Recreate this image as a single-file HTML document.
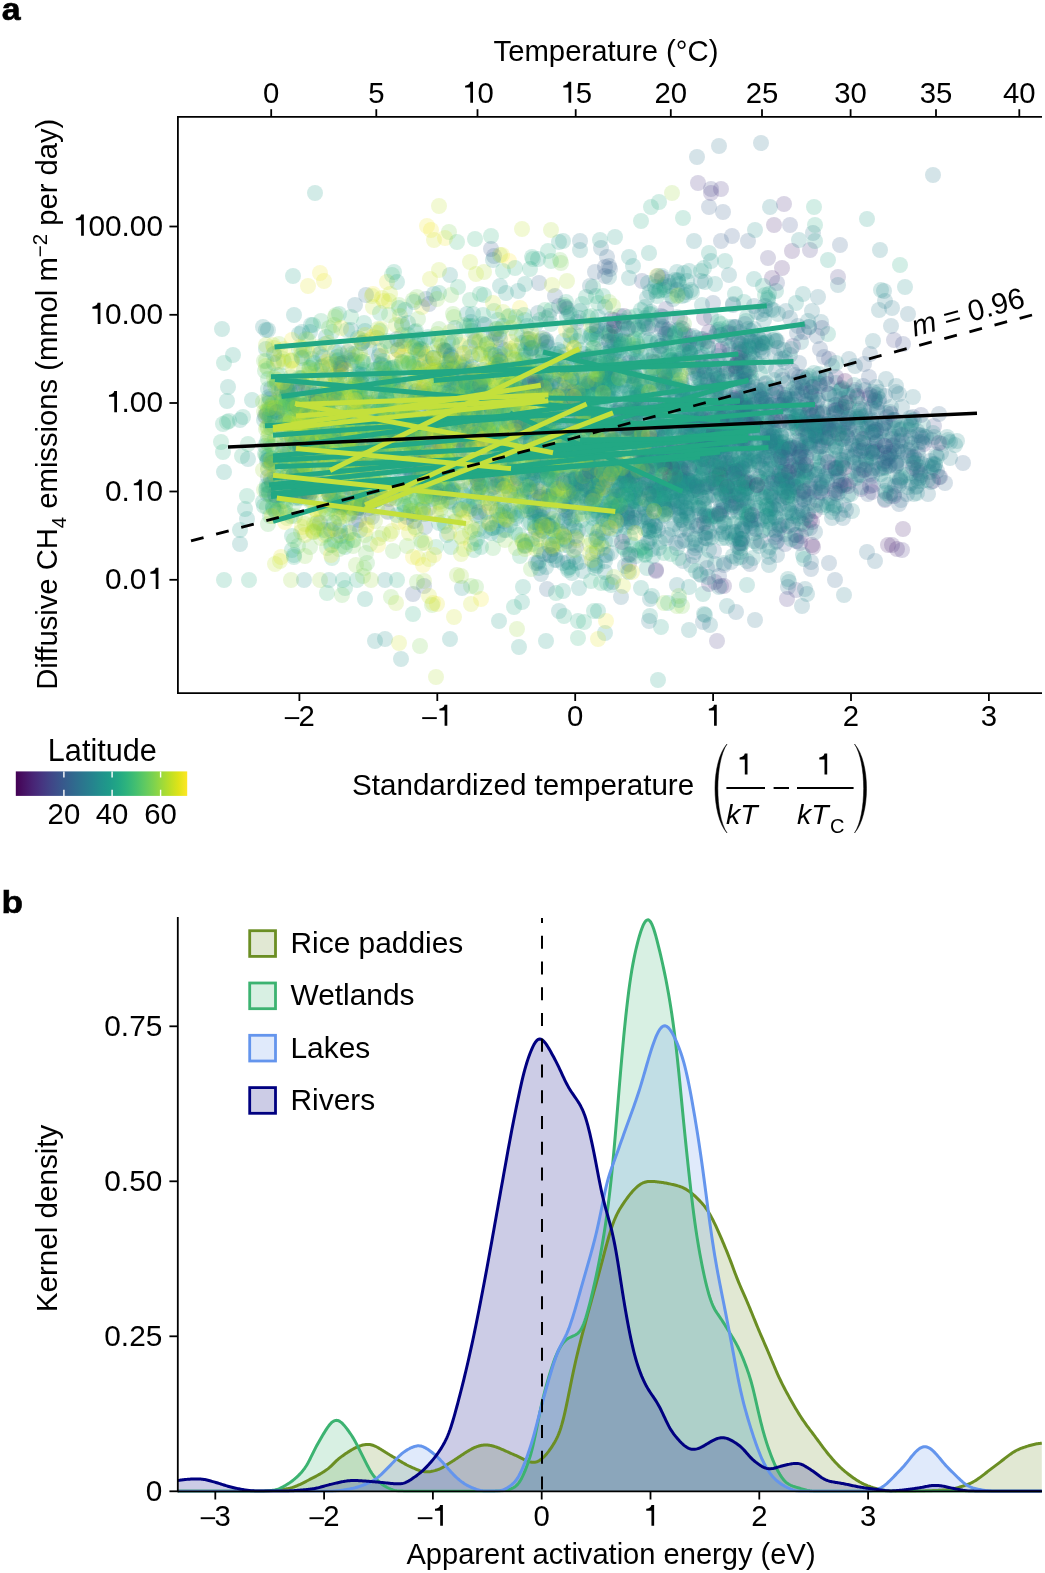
<!DOCTYPE html>
<html><head><meta charset="utf-8"><style>
html,body{margin:0;padding:0;background:#fff;}
body{width:1045px;height:1573px;position:relative;overflow:hidden;}
circle{r:8px;}
</style></head><body>
<svg width="1045" height="1573" viewBox="0 0 1045 1573" style="position:absolute;left:0;top:0;will-change:transform"><g font-family='"Liberation Sans", sans-serif' fill="#000"><text x="1.62" y="19.5" font-size="32" font-weight="bold" stroke="#000" stroke-width="0.6" transform="scale(1.06,1)">a</text><text x="1.3" y="912.8" font-size="32" font-weight="bold" stroke="#000" stroke-width="0.6" transform="scale(1.10,1)">b</text></g><defs><clipPath id="ca"><rect x="177.9" y="116.8" width="867.1" height="576.4000000000001"/></clipPath></defs><g clip-path="url(#ca)"><g fill-opacity="0.2"><g fill="#471365"><circle cx="812" cy="545" r="8"/></g><g fill="#481c6e"><circle cx="687" cy="453" r="8"/><circle cx="823" cy="414" r="8"/><circle cx="680" cy="468" r="8"/><circle cx="656" cy="403" r="8"/><circle cx="685" cy="334" r="8"/></g><g fill="#482475"><circle cx="844" cy="485" r="8"/><circle cx="801" cy="536" r="8"/><circle cx="840" cy="486" r="8"/><circle cx="815" cy="511" r="8"/></g><g fill="#463480"><circle cx="646" cy="454" r="8"/><circle cx="698" cy="183" r="8"/></g><g fill="#443b84"><circle cx="838" cy="277" r="8"/><circle cx="768" cy="258" r="8"/><circle cx="803" cy="524" r="8"/></g><g fill="#414487"><circle cx="733" cy="465" r="8"/><circle cx="803" cy="492" r="8"/></g><g fill="#3e4a89"><circle cx="684" cy="421" r="8"/><circle cx="780" cy="472" r="8"/><circle cx="934" cy="426" r="8"/></g><g fill="#3b528b"><circle cx="759" cy="477" r="8"/><circle cx="756" cy="529" r="8"/><circle cx="690" cy="424" r="8"/><circle cx="751" cy="391" r="8"/></g><g fill="#38598c"><circle cx="758" cy="462" r="8"/><circle cx="773" cy="395" r="8"/><circle cx="774" cy="462" r="8"/><circle cx="710" cy="424" r="8"/><circle cx="362" cy="343" r="8"/></g><g fill="#355f8d"><circle cx="782" cy="442" r="8"/><circle cx="713" cy="303" r="8"/><circle cx="680" cy="438" r="8"/><circle cx="445" cy="436" r="8"/><circle cx="884" cy="453" r="8"/><circle cx="745" cy="399" r="8"/><circle cx="784" cy="403" r="8"/><circle cx="340" cy="366" r="8"/><circle cx="652" cy="520" r="8"/><circle cx="779" cy="525" r="8"/><circle cx="723" cy="436" r="8"/><circle cx="826" cy="424" r="8"/><circle cx="517" cy="489" r="8"/><circle cx="612" cy="441" r="8"/><circle cx="367" cy="499" r="8"/><circle cx="490" cy="451" r="8"/><circle cx="541" cy="488" r="8"/><circle cx="683" cy="472" r="8"/></g><g fill="#31668e"><circle cx="642" cy="488" r="8"/><circle cx="779" cy="405" r="8"/><circle cx="312" cy="491" r="8"/><circle cx="652" cy="325" r="8"/><circle cx="597" cy="332" r="8"/><circle cx="581" cy="484" r="8"/><circle cx="572" cy="520" r="8"/><circle cx="356" cy="524" r="8"/><circle cx="701" cy="357" r="8"/><circle cx="876" cy="430" r="8"/><circle cx="586" cy="484" r="8"/><circle cx="849" cy="415" r="8"/><circle cx="432" cy="373" r="8"/><circle cx="705" cy="498" r="8"/><circle cx="892" cy="439" r="8"/><circle cx="768" cy="442" r="8"/><circle cx="870" cy="354" r="8"/><circle cx="578" cy="531" r="8"/></g><g fill="#2f6c8e"><circle cx="472" cy="428" r="8"/><circle cx="405" cy="473" r="8"/><circle cx="725" cy="388" r="8"/><circle cx="794" cy="468" r="8"/><circle cx="810" cy="480" r="8"/><circle cx="711" cy="359" r="8"/><circle cx="736" cy="612" r="8"/><circle cx="901" cy="500" r="8"/><circle cx="778" cy="348" r="8"/><circle cx="644" cy="514" r="8"/><circle cx="740" cy="552" r="8"/><circle cx="564" cy="407" r="8"/><circle cx="907" cy="441" r="8"/><circle cx="519" cy="390" r="8"/><circle cx="557" cy="474" r="8"/><circle cx="806" cy="435" r="8"/><circle cx="676" cy="543" r="8"/><circle cx="847" cy="423" r="8"/><circle cx="402" cy="389" r="8"/><circle cx="744" cy="461" r="8"/><circle cx="738" cy="473" r="8"/><circle cx="788" cy="587" r="8"/><circle cx="746" cy="490" r="8"/><circle cx="739" cy="507" r="8"/><circle cx="702" cy="484" r="8"/></g><g fill="#2c728e"><circle cx="720" cy="513" r="8"/><circle cx="409" cy="433" r="8"/><circle cx="795" cy="375" r="8"/><circle cx="553" cy="464" r="8"/><circle cx="746" cy="438" r="8"/><circle cx="544" cy="466" r="8"/><circle cx="683" cy="561" r="8"/><circle cx="568" cy="406" r="8"/><circle cx="611" cy="337" r="8"/><circle cx="270" cy="399" r="8"/><circle cx="700" cy="392" r="8"/><circle cx="554" cy="489" r="8"/><circle cx="563" cy="506" r="8"/><circle cx="911" cy="456" r="8"/><circle cx="693" cy="490" r="8"/><circle cx="665" cy="494" r="8"/><circle cx="740" cy="399" r="8"/><circle cx="918" cy="454" r="8"/><circle cx="601" cy="417" r="8"/><circle cx="765" cy="403" r="8"/><circle cx="803" cy="408" r="8"/></g><g fill="#2a788e"><circle cx="830" cy="498" r="8"/><circle cx="762" cy="398" r="8"/><circle cx="758" cy="364" r="8"/><circle cx="890" cy="412" r="8"/><circle cx="797" cy="416" r="8"/><circle cx="895" cy="420" r="8"/><circle cx="611" cy="319" r="8"/><circle cx="872" cy="423" r="8"/><circle cx="797" cy="512" r="8"/><circle cx="614" cy="442" r="8"/><circle cx="741" cy="344" r="8"/><circle cx="855" cy="366" r="8"/><circle cx="725" cy="402" r="8"/><circle cx="752" cy="354" r="8"/><circle cx="644" cy="507" r="8"/><circle cx="775" cy="355" r="8"/><circle cx="323" cy="455" r="8"/><circle cx="775" cy="389" r="8"/><circle cx="745" cy="526" r="8"/><circle cx="885" cy="491" r="8"/><circle cx="376" cy="500" r="8"/></g><g fill="#277e8e"><circle cx="800" cy="420" r="8"/><circle cx="796" cy="424" r="8"/><circle cx="617" cy="469" r="8"/><circle cx="875" cy="401" r="8"/><circle cx="530" cy="490" r="8"/><circle cx="897" cy="449" r="8"/><circle cx="792" cy="418" r="8"/><circle cx="615" cy="430" r="8"/><circle cx="738" cy="404" r="8"/><circle cx="752" cy="420" r="8"/><circle cx="921" cy="471" r="8"/><circle cx="875" cy="400" r="8"/><circle cx="718" cy="430" r="8"/><circle cx="784" cy="491" r="8"/><circle cx="817" cy="423" r="8"/><circle cx="564" cy="521" r="8"/><circle cx="728" cy="497" r="8"/><circle cx="733" cy="400" r="8"/><circle cx="279" cy="410" r="8"/><circle cx="780" cy="476" r="8"/><circle cx="721" cy="397" r="8"/><circle cx="842" cy="439" r="8"/><circle cx="655" cy="486" r="8"/><circle cx="799" cy="454" r="8"/><circle cx="825" cy="425" r="8"/><circle cx="617" cy="526" r="8"/><circle cx="776" cy="501" r="8"/><circle cx="808" cy="512" r="8"/><circle cx="733" cy="503" r="8"/><circle cx="733" cy="540" r="8"/><circle cx="736" cy="400" r="8"/><circle cx="407" cy="399" r="8"/></g><g fill="#25848e"><circle cx="928" cy="466" r="8"/><circle cx="889" cy="454" r="8"/><circle cx="768" cy="479" r="8"/><circle cx="553" cy="549" r="8"/><circle cx="573" cy="491" r="8"/><circle cx="588" cy="426" r="8"/><circle cx="710" cy="625" r="8"/><circle cx="725" cy="459" r="8"/><circle cx="610" cy="463" r="8"/><circle cx="827" cy="393" r="8"/><circle cx="656" cy="281" r="8"/><circle cx="586" cy="464" r="8"/><circle cx="808" cy="414" r="8"/><circle cx="821" cy="440" r="8"/><circle cx="847" cy="393" r="8"/><circle cx="738" cy="414" r="8"/><circle cx="712" cy="432" r="8"/><circle cx="718" cy="378" r="8"/><circle cx="855" cy="463" r="8"/><circle cx="658" cy="463" r="8"/><circle cx="932" cy="467" r="8"/><circle cx="705" cy="533" r="8"/><circle cx="694" cy="241" r="8"/><circle cx="745" cy="483" r="8"/><circle cx="569" cy="546" r="8"/><circle cx="731" cy="504" r="8"/><circle cx="854" cy="392" r="8"/><circle cx="716" cy="479" r="8"/><circle cx="674" cy="501" r="8"/><circle cx="773" cy="310" r="8"/><circle cx="806" cy="476" r="8"/><circle cx="809" cy="327" r="8"/></g><g fill="#238a8d"><circle cx="613" cy="333" r="8"/><circle cx="841" cy="404" r="8"/><circle cx="655" cy="439" r="8"/><circle cx="443" cy="373" r="8"/><circle cx="877" cy="442" r="8"/><circle cx="778" cy="460" r="8"/><circle cx="758" cy="432" r="8"/><circle cx="767" cy="422" r="8"/><circle cx="754" cy="482" r="8"/><circle cx="647" cy="437" r="8"/><circle cx="657" cy="444" r="8"/><circle cx="708" cy="395" r="8"/><circle cx="688" cy="396" r="8"/><circle cx="392" cy="368" r="8"/><circle cx="704" cy="504" r="8"/><circle cx="663" cy="454" r="8"/><circle cx="467" cy="435" r="8"/><circle cx="728" cy="446" r="8"/><circle cx="709" cy="516" r="8"/><circle cx="860" cy="460" r="8"/><circle cx="793" cy="516" r="8"/><circle cx="781" cy="359" r="8"/><circle cx="641" cy="432" r="8"/><circle cx="747" cy="423" r="8"/><circle cx="575" cy="488" r="8"/><circle cx="711" cy="317" r="8"/><circle cx="763" cy="390" r="8"/><circle cx="491" cy="465" r="8"/><circle cx="502" cy="402" r="8"/><circle cx="857" cy="417" r="8"/><circle cx="613" cy="342" r="8"/><circle cx="723" cy="415" r="8"/><circle cx="760" cy="432" r="8"/><circle cx="732" cy="472" r="8"/><circle cx="688" cy="457" r="8"/><circle cx="690" cy="435" r="8"/><circle cx="687" cy="508" r="8"/><circle cx="471" cy="487" r="8"/><circle cx="490" cy="469" r="8"/><circle cx="567" cy="421" r="8"/><circle cx="815" cy="505" r="8"/><circle cx="605" cy="541" r="8"/><circle cx="721" cy="335" r="8"/><circle cx="853" cy="457" r="8"/><circle cx="735" cy="423" r="8"/><circle cx="605" cy="572" r="8"/><circle cx="836" cy="383" r="8"/><circle cx="530" cy="492" r="8"/><circle cx="639" cy="452" r="8"/><circle cx="596" cy="435" r="8"/><circle cx="939" cy="477" r="8"/><circle cx="738" cy="428" r="8"/><circle cx="744" cy="489" r="8"/><circle cx="632" cy="501" r="8"/></g><g fill="#21918c"><circle cx="706" cy="487" r="8"/><circle cx="711" cy="461" r="8"/><circle cx="663" cy="461" r="8"/><circle cx="542" cy="495" r="8"/><circle cx="774" cy="498" r="8"/><circle cx="765" cy="443" r="8"/><circle cx="707" cy="385" r="8"/><circle cx="620" cy="475" r="8"/><circle cx="641" cy="402" r="8"/><circle cx="549" cy="496" r="8"/><circle cx="538" cy="499" r="8"/><circle cx="615" cy="385" r="8"/><circle cx="832" cy="366" r="8"/><circle cx="767" cy="505" r="8"/><circle cx="550" cy="512" r="8"/><circle cx="673" cy="494" r="8"/><circle cx="665" cy="507" r="8"/><circle cx="672" cy="529" r="8"/><circle cx="767" cy="483" r="8"/><circle cx="661" cy="346" r="8"/><circle cx="381" cy="378" r="8"/><circle cx="495" cy="468" r="8"/><circle cx="543" cy="357" r="8"/><circle cx="691" cy="290" r="8"/><circle cx="422" cy="436" r="8"/><circle cx="724" cy="427" r="8"/><circle cx="902" cy="441" r="8"/><circle cx="385" cy="639" r="8"/><circle cx="599" cy="380" r="8"/><circle cx="321" cy="454" r="8"/><circle cx="785" cy="534" r="8"/><circle cx="695" cy="440" r="8"/><circle cx="786" cy="450" r="8"/><circle cx="746" cy="406" r="8"/><circle cx="713" cy="435" r="8"/><circle cx="702" cy="474" r="8"/><circle cx="483" cy="379" r="8"/><circle cx="600" cy="396" r="8"/><circle cx="788" cy="459" r="8"/><circle cx="468" cy="411" r="8"/><circle cx="448" cy="489" r="8"/><circle cx="843" cy="439" r="8"/><circle cx="732" cy="460" r="8"/><circle cx="597" cy="339" r="8"/><circle cx="533" cy="454" r="8"/><circle cx="508" cy="366" r="8"/><circle cx="799" cy="464" r="8"/><circle cx="559" cy="611" r="8"/><circle cx="730" cy="463" r="8"/><circle cx="705" cy="615" r="8"/><circle cx="814" cy="470" r="8"/><circle cx="803" cy="387" r="8"/><circle cx="798" cy="395" r="8"/><circle cx="492" cy="528" r="8"/><circle cx="821" cy="466" r="8"/><circle cx="555" cy="456" r="8"/><circle cx="724" cy="563" r="8"/><circle cx="549" cy="392" r="8"/><circle cx="593" cy="554" r="8"/><circle cx="842" cy="389" r="8"/><circle cx="727" cy="496" r="8"/><circle cx="737" cy="403" r="8"/><circle cx="324" cy="450" r="8"/><circle cx="729" cy="533" r="8"/><circle cx="755" cy="456" r="8"/></g><g fill="#1f968b"><circle cx="850" cy="481" r="8"/><circle cx="328" cy="454" r="8"/><circle cx="553" cy="544" r="8"/><circle cx="295" cy="408" r="8"/><circle cx="463" cy="384" r="8"/><circle cx="491" cy="412" r="8"/><circle cx="449" cy="409" r="8"/><circle cx="556" cy="489" r="8"/><circle cx="495" cy="425" r="8"/><circle cx="685" cy="428" r="8"/><circle cx="605" cy="633" r="8"/><circle cx="744" cy="500" r="8"/><circle cx="606" cy="494" r="8"/><circle cx="407" cy="442" r="8"/><circle cx="280" cy="459" r="8"/><circle cx="809" cy="376" r="8"/><circle cx="495" cy="455" r="8"/><circle cx="571" cy="489" r="8"/><circle cx="613" cy="473" r="8"/><circle cx="680" cy="479" r="8"/><circle cx="732" cy="430" r="8"/><circle cx="650" cy="398" r="8"/><circle cx="776" cy="518" r="8"/><circle cx="746" cy="445" r="8"/><circle cx="723" cy="423" r="8"/><circle cx="377" cy="499" r="8"/><circle cx="573" cy="491" r="8"/><circle cx="756" cy="486" r="8"/><circle cx="731" cy="471" r="8"/><circle cx="483" cy="324" r="8"/><circle cx="804" cy="472" r="8"/><circle cx="802" cy="422" r="8"/><circle cx="469" cy="381" r="8"/><circle cx="724" cy="368" r="8"/><circle cx="586" cy="445" r="8"/><circle cx="637" cy="440" r="8"/><circle cx="776" cy="425" r="8"/><circle cx="714" cy="436" r="8"/><circle cx="759" cy="394" r="8"/><circle cx="446" cy="462" r="8"/><circle cx="781" cy="480" r="8"/><circle cx="470" cy="509" r="8"/><circle cx="743" cy="468" r="8"/><circle cx="563" cy="444" r="8"/><circle cx="737" cy="558" r="8"/><circle cx="746" cy="512" r="8"/><circle cx="528" cy="381" r="8"/><circle cx="511" cy="472" r="8"/><circle cx="663" cy="503" r="8"/><circle cx="620" cy="316" r="8"/><circle cx="693" cy="425" r="8"/><circle cx="912" cy="444" r="8"/><circle cx="914" cy="420" r="8"/><circle cx="743" cy="437" r="8"/><circle cx="335" cy="439" r="8"/><circle cx="792" cy="513" r="8"/><circle cx="464" cy="389" r="8"/><circle cx="596" cy="510" r="8"/><circle cx="747" cy="585" r="8"/><circle cx="682" cy="480" r="8"/><circle cx="710" cy="519" r="8"/><circle cx="592" cy="410" r="8"/><circle cx="864" cy="448" r="8"/><circle cx="733" cy="417" r="8"/><circle cx="299" cy="334" r="8"/><circle cx="664" cy="502" r="8"/><circle cx="817" cy="402" r="8"/><circle cx="326" cy="337" r="8"/><circle cx="587" cy="490" r="8"/><circle cx="755" cy="489" r="8"/><circle cx="718" cy="401" r="8"/><circle cx="514" cy="512" r="8"/><circle cx="247" cy="519" r="8"/><circle cx="462" cy="413" r="8"/><circle cx="937" cy="457" r="8"/><circle cx="291" cy="462" r="8"/><circle cx="274" cy="363" r="8"/></g><g fill="#1e9c89"><circle cx="479" cy="529" r="8"/><circle cx="659" cy="490" r="8"/><circle cx="672" cy="360" r="8"/><circle cx="657" cy="416" r="8"/><circle cx="695" cy="465" r="8"/><circle cx="569" cy="387" r="8"/><circle cx="683" cy="389" r="8"/><circle cx="800" cy="455" r="8"/><circle cx="749" cy="461" r="8"/><circle cx="707" cy="513" r="8"/><circle cx="657" cy="416" r="8"/><circle cx="665" cy="427" r="8"/><circle cx="675" cy="390" r="8"/><circle cx="803" cy="480" r="8"/><circle cx="626" cy="478" r="8"/><circle cx="548" cy="424" r="8"/><circle cx="635" cy="472" r="8"/><circle cx="706" cy="421" r="8"/><circle cx="679" cy="359" r="8"/><circle cx="652" cy="447" r="8"/><circle cx="752" cy="444" r="8"/><circle cx="335" cy="376" r="8"/><circle cx="602" cy="483" r="8"/><circle cx="424" cy="387" r="8"/><circle cx="584" cy="507" r="8"/><circle cx="569" cy="406" r="8"/><circle cx="694" cy="486" r="8"/><circle cx="603" cy="454" r="8"/><circle cx="674" cy="446" r="8"/><circle cx="792" cy="497" r="8"/><circle cx="658" cy="498" r="8"/><circle cx="339" cy="469" r="8"/><circle cx="570" cy="325" r="8"/><circle cx="590" cy="492" r="8"/><circle cx="760" cy="373" r="8"/><circle cx="651" cy="538" r="8"/><circle cx="769" cy="477" r="8"/><circle cx="517" cy="351" r="8"/><circle cx="641" cy="354" r="8"/><circle cx="347" cy="453" r="8"/><circle cx="616" cy="411" r="8"/><circle cx="672" cy="502" r="8"/><circle cx="308" cy="457" r="8"/><circle cx="569" cy="498" r="8"/><circle cx="760" cy="340" r="8"/><circle cx="722" cy="427" r="8"/><circle cx="734" cy="479" r="8"/><circle cx="466" cy="418" r="8"/><circle cx="539" cy="437" r="8"/><circle cx="651" cy="436" r="8"/><circle cx="228" cy="387" r="8"/><circle cx="692" cy="497" r="8"/><circle cx="353" cy="406" r="8"/><circle cx="606" cy="492" r="8"/><circle cx="736" cy="465" r="8"/><circle cx="622" cy="519" r="8"/><circle cx="557" cy="492" r="8"/><circle cx="737" cy="470" r="8"/><circle cx="644" cy="406" r="8"/><circle cx="784" cy="487" r="8"/></g><g fill="#1fa287"><circle cx="491" cy="503" r="8"/><circle cx="499" cy="425" r="8"/><circle cx="661" cy="627" r="8"/><circle cx="424" cy="393" r="8"/><circle cx="549" cy="421" r="8"/><circle cx="579" cy="483" r="8"/><circle cx="635" cy="433" r="8"/><circle cx="538" cy="563" r="8"/><circle cx="304" cy="448" r="8"/><circle cx="703" cy="339" r="8"/><circle cx="607" cy="497" r="8"/><circle cx="388" cy="435" r="8"/><circle cx="775" cy="339" r="8"/><circle cx="524" cy="432" r="8"/><circle cx="400" cy="437" r="8"/><circle cx="492" cy="391" r="8"/><circle cx="477" cy="479" r="8"/><circle cx="748" cy="519" r="8"/><circle cx="346" cy="507" r="8"/><circle cx="485" cy="531" r="8"/><circle cx="534" cy="370" r="8"/><circle cx="606" cy="440" r="8"/><circle cx="653" cy="496" r="8"/><circle cx="661" cy="351" r="8"/><circle cx="757" cy="421" r="8"/><circle cx="501" cy="411" r="8"/><circle cx="699" cy="455" r="8"/><circle cx="726" cy="494" r="8"/><circle cx="630" cy="475" r="8"/><circle cx="372" cy="429" r="8"/><circle cx="598" cy="386" r="8"/><circle cx="533" cy="429" r="8"/><circle cx="527" cy="542" r="8"/><circle cx="741" cy="400" r="8"/><circle cx="554" cy="378" r="8"/><circle cx="496" cy="496" r="8"/><circle cx="621" cy="439" r="8"/><circle cx="599" cy="421" r="8"/><circle cx="536" cy="324" r="8"/><circle cx="586" cy="406" r="8"/><circle cx="435" cy="376" r="8"/><circle cx="664" cy="401" r="8"/><circle cx="488" cy="432" r="8"/><circle cx="526" cy="432" r="8"/><circle cx="556" cy="470" r="8"/><circle cx="268" cy="469" r="8"/><circle cx="645" cy="529" r="8"/><circle cx="685" cy="456" r="8"/><circle cx="522" cy="602" r="8"/><circle cx="283" cy="419" r="8"/><circle cx="360" cy="493" r="8"/><circle cx="656" cy="436" r="8"/><circle cx="617" cy="381" r="8"/><circle cx="350" cy="393" r="8"/><circle cx="381" cy="449" r="8"/><circle cx="523" cy="396" r="8"/><circle cx="459" cy="440" r="8"/><circle cx="595" cy="565" r="8"/><circle cx="604" cy="390" r="8"/></g><g fill="#22a884"><circle cx="501" cy="392" r="8"/><circle cx="568" cy="457" r="8"/><circle cx="749" cy="377" r="8"/><circle cx="502" cy="452" r="8"/><circle cx="645" cy="555" r="8"/><circle cx="664" cy="459" r="8"/><circle cx="425" cy="493" r="8"/><circle cx="269" cy="417" r="8"/><circle cx="712" cy="457" r="8"/><circle cx="371" cy="414" r="8"/><circle cx="542" cy="435" r="8"/><circle cx="691" cy="503" r="8"/><circle cx="664" cy="456" r="8"/><circle cx="609" cy="511" r="8"/><circle cx="309" cy="439" r="8"/><circle cx="564" cy="405" r="8"/><circle cx="637" cy="358" r="8"/><circle cx="364" cy="341" r="8"/><circle cx="392" cy="381" r="8"/><circle cx="678" cy="465" r="8"/><circle cx="641" cy="221" r="8"/><circle cx="478" cy="491" r="8"/><circle cx="601" cy="374" r="8"/><circle cx="554" cy="354" r="8"/><circle cx="683" cy="350" r="8"/><circle cx="539" cy="449" r="8"/><circle cx="485" cy="375" r="8"/><circle cx="548" cy="412" r="8"/><circle cx="639" cy="330" r="8"/><circle cx="639" cy="510" r="8"/><circle cx="669" cy="343" r="8"/><circle cx="417" cy="499" r="8"/><circle cx="628" cy="438" r="8"/><circle cx="459" cy="474" r="8"/><circle cx="556" cy="455" r="8"/><circle cx="624" cy="411" r="8"/></g><g fill="#28ae80"><circle cx="651" cy="495" r="8"/><circle cx="531" cy="349" r="8"/><circle cx="575" cy="462" r="8"/><circle cx="515" cy="494" r="8"/><circle cx="514" cy="415" r="8"/><circle cx="441" cy="439" r="8"/><circle cx="598" cy="396" r="8"/><circle cx="698" cy="387" r="8"/><circle cx="593" cy="353" r="8"/><circle cx="524" cy="384" r="8"/><circle cx="484" cy="335" r="8"/><circle cx="452" cy="379" r="8"/><circle cx="338" cy="473" r="8"/><circle cx="602" cy="382" r="8"/><circle cx="581" cy="475" r="8"/><circle cx="425" cy="340" r="8"/><circle cx="415" cy="380" r="8"/><circle cx="420" cy="434" r="8"/><circle cx="551" cy="442" r="8"/><circle cx="294" cy="491" r="8"/><circle cx="442" cy="404" r="8"/><circle cx="591" cy="581" r="8"/><circle cx="490" cy="406" r="8"/><circle cx="587" cy="357" r="8"/><circle cx="695" cy="456" r="8"/><circle cx="242" cy="456" r="8"/><circle cx="515" cy="433" r="8"/><circle cx="548" cy="424" r="8"/><circle cx="269" cy="493" r="8"/><circle cx="630" cy="393" r="8"/><circle cx="405" cy="507" r="8"/><circle cx="308" cy="433" r="8"/><circle cx="223" cy="452" r="8"/><circle cx="543" cy="350" r="8"/><circle cx="360" cy="374" r="8"/><circle cx="432" cy="421" r="8"/><circle cx="334" cy="497" r="8"/><circle cx="607" cy="396" r="8"/><circle cx="591" cy="380" r="8"/><circle cx="598" cy="500" r="8"/><circle cx="602" cy="387" r="8"/><circle cx="575" cy="528" r="8"/><circle cx="516" cy="317" r="8"/><circle cx="603" cy="519" r="8"/></g><g fill="#2fb47c"><circle cx="271" cy="458" r="8"/><circle cx="480" cy="294" r="8"/><circle cx="265" cy="446" r="8"/><circle cx="599" cy="486" r="8"/><circle cx="482" cy="406" r="8"/><circle cx="307" cy="419" r="8"/><circle cx="532" cy="451" r="8"/><circle cx="443" cy="496" r="8"/><circle cx="639" cy="498" r="8"/><circle cx="312" cy="359" r="8"/><circle cx="517" cy="516" r="8"/><circle cx="574" cy="526" r="8"/><circle cx="357" cy="363" r="8"/><circle cx="528" cy="408" r="8"/><circle cx="350" cy="407" r="8"/><circle cx="549" cy="467" r="8"/><circle cx="458" cy="287" r="8"/><circle cx="560" cy="376" r="8"/><circle cx="390" cy="403" r="8"/><circle cx="443" cy="493" r="8"/><circle cx="508" cy="464" r="8"/><circle cx="554" cy="464" r="8"/><circle cx="347" cy="542" r="8"/><circle cx="445" cy="487" r="8"/></g><g fill="#38b977"><circle cx="414" cy="347" r="8"/><circle cx="328" cy="448" r="8"/><circle cx="425" cy="423" r="8"/><circle cx="388" cy="375" r="8"/><circle cx="417" cy="448" r="8"/><circle cx="301" cy="406" r="8"/><circle cx="290" cy="451" r="8"/><circle cx="351" cy="317" r="8"/><circle cx="453" cy="427" r="8"/><circle cx="447" cy="492" r="8"/><circle cx="270" cy="516" r="8"/><circle cx="350" cy="440" r="8"/><circle cx="318" cy="449" r="8"/></g><g fill="#44bf70"><circle cx="281" cy="481" r="8"/><circle cx="564" cy="305" r="8"/><circle cx="554" cy="501" r="8"/><circle cx="463" cy="374" r="8"/><circle cx="285" cy="421" r="8"/><circle cx="391" cy="446" r="8"/></g><g fill="#50c46a"><circle cx="271" cy="425" r="8"/></g><g fill="#5ec962"><circle cx="357" cy="465" r="8"/><circle cx="271" cy="444" r="8"/><circle cx="354" cy="540" r="8"/><circle cx="273" cy="506" r="8"/><circle cx="420" cy="463" r="8"/><circle cx="284" cy="362" r="8"/><circle cx="353" cy="540" r="8"/><circle cx="409" cy="427" r="8"/><circle cx="463" cy="367" r="8"/><circle cx="407" cy="339" r="8"/><circle cx="548" cy="451" r="8"/></g><g fill="#6ccd5a"><circle cx="357" cy="501" r="8"/><circle cx="436" cy="392" r="8"/><circle cx="332" cy="480" r="8"/><circle cx="560" cy="260" r="8"/><circle cx="513" cy="414" r="8"/><circle cx="439" cy="329" r="8"/><circle cx="277" cy="477" r="8"/><circle cx="276" cy="500" r="8"/><circle cx="464" cy="404" r="8"/><circle cx="483" cy="418" r="8"/><circle cx="266" cy="455" r="8"/><circle cx="466" cy="472" r="8"/><circle cx="455" cy="505" r="8"/><circle cx="359" cy="389" r="8"/><circle cx="631" cy="381" r="8"/><circle cx="440" cy="342" r="8"/><circle cx="272" cy="484" r="8"/></g><g fill="#7ad151"><circle cx="549" cy="490" r="8"/><circle cx="523" cy="356" r="8"/><circle cx="340" cy="420" r="8"/><circle cx="507" cy="410" r="8"/><circle cx="430" cy="364" r="8"/><circle cx="534" cy="340" r="8"/><circle cx="516" cy="443" r="8"/><circle cx="298" cy="497" r="8"/><circle cx="355" cy="385" r="8"/><circle cx="399" cy="305" r="8"/><circle cx="547" cy="386" r="8"/><circle cx="609" cy="335" r="8"/><circle cx="367" cy="430" r="8"/><circle cx="463" cy="443" r="8"/><circle cx="451" cy="295" r="8"/><circle cx="441" cy="485" r="8"/><circle cx="478" cy="502" r="8"/><circle cx="452" cy="474" r="8"/><circle cx="489" cy="482" r="8"/><circle cx="420" cy="496" r="8"/><circle cx="312" cy="381" r="8"/></g><g fill="#8bd646"><circle cx="349" cy="358" r="8"/><circle cx="572" cy="455" r="8"/><circle cx="394" cy="450" r="8"/><circle cx="412" cy="412" r="8"/><circle cx="636" cy="403" r="8"/><circle cx="448" cy="396" r="8"/><circle cx="550" cy="437" r="8"/><circle cx="308" cy="435" r="8"/><circle cx="396" cy="462" r="8"/><circle cx="305" cy="469" r="8"/><circle cx="459" cy="424" r="8"/><circle cx="398" cy="417" r="8"/><circle cx="282" cy="501" r="8"/><circle cx="304" cy="357" r="8"/><circle cx="607" cy="374" r="8"/><circle cx="655" cy="362" r="8"/><circle cx="354" cy="458" r="8"/><circle cx="284" cy="512" r="8"/><circle cx="683" cy="477" r="8"/><circle cx="402" cy="335" r="8"/><circle cx="422" cy="350" r="8"/><circle cx="523" cy="502" r="8"/><circle cx="361" cy="434" r="8"/><circle cx="313" cy="532" r="8"/><circle cx="311" cy="416" r="8"/><circle cx="354" cy="361" r="8"/><circle cx="287" cy="518" r="8"/><circle cx="422" cy="474" r="8"/><circle cx="279" cy="344" r="8"/></g><g fill="#9bd93c"><circle cx="450" cy="443" r="8"/><circle cx="575" cy="516" r="8"/><circle cx="538" cy="429" r="8"/><circle cx="414" cy="403" r="8"/><circle cx="523" cy="422" r="8"/><circle cx="515" cy="474" r="8"/><circle cx="368" cy="517" r="8"/><circle cx="598" cy="489" r="8"/><circle cx="266" cy="416" r="8"/><circle cx="277" cy="380" r="8"/><circle cx="554" cy="369" r="8"/><circle cx="411" cy="483" r="8"/><circle cx="426" cy="371" r="8"/><circle cx="312" cy="414" r="8"/><circle cx="552" cy="469" r="8"/><circle cx="271" cy="465" r="8"/><circle cx="330" cy="408" r="8"/><circle cx="551" cy="428" r="8"/><circle cx="480" cy="486" r="8"/><circle cx="404" cy="450" r="8"/><circle cx="522" cy="540" r="8"/><circle cx="299" cy="382" r="8"/><circle cx="638" cy="346" r="8"/><circle cx="385" cy="485" r="8"/><circle cx="517" cy="629" r="8"/><circle cx="476" cy="378" r="8"/><circle cx="301" cy="532" r="8"/><circle cx="418" cy="374" r="8"/></g><g fill="#addc30"><circle cx="391" cy="399" r="8"/><circle cx="367" cy="394" r="8"/><circle cx="568" cy="492" r="8"/><circle cx="574" cy="378" r="8"/><circle cx="520" cy="500" r="8"/><circle cx="464" cy="441" r="8"/><circle cx="419" cy="399" r="8"/><circle cx="415" cy="448" r="8"/><circle cx="588" cy="473" r="8"/><circle cx="415" cy="445" r="8"/><circle cx="328" cy="387" r="8"/><circle cx="404" cy="425" r="8"/><circle cx="584" cy="418" r="8"/><circle cx="386" cy="425" r="8"/><circle cx="419" cy="372" r="8"/><circle cx="315" cy="444" r="8"/><circle cx="344" cy="470" r="8"/><circle cx="311" cy="402" r="8"/><circle cx="471" cy="439" r="8"/><circle cx="574" cy="438" r="8"/><circle cx="556" cy="432" r="8"/></g><g fill="#bddf26"><circle cx="528" cy="431" r="8"/><circle cx="332" cy="443" r="8"/><circle cx="280" cy="561" r="8"/><circle cx="599" cy="474" r="8"/><circle cx="562" cy="534" r="8"/><circle cx="468" cy="382" r="8"/><circle cx="302" cy="378" r="8"/><circle cx="382" cy="498" r="8"/><circle cx="309" cy="397" r="8"/><circle cx="398" cy="381" r="8"/><circle cx="548" cy="374" r="8"/><circle cx="289" cy="396" r="8"/><circle cx="469" cy="433" r="8"/><circle cx="574" cy="472" r="8"/><circle cx="502" cy="441" r="8"/><circle cx="491" cy="342" r="8"/><circle cx="551" cy="449" r="8"/><circle cx="412" cy="358" r="8"/><circle cx="552" cy="529" r="8"/><circle cx="483" cy="350" r="8"/><circle cx="305" cy="474" r="8"/><circle cx="390" cy="389" r="8"/><circle cx="622" cy="468" r="8"/><circle cx="512" cy="351" r="8"/><circle cx="552" cy="434" r="8"/></g><g fill="#cde11d"><circle cx="358" cy="508" r="8"/><circle cx="380" cy="466" r="8"/><circle cx="424" cy="456" r="8"/><circle cx="506" cy="486" r="8"/><circle cx="446" cy="418" r="8"/><circle cx="452" cy="456" r="8"/><circle cx="591" cy="477" r="8"/><circle cx="411" cy="442" r="8"/><circle cx="345" cy="380" r="8"/><circle cx="350" cy="455" r="8"/><circle cx="284" cy="434" r="8"/><circle cx="438" cy="457" r="8"/><circle cx="582" cy="455" r="8"/><circle cx="472" cy="435" r="8"/><circle cx="339" cy="433" r="8"/><circle cx="396" cy="499" r="8"/><circle cx="447" cy="449" r="8"/><circle cx="588" cy="446" r="8"/><circle cx="325" cy="463" r="8"/><circle cx="266" cy="366" r="8"/><circle cx="447" cy="446" r="8"/><circle cx="371" cy="427" r="8"/></g><g fill="#dfe318"><circle cx="358" cy="426" r="8"/><circle cx="490" cy="463" r="8"/><circle cx="560" cy="544" r="8"/><circle cx="406" cy="444" r="8"/><circle cx="576" cy="538" r="8"/><circle cx="448" cy="464" r="8"/><circle cx="556" cy="449" r="8"/><circle cx="615" cy="477" r="8"/><circle cx="408" cy="410" r="8"/><circle cx="284" cy="349" r="8"/><circle cx="361" cy="464" r="8"/><circle cx="598" cy="490" r="8"/><circle cx="433" cy="452" r="8"/><circle cx="592" cy="475" r="8"/><circle cx="348" cy="483" r="8"/><circle cx="345" cy="461" r="8"/><circle cx="282" cy="400" r="8"/><circle cx="325" cy="535" r="8"/><circle cx="571" cy="344" r="8"/><circle cx="488" cy="503" r="8"/><circle cx="582" cy="419" r="8"/><circle cx="291" cy="400" r="8"/><circle cx="561" cy="395" r="8"/><circle cx="411" cy="511" r="8"/><circle cx="422" cy="307" r="8"/></g><g fill="#efe51c"><circle cx="361" cy="462" r="8"/><circle cx="445" cy="238" r="8"/><circle cx="394" cy="421" r="8"/><circle cx="565" cy="355" r="8"/><circle cx="485" cy="415" r="8"/><circle cx="307" cy="410" r="8"/><circle cx="462" cy="538" r="8"/><circle cx="525" cy="546" r="8"/><circle cx="303" cy="417" r="8"/><circle cx="520" cy="308" r="8"/><circle cx="331" cy="388" r="8"/><circle cx="455" cy="521" r="8"/><circle cx="399" cy="426" r="8"/></g><g fill="#fde725"><circle cx="459" cy="397" r="8"/></g><g fill="#481c6e"><circle cx="888" cy="545" r="8"/><circle cx="642" cy="407" r="8"/><circle cx="835" cy="468" r="8"/></g><g fill="#472d7b"><circle cx="847" cy="436" r="8"/><circle cx="914" cy="457" r="8"/><circle cx="924" cy="444" r="8"/><circle cx="835" cy="493" r="8"/><circle cx="743" cy="409" r="8"/><circle cx="864" cy="410" r="8"/><circle cx="741" cy="352" r="8"/></g><g fill="#463480"><circle cx="716" cy="393" r="8"/><circle cx="869" cy="398" r="8"/><circle cx="940" cy="477" r="8"/><circle cx="676" cy="463" r="8"/></g><g fill="#443b84"><circle cx="680" cy="319" r="8"/><circle cx="718" cy="403" r="8"/><circle cx="810" cy="488" r="8"/><circle cx="792" cy="490" r="8"/><circle cx="629" cy="564" r="8"/></g><g fill="#414487"><circle cx="667" cy="330" r="8"/><circle cx="841" cy="460" r="8"/></g><g fill="#3e4a89"><circle cx="747" cy="449" r="8"/><circle cx="814" cy="428" r="8"/><circle cx="749" cy="411" r="8"/></g><g fill="#3b528b"><circle cx="648" cy="453" r="8"/><circle cx="777" cy="541" r="8"/></g><g fill="#38598c"><circle cx="762" cy="468" r="8"/><circle cx="810" cy="528" r="8"/><circle cx="877" cy="441" r="8"/><circle cx="918" cy="435" r="8"/><circle cx="658" cy="276" r="8"/><circle cx="908" cy="450" r="8"/><circle cx="869" cy="377" r="8"/><circle cx="841" cy="399" r="8"/><circle cx="822" cy="488" r="8"/><circle cx="766" cy="493" r="8"/><circle cx="662" cy="438" r="8"/><circle cx="732" cy="236" r="8"/></g><g fill="#355f8d"><circle cx="610" cy="509" r="8"/><circle cx="822" cy="493" r="8"/><circle cx="739" cy="343" r="8"/><circle cx="638" cy="439" r="8"/><circle cx="682" cy="387" r="8"/><circle cx="398" cy="350" r="8"/><circle cx="509" cy="480" r="8"/><circle cx="699" cy="508" r="8"/><circle cx="675" cy="398" r="8"/><circle cx="559" cy="306" r="8"/><circle cx="900" cy="481" r="8"/><circle cx="748" cy="336" r="8"/><circle cx="863" cy="386" r="8"/><circle cx="631" cy="522" r="8"/><circle cx="515" cy="430" r="8"/><circle cx="527" cy="339" r="8"/><circle cx="913" cy="417" r="8"/><circle cx="826" cy="440" r="8"/></g><g fill="#31668e"><circle cx="779" cy="529" r="8"/><circle cx="809" cy="497" r="8"/><circle cx="292" cy="438" r="8"/><circle cx="764" cy="337" r="8"/><circle cx="372" cy="453" r="8"/><circle cx="547" cy="589" r="8"/><circle cx="882" cy="468" r="8"/><circle cx="716" cy="453" r="8"/><circle cx="829" cy="394" r="8"/><circle cx="687" cy="529" r="8"/><circle cx="426" cy="299" r="8"/><circle cx="728" cy="346" r="8"/><circle cx="727" cy="430" r="8"/><circle cx="358" cy="508" r="8"/><circle cx="774" cy="434" r="8"/><circle cx="723" cy="510" r="8"/><circle cx="502" cy="371" r="8"/><circle cx="367" cy="403" r="8"/><circle cx="798" cy="446" r="8"/><circle cx="656" cy="411" r="8"/><circle cx="578" cy="417" r="8"/><circle cx="847" cy="457" r="8"/><circle cx="429" cy="508" r="8"/><circle cx="835" cy="580" r="8"/><circle cx="799" cy="363" r="8"/><circle cx="300" cy="489" r="8"/><circle cx="661" cy="320" r="8"/></g><g fill="#2f6c8e"><circle cx="606" cy="369" r="8"/><circle cx="836" cy="446" r="8"/><circle cx="859" cy="411" r="8"/><circle cx="575" cy="387" r="8"/><circle cx="690" cy="481" r="8"/><circle cx="645" cy="509" r="8"/><circle cx="592" cy="426" r="8"/><circle cx="688" cy="481" r="8"/><circle cx="728" cy="467" r="8"/><circle cx="425" cy="527" r="8"/><circle cx="557" cy="560" r="8"/><circle cx="730" cy="486" r="8"/><circle cx="709" cy="532" r="8"/><circle cx="819" cy="483" r="8"/><circle cx="734" cy="431" r="8"/><circle cx="586" cy="476" r="8"/><circle cx="748" cy="482" r="8"/></g><g fill="#2c728e"><circle cx="576" cy="392" r="8"/><circle cx="785" cy="358" r="8"/><circle cx="777" cy="555" r="8"/><circle cx="267" cy="494" r="8"/><circle cx="754" cy="396" r="8"/><circle cx="351" cy="457" r="8"/><circle cx="911" cy="437" r="8"/><circle cx="764" cy="487" r="8"/><circle cx="643" cy="483" r="8"/><circle cx="795" cy="399" r="8"/><circle cx="485" cy="325" r="8"/><circle cx="719" cy="146" r="8"/><circle cx="797" cy="393" r="8"/><circle cx="613" cy="582" r="8"/><circle cx="466" cy="362" r="8"/><circle cx="557" cy="423" r="8"/><circle cx="612" cy="474" r="8"/><circle cx="917" cy="431" r="8"/><circle cx="705" cy="516" r="8"/><circle cx="842" cy="409" r="8"/><circle cx="899" cy="463" r="8"/></g><g fill="#2a788e"><circle cx="888" cy="485" r="8"/><circle cx="418" cy="410" r="8"/><circle cx="876" cy="462" r="8"/><circle cx="658" cy="530" r="8"/><circle cx="541" cy="574" r="8"/><circle cx="883" cy="445" r="8"/><circle cx="926" cy="437" r="8"/><circle cx="490" cy="468" r="8"/><circle cx="902" cy="407" r="8"/><circle cx="505" cy="388" r="8"/><circle cx="736" cy="377" r="8"/><circle cx="362" cy="378" r="8"/><circle cx="333" cy="496" r="8"/><circle cx="627" cy="514" r="8"/><circle cx="569" cy="512" r="8"/><circle cx="715" cy="449" r="8"/></g><g fill="#277e8e"><circle cx="452" cy="491" r="8"/><circle cx="738" cy="416" r="8"/><circle cx="820" cy="384" r="8"/><circle cx="751" cy="483" r="8"/><circle cx="575" cy="394" r="8"/><circle cx="750" cy="467" r="8"/><circle cx="734" cy="506" r="8"/><circle cx="597" cy="366" r="8"/><circle cx="789" cy="453" r="8"/><circle cx="871" cy="434" r="8"/><circle cx="865" cy="416" r="8"/><circle cx="658" cy="523" r="8"/><circle cx="847" cy="452" r="8"/><circle cx="505" cy="350" r="8"/><circle cx="716" cy="410" r="8"/><circle cx="498" cy="366" r="8"/><circle cx="919" cy="442" r="8"/><circle cx="818" cy="434" r="8"/><circle cx="873" cy="341" r="8"/><circle cx="615" cy="491" r="8"/><circle cx="917" cy="460" r="8"/><circle cx="853" cy="471" r="8"/><circle cx="528" cy="426" r="8"/><circle cx="808" cy="423" r="8"/></g><g fill="#25848e"><circle cx="677" cy="462" r="8"/><circle cx="844" cy="505" r="8"/><circle cx="761" cy="520" r="8"/><circle cx="802" cy="448" r="8"/><circle cx="920" cy="478" r="8"/><circle cx="753" cy="426" r="8"/><circle cx="740" cy="440" r="8"/><circle cx="566" cy="504" r="8"/><circle cx="884" cy="464" r="8"/><circle cx="628" cy="516" r="8"/><circle cx="725" cy="468" r="8"/><circle cx="327" cy="433" r="8"/><circle cx="742" cy="524" r="8"/><circle cx="624" cy="461" r="8"/><circle cx="950" cy="442" r="8"/><circle cx="885" cy="467" r="8"/><circle cx="836" cy="422" r="8"/><circle cx="698" cy="419" r="8"/><circle cx="564" cy="534" r="8"/><circle cx="664" cy="516" r="8"/><circle cx="801" cy="342" r="8"/><circle cx="650" cy="599" r="8"/><circle cx="753" cy="434" r="8"/></g><g fill="#238a8d"><circle cx="530" cy="509" r="8"/><circle cx="674" cy="506" r="8"/><circle cx="380" cy="431" r="8"/><circle cx="800" cy="490" r="8"/><circle cx="735" cy="419" r="8"/><circle cx="764" cy="444" r="8"/><circle cx="678" cy="281" r="8"/><circle cx="690" cy="534" r="8"/><circle cx="476" cy="515" r="8"/><circle cx="789" cy="415" r="8"/><circle cx="309" cy="404" r="8"/><circle cx="726" cy="447" r="8"/><circle cx="668" cy="390" r="8"/><circle cx="644" cy="385" r="8"/><circle cx="732" cy="434" r="8"/><circle cx="659" cy="419" r="8"/><circle cx="665" cy="463" r="8"/><circle cx="712" cy="393" r="8"/><circle cx="697" cy="400" r="8"/><circle cx="673" cy="299" r="8"/><circle cx="776" cy="510" r="8"/><circle cx="710" cy="443" r="8"/><circle cx="614" cy="441" r="8"/><circle cx="857" cy="398" r="8"/><circle cx="749" cy="452" r="8"/><circle cx="501" cy="362" r="8"/><circle cx="526" cy="418" r="8"/><circle cx="583" cy="395" r="8"/><circle cx="360" cy="444" r="8"/><circle cx="672" cy="450" r="8"/><circle cx="882" cy="428" r="8"/><circle cx="644" cy="461" r="8"/><circle cx="817" cy="412" r="8"/><circle cx="715" cy="564" r="8"/><circle cx="907" cy="426" r="8"/><circle cx="536" cy="511" r="8"/><circle cx="697" cy="410" r="8"/><circle cx="429" cy="481" r="8"/><circle cx="639" cy="498" r="8"/><circle cx="911" cy="473" r="8"/><circle cx="377" cy="338" r="8"/><circle cx="410" cy="469" r="8"/><circle cx="543" cy="518" r="8"/><circle cx="870" cy="458" r="8"/><circle cx="599" cy="530" r="8"/><circle cx="638" cy="436" r="8"/><circle cx="783" cy="498" r="8"/><circle cx="599" cy="514" r="8"/><circle cx="792" cy="480" r="8"/><circle cx="822" cy="481" r="8"/><circle cx="456" cy="388" r="8"/><circle cx="639" cy="371" r="8"/><circle cx="717" cy="471" r="8"/><circle cx="493" cy="402" r="8"/><circle cx="794" cy="388" r="8"/><circle cx="913" cy="464" r="8"/><circle cx="827" cy="479" r="8"/><circle cx="766" cy="403" r="8"/></g><g fill="#21918c"><circle cx="595" cy="563" r="8"/><circle cx="673" cy="362" r="8"/><circle cx="637" cy="412" r="8"/><circle cx="885" cy="423" r="8"/><circle cx="550" cy="555" r="8"/><circle cx="797" cy="416" r="8"/><circle cx="788" cy="473" r="8"/><circle cx="288" cy="460" r="8"/><circle cx="890" cy="465" r="8"/><circle cx="810" cy="443" r="8"/><circle cx="614" cy="399" r="8"/><circle cx="597" cy="551" r="8"/><circle cx="893" cy="420" r="8"/><circle cx="757" cy="422" r="8"/><circle cx="434" cy="294" r="8"/><circle cx="525" cy="471" r="8"/><circle cx="733" cy="556" r="8"/><circle cx="597" cy="429" r="8"/><circle cx="665" cy="436" r="8"/><circle cx="691" cy="565" r="8"/><circle cx="697" cy="427" r="8"/><circle cx="745" cy="406" r="8"/><circle cx="592" cy="339" r="8"/><circle cx="761" cy="400" r="8"/><circle cx="573" cy="391" r="8"/><circle cx="782" cy="376" r="8"/><circle cx="897" cy="477" r="8"/><circle cx="570" cy="504" r="8"/><circle cx="650" cy="292" r="8"/><circle cx="320" cy="433" r="8"/><circle cx="817" cy="430" r="8"/><circle cx="327" cy="404" r="8"/><circle cx="727" cy="463" r="8"/><circle cx="505" cy="471" r="8"/><circle cx="582" cy="452" r="8"/><circle cx="579" cy="391" r="8"/><circle cx="451" cy="382" r="8"/><circle cx="796" cy="420" r="8"/><circle cx="343" cy="505" r="8"/><circle cx="691" cy="514" r="8"/><circle cx="701" cy="384" r="8"/><circle cx="835" cy="413" r="8"/><circle cx="788" cy="482" r="8"/><circle cx="368" cy="458" r="8"/><circle cx="801" cy="467" r="8"/><circle cx="605" cy="440" r="8"/><circle cx="597" cy="516" r="8"/><circle cx="798" cy="479" r="8"/><circle cx="782" cy="525" r="8"/><circle cx="624" cy="485" r="8"/><circle cx="806" cy="380" r="8"/><circle cx="506" cy="402" r="8"/><circle cx="679" cy="406" r="8"/><circle cx="747" cy="519" r="8"/><circle cx="797" cy="428" r="8"/><circle cx="510" cy="525" r="8"/><circle cx="782" cy="484" r="8"/><circle cx="603" cy="475" r="8"/><circle cx="565" cy="366" r="8"/><circle cx="562" cy="371" r="8"/><circle cx="450" cy="356" r="8"/></g><g fill="#1f968b"><circle cx="500" cy="520" r="8"/><circle cx="701" cy="479" r="8"/><circle cx="552" cy="467" r="8"/><circle cx="556" cy="472" r="8"/><circle cx="473" cy="385" r="8"/><circle cx="681" cy="494" r="8"/><circle cx="706" cy="371" r="8"/><circle cx="572" cy="379" r="8"/><circle cx="387" cy="448" r="8"/><circle cx="839" cy="471" r="8"/><circle cx="743" cy="453" r="8"/><circle cx="499" cy="442" r="8"/><circle cx="688" cy="355" r="8"/><circle cx="678" cy="481" r="8"/><circle cx="705" cy="412" r="8"/><circle cx="569" cy="507" r="8"/><circle cx="482" cy="452" r="8"/><circle cx="593" cy="518" r="8"/><circle cx="529" cy="523" r="8"/><circle cx="689" cy="412" r="8"/><circle cx="342" cy="479" r="8"/><circle cx="311" cy="325" r="8"/><circle cx="609" cy="424" r="8"/><circle cx="780" cy="488" r="8"/><circle cx="707" cy="444" r="8"/><circle cx="472" cy="331" r="8"/><circle cx="749" cy="354" r="8"/><circle cx="466" cy="383" r="8"/><circle cx="812" cy="397" r="8"/><circle cx="420" cy="451" r="8"/><circle cx="417" cy="443" r="8"/><circle cx="762" cy="531" r="8"/><circle cx="589" cy="384" r="8"/><circle cx="676" cy="395" r="8"/><circle cx="751" cy="520" r="8"/><circle cx="596" cy="462" r="8"/><circle cx="629" cy="427" r="8"/><circle cx="570" cy="518" r="8"/><circle cx="660" cy="499" r="8"/><circle cx="807" cy="444" r="8"/><circle cx="684" cy="273" r="8"/><circle cx="719" cy="461" r="8"/><circle cx="713" cy="447" r="8"/><circle cx="374" cy="362" r="8"/><circle cx="625" cy="360" r="8"/><circle cx="686" cy="362" r="8"/><circle cx="695" cy="427" r="8"/><circle cx="751" cy="331" r="8"/><circle cx="780" cy="487" r="8"/><circle cx="314" cy="445" r="8"/><circle cx="689" cy="271" r="8"/><circle cx="425" cy="462" r="8"/><circle cx="615" cy="515" r="8"/><circle cx="598" cy="317" r="8"/><circle cx="738" cy="488" r="8"/><circle cx="274" cy="462" r="8"/><circle cx="603" cy="475" r="8"/><circle cx="773" cy="505" r="8"/><circle cx="381" cy="403" r="8"/><circle cx="662" cy="276" r="8"/><circle cx="542" cy="353" r="8"/><circle cx="711" cy="442" r="8"/><circle cx="687" cy="281" r="8"/><circle cx="711" cy="424" r="8"/><circle cx="620" cy="512" r="8"/><circle cx="629" cy="428" r="8"/><circle cx="699" cy="433" r="8"/><circle cx="645" cy="318" r="8"/><circle cx="663" cy="448" r="8"/><circle cx="659" cy="474" r="8"/><circle cx="740" cy="365" r="8"/></g><g fill="#1e9c89"><circle cx="746" cy="435" r="8"/><circle cx="494" cy="498" r="8"/><circle cx="809" cy="503" r="8"/><circle cx="739" cy="432" r="8"/><circle cx="348" cy="487" r="8"/><circle cx="651" cy="394" r="8"/><circle cx="744" cy="452" r="8"/><circle cx="776" cy="291" r="8"/><circle cx="687" cy="479" r="8"/><circle cx="621" cy="495" r="8"/><circle cx="727" cy="444" r="8"/><circle cx="499" cy="621" r="8"/><circle cx="296" cy="454" r="8"/><circle cx="638" cy="379" r="8"/><circle cx="694" cy="483" r="8"/><circle cx="480" cy="426" r="8"/><circle cx="731" cy="467" r="8"/><circle cx="382" cy="464" r="8"/><circle cx="375" cy="431" r="8"/><circle cx="501" cy="380" r="8"/><circle cx="414" cy="366" r="8"/><circle cx="284" cy="446" r="8"/><circle cx="739" cy="471" r="8"/><circle cx="318" cy="449" r="8"/><circle cx="295" cy="447" r="8"/><circle cx="646" cy="517" r="8"/><circle cx="697" cy="468" r="8"/><circle cx="547" cy="470" r="8"/><circle cx="553" cy="426" r="8"/><circle cx="312" cy="501" r="8"/><circle cx="381" cy="364" r="8"/><circle cx="433" cy="409" r="8"/><circle cx="629" cy="430" r="8"/><circle cx="393" cy="376" r="8"/><circle cx="401" cy="433" r="8"/><circle cx="264" cy="420" r="8"/><circle cx="683" cy="470" r="8"/><circle cx="279" cy="478" r="8"/><circle cx="662" cy="458" r="8"/><circle cx="747" cy="503" r="8"/><circle cx="505" cy="421" r="8"/><circle cx="678" cy="280" r="8"/><circle cx="281" cy="495" r="8"/><circle cx="673" cy="466" r="8"/><circle cx="405" cy="387" r="8"/><circle cx="802" cy="423" r="8"/><circle cx="657" cy="387" r="8"/><circle cx="422" cy="485" r="8"/><circle cx="348" cy="428" r="8"/><circle cx="663" cy="465" r="8"/><circle cx="581" cy="476" r="8"/><circle cx="737" cy="368" r="8"/><circle cx="635" cy="501" r="8"/><circle cx="717" cy="447" r="8"/><circle cx="571" cy="496" r="8"/><circle cx="412" cy="402" r="8"/><circle cx="669" cy="357" r="8"/><circle cx="682" cy="482" r="8"/><circle cx="599" cy="415" r="8"/><circle cx="574" cy="557" r="8"/><circle cx="475" cy="372" r="8"/><circle cx="750" cy="357" r="8"/><circle cx="519" cy="438" r="8"/><circle cx="663" cy="397" r="8"/><circle cx="672" cy="414" r="8"/><circle cx="224" cy="472" r="8"/></g><g fill="#1fa287"><circle cx="740" cy="470" r="8"/><circle cx="743" cy="367" r="8"/><circle cx="638" cy="426" r="8"/><circle cx="741" cy="544" r="8"/><circle cx="664" cy="499" r="8"/><circle cx="575" cy="495" r="8"/><circle cx="350" cy="437" r="8"/><circle cx="445" cy="370" r="8"/><circle cx="339" cy="462" r="8"/><circle cx="439" cy="523" r="8"/><circle cx="642" cy="392" r="8"/><circle cx="635" cy="412" r="8"/><circle cx="595" cy="568" r="8"/><circle cx="443" cy="469" r="8"/><circle cx="544" cy="397" r="8"/><circle cx="233" cy="355" r="8"/><circle cx="594" cy="411" r="8"/><circle cx="704" cy="429" r="8"/><circle cx="528" cy="343" r="8"/><circle cx="828" cy="334" r="8"/><circle cx="515" cy="452" r="8"/><circle cx="525" cy="350" r="8"/><circle cx="335" cy="352" r="8"/><circle cx="630" cy="537" r="8"/><circle cx="390" cy="380" r="8"/><circle cx="623" cy="547" r="8"/><circle cx="277" cy="424" r="8"/><circle cx="477" cy="493" r="8"/><circle cx="665" cy="290" r="8"/><circle cx="576" cy="563" r="8"/><circle cx="696" cy="433" r="8"/><circle cx="633" cy="429" r="8"/><circle cx="347" cy="496" r="8"/><circle cx="598" cy="486" r="8"/><circle cx="337" cy="466" r="8"/><circle cx="252" cy="400" r="8"/><circle cx="664" cy="373" r="8"/><circle cx="710" cy="495" r="8"/><circle cx="541" cy="417" r="8"/><circle cx="316" cy="392" r="8"/><circle cx="355" cy="354" r="8"/><circle cx="647" cy="465" r="8"/><circle cx="652" cy="500" r="8"/></g><g fill="#22a884"><circle cx="499" cy="335" r="8"/><circle cx="592" cy="460" r="8"/><circle cx="301" cy="378" r="8"/><circle cx="318" cy="375" r="8"/><circle cx="451" cy="468" r="8"/><circle cx="662" cy="461" r="8"/><circle cx="631" cy="398" r="8"/><circle cx="664" cy="285" r="8"/><circle cx="603" cy="296" r="8"/><circle cx="531" cy="366" r="8"/><circle cx="339" cy="314" r="8"/><circle cx="593" cy="528" r="8"/><circle cx="304" cy="459" r="8"/><circle cx="683" cy="218" r="8"/><circle cx="378" cy="379" r="8"/><circle cx="423" cy="509" r="8"/><circle cx="639" cy="452" r="8"/><circle cx="401" cy="460" r="8"/><circle cx="494" cy="449" r="8"/><circle cx="564" cy="545" r="8"/><circle cx="267" cy="457" r="8"/><circle cx="296" cy="409" r="8"/><circle cx="224" cy="363" r="8"/><circle cx="680" cy="471" r="8"/><circle cx="275" cy="461" r="8"/><circle cx="588" cy="393" r="8"/><circle cx="340" cy="398" r="8"/><circle cx="267" cy="442" r="8"/><circle cx="585" cy="409" r="8"/><circle cx="615" cy="367" r="8"/><circle cx="335" cy="541" r="8"/><circle cx="229" cy="421" r="8"/><circle cx="291" cy="383" r="8"/><circle cx="719" cy="468" r="8"/><circle cx="605" cy="415" r="8"/><circle cx="490" cy="469" r="8"/><circle cx="385" cy="433" r="8"/><circle cx="653" cy="479" r="8"/><circle cx="600" cy="502" r="8"/><circle cx="448" cy="400" r="8"/><circle cx="415" cy="401" r="8"/><circle cx="243" cy="417" r="8"/><circle cx="513" cy="401" r="8"/><circle cx="593" cy="417" r="8"/><circle cx="464" cy="501" r="8"/><circle cx="594" cy="611" r="8"/><circle cx="373" cy="417" r="8"/><circle cx="586" cy="416" r="8"/><circle cx="480" cy="388" r="8"/><circle cx="263" cy="502" r="8"/><circle cx="466" cy="408" r="8"/><circle cx="669" cy="457" r="8"/><circle cx="514" cy="607" r="8"/><circle cx="598" cy="414" r="8"/><circle cx="660" cy="409" r="8"/><circle cx="490" cy="426" r="8"/><circle cx="633" cy="471" r="8"/><circle cx="525" cy="320" r="8"/><circle cx="454" cy="400" r="8"/><circle cx="656" cy="488" r="8"/><circle cx="672" cy="499" r="8"/><circle cx="502" cy="483" r="8"/></g><g fill="#28ae80"><circle cx="534" cy="398" r="8"/><circle cx="415" cy="465" r="8"/><circle cx="270" cy="463" r="8"/><circle cx="666" cy="381" r="8"/><circle cx="629" cy="506" r="8"/><circle cx="401" cy="457" r="8"/><circle cx="584" cy="481" r="8"/><circle cx="413" cy="614" r="8"/><circle cx="305" cy="432" r="8"/><circle cx="287" cy="392" r="8"/><circle cx="467" cy="503" r="8"/><circle cx="590" cy="370" r="8"/><circle cx="397" cy="580" r="8"/><circle cx="591" cy="334" r="8"/><circle cx="443" cy="380" r="8"/><circle cx="664" cy="553" r="8"/><circle cx="380" cy="351" r="8"/><circle cx="385" cy="387" r="8"/><circle cx="342" cy="486" r="8"/><circle cx="649" cy="531" r="8"/><circle cx="554" cy="442" r="8"/><circle cx="508" cy="376" r="8"/><circle cx="375" cy="442" r="8"/><circle cx="523" cy="360" r="8"/><circle cx="367" cy="398" r="8"/><circle cx="501" cy="449" r="8"/><circle cx="633" cy="422" r="8"/><circle cx="668" cy="452" r="8"/><circle cx="345" cy="547" r="8"/><circle cx="325" cy="344" r="8"/></g><g fill="#2fb47c"><circle cx="355" cy="388" r="8"/><circle cx="551" cy="456" r="8"/><circle cx="312" cy="393" r="8"/><circle cx="491" cy="236" r="8"/><circle cx="422" cy="464" r="8"/><circle cx="566" cy="307" r="8"/><circle cx="520" cy="556" r="8"/><circle cx="408" cy="360" r="8"/><circle cx="624" cy="342" r="8"/><circle cx="336" cy="468" r="8"/><circle cx="318" cy="470" r="8"/><circle cx="291" cy="428" r="8"/><circle cx="357" cy="435" r="8"/><circle cx="637" cy="343" r="8"/><circle cx="609" cy="382" r="8"/><circle cx="482" cy="381" r="8"/><circle cx="380" cy="460" r="8"/><circle cx="278" cy="402" r="8"/><circle cx="286" cy="477" r="8"/><circle cx="310" cy="445" r="8"/><circle cx="531" cy="392" r="8"/><circle cx="290" cy="382" r="8"/><circle cx="500" cy="406" r="8"/><circle cx="577" cy="454" r="8"/><circle cx="227" cy="422" r="8"/><circle cx="381" cy="453" r="8"/><circle cx="285" cy="463" r="8"/></g><g fill="#38b977"><circle cx="361" cy="386" r="8"/><circle cx="326" cy="475" r="8"/><circle cx="610" cy="388" r="8"/><circle cx="631" cy="555" r="8"/><circle cx="280" cy="375" r="8"/><circle cx="312" cy="408" r="8"/><circle cx="308" cy="467" r="8"/><circle cx="441" cy="466" r="8"/><circle cx="330" cy="450" r="8"/><circle cx="486" cy="395" r="8"/><circle cx="466" cy="419" r="8"/></g><g fill="#44bf70"><circle cx="294" cy="474" r="8"/><circle cx="276" cy="511" r="8"/></g><g fill="#50c46a"><circle cx="378" cy="484" r="8"/><circle cx="289" cy="403" r="8"/></g><g fill="#5ec962"><circle cx="285" cy="507" r="8"/><circle cx="413" cy="489" r="8"/><circle cx="496" cy="409" r="8"/><circle cx="536" cy="362" r="8"/><circle cx="496" cy="363" r="8"/><circle cx="346" cy="536" r="8"/></g><g fill="#6ccd5a"><circle cx="380" cy="491" r="8"/><circle cx="512" cy="440" r="8"/><circle cx="605" cy="390" r="8"/><circle cx="565" cy="383" r="8"/><circle cx="460" cy="510" r="8"/><circle cx="301" cy="356" r="8"/><circle cx="389" cy="441" r="8"/><circle cx="341" cy="503" r="8"/><circle cx="336" cy="315" r="8"/><circle cx="267" cy="507" r="8"/><circle cx="550" cy="498" r="8"/><circle cx="467" cy="438" r="8"/><circle cx="522" cy="410" r="8"/><circle cx="450" cy="458" r="8"/><circle cx="394" cy="416" r="8"/><circle cx="359" cy="462" r="8"/><circle cx="286" cy="502" r="8"/><circle cx="510" cy="451" r="8"/><circle cx="349" cy="482" r="8"/><circle cx="418" cy="319" r="8"/><circle cx="340" cy="415" r="8"/></g><g fill="#7ad151"><circle cx="498" cy="471" r="8"/><circle cx="529" cy="399" r="8"/><circle cx="426" cy="353" r="8"/><circle cx="417" cy="297" r="8"/><circle cx="549" cy="492" r="8"/><circle cx="484" cy="375" r="8"/><circle cx="443" cy="399" r="8"/><circle cx="410" cy="385" r="8"/><circle cx="273" cy="403" r="8"/><circle cx="379" cy="457" r="8"/><circle cx="402" cy="363" r="8"/><circle cx="394" cy="430" r="8"/><circle cx="322" cy="468" r="8"/><circle cx="535" cy="404" r="8"/><circle cx="512" cy="369" r="8"/><circle cx="412" cy="453" r="8"/><circle cx="440" cy="431" r="8"/><circle cx="531" cy="569" r="8"/><circle cx="288" cy="389" r="8"/><circle cx="329" cy="328" r="8"/><circle cx="315" cy="425" r="8"/><circle cx="361" cy="456" r="8"/><circle cx="490" cy="383" r="8"/><circle cx="500" cy="490" r="8"/><circle cx="439" cy="502" r="8"/></g><g fill="#8bd646"><circle cx="424" cy="419" r="8"/><circle cx="297" cy="491" r="8"/><circle cx="542" cy="388" r="8"/><circle cx="553" cy="545" r="8"/><circle cx="395" cy="410" r="8"/><circle cx="333" cy="464" r="8"/><circle cx="525" cy="490" r="8"/><circle cx="472" cy="402" r="8"/><circle cx="301" cy="470" r="8"/><circle cx="486" cy="431" r="8"/><circle cx="485" cy="384" r="8"/><circle cx="391" cy="383" r="8"/><circle cx="356" cy="565" r="8"/><circle cx="293" cy="439" r="8"/><circle cx="294" cy="446" r="8"/><circle cx="329" cy="523" r="8"/><circle cx="422" cy="349" r="8"/><circle cx="512" cy="381" r="8"/><circle cx="311" cy="502" r="8"/><circle cx="468" cy="375" r="8"/><circle cx="516" cy="548" r="8"/><circle cx="669" cy="475" r="8"/><circle cx="389" cy="441" r="8"/><circle cx="400" cy="465" r="8"/><circle cx="358" cy="401" r="8"/><circle cx="376" cy="428" r="8"/><circle cx="539" cy="509" r="8"/><circle cx="313" cy="465" r="8"/><circle cx="337" cy="432" r="8"/><circle cx="418" cy="419" r="8"/><circle cx="598" cy="541" r="8"/><circle cx="361" cy="427" r="8"/><circle cx="660" cy="470" r="8"/></g><g fill="#9bd93c"><circle cx="453" cy="404" r="8"/><circle cx="478" cy="391" r="8"/><circle cx="343" cy="431" r="8"/><circle cx="589" cy="380" r="8"/><circle cx="672" cy="193" r="8"/><circle cx="643" cy="449" r="8"/><circle cx="379" cy="495" r="8"/><circle cx="406" cy="411" r="8"/><circle cx="640" cy="386" r="8"/><circle cx="316" cy="432" r="8"/><circle cx="330" cy="400" r="8"/><circle cx="598" cy="375" r="8"/><circle cx="596" cy="367" r="8"/><circle cx="344" cy="398" r="8"/><circle cx="482" cy="463" r="8"/><circle cx="571" cy="487" r="8"/><circle cx="477" cy="444" r="8"/><circle cx="316" cy="426" r="8"/><circle cx="406" cy="389" r="8"/><circle cx="645" cy="441" r="8"/><circle cx="491" cy="388" r="8"/><circle cx="431" cy="418" r="8"/><circle cx="561" cy="491" r="8"/><circle cx="308" cy="405" r="8"/><circle cx="311" cy="411" r="8"/><circle cx="481" cy="431" r="8"/><circle cx="502" cy="483" r="8"/><circle cx="541" cy="419" r="8"/><circle cx="514" cy="323" r="8"/><circle cx="314" cy="532" r="8"/><circle cx="577" cy="540" r="8"/><circle cx="438" cy="477" r="8"/></g><g fill="#addc30"><circle cx="440" cy="457" r="8"/><circle cx="280" cy="351" r="8"/><circle cx="484" cy="272" r="8"/><circle cx="567" cy="281" r="8"/><circle cx="533" cy="373" r="8"/><circle cx="390" cy="445" r="8"/><circle cx="644" cy="457" r="8"/><circle cx="399" cy="430" r="8"/><circle cx="477" cy="387" r="8"/><circle cx="440" cy="488" r="8"/><circle cx="415" cy="484" r="8"/><circle cx="397" cy="439" r="8"/><circle cx="568" cy="434" r="8"/><circle cx="471" cy="372" r="8"/><circle cx="630" cy="478" r="8"/><circle cx="306" cy="444" r="8"/><circle cx="387" cy="511" r="8"/><circle cx="316" cy="408" r="8"/><circle cx="475" cy="342" r="8"/><circle cx="566" cy="483" r="8"/><circle cx="318" cy="514" r="8"/><circle cx="457" cy="422" r="8"/><circle cx="374" cy="474" r="8"/><circle cx="488" cy="522" r="8"/><circle cx="358" cy="477" r="8"/><circle cx="428" cy="456" r="8"/><circle cx="357" cy="463" r="8"/><circle cx="350" cy="476" r="8"/><circle cx="444" cy="446" r="8"/><circle cx="333" cy="477" r="8"/></g><g fill="#bddf26"><circle cx="300" cy="413" r="8"/><circle cx="487" cy="469" r="8"/><circle cx="329" cy="400" r="8"/><circle cx="410" cy="438" r="8"/><circle cx="317" cy="490" r="8"/><circle cx="549" cy="430" r="8"/><circle cx="316" cy="439" r="8"/><circle cx="498" cy="432" r="8"/><circle cx="445" cy="351" r="8"/><circle cx="373" cy="427" r="8"/><circle cx="311" cy="440" r="8"/><circle cx="328" cy="394" r="8"/><circle cx="382" cy="356" r="8"/><circle cx="546" cy="434" r="8"/><circle cx="471" cy="443" r="8"/><circle cx="333" cy="374" r="8"/><circle cx="337" cy="457" r="8"/><circle cx="275" cy="564" r="8"/><circle cx="448" cy="459" r="8"/><circle cx="448" cy="371" r="8"/><circle cx="328" cy="390" r="8"/><circle cx="331" cy="397" r="8"/><circle cx="292" cy="360" r="8"/><circle cx="417" cy="425" r="8"/><circle cx="629" cy="376" r="8"/><circle cx="357" cy="399" r="8"/><circle cx="314" cy="458" r="8"/></g><g fill="#cde11d"><circle cx="506" cy="384" r="8"/><circle cx="401" cy="347" r="8"/><circle cx="516" cy="495" r="8"/><circle cx="526" cy="463" r="8"/><circle cx="566" cy="459" r="8"/><circle cx="414" cy="434" r="8"/><circle cx="400" cy="436" r="8"/><circle cx="316" cy="370" r="8"/><circle cx="576" cy="439" r="8"/><circle cx="303" cy="427" r="8"/><circle cx="500" cy="357" r="8"/><circle cx="459" cy="420" r="8"/><circle cx="293" cy="442" r="8"/><circle cx="267" cy="427" r="8"/><circle cx="482" cy="377" r="8"/><circle cx="348" cy="395" r="8"/><circle cx="567" cy="449" r="8"/><circle cx="343" cy="390" r="8"/><circle cx="272" cy="408" r="8"/><circle cx="502" cy="502" r="8"/><circle cx="553" cy="464" r="8"/><circle cx="361" cy="380" r="8"/><circle cx="390" cy="534" r="8"/></g><g fill="#dfe318"><circle cx="543" cy="443" r="8"/><circle cx="471" cy="544" r="8"/><circle cx="328" cy="435" r="8"/><circle cx="598" cy="532" r="8"/><circle cx="603" cy="548" r="8"/><circle cx="385" cy="346" r="8"/><circle cx="493" cy="406" r="8"/><circle cx="451" cy="364" r="8"/><circle cx="444" cy="350" r="8"/><circle cx="387" cy="282" r="8"/><circle cx="469" cy="512" r="8"/><circle cx="305" cy="535" r="8"/><circle cx="281" cy="557" r="8"/><circle cx="645" cy="499" r="8"/><circle cx="592" cy="453" r="8"/><circle cx="507" cy="372" r="8"/><circle cx="414" cy="514" r="8"/></g><g fill="#efe51c"><circle cx="507" cy="471" r="8"/><circle cx="545" cy="395" r="8"/><circle cx="338" cy="375" r="8"/><circle cx="426" cy="467" r="8"/><circle cx="524" cy="406" r="8"/><circle cx="268" cy="469" r="8"/><circle cx="486" cy="454" r="8"/><circle cx="297" cy="417" r="8"/><circle cx="575" cy="399" r="8"/><circle cx="389" cy="424" r="8"/><circle cx="427" cy="226" r="8"/><circle cx="315" cy="418" r="8"/><circle cx="481" cy="599" r="8"/><circle cx="404" cy="344" r="8"/><circle cx="406" cy="523" r="8"/></g><g fill="#fde725"><circle cx="509" cy="261" r="8"/><circle cx="564" cy="402" r="8"/></g><g fill="#460a5d"><circle cx="716" cy="475" r="8"/><circle cx="704" cy="523" r="8"/></g><g fill="#481c6e"><circle cx="666" cy="445" r="8"/></g><g fill="#482475"><circle cx="846" cy="484" r="8"/><circle cx="754" cy="423" r="8"/><circle cx="897" cy="549" r="8"/></g><g fill="#472d7b"><circle cx="724" cy="586" r="8"/><circle cx="733" cy="418" r="8"/></g><g fill="#463480"><circle cx="902" cy="550" r="8"/><circle cx="722" cy="349" r="8"/><circle cx="861" cy="489" r="8"/><circle cx="739" cy="349" r="8"/></g><g fill="#443b84"><circle cx="721" cy="586" r="8"/></g><g fill="#414487"><circle cx="745" cy="481" r="8"/><circle cx="836" cy="469" r="8"/><circle cx="859" cy="434" r="8"/><circle cx="733" cy="334" r="8"/><circle cx="742" cy="539" r="8"/></g><g fill="#3e4a89"><circle cx="684" cy="418" r="8"/></g><g fill="#3b528b"><circle cx="777" cy="283" r="8"/><circle cx="785" cy="544" r="8"/><circle cx="816" cy="428" r="8"/><circle cx="790" cy="225" r="8"/></g><g fill="#38598c"><circle cx="879" cy="402" r="8"/><circle cx="885" cy="423" r="8"/><circle cx="836" cy="405" r="8"/><circle cx="873" cy="485" r="8"/><circle cx="667" cy="510" r="8"/><circle cx="770" cy="464" r="8"/><circle cx="707" cy="568" r="8"/><circle cx="729" cy="355" r="8"/></g><g fill="#355f8d"><circle cx="439" cy="416" r="8"/><circle cx="271" cy="389" r="8"/><circle cx="635" cy="364" r="8"/><circle cx="709" cy="207" r="8"/><circle cx="862" cy="428" r="8"/><circle cx="875" cy="443" r="8"/><circle cx="343" cy="363" r="8"/><circle cx="890" cy="435" r="8"/><circle cx="887" cy="417" r="8"/><circle cx="372" cy="517" r="8"/><circle cx="389" cy="499" r="8"/><circle cx="782" cy="462" r="8"/><circle cx="773" cy="447" r="8"/><circle cx="639" cy="437" r="8"/></g><g fill="#31668e"><circle cx="564" cy="407" r="8"/><circle cx="877" cy="411" r="8"/><circle cx="539" cy="283" r="8"/><circle cx="703" cy="468" r="8"/><circle cx="963" cy="463" r="8"/><circle cx="724" cy="565" r="8"/><circle cx="510" cy="424" r="8"/><circle cx="756" cy="415" r="8"/><circle cx="898" cy="441" r="8"/><circle cx="638" cy="482" r="8"/><circle cx="782" cy="472" r="8"/><circle cx="770" cy="452" r="8"/><circle cx="501" cy="348" r="8"/><circle cx="856" cy="450" r="8"/><circle cx="637" cy="413" r="8"/><circle cx="351" cy="508" r="8"/><circle cx="565" cy="307" r="8"/><circle cx="593" cy="422" r="8"/><circle cx="475" cy="341" r="8"/><circle cx="888" cy="458" r="8"/><circle cx="730" cy="500" r="8"/><circle cx="640" cy="468" r="8"/></g><g fill="#2f6c8e"><circle cx="716" cy="406" r="8"/><circle cx="785" cy="475" r="8"/><circle cx="872" cy="458" r="8"/><circle cx="898" cy="451" r="8"/><circle cx="612" cy="325" r="8"/><circle cx="795" cy="535" r="8"/><circle cx="747" cy="488" r="8"/><circle cx="738" cy="360" r="8"/><circle cx="629" cy="413" r="8"/><circle cx="533" cy="464" r="8"/><circle cx="700" cy="574" r="8"/><circle cx="788" cy="461" r="8"/><circle cx="757" cy="395" r="8"/><circle cx="617" cy="508" r="8"/><circle cx="568" cy="562" r="8"/><circle cx="903" cy="452" r="8"/><circle cx="804" cy="500" r="8"/><circle cx="758" cy="345" r="8"/><circle cx="750" cy="521" r="8"/><circle cx="677" cy="477" r="8"/><circle cx="891" cy="493" r="8"/><circle cx="581" cy="415" r="8"/><circle cx="427" cy="466" r="8"/><circle cx="885" cy="396" r="8"/><circle cx="539" cy="385" r="8"/><circle cx="474" cy="421" r="8"/><circle cx="543" cy="442" r="8"/></g><g fill="#2c728e"><circle cx="546" cy="343" r="8"/><circle cx="423" cy="475" r="8"/><circle cx="498" cy="369" r="8"/><circle cx="815" cy="492" r="8"/><circle cx="922" cy="442" r="8"/><circle cx="799" cy="407" r="8"/><circle cx="739" cy="353" r="8"/><circle cx="541" cy="341" r="8"/><circle cx="796" cy="541" r="8"/><circle cx="917" cy="486" r="8"/><circle cx="546" cy="382" r="8"/><circle cx="743" cy="414" r="8"/><circle cx="902" cy="429" r="8"/><circle cx="712" cy="465" r="8"/><circle cx="731" cy="417" r="8"/><circle cx="434" cy="435" r="8"/><circle cx="807" cy="404" r="8"/><circle cx="835" cy="396" r="8"/><circle cx="538" cy="313" r="8"/><circle cx="611" cy="361" r="8"/></g><g fill="#2a788e"><circle cx="774" cy="431" r="8"/><circle cx="920" cy="435" r="8"/><circle cx="930" cy="461" r="8"/><circle cx="355" cy="305" r="8"/><circle cx="936" cy="455" r="8"/><circle cx="820" cy="447" r="8"/><circle cx="821" cy="322" r="8"/><circle cx="614" cy="440" r="8"/><circle cx="504" cy="521" r="8"/><circle cx="800" cy="503" r="8"/><circle cx="704" cy="415" r="8"/><circle cx="443" cy="375" r="8"/><circle cx="887" cy="458" r="8"/><circle cx="758" cy="390" r="8"/><circle cx="886" cy="379" r="8"/><circle cx="876" cy="449" r="8"/><circle cx="682" cy="493" r="8"/></g><g fill="#277e8e"><circle cx="692" cy="420" r="8"/><circle cx="856" cy="429" r="8"/><circle cx="773" cy="419" r="8"/><circle cx="352" cy="360" r="8"/><circle cx="859" cy="475" r="8"/><circle cx="738" cy="342" r="8"/><circle cx="458" cy="426" r="8"/><circle cx="838" cy="476" r="8"/><circle cx="911" cy="426" r="8"/><circle cx="810" cy="441" r="8"/><circle cx="325" cy="438" r="8"/><circle cx="871" cy="421" r="8"/><circle cx="682" cy="541" r="8"/><circle cx="842" cy="465" r="8"/><circle cx="268" cy="460" r="8"/><circle cx="787" cy="395" r="8"/><circle cx="795" cy="486" r="8"/><circle cx="690" cy="415" r="8"/><circle cx="637" cy="495" r="8"/><circle cx="598" cy="485" r="8"/><circle cx="747" cy="393" r="8"/><circle cx="853" cy="446" r="8"/><circle cx="885" cy="301" r="8"/><circle cx="823" cy="427" r="8"/><circle cx="950" cy="458" r="8"/><circle cx="829" cy="503" r="8"/><circle cx="735" cy="496" r="8"/><circle cx="810" cy="486" r="8"/><circle cx="745" cy="461" r="8"/><circle cx="742" cy="487" r="8"/><circle cx="460" cy="395" r="8"/></g><g fill="#25848e"><circle cx="860" cy="409" r="8"/><circle cx="686" cy="434" r="8"/><circle cx="407" cy="441" r="8"/><circle cx="717" cy="375" r="8"/><circle cx="737" cy="432" r="8"/><circle cx="836" cy="472" r="8"/><circle cx="610" cy="458" r="8"/><circle cx="684" cy="344" r="8"/><circle cx="663" cy="460" r="8"/><circle cx="707" cy="517" r="8"/><circle cx="763" cy="498" r="8"/><circle cx="835" cy="405" r="8"/><circle cx="760" cy="435" r="8"/><circle cx="715" cy="336" r="8"/><circle cx="568" cy="467" r="8"/><circle cx="754" cy="435" r="8"/><circle cx="776" cy="437" r="8"/><circle cx="741" cy="512" r="8"/><circle cx="664" cy="384" r="8"/><circle cx="744" cy="510" r="8"/><circle cx="785" cy="470" r="8"/><circle cx="884" cy="291" r="8"/><circle cx="680" cy="390" r="8"/><circle cx="745" cy="380" r="8"/><circle cx="696" cy="545" r="8"/><circle cx="580" cy="562" r="8"/><circle cx="812" cy="416" r="8"/><circle cx="790" cy="355" r="8"/><circle cx="683" cy="483" r="8"/></g><g fill="#238a8d"><circle cx="702" cy="391" r="8"/><circle cx="790" cy="414" r="8"/><circle cx="748" cy="455" r="8"/><circle cx="885" cy="468" r="8"/><circle cx="825" cy="459" r="8"/><circle cx="658" cy="341" r="8"/><circle cx="760" cy="349" r="8"/><circle cx="636" cy="490" r="8"/><circle cx="580" cy="359" r="8"/><circle cx="698" cy="508" r="8"/><circle cx="767" cy="426" r="8"/><circle cx="669" cy="428" r="8"/><circle cx="517" cy="394" r="8"/><circle cx="639" cy="383" r="8"/><circle cx="741" cy="557" r="8"/><circle cx="913" cy="460" r="8"/><circle cx="947" cy="437" r="8"/><circle cx="812" cy="416" r="8"/><circle cx="543" cy="441" r="8"/><circle cx="802" cy="424" r="8"/><circle cx="528" cy="491" r="8"/><circle cx="565" cy="503" r="8"/><circle cx="547" cy="457" r="8"/><circle cx="543" cy="531" r="8"/><circle cx="674" cy="446" r="8"/><circle cx="609" cy="277" r="8"/><circle cx="754" cy="520" r="8"/><circle cx="640" cy="449" r="8"/><circle cx="733" cy="341" r="8"/><circle cx="805" cy="477" r="8"/><circle cx="637" cy="437" r="8"/><circle cx="757" cy="443" r="8"/><circle cx="842" cy="388" r="8"/><circle cx="841" cy="485" r="8"/><circle cx="681" cy="453" r="8"/><circle cx="643" cy="321" r="8"/><circle cx="543" cy="531" r="8"/><circle cx="594" cy="489" r="8"/><circle cx="614" cy="510" r="8"/><circle cx="680" cy="501" r="8"/><circle cx="798" cy="412" r="8"/><circle cx="680" cy="508" r="8"/><circle cx="669" cy="423" r="8"/><circle cx="650" cy="505" r="8"/><circle cx="828" cy="407" r="8"/><circle cx="603" cy="497" r="8"/><circle cx="742" cy="341" r="8"/><circle cx="630" cy="449" r="8"/><circle cx="324" cy="437" r="8"/><circle cx="627" cy="423" r="8"/></g><g fill="#21918c"><circle cx="744" cy="415" r="8"/><circle cx="633" cy="412" r="8"/><circle cx="375" cy="449" r="8"/><circle cx="240" cy="544" r="8"/><circle cx="546" cy="386" r="8"/><circle cx="722" cy="538" r="8"/><circle cx="760" cy="391" r="8"/><circle cx="851" cy="494" r="8"/><circle cx="581" cy="496" r="8"/><circle cx="806" cy="390" r="8"/><circle cx="746" cy="408" r="8"/><circle cx="750" cy="416" r="8"/><circle cx="758" cy="337" r="8"/><circle cx="742" cy="539" r="8"/><circle cx="816" cy="436" r="8"/><circle cx="686" cy="451" r="8"/><circle cx="316" cy="434" r="8"/><circle cx="745" cy="407" r="8"/><circle cx="672" cy="446" r="8"/><circle cx="701" cy="575" r="8"/><circle cx="555" cy="408" r="8"/><circle cx="856" cy="437" r="8"/><circle cx="382" cy="435" r="8"/><circle cx="735" cy="522" r="8"/><circle cx="470" cy="445" r="8"/><circle cx="740" cy="443" r="8"/><circle cx="599" cy="483" r="8"/><circle cx="867" cy="432" r="8"/><circle cx="885" cy="453" r="8"/><circle cx="378" cy="369" r="8"/><circle cx="905" cy="287" r="8"/><circle cx="489" cy="452" r="8"/><circle cx="365" cy="331" r="8"/><circle cx="787" cy="383" r="8"/><circle cx="637" cy="349" r="8"/><circle cx="740" cy="418" r="8"/><circle cx="681" cy="472" r="8"/><circle cx="441" cy="446" r="8"/><circle cx="387" cy="376" r="8"/><circle cx="294" cy="402" r="8"/><circle cx="721" cy="507" r="8"/><circle cx="539" cy="561" r="8"/><circle cx="660" cy="487" r="8"/><circle cx="648" cy="404" r="8"/><circle cx="340" cy="469" r="8"/><circle cx="705" cy="282" r="8"/><circle cx="803" cy="555" r="8"/><circle cx="541" cy="472" r="8"/><circle cx="553" cy="449" r="8"/><circle cx="666" cy="493" r="8"/><circle cx="721" cy="514" r="8"/><circle cx="715" cy="388" r="8"/><circle cx="659" cy="512" r="8"/><circle cx="654" cy="408" r="8"/><circle cx="535" cy="528" r="8"/><circle cx="556" cy="454" r="8"/><circle cx="628" cy="429" r="8"/><circle cx="325" cy="379" r="8"/><circle cx="489" cy="523" r="8"/><circle cx="705" cy="515" r="8"/><circle cx="555" cy="396" r="8"/><circle cx="554" cy="491" r="8"/><circle cx="775" cy="509" r="8"/><circle cx="585" cy="384" r="8"/><circle cx="450" cy="275" r="8"/><circle cx="589" cy="388" r="8"/><circle cx="791" cy="403" r="8"/><circle cx="633" cy="510" r="8"/><circle cx="799" cy="413" r="8"/></g><g fill="#1f968b"><circle cx="576" cy="411" r="8"/><circle cx="893" cy="436" r="8"/><circle cx="629" cy="257" r="8"/><circle cx="528" cy="386" r="8"/><circle cx="771" cy="460" r="8"/><circle cx="527" cy="394" r="8"/><circle cx="541" cy="470" r="8"/><circle cx="837" cy="413" r="8"/><circle cx="571" cy="336" r="8"/><circle cx="709" cy="550" r="8"/><circle cx="524" cy="427" r="8"/><circle cx="826" cy="475" r="8"/><circle cx="798" cy="431" r="8"/><circle cx="739" cy="384" r="8"/><circle cx="519" cy="404" r="8"/><circle cx="774" cy="481" r="8"/><circle cx="684" cy="351" r="8"/><circle cx="577" cy="428" r="8"/><circle cx="357" cy="450" r="8"/><circle cx="767" cy="473" r="8"/><circle cx="779" cy="455" r="8"/><circle cx="804" cy="428" r="8"/><circle cx="554" cy="469" r="8"/><circle cx="534" cy="455" r="8"/><circle cx="579" cy="588" r="8"/><circle cx="628" cy="473" r="8"/><circle cx="272" cy="483" r="8"/><circle cx="594" cy="420" r="8"/><circle cx="336" cy="453" r="8"/><circle cx="768" cy="300" r="8"/><circle cx="595" cy="440" r="8"/><circle cx="523" cy="415" r="8"/><circle cx="767" cy="457" r="8"/><circle cx="726" cy="490" r="8"/><circle cx="310" cy="428" r="8"/><circle cx="531" cy="491" r="8"/><circle cx="482" cy="484" r="8"/><circle cx="565" cy="437" r="8"/><circle cx="704" cy="423" r="8"/><circle cx="490" cy="445" r="8"/><circle cx="511" cy="496" r="8"/><circle cx="808" cy="436" r="8"/><circle cx="679" cy="416" r="8"/><circle cx="623" cy="448" r="8"/><circle cx="727" cy="470" r="8"/><circle cx="678" cy="361" r="8"/><circle cx="645" cy="339" r="8"/><circle cx="592" cy="480" r="8"/><circle cx="507" cy="486" r="8"/><circle cx="475" cy="378" r="8"/><circle cx="530" cy="480" r="8"/><circle cx="629" cy="485" r="8"/><circle cx="530" cy="468" r="8"/><circle cx="658" cy="472" r="8"/><circle cx="653" cy="556" r="8"/><circle cx="679" cy="487" r="8"/><circle cx="382" cy="419" r="8"/><circle cx="629" cy="494" r="8"/><circle cx="762" cy="432" r="8"/><circle cx="691" cy="395" r="8"/><circle cx="715" cy="448" r="8"/><circle cx="727" cy="423" r="8"/><circle cx="730" cy="349" r="8"/></g><g fill="#1e9c89"><circle cx="506" cy="293" r="8"/><circle cx="574" cy="502" r="8"/><circle cx="462" cy="398" r="8"/><circle cx="596" cy="416" r="8"/><circle cx="721" cy="516" r="8"/><circle cx="546" cy="423" r="8"/><circle cx="571" cy="470" r="8"/><circle cx="712" cy="374" r="8"/><circle cx="447" cy="535" r="8"/><circle cx="481" cy="389" r="8"/><circle cx="711" cy="447" r="8"/><circle cx="649" cy="253" r="8"/><circle cx="469" cy="506" r="8"/><circle cx="789" cy="492" r="8"/><circle cx="694" cy="465" r="8"/><circle cx="738" cy="512" r="8"/><circle cx="414" cy="402" r="8"/><circle cx="424" cy="494" r="8"/><circle cx="739" cy="398" r="8"/><circle cx="742" cy="350" r="8"/><circle cx="394" cy="447" r="8"/><circle cx="466" cy="490" r="8"/><circle cx="447" cy="363" r="8"/><circle cx="683" cy="420" r="8"/><circle cx="626" cy="485" r="8"/><circle cx="532" cy="484" r="8"/><circle cx="749" cy="516" r="8"/><circle cx="565" cy="455" r="8"/><circle cx="668" cy="282" r="8"/><circle cx="703" cy="445" r="8"/><circle cx="525" cy="545" r="8"/><circle cx="560" cy="410" r="8"/><circle cx="310" cy="478" r="8"/><circle cx="393" cy="409" r="8"/><circle cx="800" cy="430" r="8"/><circle cx="592" cy="384" r="8"/><circle cx="692" cy="450" r="8"/><circle cx="469" cy="389" r="8"/><circle cx="633" cy="498" r="8"/><circle cx="725" cy="392" r="8"/><circle cx="571" cy="405" r="8"/><circle cx="688" cy="405" r="8"/><circle cx="335" cy="470" r="8"/><circle cx="579" cy="318" r="8"/><circle cx="565" cy="443" r="8"/><circle cx="545" cy="443" r="8"/><circle cx="441" cy="399" r="8"/><circle cx="691" cy="397" r="8"/><circle cx="240" cy="530" r="8"/><circle cx="522" cy="343" r="8"/><circle cx="605" cy="394" r="8"/><circle cx="281" cy="397" r="8"/><circle cx="496" cy="363" r="8"/><circle cx="755" cy="443" r="8"/><circle cx="558" cy="371" r="8"/><circle cx="521" cy="496" r="8"/><circle cx="770" cy="529" r="8"/><circle cx="622" cy="480" r="8"/><circle cx="521" cy="433" r="8"/><circle cx="749" cy="405" r="8"/></g><g fill="#1fa287"><circle cx="696" cy="442" r="8"/><circle cx="389" cy="456" r="8"/><circle cx="607" cy="342" r="8"/><circle cx="469" cy="429" r="8"/><circle cx="306" cy="387" r="8"/><circle cx="749" cy="465" r="8"/><circle cx="323" cy="357" r="8"/><circle cx="734" cy="490" r="8"/><circle cx="384" cy="447" r="8"/><circle cx="419" cy="475" r="8"/><circle cx="801" cy="523" r="8"/><circle cx="269" cy="488" r="8"/><circle cx="497" cy="520" r="8"/><circle cx="458" cy="432" r="8"/><circle cx="623" cy="367" r="8"/><circle cx="410" cy="439" r="8"/><circle cx="732" cy="409" r="8"/><circle cx="343" cy="503" r="8"/><circle cx="339" cy="352" r="8"/><circle cx="393" cy="383" r="8"/><circle cx="659" cy="291" r="8"/><circle cx="674" cy="343" r="8"/><circle cx="472" cy="357" r="8"/><circle cx="679" cy="284" r="8"/><circle cx="552" cy="384" r="8"/><circle cx="613" cy="486" r="8"/><circle cx="744" cy="380" r="8"/><circle cx="628" cy="328" r="8"/><circle cx="606" cy="375" r="8"/><circle cx="719" cy="474" r="8"/><circle cx="633" cy="448" r="8"/><circle cx="720" cy="329" r="8"/><circle cx="714" cy="479" r="8"/><circle cx="642" cy="489" r="8"/><circle cx="624" cy="380" r="8"/><circle cx="706" cy="461" r="8"/><circle cx="416" cy="350" r="8"/><circle cx="307" cy="423" r="8"/><circle cx="457" cy="419" r="8"/><circle cx="355" cy="462" r="8"/><circle cx="614" cy="378" r="8"/><circle cx="625" cy="460" r="8"/><circle cx="501" cy="507" r="8"/><circle cx="596" cy="371" r="8"/><circle cx="615" cy="529" r="8"/><circle cx="240" cy="420" r="8"/><circle cx="414" cy="395" r="8"/><circle cx="547" cy="479" r="8"/><circle cx="406" cy="492" r="8"/><circle cx="666" cy="379" r="8"/><circle cx="633" cy="341" r="8"/><circle cx="506" cy="421" r="8"/><circle cx="610" cy="375" r="8"/><circle cx="625" cy="527" r="8"/><circle cx="338" cy="360" r="8"/></g><g fill="#22a884"><circle cx="281" cy="464" r="8"/><circle cx="700" cy="379" r="8"/><circle cx="431" cy="489" r="8"/><circle cx="343" cy="484" r="8"/><circle cx="420" cy="442" r="8"/><circle cx="438" cy="345" r="8"/><circle cx="329" cy="411" r="8"/><circle cx="420" cy="510" r="8"/><circle cx="630" cy="398" r="8"/><circle cx="493" cy="528" r="8"/><circle cx="650" cy="449" r="8"/><circle cx="539" cy="484" r="8"/><circle cx="690" cy="449" r="8"/><circle cx="269" cy="456" r="8"/><circle cx="475" cy="438" r="8"/><circle cx="712" cy="460" r="8"/><circle cx="401" cy="429" r="8"/><circle cx="557" cy="541" r="8"/><circle cx="358" cy="507" r="8"/><circle cx="578" cy="621" r="8"/><circle cx="264" cy="506" r="8"/><circle cx="653" cy="382" r="8"/><circle cx="363" cy="372" r="8"/><circle cx="595" cy="443" r="8"/><circle cx="295" cy="494" r="8"/><circle cx="597" cy="474" r="8"/><circle cx="566" cy="302" r="8"/><circle cx="577" cy="468" r="8"/><circle cx="292" cy="550" r="8"/><circle cx="385" cy="471" r="8"/><circle cx="436" cy="370" r="8"/><circle cx="321" cy="412" r="8"/><circle cx="605" cy="423" r="8"/><circle cx="670" cy="358" r="8"/><circle cx="381" cy="416" r="8"/><circle cx="718" cy="489" r="8"/><circle cx="670" cy="336" r="8"/><circle cx="385" cy="418" r="8"/><circle cx="583" cy="365" r="8"/><circle cx="434" cy="482" r="8"/><circle cx="557" cy="438" r="8"/><circle cx="682" cy="399" r="8"/><circle cx="657" cy="455" r="8"/><circle cx="814" cy="207" r="8"/><circle cx="303" cy="391" r="8"/><circle cx="323" cy="416" r="8"/><circle cx="542" cy="458" r="8"/><circle cx="900" cy="265" r="8"/><circle cx="582" cy="389" r="8"/><circle cx="704" cy="476" r="8"/></g><g fill="#28ae80"><circle cx="282" cy="399" r="8"/><circle cx="620" cy="504" r="8"/><circle cx="376" cy="500" r="8"/><circle cx="410" cy="505" r="8"/><circle cx="415" cy="418" r="8"/><circle cx="451" cy="547" r="8"/><circle cx="639" cy="550" r="8"/><circle cx="533" cy="259" r="8"/><circle cx="579" cy="514" r="8"/><circle cx="601" cy="388" r="8"/><circle cx="296" cy="442" r="8"/><circle cx="345" cy="588" r="8"/><circle cx="330" cy="436" r="8"/><circle cx="512" cy="430" r="8"/><circle cx="551" cy="310" r="8"/><circle cx="625" cy="549" r="8"/><circle cx="551" cy="324" r="8"/><circle cx="635" cy="417" r="8"/><circle cx="582" cy="393" r="8"/><circle cx="631" cy="501" r="8"/><circle cx="584" cy="622" r="8"/><circle cx="617" cy="448" r="8"/><circle cx="481" cy="416" r="8"/><circle cx="532" cy="440" r="8"/><circle cx="324" cy="412" r="8"/><circle cx="349" cy="532" r="8"/><circle cx="703" cy="487" r="8"/><circle cx="635" cy="377" r="8"/><circle cx="421" cy="417" r="8"/><circle cx="651" cy="314" r="8"/><circle cx="325" cy="460" r="8"/><circle cx="461" cy="409" r="8"/><circle cx="592" cy="461" r="8"/><circle cx="498" cy="396" r="8"/><circle cx="416" cy="345" r="8"/><circle cx="673" cy="463" r="8"/><circle cx="532" cy="414" r="8"/><circle cx="421" cy="431" r="8"/><circle cx="641" cy="393" r="8"/><circle cx="313" cy="325" r="8"/><circle cx="323" cy="447" r="8"/><circle cx="633" cy="395" r="8"/></g><g fill="#2fb47c"><circle cx="301" cy="478" r="8"/><circle cx="288" cy="452" r="8"/><circle cx="634" cy="345" r="8"/><circle cx="420" cy="445" r="8"/><circle cx="598" cy="303" r="8"/><circle cx="619" cy="504" r="8"/><circle cx="503" cy="271" r="8"/><circle cx="337" cy="391" r="8"/><circle cx="408" cy="335" r="8"/><circle cx="612" cy="494" r="8"/><circle cx="629" cy="471" r="8"/><circle cx="468" cy="474" r="8"/><circle cx="580" cy="421" r="8"/><circle cx="320" cy="455" r="8"/><circle cx="533" cy="479" r="8"/><circle cx="544" cy="500" r="8"/><circle cx="551" cy="420" r="8"/><circle cx="385" cy="430" r="8"/><circle cx="298" cy="408" r="8"/><circle cx="541" cy="530" r="8"/><circle cx="404" cy="425" r="8"/><circle cx="548" cy="366" r="8"/><circle cx="585" cy="381" r="8"/><circle cx="541" cy="551" r="8"/><circle cx="597" cy="483" r="8"/><circle cx="430" cy="464" r="8"/><circle cx="324" cy="440" r="8"/><circle cx="531" cy="523" r="8"/><circle cx="587" cy="425" r="8"/><circle cx="647" cy="324" r="8"/><circle cx="503" cy="461" r="8"/></g><g fill="#38b977"><circle cx="545" cy="310" r="8"/><circle cx="347" cy="330" r="8"/><circle cx="366" cy="379" r="8"/><circle cx="282" cy="490" r="8"/><circle cx="432" cy="378" r="8"/><circle cx="543" cy="458" r="8"/><circle cx="434" cy="417" r="8"/><circle cx="328" cy="499" r="8"/><circle cx="273" cy="459" r="8"/><circle cx="327" cy="430" r="8"/><circle cx="511" cy="447" r="8"/><circle cx="356" cy="512" r="8"/><circle cx="321" cy="321" r="8"/><circle cx="320" cy="437" r="8"/><circle cx="428" cy="430" r="8"/></g><g fill="#44bf70"><circle cx="440" cy="371" r="8"/></g><g fill="#50c46a"><circle cx="281" cy="408" r="8"/><circle cx="523" cy="456" r="8"/></g><g fill="#5ec962"><circle cx="437" cy="419" r="8"/><circle cx="272" cy="497" r="8"/><circle cx="332" cy="545" r="8"/><circle cx="512" cy="452" r="8"/></g><g fill="#6ccd5a"><circle cx="386" cy="425" r="8"/><circle cx="491" cy="351" r="8"/><circle cx="275" cy="383" r="8"/><circle cx="375" cy="473" r="8"/><circle cx="455" cy="514" r="8"/><circle cx="532" cy="366" r="8"/><circle cx="357" cy="451" r="8"/><circle cx="437" cy="475" r="8"/><circle cx="503" cy="454" r="8"/><circle cx="310" cy="547" r="8"/><circle cx="370" cy="544" r="8"/><circle cx="468" cy="477" r="8"/><circle cx="318" cy="415" r="8"/><circle cx="476" cy="587" r="8"/><circle cx="441" cy="484" r="8"/><circle cx="455" cy="522" r="8"/><circle cx="277" cy="383" r="8"/><circle cx="505" cy="354" r="8"/><circle cx="489" cy="447" r="8"/></g><g fill="#7ad151"><circle cx="464" cy="445" r="8"/><circle cx="553" cy="523" r="8"/><circle cx="327" cy="548" r="8"/><circle cx="391" cy="597" r="8"/><circle cx="353" cy="546" r="8"/><circle cx="493" cy="435" r="8"/><circle cx="534" cy="460" r="8"/><circle cx="339" cy="433" r="8"/><circle cx="650" cy="370" r="8"/><circle cx="454" cy="317" r="8"/><circle cx="288" cy="468" r="8"/><circle cx="360" cy="391" r="8"/><circle cx="304" cy="420" r="8"/><circle cx="675" cy="480" r="8"/><circle cx="479" cy="420" r="8"/><circle cx="418" cy="369" r="8"/><circle cx="351" cy="452" r="8"/><circle cx="422" cy="392" r="8"/><circle cx="369" cy="426" r="8"/><circle cx="442" cy="484" r="8"/><circle cx="434" cy="429" r="8"/><circle cx="471" cy="586" r="8"/><circle cx="278" cy="510" r="8"/><circle cx="427" cy="381" r="8"/><circle cx="275" cy="416" r="8"/><circle cx="299" cy="472" r="8"/><circle cx="306" cy="339" r="8"/></g><g fill="#8bd646"><circle cx="417" cy="448" r="8"/><circle cx="382" cy="419" r="8"/><circle cx="489" cy="468" r="8"/><circle cx="361" cy="424" r="8"/><circle cx="284" cy="412" r="8"/><circle cx="546" cy="368" r="8"/><circle cx="574" cy="391" r="8"/><circle cx="394" cy="372" r="8"/><circle cx="489" cy="436" r="8"/><circle cx="551" cy="476" r="8"/><circle cx="321" cy="538" r="8"/><circle cx="343" cy="363" r="8"/><circle cx="300" cy="420" r="8"/><circle cx="415" cy="403" r="8"/><circle cx="451" cy="397" r="8"/><circle cx="652" cy="376" r="8"/><circle cx="337" cy="392" r="8"/><circle cx="454" cy="367" r="8"/><circle cx="313" cy="350" r="8"/><circle cx="609" cy="437" r="8"/><circle cx="552" cy="397" r="8"/></g><g fill="#9bd93c"><circle cx="540" cy="397" r="8"/><circle cx="521" cy="405" r="8"/><circle cx="389" cy="442" r="8"/><circle cx="272" cy="405" r="8"/><circle cx="442" cy="449" r="8"/><circle cx="288" cy="433" r="8"/><circle cx="274" cy="426" r="8"/><circle cx="389" cy="411" r="8"/><circle cx="517" cy="438" r="8"/><circle cx="307" cy="410" r="8"/><circle cx="291" cy="580" r="8"/><circle cx="315" cy="401" r="8"/><circle cx="486" cy="423" r="8"/><circle cx="438" cy="401" r="8"/><circle cx="608" cy="357" r="8"/><circle cx="295" cy="483" r="8"/><circle cx="628" cy="342" r="8"/><circle cx="596" cy="423" r="8"/><circle cx="424" cy="581" r="8"/><circle cx="554" cy="530" r="8"/><circle cx="357" cy="387" r="8"/><circle cx="462" cy="370" r="8"/><circle cx="270" cy="422" r="8"/><circle cx="678" cy="295" r="8"/><circle cx="630" cy="458" r="8"/><circle cx="405" cy="407" r="8"/><circle cx="319" cy="347" r="8"/></g><g fill="#addc30"><circle cx="590" cy="545" r="8"/><circle cx="495" cy="339" r="8"/><circle cx="353" cy="489" r="8"/><circle cx="545" cy="402" r="8"/><circle cx="439" cy="340" r="8"/><circle cx="372" cy="454" r="8"/><circle cx="363" cy="360" r="8"/><circle cx="497" cy="439" r="8"/><circle cx="444" cy="428" r="8"/><circle cx="416" cy="480" r="8"/><circle cx="565" cy="370" r="8"/><circle cx="681" cy="441" r="8"/><circle cx="428" cy="482" r="8"/><circle cx="301" cy="419" r="8"/><circle cx="477" cy="473" r="8"/><circle cx="471" cy="462" r="8"/><circle cx="351" cy="513" r="8"/><circle cx="416" cy="514" r="8"/><circle cx="358" cy="409" r="8"/><circle cx="364" cy="485" r="8"/><circle cx="321" cy="424" r="8"/><circle cx="441" cy="414" r="8"/></g><g fill="#bddf26"><circle cx="402" cy="441" r="8"/><circle cx="539" cy="400" r="8"/><circle cx="443" cy="446" r="8"/><circle cx="290" cy="458" r="8"/><circle cx="411" cy="430" r="8"/><circle cx="584" cy="485" r="8"/><circle cx="495" cy="434" r="8"/><circle cx="534" cy="374" r="8"/><circle cx="307" cy="430" r="8"/><circle cx="337" cy="437" r="8"/><circle cx="427" cy="496" r="8"/><circle cx="298" cy="477" r="8"/><circle cx="451" cy="443" r="8"/><circle cx="486" cy="345" r="8"/><circle cx="291" cy="361" r="8"/><circle cx="453" cy="473" r="8"/><circle cx="298" cy="426" r="8"/><circle cx="536" cy="549" r="8"/><circle cx="389" cy="301" r="8"/><circle cx="278" cy="360" r="8"/><circle cx="463" cy="461" r="8"/><circle cx="577" cy="373" r="8"/><circle cx="432" cy="453" r="8"/><circle cx="387" cy="398" r="8"/><circle cx="283" cy="460" r="8"/><circle cx="476" cy="274" r="8"/><circle cx="273" cy="345" r="8"/><circle cx="318" cy="522" r="8"/><circle cx="331" cy="393" r="8"/></g><g fill="#cde11d"><circle cx="430" cy="419" r="8"/><circle cx="465" cy="441" r="8"/><circle cx="335" cy="418" r="8"/><circle cx="365" cy="460" r="8"/><circle cx="405" cy="456" r="8"/><circle cx="324" cy="377" r="8"/><circle cx="568" cy="372" r="8"/><circle cx="527" cy="510" r="8"/><circle cx="413" cy="429" r="8"/><circle cx="484" cy="508" r="8"/><circle cx="338" cy="370" r="8"/><circle cx="551" cy="459" r="8"/><circle cx="489" cy="349" r="8"/><circle cx="520" cy="371" r="8"/><circle cx="278" cy="399" r="8"/><circle cx="623" cy="586" r="8"/><circle cx="537" cy="380" r="8"/><circle cx="542" cy="523" r="8"/><circle cx="400" cy="316" r="8"/><circle cx="462" cy="459" r="8"/><circle cx="458" cy="417" r="8"/><circle cx="413" cy="448" r="8"/><circle cx="397" cy="423" r="8"/><circle cx="315" cy="461" r="8"/></g><g fill="#dfe318"><circle cx="448" cy="453" r="8"/><circle cx="302" cy="527" r="8"/><circle cx="423" cy="450" r="8"/><circle cx="324" cy="281" r="8"/><circle cx="570" cy="474" r="8"/><circle cx="628" cy="571" r="8"/><circle cx="428" cy="460" r="8"/><circle cx="290" cy="422" r="8"/><circle cx="617" cy="495" r="8"/><circle cx="288" cy="429" r="8"/><circle cx="552" cy="548" r="8"/><circle cx="420" cy="366" r="8"/><circle cx="522" cy="387" r="8"/><circle cx="395" cy="360" r="8"/><circle cx="472" cy="528" r="8"/><circle cx="355" cy="382" r="8"/><circle cx="319" cy="416" r="8"/><circle cx="592" cy="560" r="8"/><circle cx="460" cy="345" r="8"/><circle cx="415" cy="456" r="8"/><circle cx="536" cy="465" r="8"/><circle cx="460" cy="471" r="8"/><circle cx="573" cy="451" r="8"/><circle cx="277" cy="438" r="8"/></g><g fill="#efe51c"><circle cx="606" cy="621" r="8"/><circle cx="508" cy="392" r="8"/><circle cx="300" cy="347" r="8"/><circle cx="399" cy="403" r="8"/><circle cx="507" cy="423" r="8"/><circle cx="509" cy="491" r="8"/><circle cx="480" cy="487" r="8"/><circle cx="413" cy="557" r="8"/><circle cx="433" cy="364" r="8"/><circle cx="466" cy="400" r="8"/><circle cx="292" cy="340" r="8"/><circle cx="580" cy="430" r="8"/><circle cx="491" cy="465" r="8"/><circle cx="495" cy="413" r="8"/><circle cx="346" cy="388" r="8"/><circle cx="573" cy="419" r="8"/></g><g fill="#fde725"><circle cx="342" cy="395" r="8"/><circle cx="489" cy="378" r="8"/><circle cx="483" cy="463" r="8"/><circle cx="334" cy="450" r="8"/><circle cx="319" cy="394" r="8"/><circle cx="545" cy="437" r="8"/></g><g fill="#460a5d"><circle cx="844" cy="468" r="8"/></g><g fill="#471365"><circle cx="669" cy="484" r="8"/><circle cx="744" cy="482" r="8"/></g><g fill="#481c6e"><circle cx="749" cy="369" r="8"/><circle cx="817" cy="413" r="8"/></g><g fill="#482475"><circle cx="639" cy="428" r="8"/><circle cx="812" cy="522" r="8"/><circle cx="892" cy="545" r="8"/></g><g fill="#472d7b"><circle cx="784" cy="204" r="8"/></g><g fill="#463480"><circle cx="719" cy="351" r="8"/><circle cx="788" cy="526" r="8"/><circle cx="891" cy="414" r="8"/><circle cx="736" cy="503" r="8"/><circle cx="779" cy="476" r="8"/><circle cx="787" cy="599" r="8"/><circle cx="820" cy="386" r="8"/><circle cx="913" cy="468" r="8"/><circle cx="802" cy="429" r="8"/><circle cx="823" cy="446" r="8"/></g><g fill="#443b84"><circle cx="618" cy="470" r="8"/><circle cx="810" cy="250" r="8"/></g><g fill="#414487"><circle cx="818" cy="400" r="8"/><circle cx="737" cy="397" r="8"/><circle cx="723" cy="469" r="8"/></g><g fill="#3e4a89"><circle cx="662" cy="278" r="8"/><circle cx="652" cy="460" r="8"/><circle cx="761" cy="541" r="8"/></g><g fill="#3b528b"><circle cx="819" cy="378" r="8"/><circle cx="329" cy="491" r="8"/></g><g fill="#38598c"><circle cx="742" cy="381" r="8"/><circle cx="618" cy="428" r="8"/><circle cx="719" cy="576" r="8"/><circle cx="783" cy="380" r="8"/><circle cx="770" cy="441" r="8"/><circle cx="746" cy="498" r="8"/></g><g fill="#355f8d"><circle cx="567" cy="309" r="8"/><circle cx="733" cy="424" r="8"/><circle cx="920" cy="473" r="8"/><circle cx="359" cy="520" r="8"/><circle cx="576" cy="547" r="8"/><circle cx="721" cy="241" r="8"/><circle cx="747" cy="418" r="8"/><circle cx="429" cy="304" r="8"/><circle cx="738" cy="361" r="8"/><circle cx="435" cy="444" r="8"/><circle cx="681" cy="480" r="8"/><circle cx="765" cy="384" r="8"/><circle cx="808" cy="434" r="8"/></g><g fill="#31668e"><circle cx="544" cy="522" r="8"/><circle cx="939" cy="414" r="8"/><circle cx="806" cy="401" r="8"/><circle cx="945" cy="483" r="8"/><circle cx="692" cy="433" r="8"/><circle cx="717" cy="488" r="8"/><circle cx="645" cy="462" r="8"/><circle cx="687" cy="460" r="8"/><circle cx="819" cy="423" r="8"/><circle cx="576" cy="478" r="8"/><circle cx="722" cy="478" r="8"/><circle cx="493" cy="473" r="8"/><circle cx="609" cy="266" r="8"/><circle cx="543" cy="509" r="8"/><circle cx="740" cy="433" r="8"/><circle cx="875" cy="435" r="8"/><circle cx="714" cy="551" r="8"/><circle cx="603" cy="487" r="8"/><circle cx="656" cy="391" r="8"/><circle cx="697" cy="487" r="8"/><circle cx="725" cy="453" r="8"/></g><g fill="#2f6c8e"><circle cx="883" cy="425" r="8"/><circle cx="644" cy="463" r="8"/><circle cx="300" cy="411" r="8"/><circle cx="754" cy="421" r="8"/><circle cx="829" cy="471" r="8"/><circle cx="419" cy="457" r="8"/><circle cx="320" cy="523" r="8"/><circle cx="625" cy="476" r="8"/><circle cx="871" cy="419" r="8"/><circle cx="725" cy="481" r="8"/><circle cx="828" cy="428" r="8"/><circle cx="720" cy="511" r="8"/><circle cx="733" cy="327" r="8"/><circle cx="623" cy="495" r="8"/><circle cx="531" cy="352" r="8"/><circle cx="703" cy="622" r="8"/><circle cx="331" cy="530" r="8"/><circle cx="598" cy="366" r="8"/></g><g fill="#2c728e"><circle cx="745" cy="418" r="8"/><circle cx="627" cy="478" r="8"/><circle cx="291" cy="490" r="8"/><circle cx="667" cy="342" r="8"/><circle cx="761" cy="143" r="8"/><circle cx="599" cy="460" r="8"/><circle cx="766" cy="469" r="8"/><circle cx="861" cy="475" r="8"/><circle cx="776" cy="341" r="8"/><circle cx="651" cy="460" r="8"/><circle cx="302" cy="494" r="8"/><circle cx="379" cy="356" r="8"/><circle cx="707" cy="419" r="8"/><circle cx="543" cy="338" r="8"/><circle cx="741" cy="543" r="8"/><circle cx="891" cy="454" r="8"/><circle cx="736" cy="371" r="8"/><circle cx="535" cy="513" r="8"/><circle cx="383" cy="379" r="8"/><circle cx="670" cy="286" r="8"/><circle cx="420" cy="349" r="8"/><circle cx="665" cy="334" r="8"/><circle cx="701" cy="339" r="8"/><circle cx="596" cy="470" r="8"/><circle cx="295" cy="388" r="8"/><circle cx="764" cy="399" r="8"/><circle cx="702" cy="415" r="8"/><circle cx="770" cy="509" r="8"/><circle cx="416" cy="391" r="8"/></g><g fill="#2a788e"><circle cx="611" cy="441" r="8"/><circle cx="425" cy="362" r="8"/><circle cx="718" cy="356" r="8"/><circle cx="529" cy="339" r="8"/><circle cx="877" cy="408" r="8"/><circle cx="870" cy="424" r="8"/><circle cx="810" cy="445" r="8"/><circle cx="748" cy="395" r="8"/><circle cx="649" cy="621" r="8"/><circle cx="638" cy="397" r="8"/><circle cx="828" cy="424" r="8"/><circle cx="883" cy="463" r="8"/><circle cx="411" cy="479" r="8"/><circle cx="894" cy="451" r="8"/><circle cx="806" cy="443" r="8"/><circle cx="339" cy="364" r="8"/><circle cx="475" cy="415" r="8"/><circle cx="525" cy="399" r="8"/></g><g fill="#277e8e"><circle cx="787" cy="512" r="8"/><circle cx="739" cy="428" r="8"/><circle cx="596" cy="454" r="8"/><circle cx="662" cy="486" r="8"/><circle cx="629" cy="512" r="8"/><circle cx="844" cy="595" r="8"/><circle cx="823" cy="412" r="8"/><circle cx="942" cy="444" r="8"/><circle cx="752" cy="528" r="8"/><circle cx="708" cy="424" r="8"/><circle cx="500" cy="339" r="8"/><circle cx="812" cy="311" r="8"/><circle cx="913" cy="397" r="8"/><circle cx="826" cy="455" r="8"/><circle cx="704" cy="378" r="8"/><circle cx="722" cy="451" r="8"/><circle cx="591" cy="463" r="8"/><circle cx="636" cy="441" r="8"/><circle cx="816" cy="453" r="8"/><circle cx="596" cy="463" r="8"/><circle cx="725" cy="452" r="8"/><circle cx="899" cy="434" r="8"/></g><g fill="#25848e"><circle cx="778" cy="481" r="8"/><circle cx="673" cy="390" r="8"/><circle cx="627" cy="409" r="8"/><circle cx="837" cy="490" r="8"/><circle cx="818" cy="470" r="8"/><circle cx="770" cy="207" r="8"/><circle cx="567" cy="541" r="8"/><circle cx="689" cy="480" r="8"/><circle cx="743" cy="469" r="8"/><circle cx="794" cy="478" r="8"/><circle cx="718" cy="330" r="8"/><circle cx="748" cy="329" r="8"/><circle cx="736" cy="379" r="8"/><circle cx="894" cy="494" r="8"/><circle cx="880" cy="250" r="8"/><circle cx="729" cy="275" r="8"/><circle cx="840" cy="391" r="8"/><circle cx="698" cy="427" r="8"/><circle cx="607" cy="555" r="8"/><circle cx="796" cy="388" r="8"/><circle cx="711" cy="428" r="8"/><circle cx="695" cy="552" r="8"/><circle cx="714" cy="452" r="8"/><circle cx="790" cy="446" r="8"/><circle cx="474" cy="470" r="8"/><circle cx="814" cy="413" r="8"/><circle cx="821" cy="446" r="8"/><circle cx="776" cy="542" r="8"/><circle cx="742" cy="379" r="8"/><circle cx="708" cy="467" r="8"/></g><g fill="#238a8d"><circle cx="762" cy="343" r="8"/><circle cx="764" cy="458" r="8"/><circle cx="736" cy="369" r="8"/><circle cx="754" cy="358" r="8"/><circle cx="668" cy="381" r="8"/><circle cx="787" cy="497" r="8"/><circle cx="686" cy="488" r="8"/><circle cx="728" cy="424" r="8"/><circle cx="730" cy="479" r="8"/><circle cx="776" cy="442" r="8"/><circle cx="726" cy="421" r="8"/><circle cx="654" cy="411" r="8"/><circle cx="783" cy="412" r="8"/><circle cx="705" cy="509" r="8"/><circle cx="934" cy="437" r="8"/><circle cx="743" cy="430" r="8"/><circle cx="767" cy="521" r="8"/><circle cx="586" cy="459" r="8"/><circle cx="786" cy="481" r="8"/><circle cx="718" cy="435" r="8"/><circle cx="694" cy="366" r="8"/><circle cx="612" cy="367" r="8"/><circle cx="763" cy="344" r="8"/><circle cx="707" cy="438" r="8"/><circle cx="721" cy="437" r="8"/><circle cx="687" cy="479" r="8"/><circle cx="771" cy="309" r="8"/><circle cx="718" cy="436" r="8"/><circle cx="464" cy="365" r="8"/><circle cx="820" cy="457" r="8"/><circle cx="675" cy="280" r="8"/><circle cx="624" cy="340" r="8"/><circle cx="696" cy="497" r="8"/><circle cx="697" cy="482" r="8"/><circle cx="543" cy="381" r="8"/><circle cx="696" cy="529" r="8"/><circle cx="776" cy="410" r="8"/><circle cx="665" cy="497" r="8"/><circle cx="770" cy="509" r="8"/><circle cx="797" cy="440" r="8"/><circle cx="686" cy="292" r="8"/><circle cx="470" cy="466" r="8"/><circle cx="727" cy="606" r="8"/><circle cx="611" cy="553" r="8"/><circle cx="690" cy="483" r="8"/></g><g fill="#21918c"><circle cx="709" cy="479" r="8"/><circle cx="629" cy="278" r="8"/><circle cx="814" cy="460" r="8"/><circle cx="706" cy="560" r="8"/><circle cx="900" cy="430" r="8"/><circle cx="797" cy="469" r="8"/><circle cx="451" cy="502" r="8"/><circle cx="620" cy="351" r="8"/><circle cx="367" cy="453" r="8"/><circle cx="466" cy="397" r="8"/><circle cx="628" cy="507" r="8"/><circle cx="771" cy="494" r="8"/><circle cx="708" cy="407" r="8"/><circle cx="611" cy="347" r="8"/><circle cx="657" cy="451" r="8"/><circle cx="708" cy="539" r="8"/><circle cx="516" cy="369" r="8"/><circle cx="650" cy="492" r="8"/><circle cx="540" cy="497" r="8"/><circle cx="597" cy="537" r="8"/><circle cx="652" cy="491" r="8"/><circle cx="713" cy="451" r="8"/><circle cx="639" cy="436" r="8"/><circle cx="575" cy="358" r="8"/><circle cx="909" cy="430" r="8"/><circle cx="722" cy="415" r="8"/><circle cx="604" cy="470" r="8"/><circle cx="744" cy="494" r="8"/><circle cx="689" cy="336" r="8"/><circle cx="290" cy="473" r="8"/><circle cx="782" cy="452" r="8"/><circle cx="465" cy="373" r="8"/><circle cx="704" cy="487" r="8"/><circle cx="775" cy="418" r="8"/><circle cx="488" cy="397" r="8"/><circle cx="644" cy="466" r="8"/><circle cx="798" cy="445" r="8"/><circle cx="371" cy="446" r="8"/><circle cx="469" cy="399" r="8"/><circle cx="272" cy="463" r="8"/><circle cx="698" cy="377" r="8"/><circle cx="340" cy="439" r="8"/><circle cx="589" cy="383" r="8"/><circle cx="680" cy="515" r="8"/><circle cx="717" cy="514" r="8"/><circle cx="619" cy="362" r="8"/><circle cx="665" cy="376" r="8"/><circle cx="770" cy="495" r="8"/><circle cx="734" cy="420" r="8"/><circle cx="415" cy="464" r="8"/><circle cx="370" cy="403" r="8"/><circle cx="821" cy="505" r="8"/><circle cx="618" cy="482" r="8"/><circle cx="605" cy="416" r="8"/><circle cx="715" cy="438" r="8"/><circle cx="308" cy="450" r="8"/><circle cx="580" cy="250" r="8"/><circle cx="399" cy="380" r="8"/><circle cx="621" cy="386" r="8"/><circle cx="576" cy="536" r="8"/><circle cx="481" cy="412" r="8"/><circle cx="680" cy="420" r="8"/><circle cx="712" cy="537" r="8"/><circle cx="755" cy="494" r="8"/><circle cx="521" cy="371" r="8"/></g><g fill="#1f968b"><circle cx="521" cy="366" r="8"/><circle cx="770" cy="489" r="8"/><circle cx="431" cy="406" r="8"/><circle cx="568" cy="568" r="8"/><circle cx="528" cy="479" r="8"/><circle cx="531" cy="512" r="8"/><circle cx="453" cy="400" r="8"/><circle cx="755" cy="503" r="8"/><circle cx="634" cy="383" r="8"/><circle cx="248" cy="459" r="8"/><circle cx="315" cy="395" r="8"/><circle cx="705" cy="538" r="8"/><circle cx="769" cy="519" r="8"/><circle cx="662" cy="445" r="8"/><circle cx="690" cy="501" r="8"/><circle cx="792" cy="525" r="8"/><circle cx="839" cy="426" r="8"/><circle cx="758" cy="508" r="8"/><circle cx="494" cy="449" r="8"/><circle cx="611" cy="449" r="8"/><circle cx="832" cy="512" r="8"/><circle cx="450" cy="639" r="8"/><circle cx="760" cy="505" r="8"/><circle cx="463" cy="433" r="8"/><circle cx="535" cy="509" r="8"/><circle cx="655" cy="402" r="8"/><circle cx="652" cy="549" r="8"/><circle cx="707" cy="519" r="8"/><circle cx="658" cy="495" r="8"/><circle cx="839" cy="406" r="8"/><circle cx="409" cy="398" r="8"/><circle cx="681" cy="402" r="8"/><circle cx="713" cy="516" r="8"/><circle cx="558" cy="357" r="8"/><circle cx="773" cy="508" r="8"/><circle cx="511" cy="393" r="8"/><circle cx="909" cy="421" r="8"/><circle cx="466" cy="385" r="8"/><circle cx="815" cy="475" r="8"/><circle cx="477" cy="430" r="8"/><circle cx="613" cy="497" r="8"/><circle cx="628" cy="489" r="8"/><circle cx="665" cy="374" r="8"/><circle cx="405" cy="341" r="8"/><circle cx="890" cy="496" r="8"/><circle cx="376" cy="451" r="8"/><circle cx="611" cy="522" r="8"/><circle cx="458" cy="384" r="8"/><circle cx="766" cy="366" r="8"/><circle cx="472" cy="367" r="8"/><circle cx="539" cy="568" r="8"/><circle cx="818" cy="463" r="8"/><circle cx="570" cy="335" r="8"/><circle cx="570" cy="567" r="8"/><circle cx="459" cy="363" r="8"/><circle cx="565" cy="380" r="8"/><circle cx="325" cy="402" r="8"/><circle cx="459" cy="383" r="8"/><circle cx="738" cy="464" r="8"/><circle cx="574" cy="361" r="8"/><circle cx="698" cy="457" r="8"/><circle cx="271" cy="428" r="8"/><circle cx="643" cy="410" r="8"/><circle cx="572" cy="573" r="8"/><circle cx="524" cy="431" r="8"/><circle cx="411" cy="442" r="8"/><circle cx="774" cy="380" r="8"/></g><g fill="#1e9c89"><circle cx="409" cy="445" r="8"/><circle cx="477" cy="387" r="8"/><circle cx="581" cy="409" r="8"/><circle cx="481" cy="398" r="8"/><circle cx="476" cy="494" r="8"/><circle cx="671" cy="405" r="8"/><circle cx="703" cy="594" r="8"/><circle cx="525" cy="284" r="8"/><circle cx="595" cy="469" r="8"/><circle cx="314" cy="456" r="8"/><circle cx="266" cy="349" r="8"/><circle cx="742" cy="471" r="8"/><circle cx="719" cy="474" r="8"/><circle cx="562" cy="434" r="8"/><circle cx="644" cy="441" r="8"/><circle cx="321" cy="398" r="8"/><circle cx="639" cy="409" r="8"/><circle cx="614" cy="412" r="8"/><circle cx="474" cy="501" r="8"/><circle cx="652" cy="485" r="8"/><circle cx="276" cy="512" r="8"/><circle cx="788" cy="505" r="8"/><circle cx="613" cy="470" r="8"/><circle cx="376" cy="448" r="8"/><circle cx="689" cy="494" r="8"/><circle cx="446" cy="373" r="8"/><circle cx="689" cy="361" r="8"/><circle cx="608" cy="451" r="8"/><circle cx="546" cy="641" r="8"/><circle cx="684" cy="453" r="8"/><circle cx="732" cy="459" r="8"/><circle cx="413" cy="514" r="8"/><circle cx="798" cy="476" r="8"/><circle cx="736" cy="535" r="8"/><circle cx="555" cy="536" r="8"/><circle cx="622" cy="494" r="8"/><circle cx="559" cy="242" r="8"/><circle cx="480" cy="394" r="8"/><circle cx="709" cy="253" r="8"/><circle cx="460" cy="394" r="8"/><circle cx="697" cy="489" r="8"/><circle cx="514" cy="369" r="8"/><circle cx="767" cy="516" r="8"/><circle cx="303" cy="470" r="8"/><circle cx="566" cy="380" r="8"/><circle cx="785" cy="473" r="8"/><circle cx="412" cy="428" r="8"/><circle cx="435" cy="491" r="8"/><circle cx="443" cy="459" r="8"/><circle cx="486" cy="484" r="8"/><circle cx="464" cy="495" r="8"/><circle cx="708" cy="347" r="8"/><circle cx="336" cy="391" r="8"/><circle cx="703" cy="391" r="8"/><circle cx="582" cy="520" r="8"/><circle cx="866" cy="469" r="8"/><circle cx="456" cy="388" r="8"/><circle cx="682" cy="520" r="8"/><circle cx="584" cy="496" r="8"/><circle cx="426" cy="474" r="8"/><circle cx="740" cy="548" r="8"/><circle cx="552" cy="364" r="8"/><circle cx="300" cy="467" r="8"/><circle cx="634" cy="501" r="8"/><circle cx="400" cy="377" r="8"/></g><g fill="#1fa287"><circle cx="678" cy="446" r="8"/><circle cx="608" cy="422" r="8"/><circle cx="685" cy="487" r="8"/><circle cx="594" cy="424" r="8"/><circle cx="611" cy="585" r="8"/><circle cx="636" cy="389" r="8"/><circle cx="355" cy="413" r="8"/><circle cx="707" cy="427" r="8"/><circle cx="609" cy="383" r="8"/><circle cx="446" cy="399" r="8"/><circle cx="671" cy="360" r="8"/><circle cx="657" cy="487" r="8"/><circle cx="639" cy="452" r="8"/><circle cx="560" cy="501" r="8"/><circle cx="647" cy="463" r="8"/><circle cx="598" cy="389" r="8"/><circle cx="729" cy="327" r="8"/><circle cx="439" cy="415" r="8"/><circle cx="430" cy="449" r="8"/><circle cx="511" cy="444" r="8"/><circle cx="487" cy="429" r="8"/><circle cx="532" cy="469" r="8"/><circle cx="678" cy="479" r="8"/><circle cx="660" cy="377" r="8"/><circle cx="634" cy="373" r="8"/><circle cx="762" cy="405" r="8"/><circle cx="506" cy="530" r="8"/><circle cx="497" cy="527" r="8"/><circle cx="390" cy="428" r="8"/><circle cx="365" cy="599" r="8"/><circle cx="227" cy="401" r="8"/><circle cx="696" cy="462" r="8"/><circle cx="328" cy="454" r="8"/><circle cx="300" cy="409" r="8"/><circle cx="694" cy="490" r="8"/><circle cx="716" cy="478" r="8"/><circle cx="729" cy="332" r="8"/><circle cx="642" cy="412" r="8"/><circle cx="563" cy="591" r="8"/><circle cx="783" cy="478" r="8"/><circle cx="671" cy="296" r="8"/><circle cx="528" cy="387" r="8"/><circle cx="378" cy="375" r="8"/><circle cx="321" cy="395" r="8"/><circle cx="341" cy="536" r="8"/><circle cx="277" cy="383" r="8"/><circle cx="716" cy="390" r="8"/></g><g fill="#22a884"><circle cx="698" cy="453" r="8"/><circle cx="765" cy="295" r="8"/><circle cx="326" cy="463" r="8"/><circle cx="649" cy="314" r="8"/><circle cx="512" cy="447" r="8"/><circle cx="425" cy="488" r="8"/><circle cx="590" cy="337" r="8"/><circle cx="586" cy="297" r="8"/><circle cx="395" cy="446" r="8"/><circle cx="603" cy="421" r="8"/><circle cx="561" cy="453" r="8"/><circle cx="669" cy="428" r="8"/><circle cx="669" cy="332" r="8"/><circle cx="719" cy="468" r="8"/><circle cx="601" cy="544" r="8"/><circle cx="636" cy="316" r="8"/><circle cx="673" cy="459" r="8"/><circle cx="507" cy="398" r="8"/><circle cx="349" cy="514" r="8"/><circle cx="688" cy="368" r="8"/><circle cx="470" cy="326" r="8"/><circle cx="542" cy="399" r="8"/><circle cx="436" cy="473" r="8"/><circle cx="718" cy="322" r="8"/><circle cx="377" cy="412" r="8"/><circle cx="362" cy="384" r="8"/><circle cx="705" cy="440" r="8"/><circle cx="615" cy="337" r="8"/><circle cx="597" cy="405" r="8"/><circle cx="649" cy="504" r="8"/><circle cx="512" cy="427" r="8"/><circle cx="289" cy="422" r="8"/><circle cx="352" cy="377" r="8"/><circle cx="625" cy="482" r="8"/><circle cx="555" cy="396" r="8"/><circle cx="387" cy="406" r="8"/><circle cx="688" cy="466" r="8"/><circle cx="596" cy="296" r="8"/><circle cx="360" cy="433" r="8"/><circle cx="423" cy="478" r="8"/><circle cx="547" cy="422" r="8"/><circle cx="637" cy="393" r="8"/><circle cx="276" cy="467" r="8"/><circle cx="284" cy="501" r="8"/><circle cx="607" cy="378" r="8"/><circle cx="633" cy="412" r="8"/><circle cx="445" cy="526" r="8"/><circle cx="677" cy="363" r="8"/><circle cx="302" cy="466" r="8"/><circle cx="616" cy="511" r="8"/><circle cx="618" cy="374" r="8"/></g><g fill="#28ae80"><circle cx="599" cy="507" r="8"/><circle cx="590" cy="418" r="8"/><circle cx="413" cy="364" r="8"/><circle cx="408" cy="466" r="8"/><circle cx="309" cy="416" r="8"/><circle cx="616" cy="506" r="8"/><circle cx="525" cy="425" r="8"/><circle cx="484" cy="383" r="8"/><circle cx="312" cy="407" r="8"/><circle cx="397" cy="392" r="8"/><circle cx="223" cy="424" r="8"/><circle cx="247" cy="496" r="8"/><circle cx="379" cy="434" r="8"/><circle cx="507" cy="459" r="8"/><circle cx="378" cy="433" r="8"/><circle cx="630" cy="475" r="8"/><circle cx="338" cy="497" r="8"/><circle cx="390" cy="369" r="8"/><circle cx="523" cy="473" r="8"/><circle cx="422" cy="501" r="8"/><circle cx="306" cy="440" r="8"/><circle cx="542" cy="520" r="8"/><circle cx="644" cy="464" r="8"/><circle cx="576" cy="486" r="8"/><circle cx="508" cy="463" r="8"/><circle cx="616" cy="462" r="8"/><circle cx="387" cy="341" r="8"/><circle cx="575" cy="368" r="8"/><circle cx="582" cy="402" r="8"/><circle cx="635" cy="455" r="8"/><circle cx="286" cy="494" r="8"/><circle cx="645" cy="554" r="8"/><circle cx="562" cy="428" r="8"/><circle cx="294" cy="557" r="8"/><circle cx="577" cy="405" r="8"/><circle cx="550" cy="469" r="8"/><circle cx="510" cy="440" r="8"/><circle cx="363" cy="370" r="8"/><circle cx="360" cy="396" r="8"/><circle cx="518" cy="451" r="8"/><circle cx="387" cy="438" r="8"/><circle cx="510" cy="431" r="8"/><circle cx="606" cy="376" r="8"/></g><g fill="#2fb47c"><circle cx="319" cy="443" r="8"/><circle cx="248" cy="444" r="8"/><circle cx="683" cy="335" r="8"/><circle cx="571" cy="455" r="8"/><circle cx="592" cy="431" r="8"/><circle cx="542" cy="475" r="8"/><circle cx="405" cy="452" r="8"/><circle cx="621" cy="500" r="8"/><circle cx="312" cy="434" r="8"/><circle cx="378" cy="392" r="8"/><circle cx="221" cy="442" r="8"/><circle cx="600" cy="428" r="8"/><circle cx="485" cy="435" r="8"/><circle cx="539" cy="383" r="8"/><circle cx="535" cy="432" r="8"/><circle cx="476" cy="393" r="8"/><circle cx="517" cy="466" r="8"/><circle cx="595" cy="381" r="8"/><circle cx="394" cy="459" r="8"/><circle cx="636" cy="329" r="8"/><circle cx="331" cy="499" r="8"/><circle cx="526" cy="485" r="8"/><circle cx="607" cy="433" r="8"/><circle cx="399" cy="308" r="8"/><circle cx="643" cy="547" r="8"/><circle cx="586" cy="402" r="8"/><circle cx="484" cy="401" r="8"/><circle cx="363" cy="362" r="8"/><circle cx="546" cy="318" r="8"/><circle cx="531" cy="440" r="8"/><circle cx="586" cy="458" r="8"/><circle cx="324" cy="530" r="8"/><circle cx="594" cy="371" r="8"/><circle cx="358" cy="440" r="8"/><circle cx="430" cy="389" r="8"/></g><g fill="#38b977"><circle cx="515" cy="380" r="8"/><circle cx="450" cy="391" r="8"/><circle cx="370" cy="414" r="8"/><circle cx="326" cy="436" r="8"/><circle cx="283" cy="407" r="8"/><circle cx="449" cy="414" r="8"/><circle cx="447" cy="476" r="8"/><circle cx="495" cy="468" r="8"/><circle cx="275" cy="439" r="8"/><circle cx="332" cy="558" r="8"/><circle cx="327" cy="593" r="8"/></g><g fill="#44bf70"><circle cx="537" cy="405" r="8"/><circle cx="316" cy="436" r="8"/><circle cx="269" cy="494" r="8"/><circle cx="382" cy="392" r="8"/></g><g fill="#50c46a"><circle cx="534" cy="350" r="8"/><circle cx="591" cy="410" r="8"/><circle cx="348" cy="411" r="8"/><circle cx="589" cy="466" r="8"/></g><g fill="#5ec962"><circle cx="337" cy="440" r="8"/><circle cx="549" cy="538" r="8"/><circle cx="268" cy="524" r="8"/><circle cx="471" cy="405" r="8"/><circle cx="411" cy="502" r="8"/><circle cx="493" cy="548" r="8"/><circle cx="538" cy="471" r="8"/><circle cx="444" cy="522" r="8"/><circle cx="299" cy="350" r="8"/><circle cx="492" cy="359" r="8"/></g><g fill="#6ccd5a"><circle cx="541" cy="380" r="8"/><circle cx="437" cy="372" r="8"/><circle cx="496" cy="367" r="8"/><circle cx="342" cy="469" r="8"/><circle cx="453" cy="458" r="8"/><circle cx="296" cy="405" r="8"/><circle cx="524" cy="428" r="8"/><circle cx="413" cy="422" r="8"/><circle cx="601" cy="376" r="8"/><circle cx="491" cy="460" r="8"/><circle cx="516" cy="444" r="8"/><circle cx="352" cy="449" r="8"/><circle cx="310" cy="398" r="8"/></g><g fill="#7ad151"><circle cx="423" cy="508" r="8"/><circle cx="421" cy="375" r="8"/><circle cx="422" cy="490" r="8"/><circle cx="299" cy="488" r="8"/><circle cx="621" cy="431" r="8"/><circle cx="448" cy="460" r="8"/><circle cx="301" cy="460" r="8"/><circle cx="335" cy="317" r="8"/><circle cx="519" cy="360" r="8"/><circle cx="594" cy="348" r="8"/><circle cx="404" cy="496" r="8"/><circle cx="574" cy="333" r="8"/><circle cx="354" cy="439" r="8"/><circle cx="300" cy="492" r="8"/><circle cx="431" cy="462" r="8"/><circle cx="579" cy="435" r="8"/><circle cx="266" cy="429" r="8"/><circle cx="358" cy="495" r="8"/><circle cx="317" cy="444" r="8"/><circle cx="429" cy="406" r="8"/></g><g fill="#8bd646"><circle cx="677" cy="606" r="8"/><circle cx="436" cy="461" r="8"/><circle cx="268" cy="410" r="8"/><circle cx="342" cy="494" r="8"/><circle cx="447" cy="457" r="8"/><circle cx="617" cy="365" r="8"/><circle cx="285" cy="440" r="8"/><circle cx="476" cy="407" r="8"/><circle cx="295" cy="413" r="8"/><circle cx="490" cy="395" r="8"/><circle cx="428" cy="367" r="8"/><circle cx="609" cy="302" r="8"/><circle cx="442" cy="430" r="8"/><circle cx="264" cy="412" r="8"/><circle cx="415" cy="481" r="8"/><circle cx="558" cy="402" r="8"/><circle cx="300" cy="462" r="8"/><circle cx="594" cy="426" r="8"/><circle cx="537" cy="432" r="8"/><circle cx="383" cy="408" r="8"/><circle cx="357" cy="504" r="8"/><circle cx="349" cy="450" r="8"/><circle cx="476" cy="483" r="8"/><circle cx="520" cy="427" r="8"/><circle cx="285" cy="491" r="8"/><circle cx="592" cy="541" r="8"/><circle cx="355" cy="457" r="8"/><circle cx="438" cy="468" r="8"/><circle cx="530" cy="413" r="8"/><circle cx="370" cy="404" r="8"/><circle cx="356" cy="396" r="8"/><circle cx="386" cy="387" r="8"/><circle cx="636" cy="379" r="8"/><circle cx="335" cy="493" r="8"/></g><g fill="#9bd93c"><circle cx="510" cy="516" r="8"/><circle cx="360" cy="466" r="8"/><circle cx="503" cy="517" r="8"/><circle cx="308" cy="468" r="8"/><circle cx="546" cy="412" r="8"/><circle cx="479" cy="496" r="8"/><circle cx="331" cy="509" r="8"/><circle cx="338" cy="476" r="8"/><circle cx="285" cy="410" r="8"/><circle cx="306" cy="408" r="8"/><circle cx="651" cy="383" r="8"/><circle cx="514" cy="377" r="8"/><circle cx="296" cy="427" r="8"/><circle cx="314" cy="524" r="8"/><circle cx="344" cy="446" r="8"/><circle cx="482" cy="437" r="8"/><circle cx="348" cy="443" r="8"/><circle cx="537" cy="546" r="8"/><circle cx="317" cy="529" r="8"/><circle cx="349" cy="516" r="8"/><circle cx="266" cy="412" r="8"/><circle cx="302" cy="348" r="8"/><circle cx="475" cy="461" r="8"/><circle cx="305" cy="493" r="8"/><circle cx="375" cy="521" r="8"/><circle cx="408" cy="431" r="8"/><circle cx="594" cy="494" r="8"/><circle cx="283" cy="359" r="8"/><circle cx="370" cy="426" r="8"/><circle cx="267" cy="413" r="8"/><circle cx="304" cy="491" r="8"/></g><g fill="#addc30"><circle cx="436" cy="677" r="8"/><circle cx="396" cy="603" r="8"/><circle cx="298" cy="440" r="8"/><circle cx="371" cy="449" r="8"/><circle cx="462" cy="394" r="8"/><circle cx="443" cy="485" r="8"/><circle cx="315" cy="527" r="8"/><circle cx="421" cy="473" r="8"/><circle cx="466" cy="383" r="8"/><circle cx="360" cy="410" r="8"/><circle cx="681" cy="377" r="8"/><circle cx="412" cy="401" r="8"/><circle cx="292" cy="361" r="8"/><circle cx="396" cy="325" r="8"/><circle cx="559" cy="445" r="8"/><circle cx="326" cy="397" r="8"/><circle cx="323" cy="478" r="8"/><circle cx="392" cy="531" r="8"/><circle cx="286" cy="417" r="8"/><circle cx="370" cy="405" r="8"/><circle cx="446" cy="395" r="8"/><circle cx="497" cy="380" r="8"/><circle cx="304" cy="518" r="8"/><circle cx="554" cy="468" r="8"/><circle cx="513" cy="384" r="8"/><circle cx="531" cy="397" r="8"/><circle cx="366" cy="453" r="8"/></g><g fill="#bddf26"><circle cx="378" cy="398" r="8"/><circle cx="302" cy="481" r="8"/><circle cx="439" cy="270" r="8"/><circle cx="362" cy="475" r="8"/><circle cx="415" cy="441" r="8"/><circle cx="442" cy="346" r="8"/><circle cx="359" cy="496" r="8"/><circle cx="517" cy="405" r="8"/><circle cx="389" cy="448" r="8"/><circle cx="306" cy="382" r="8"/><circle cx="384" cy="480" r="8"/><circle cx="346" cy="506" r="8"/><circle cx="350" cy="450" r="8"/><circle cx="356" cy="397" r="8"/><circle cx="522" cy="229" r="8"/><circle cx="355" cy="386" r="8"/><circle cx="355" cy="494" r="8"/><circle cx="373" cy="307" r="8"/><circle cx="304" cy="394" r="8"/><circle cx="508" cy="511" r="8"/><circle cx="455" cy="363" r="8"/><circle cx="597" cy="547" r="8"/><circle cx="460" cy="377" r="8"/><circle cx="608" cy="437" r="8"/><circle cx="364" cy="403" r="8"/><circle cx="553" cy="519" r="8"/><circle cx="299" cy="419" r="8"/><circle cx="480" cy="340" r="8"/><circle cx="432" cy="430" r="8"/></g><g fill="#cde11d"><circle cx="436" cy="455" r="8"/><circle cx="504" cy="413" r="8"/><circle cx="409" cy="533" r="8"/><circle cx="398" cy="350" r="8"/><circle cx="502" cy="434" r="8"/><circle cx="414" cy="426" r="8"/><circle cx="434" cy="406" r="8"/><circle cx="320" cy="411" r="8"/><circle cx="537" cy="502" r="8"/><circle cx="506" cy="434" r="8"/><circle cx="600" cy="477" r="8"/><circle cx="387" cy="449" r="8"/><circle cx="452" cy="414" r="8"/><circle cx="564" cy="536" r="8"/><circle cx="349" cy="444" r="8"/><circle cx="413" cy="413" r="8"/><circle cx="368" cy="486" r="8"/><circle cx="339" cy="398" r="8"/><circle cx="572" cy="459" r="8"/><circle cx="384" cy="373" r="8"/><circle cx="476" cy="374" r="8"/><circle cx="447" cy="414" r="8"/><circle cx="390" cy="465" r="8"/><circle cx="543" cy="420" r="8"/><circle cx="657" cy="276" r="8"/><circle cx="313" cy="531" r="8"/><circle cx="367" cy="490" r="8"/><circle cx="362" cy="456" r="8"/></g><g fill="#dfe318"><circle cx="372" cy="483" r="8"/><circle cx="428" cy="394" r="8"/><circle cx="560" cy="375" r="8"/><circle cx="320" cy="449" r="8"/><circle cx="413" cy="444" r="8"/><circle cx="311" cy="409" r="8"/><circle cx="360" cy="499" r="8"/><circle cx="364" cy="412" r="8"/><circle cx="448" cy="459" r="8"/><circle cx="328" cy="457" r="8"/><circle cx="461" cy="415" r="8"/><circle cx="448" cy="443" r="8"/><circle cx="441" cy="504" r="8"/><circle cx="402" cy="356" r="8"/><circle cx="402" cy="486" r="8"/><circle cx="272" cy="464" r="8"/><circle cx="329" cy="494" r="8"/></g><g fill="#efe51c"><circle cx="307" cy="351" r="8"/><circle cx="500" cy="484" r="8"/><circle cx="574" cy="348" r="8"/><circle cx="350" cy="533" r="8"/><circle cx="422" cy="398" r="8"/><circle cx="414" cy="417" r="8"/><circle cx="315" cy="509" r="8"/><circle cx="443" cy="378" r="8"/><circle cx="328" cy="405" r="8"/><circle cx="289" cy="472" r="8"/><circle cx="373" cy="294" r="8"/><circle cx="646" cy="467" r="8"/><circle cx="336" cy="364" r="8"/></g><g fill="#fde725"><circle cx="326" cy="362" r="8"/><circle cx="488" cy="371" r="8"/><circle cx="387" cy="419" r="8"/></g><g fill="#471365"><circle cx="720" cy="474" r="8"/><circle cx="838" cy="434" r="8"/></g><g fill="#481c6e"><circle cx="670" cy="480" r="8"/><circle cx="707" cy="341" r="8"/><circle cx="740" cy="358" r="8"/></g><g fill="#482475"><circle cx="774" cy="225" r="8"/><circle cx="727" cy="371" r="8"/></g><g fill="#472d7b"><circle cx="812" cy="387" r="8"/><circle cx="702" cy="366" r="8"/><circle cx="894" cy="496" r="8"/></g><g fill="#463480"><circle cx="721" cy="483" r="8"/><circle cx="801" cy="451" r="8"/><circle cx="811" cy="392" r="8"/></g><g fill="#443b84"><circle cx="791" cy="466" r="8"/><circle cx="656" cy="570" r="8"/><circle cx="793" cy="346" r="8"/><circle cx="711" cy="420" r="8"/></g><g fill="#414487"><circle cx="820" cy="492" r="8"/><circle cx="656" cy="465" r="8"/><circle cx="796" cy="590" r="8"/><circle cx="800" cy="543" r="8"/><circle cx="733" cy="398" r="8"/></g><g fill="#3e4a89"><circle cx="885" cy="461" r="8"/><circle cx="804" cy="332" r="8"/><circle cx="641" cy="462" r="8"/><circle cx="872" cy="451" r="8"/></g><g fill="#3b528b"><circle cx="341" cy="504" r="8"/><circle cx="661" cy="428" r="8"/><circle cx="740" cy="543" r="8"/><circle cx="617" cy="425" r="8"/><circle cx="855" cy="390" r="8"/></g><g fill="#38598c"><circle cx="351" cy="489" r="8"/><circle cx="736" cy="394" r="8"/><circle cx="446" cy="404" r="8"/><circle cx="831" cy="468" r="8"/><circle cx="610" cy="435" r="8"/><circle cx="824" cy="357" r="8"/><circle cx="619" cy="452" r="8"/></g><g fill="#355f8d"><circle cx="712" cy="416" r="8"/><circle cx="778" cy="392" r="8"/><circle cx="615" cy="335" r="8"/><circle cx="877" cy="451" r="8"/><circle cx="795" cy="448" r="8"/><circle cx="742" cy="447" r="8"/><circle cx="343" cy="435" r="8"/><circle cx="265" cy="416" r="8"/><circle cx="884" cy="429" r="8"/><circle cx="755" cy="425" r="8"/><circle cx="494" cy="256" r="8"/><circle cx="635" cy="518" r="8"/><circle cx="723" cy="212" r="8"/><circle cx="665" cy="435" r="8"/><circle cx="843" cy="427" r="8"/><circle cx="744" cy="423" r="8"/><circle cx="498" cy="480" r="8"/><circle cx="893" cy="445" r="8"/><circle cx="711" cy="363" r="8"/><circle cx="566" cy="510" r="8"/><circle cx="661" cy="316" r="8"/><circle cx="731" cy="455" r="8"/><circle cx="863" cy="450" r="8"/><circle cx="735" cy="486" r="8"/><circle cx="750" cy="408" r="8"/></g><g fill="#31668e"><circle cx="388" cy="430" r="8"/><circle cx="800" cy="453" r="8"/><circle cx="628" cy="518" r="8"/><circle cx="432" cy="447" r="8"/><circle cx="529" cy="385" r="8"/><circle cx="298" cy="493" r="8"/><circle cx="748" cy="338" r="8"/><circle cx="592" cy="429" r="8"/><circle cx="817" cy="474" r="8"/><circle cx="708" cy="460" r="8"/><circle cx="533" cy="473" r="8"/><circle cx="816" cy="435" r="8"/><circle cx="422" cy="474" r="8"/><circle cx="718" cy="440" r="8"/><circle cx="686" cy="344" r="8"/><circle cx="341" cy="364" r="8"/><circle cx="307" cy="493" r="8"/><circle cx="577" cy="322" r="8"/><circle cx="519" cy="424" r="8"/><circle cx="731" cy="495" r="8"/><circle cx="834" cy="441" r="8"/><circle cx="627" cy="513" r="8"/><circle cx="790" cy="448" r="8"/><circle cx="772" cy="405" r="8"/><circle cx="533" cy="462" r="8"/><circle cx="892" cy="446" r="8"/><circle cx="733" cy="305" r="8"/></g><g fill="#2f6c8e"><circle cx="875" cy="561" r="8"/><circle cx="848" cy="438" r="8"/><circle cx="662" cy="329" r="8"/><circle cx="742" cy="468" r="8"/><circle cx="544" cy="554" r="8"/><circle cx="669" cy="329" r="8"/><circle cx="366" cy="295" r="8"/><circle cx="460" cy="414" r="8"/><circle cx="746" cy="350" r="8"/><circle cx="712" cy="483" r="8"/><circle cx="897" cy="461" r="8"/><circle cx="870" cy="474" r="8"/><circle cx="841" cy="412" r="8"/><circle cx="407" cy="517" r="8"/><circle cx="369" cy="508" r="8"/><circle cx="675" cy="470" r="8"/><circle cx="431" cy="450" r="8"/></g><g fill="#2c728e"><circle cx="530" cy="383" r="8"/><circle cx="786" cy="464" r="8"/><circle cx="320" cy="404" r="8"/><circle cx="815" cy="532" r="8"/><circle cx="872" cy="476" r="8"/><circle cx="760" cy="411" r="8"/><circle cx="437" cy="469" r="8"/><circle cx="790" cy="318" r="8"/><circle cx="703" cy="471" r="8"/><circle cx="731" cy="369" r="8"/><circle cx="712" cy="473" r="8"/><circle cx="652" cy="494" r="8"/><circle cx="396" cy="439" r="8"/><circle cx="360" cy="508" r="8"/><circle cx="846" cy="433" r="8"/><circle cx="890" cy="456" r="8"/><circle cx="704" cy="453" r="8"/><circle cx="601" cy="248" r="8"/><circle cx="652" cy="472" r="8"/><circle cx="813" cy="233" r="8"/><circle cx="768" cy="435" r="8"/><circle cx="755" cy="620" r="8"/><circle cx="713" cy="483" r="8"/><circle cx="806" cy="391" r="8"/></g><g fill="#2a788e"><circle cx="836" cy="468" r="8"/><circle cx="659" cy="350" r="8"/><circle cx="908" cy="456" r="8"/><circle cx="879" cy="392" r="8"/><circle cx="580" cy="241" r="8"/><circle cx="896" cy="463" r="8"/><circle cx="713" cy="439" r="8"/><circle cx="619" cy="490" r="8"/><circle cx="818" cy="446" r="8"/><circle cx="423" cy="390" r="8"/><circle cx="868" cy="427" r="8"/><circle cx="720" cy="527" r="8"/><circle cx="895" cy="429" r="8"/><circle cx="723" cy="502" r="8"/><circle cx="899" cy="394" r="8"/><circle cx="815" cy="489" r="8"/><circle cx="868" cy="452" r="8"/><circle cx="793" cy="405" r="8"/><circle cx="699" cy="491" r="8"/><circle cx="845" cy="407" r="8"/></g><g fill="#277e8e"><circle cx="684" cy="438" r="8"/><circle cx="782" cy="447" r="8"/><circle cx="849" cy="402" r="8"/><circle cx="826" cy="427" r="8"/><circle cx="787" cy="447" r="8"/><circle cx="654" cy="509" r="8"/><circle cx="731" cy="441" r="8"/><circle cx="557" cy="477" r="8"/><circle cx="808" cy="447" r="8"/><circle cx="822" cy="413" r="8"/><circle cx="677" cy="317" r="8"/><circle cx="635" cy="493" r="8"/><circle cx="704" cy="468" r="8"/><circle cx="706" cy="445" r="8"/><circle cx="692" cy="448" r="8"/><circle cx="873" cy="449" r="8"/><circle cx="810" cy="449" r="8"/><circle cx="748" cy="506" r="8"/><circle cx="682" cy="409" r="8"/><circle cx="839" cy="468" r="8"/><circle cx="282" cy="388" r="8"/><circle cx="733" cy="532" r="8"/><circle cx="494" cy="334" r="8"/><circle cx="867" cy="425" r="8"/><circle cx="671" cy="492" r="8"/><circle cx="825" cy="437" r="8"/><circle cx="771" cy="411" r="8"/></g><g fill="#25848e"><circle cx="677" cy="290" r="8"/><circle cx="841" cy="390" r="8"/><circle cx="749" cy="347" r="8"/><circle cx="799" cy="468" r="8"/><circle cx="811" cy="399" r="8"/><circle cx="777" cy="341" r="8"/><circle cx="784" cy="395" r="8"/><circle cx="754" cy="459" r="8"/><circle cx="686" cy="497" r="8"/><circle cx="835" cy="459" r="8"/><circle cx="931" cy="482" r="8"/><circle cx="677" cy="585" r="8"/><circle cx="788" cy="404" r="8"/><circle cx="900" cy="478" r="8"/><circle cx="840" cy="455" r="8"/><circle cx="754" cy="329" r="8"/><circle cx="709" cy="442" r="8"/><circle cx="796" cy="483" r="8"/><circle cx="690" cy="471" r="8"/><circle cx="827" cy="482" r="8"/><circle cx="592" cy="494" r="8"/><circle cx="561" cy="532" r="8"/><circle cx="606" cy="479" r="8"/><circle cx="598" cy="478" r="8"/><circle cx="914" cy="494" r="8"/><circle cx="897" cy="465" r="8"/><circle cx="935" cy="464" r="8"/><circle cx="701" cy="281" r="8"/><circle cx="873" cy="453" r="8"/><circle cx="701" cy="545" r="8"/><circle cx="866" cy="459" r="8"/><circle cx="699" cy="442" r="8"/><circle cx="756" cy="511" r="8"/></g><g fill="#238a8d"><circle cx="747" cy="408" r="8"/><circle cx="649" cy="531" r="8"/><circle cx="751" cy="341" r="8"/><circle cx="664" cy="373" r="8"/><circle cx="930" cy="472" r="8"/><circle cx="569" cy="527" r="8"/><circle cx="841" cy="426" r="8"/><circle cx="803" cy="294" r="8"/><circle cx="580" cy="311" r="8"/><circle cx="708" cy="348" r="8"/><circle cx="790" cy="428" r="8"/><circle cx="582" cy="483" r="8"/><circle cx="776" cy="445" r="8"/><circle cx="715" cy="439" r="8"/><circle cx="624" cy="536" r="8"/><circle cx="620" cy="520" r="8"/><circle cx="614" cy="378" r="8"/><circle cx="811" cy="393" r="8"/><circle cx="504" cy="530" r="8"/><circle cx="717" cy="382" r="8"/><circle cx="640" cy="521" r="8"/><circle cx="597" cy="384" r="8"/><circle cx="754" cy="346" r="8"/><circle cx="433" cy="358" r="8"/><circle cx="842" cy="463" r="8"/><circle cx="681" cy="453" r="8"/><circle cx="681" cy="381" r="8"/><circle cx="389" cy="406" r="8"/><circle cx="662" cy="482" r="8"/><circle cx="647" cy="298" r="8"/><circle cx="581" cy="390" r="8"/><circle cx="457" cy="482" r="8"/><circle cx="917" cy="493" r="8"/><circle cx="537" cy="392" r="8"/><circle cx="633" cy="408" r="8"/><circle cx="767" cy="509" r="8"/><circle cx="714" cy="371" r="8"/><circle cx="724" cy="506" r="8"/><circle cx="621" cy="496" r="8"/><circle cx="785" cy="400" r="8"/><circle cx="649" cy="519" r="8"/><circle cx="685" cy="485" r="8"/><circle cx="857" cy="422" r="8"/><circle cx="812" cy="425" r="8"/><circle cx="517" cy="393" r="8"/><circle cx="810" cy="424" r="8"/><circle cx="689" cy="483" r="8"/><circle cx="770" cy="547" r="8"/><circle cx="603" cy="426" r="8"/><circle cx="630" cy="376" r="8"/><circle cx="691" cy="522" r="8"/><circle cx="468" cy="440" r="8"/><circle cx="655" cy="526" r="8"/><circle cx="517" cy="389" r="8"/><circle cx="633" cy="385" r="8"/><circle cx="604" cy="445" r="8"/><circle cx="759" cy="462" r="8"/><circle cx="606" cy="424" r="8"/><circle cx="823" cy="486" r="8"/><circle cx="360" cy="392" r="8"/><circle cx="771" cy="493" r="8"/><circle cx="885" cy="441" r="8"/></g><g fill="#21918c"><circle cx="843" cy="433" r="8"/><circle cx="497" cy="511" r="8"/><circle cx="740" cy="478" r="8"/><circle cx="687" cy="395" r="8"/><circle cx="330" cy="367" r="8"/><circle cx="605" cy="471" r="8"/><circle cx="606" cy="362" r="8"/><circle cx="793" cy="448" r="8"/><circle cx="546" cy="567" r="8"/><circle cx="721" cy="484" r="8"/><circle cx="470" cy="373" r="8"/><circle cx="266" cy="330" r="8"/><circle cx="819" cy="374" r="8"/><circle cx="866" cy="461" r="8"/><circle cx="698" cy="414" r="8"/><circle cx="670" cy="455" r="8"/><circle cx="693" cy="362" r="8"/><circle cx="482" cy="492" r="8"/><circle cx="489" cy="430" r="8"/><circle cx="681" cy="482" r="8"/><circle cx="546" cy="449" r="8"/><circle cx="619" cy="471" r="8"/><circle cx="662" cy="431" r="8"/><circle cx="603" cy="437" r="8"/><circle cx="775" cy="442" r="8"/><circle cx="799" cy="494" r="8"/><circle cx="687" cy="407" r="8"/><circle cx="580" cy="376" r="8"/><circle cx="632" cy="420" r="8"/><circle cx="509" cy="464" r="8"/><circle cx="589" cy="359" r="8"/><circle cx="740" cy="539" r="8"/><circle cx="682" cy="401" r="8"/><circle cx="785" cy="398" r="8"/><circle cx="745" cy="402" r="8"/><circle cx="725" cy="364" r="8"/><circle cx="543" cy="401" r="8"/><circle cx="788" cy="422" r="8"/><circle cx="691" cy="485" r="8"/><circle cx="849" cy="408" r="8"/><circle cx="677" cy="272" r="8"/><circle cx="721" cy="416" r="8"/><circle cx="572" cy="379" r="8"/><circle cx="652" cy="431" r="8"/><circle cx="804" cy="427" r="8"/><circle cx="692" cy="543" r="8"/><circle cx="471" cy="322" r="8"/><circle cx="468" cy="391" r="8"/><circle cx="881" cy="290" r="8"/><circle cx="597" cy="452" r="8"/><circle cx="726" cy="444" r="8"/></g><g fill="#1f968b"><circle cx="511" cy="451" r="8"/><circle cx="592" cy="498" r="8"/><circle cx="534" cy="389" r="8"/><circle cx="759" cy="465" r="8"/><circle cx="753" cy="558" r="8"/><circle cx="633" cy="352" r="8"/><circle cx="460" cy="509" r="8"/><circle cx="491" cy="533" r="8"/><circle cx="310" cy="332" r="8"/><circle cx="693" cy="395" r="8"/><circle cx="326" cy="442" r="8"/><circle cx="602" cy="462" r="8"/><circle cx="559" cy="396" r="8"/><circle cx="563" cy="563" r="8"/><circle cx="414" cy="302" r="8"/><circle cx="707" cy="527" r="8"/><circle cx="604" cy="474" r="8"/><circle cx="688" cy="346" r="8"/><circle cx="444" cy="389" r="8"/><circle cx="814" cy="384" r="8"/><circle cx="653" cy="411" r="8"/><circle cx="727" cy="486" r="8"/><circle cx="302" cy="332" r="8"/><circle cx="542" cy="362" r="8"/><circle cx="781" cy="449" r="8"/><circle cx="589" cy="507" r="8"/><circle cx="344" cy="504" r="8"/><circle cx="758" cy="488" r="8"/><circle cx="474" cy="442" r="8"/><circle cx="396" cy="456" r="8"/><circle cx="645" cy="459" r="8"/><circle cx="576" cy="479" r="8"/><circle cx="479" cy="388" r="8"/><circle cx="661" cy="415" r="8"/><circle cx="707" cy="434" r="8"/><circle cx="437" cy="489" r="8"/><circle cx="583" cy="502" r="8"/><circle cx="792" cy="423" r="8"/><circle cx="752" cy="342" r="8"/><circle cx="724" cy="431" r="8"/><circle cx="682" cy="452" r="8"/><circle cx="735" cy="538" r="8"/><circle cx="906" cy="475" r="8"/><circle cx="726" cy="417" r="8"/><circle cx="391" cy="431" r="8"/><circle cx="669" cy="406" r="8"/><circle cx="555" cy="556" r="8"/><circle cx="304" cy="405" r="8"/><circle cx="799" cy="516" r="8"/><circle cx="576" cy="477" r="8"/><circle cx="695" cy="505" r="8"/><circle cx="826" cy="378" r="8"/><circle cx="804" cy="559" r="8"/><circle cx="700" cy="445" r="8"/><circle cx="568" cy="499" r="8"/><circle cx="540" cy="520" r="8"/><circle cx="694" cy="485" r="8"/><circle cx="465" cy="443" r="8"/><circle cx="541" cy="381" r="8"/><circle cx="715" cy="284" r="8"/></g><g fill="#1e9c89"><circle cx="621" cy="347" r="8"/><circle cx="771" cy="443" r="8"/><circle cx="647" cy="568" r="8"/><circle cx="452" cy="377" r="8"/><circle cx="351" cy="452" r="8"/><circle cx="650" cy="616" r="8"/><circle cx="547" cy="434" r="8"/><circle cx="769" cy="443" r="8"/><circle cx="718" cy="461" r="8"/><circle cx="558" cy="463" r="8"/><circle cx="636" cy="497" r="8"/><circle cx="705" cy="442" r="8"/><circle cx="667" cy="459" r="8"/><circle cx="295" cy="498" r="8"/><circle cx="486" cy="441" r="8"/><circle cx="682" cy="384" r="8"/><circle cx="482" cy="382" r="8"/><circle cx="614" cy="443" r="8"/><circle cx="656" cy="428" r="8"/><circle cx="629" cy="427" r="8"/><circle cx="641" cy="588" r="8"/><circle cx="453" cy="368" r="8"/><circle cx="661" cy="495" r="8"/><circle cx="539" cy="534" r="8"/><circle cx="766" cy="497" r="8"/><circle cx="700" cy="406" r="8"/><circle cx="615" cy="380" r="8"/><circle cx="571" cy="376" r="8"/><circle cx="761" cy="482" r="8"/><circle cx="633" cy="406" r="8"/><circle cx="787" cy="497" r="8"/><circle cx="541" cy="462" r="8"/><circle cx="444" cy="370" r="8"/><circle cx="517" cy="420" r="8"/><circle cx="694" cy="435" r="8"/><circle cx="607" cy="333" r="8"/><circle cx="702" cy="437" r="8"/><circle cx="446" cy="367" r="8"/><circle cx="567" cy="445" r="8"/><circle cx="343" cy="457" r="8"/><circle cx="367" cy="471" r="8"/><circle cx="744" cy="397" r="8"/><circle cx="495" cy="435" r="8"/><circle cx="536" cy="462" r="8"/><circle cx="769" cy="294" r="8"/><circle cx="657" cy="419" r="8"/><circle cx="788" cy="498" r="8"/><circle cx="684" cy="524" r="8"/><circle cx="267" cy="461" r="8"/><circle cx="222" cy="329" r="8"/><circle cx="364" cy="459" r="8"/><circle cx="650" cy="340" r="8"/><circle cx="796" cy="487" r="8"/><circle cx="653" cy="486" r="8"/><circle cx="270" cy="409" r="8"/><circle cx="306" cy="465" r="8"/><circle cx="749" cy="399" r="8"/><circle cx="492" cy="410" r="8"/><circle cx="615" cy="345" r="8"/><circle cx="665" cy="502" r="8"/><circle cx="716" cy="446" r="8"/></g><g fill="#1fa287"><circle cx="320" cy="398" r="8"/><circle cx="590" cy="467" r="8"/><circle cx="723" cy="445" r="8"/><circle cx="415" cy="332" r="8"/><circle cx="407" cy="405" r="8"/><circle cx="491" cy="354" r="8"/><circle cx="643" cy="430" r="8"/><circle cx="692" cy="439" r="8"/><circle cx="351" cy="410" r="8"/><circle cx="671" cy="464" r="8"/><circle cx="597" cy="450" r="8"/><circle cx="285" cy="463" r="8"/><circle cx="515" cy="360" r="8"/><circle cx="599" cy="478" r="8"/><circle cx="291" cy="406" r="8"/><circle cx="768" cy="298" r="8"/><circle cx="756" cy="451" r="8"/><circle cx="674" cy="355" r="8"/><circle cx="403" cy="431" r="8"/><circle cx="660" cy="454" r="8"/><circle cx="563" cy="341" r="8"/><circle cx="624" cy="379" r="8"/><circle cx="618" cy="390" r="8"/><circle cx="632" cy="438" r="8"/><circle cx="464" cy="353" r="8"/><circle cx="324" cy="428" r="8"/><circle cx="543" cy="371" r="8"/><circle cx="744" cy="302" r="8"/><circle cx="290" cy="403" r="8"/><circle cx="697" cy="442" r="8"/><circle cx="397" cy="282" r="8"/><circle cx="730" cy="402" r="8"/><circle cx="543" cy="422" r="8"/><circle cx="702" cy="468" r="8"/><circle cx="664" cy="287" r="8"/><circle cx="540" cy="468" r="8"/><circle cx="428" cy="337" r="8"/><circle cx="586" cy="476" r="8"/><circle cx="626" cy="409" r="8"/><circle cx="348" cy="427" r="8"/><circle cx="412" cy="450" r="8"/><circle cx="660" cy="491" r="8"/><circle cx="645" cy="455" r="8"/><circle cx="608" cy="379" r="8"/><circle cx="620" cy="467" r="8"/><circle cx="419" cy="458" r="8"/><circle cx="662" cy="470" r="8"/><circle cx="671" cy="361" r="8"/><circle cx="631" cy="519" r="8"/><circle cx="656" cy="429" r="8"/><circle cx="644" cy="387" r="8"/></g><g fill="#22a884"><circle cx="454" cy="377" r="8"/><circle cx="354" cy="380" r="8"/><circle cx="596" cy="335" r="8"/><circle cx="716" cy="398" r="8"/><circle cx="584" cy="408" r="8"/><circle cx="474" cy="424" r="8"/><circle cx="640" cy="454" r="8"/><circle cx="570" cy="471" r="8"/><circle cx="448" cy="342" r="8"/><circle cx="541" cy="384" r="8"/><circle cx="668" cy="603" r="8"/><circle cx="669" cy="356" r="8"/><circle cx="582" cy="304" r="8"/><circle cx="650" cy="343" r="8"/><circle cx="467" cy="386" r="8"/><circle cx="706" cy="405" r="8"/><circle cx="477" cy="405" r="8"/><circle cx="687" cy="422" r="8"/><circle cx="412" cy="444" r="8"/><circle cx="365" cy="399" r="8"/><circle cx="532" cy="257" r="8"/><circle cx="383" cy="383" r="8"/><circle cx="508" cy="396" r="8"/><circle cx="501" cy="427" r="8"/><circle cx="522" cy="420" r="8"/><circle cx="666" cy="408" r="8"/><circle cx="548" cy="471" r="8"/><circle cx="529" cy="367" r="8"/><circle cx="660" cy="290" r="8"/><circle cx="469" cy="435" r="8"/><circle cx="679" cy="558" r="8"/><circle cx="329" cy="453" r="8"/><circle cx="492" cy="488" r="8"/><circle cx="393" cy="384" r="8"/><circle cx="721" cy="324" r="8"/><circle cx="358" cy="338" r="8"/><circle cx="705" cy="439" r="8"/><circle cx="651" cy="207" r="8"/><circle cx="707" cy="484" r="8"/><circle cx="403" cy="513" r="8"/><circle cx="361" cy="497" r="8"/><circle cx="488" cy="454" r="8"/><circle cx="399" cy="418" r="8"/><circle cx="497" cy="329" r="8"/><circle cx="599" cy="375" r="8"/><circle cx="373" cy="385" r="8"/><circle cx="596" cy="388" r="8"/><circle cx="587" cy="396" r="8"/><circle cx="670" cy="385" r="8"/><circle cx="357" cy="580" r="8"/><circle cx="667" cy="373" r="8"/><circle cx="501" cy="515" r="8"/><circle cx="269" cy="403" r="8"/><circle cx="665" cy="438" r="8"/><circle cx="610" cy="332" r="8"/><circle cx="587" cy="414" r="8"/><circle cx="265" cy="454" r="8"/><circle cx="394" cy="272" r="8"/><circle cx="540" cy="465" r="8"/><circle cx="345" cy="427" r="8"/><circle cx="570" cy="482" r="8"/><circle cx="458" cy="443" r="8"/></g><g fill="#28ae80"><circle cx="540" cy="422" r="8"/><circle cx="593" cy="358" r="8"/><circle cx="402" cy="409" r="8"/><circle cx="552" cy="524" r="8"/><circle cx="484" cy="295" r="8"/><circle cx="301" cy="454" r="8"/><circle cx="373" cy="458" r="8"/><circle cx="591" cy="428" r="8"/><circle cx="397" cy="459" r="8"/><circle cx="523" cy="485" r="8"/><circle cx="475" cy="413" r="8"/><circle cx="502" cy="407" r="8"/><circle cx="656" cy="421" r="8"/><circle cx="575" cy="403" r="8"/><circle cx="517" cy="407" r="8"/><circle cx="408" cy="443" r="8"/><circle cx="573" cy="426" r="8"/><circle cx="291" cy="516" r="8"/><circle cx="638" cy="391" r="8"/><circle cx="500" cy="354" r="8"/><circle cx="592" cy="334" r="8"/><circle cx="549" cy="390" r="8"/><circle cx="542" cy="423" r="8"/><circle cx="506" cy="459" r="8"/><circle cx="383" cy="431" r="8"/><circle cx="382" cy="442" r="8"/><circle cx="397" cy="464" r="8"/><circle cx="595" cy="511" r="8"/><circle cx="456" cy="428" r="8"/><circle cx="539" cy="379" r="8"/><circle cx="380" cy="331" r="8"/><circle cx="596" cy="492" r="8"/><circle cx="420" cy="359" r="8"/><circle cx="556" cy="593" r="8"/><circle cx="497" cy="423" r="8"/><circle cx="483" cy="315" r="8"/><circle cx="531" cy="444" r="8"/><circle cx="450" cy="454" r="8"/><circle cx="555" cy="481" r="8"/></g><g fill="#2fb47c"><circle cx="416" cy="418" r="8"/><circle cx="432" cy="499" r="8"/><circle cx="549" cy="496" r="8"/><circle cx="540" cy="523" r="8"/><circle cx="580" cy="431" r="8"/><circle cx="283" cy="457" r="8"/><circle cx="442" cy="459" r="8"/><circle cx="546" cy="472" r="8"/><circle cx="526" cy="368" r="8"/><circle cx="443" cy="400" r="8"/><circle cx="501" cy="450" r="8"/><circle cx="400" cy="393" r="8"/><circle cx="395" cy="367" r="8"/><circle cx="519" cy="383" r="8"/><circle cx="536" cy="395" r="8"/><circle cx="588" cy="317" r="8"/><circle cx="494" cy="311" r="8"/><circle cx="584" cy="406" r="8"/><circle cx="632" cy="482" r="8"/><circle cx="380" cy="313" r="8"/><circle cx="391" cy="346" r="8"/><circle cx="578" cy="379" r="8"/><circle cx="280" cy="491" r="8"/></g><g fill="#38b977"><circle cx="466" cy="406" r="8"/><circle cx="355" cy="390" r="8"/><circle cx="631" cy="475" r="8"/><circle cx="322" cy="450" r="8"/><circle cx="351" cy="363" r="8"/><circle cx="457" cy="242" r="8"/><circle cx="348" cy="442" r="8"/><circle cx="459" cy="402" r="8"/><circle cx="530" cy="419" r="8"/></g><g fill="#44bf70"><circle cx="325" cy="509" r="8"/><circle cx="285" cy="478" r="8"/><circle cx="356" cy="378" r="8"/><circle cx="290" cy="403" r="8"/><circle cx="332" cy="497" r="8"/><circle cx="512" cy="463" r="8"/><circle cx="292" cy="400" r="8"/></g><g fill="#50c46a"><circle cx="569" cy="456" r="8"/></g><g fill="#5ec962"><circle cx="367" cy="563" r="8"/><circle cx="504" cy="475" r="8"/><circle cx="350" cy="389" r="8"/><circle cx="380" cy="479" r="8"/><circle cx="291" cy="395" r="8"/><circle cx="327" cy="534" r="8"/><circle cx="325" cy="420" r="8"/></g><g fill="#6ccd5a"><circle cx="455" cy="438" r="8"/><circle cx="500" cy="417" r="8"/><circle cx="286" cy="420" r="8"/><circle cx="464" cy="325" r="8"/><circle cx="268" cy="427" r="8"/><circle cx="447" cy="443" r="8"/><circle cx="482" cy="376" r="8"/><circle cx="447" cy="440" r="8"/><circle cx="528" cy="365" r="8"/><circle cx="590" cy="398" r="8"/><circle cx="343" cy="422" r="8"/><circle cx="450" cy="497" r="8"/><circle cx="318" cy="445" r="8"/></g><g fill="#7ad151"><circle cx="350" cy="439" r="8"/><circle cx="404" cy="494" r="8"/><circle cx="535" cy="527" r="8"/><circle cx="538" cy="394" r="8"/><circle cx="442" cy="387" r="8"/><circle cx="404" cy="462" r="8"/><circle cx="508" cy="398" r="8"/><circle cx="483" cy="382" r="8"/><circle cx="557" cy="443" r="8"/><circle cx="511" cy="383" r="8"/><circle cx="495" cy="431" r="8"/><circle cx="453" cy="314" r="8"/><circle cx="508" cy="386" r="8"/><circle cx="452" cy="489" r="8"/><circle cx="461" cy="536" r="8"/><circle cx="553" cy="496" r="8"/><circle cx="413" cy="300" r="8"/><circle cx="302" cy="472" r="8"/><circle cx="542" cy="339" r="8"/><circle cx="266" cy="361" r="8"/><circle cx="624" cy="466" r="8"/><circle cx="364" cy="568" r="8"/></g><g fill="#8bd646"><circle cx="359" cy="386" r="8"/><circle cx="322" cy="411" r="8"/><circle cx="451" cy="406" r="8"/><circle cx="406" cy="405" r="8"/><circle cx="309" cy="496" r="8"/><circle cx="356" cy="453" r="8"/><circle cx="522" cy="335" r="8"/><circle cx="436" cy="403" r="8"/><circle cx="317" cy="523" r="8"/><circle cx="677" cy="296" r="8"/><circle cx="361" cy="400" r="8"/><circle cx="664" cy="603" r="8"/><circle cx="465" cy="522" r="8"/><circle cx="448" cy="498" r="8"/><circle cx="521" cy="409" r="8"/><circle cx="504" cy="381" r="8"/><circle cx="268" cy="444" r="8"/><circle cx="600" cy="375" r="8"/><circle cx="305" cy="474" r="8"/><circle cx="601" cy="445" r="8"/><circle cx="504" cy="371" r="8"/><circle cx="434" cy="367" r="8"/><circle cx="303" cy="489" r="8"/><circle cx="407" cy="380" r="8"/><circle cx="336" cy="460" r="8"/><circle cx="515" cy="487" r="8"/><circle cx="424" cy="457" r="8"/><circle cx="332" cy="454" r="8"/></g><g fill="#9bd93c"><circle cx="282" cy="487" r="8"/><circle cx="420" cy="424" r="8"/><circle cx="298" cy="402" r="8"/><circle cx="508" cy="317" r="8"/><circle cx="449" cy="477" r="8"/><circle cx="500" cy="379" r="8"/><circle cx="548" cy="475" r="8"/><circle cx="470" cy="532" r="8"/><circle cx="373" cy="430" r="8"/><circle cx="446" cy="427" r="8"/><circle cx="370" cy="469" r="8"/><circle cx="474" cy="411" r="8"/><circle cx="542" cy="438" r="8"/><circle cx="613" cy="306" r="8"/><circle cx="428" cy="484" r="8"/><circle cx="299" cy="416" r="8"/><circle cx="583" cy="514" r="8"/><circle cx="369" cy="493" r="8"/><circle cx="500" cy="255" r="8"/><circle cx="263" cy="402" r="8"/><circle cx="382" cy="437" r="8"/><circle cx="475" cy="337" r="8"/><circle cx="448" cy="376" r="8"/><circle cx="420" cy="388" r="8"/><circle cx="538" cy="399" r="8"/><circle cx="512" cy="358" r="8"/><circle cx="521" cy="501" r="8"/><circle cx="453" cy="393" r="8"/><circle cx="507" cy="480" r="8"/><circle cx="474" cy="382" r="8"/></g><g fill="#addc30"><circle cx="339" cy="513" r="8"/><circle cx="353" cy="507" r="8"/><circle cx="499" cy="515" r="8"/><circle cx="340" cy="413" r="8"/><circle cx="556" cy="496" r="8"/><circle cx="438" cy="451" r="8"/><circle cx="353" cy="459" r="8"/><circle cx="504" cy="406" r="8"/><circle cx="432" cy="424" r="8"/><circle cx="488" cy="428" r="8"/><circle cx="490" cy="422" r="8"/><circle cx="464" cy="431" r="8"/><circle cx="305" cy="402" r="8"/><circle cx="305" cy="524" r="8"/><circle cx="521" cy="365" r="8"/><circle cx="474" cy="475" r="8"/><circle cx="581" cy="369" r="8"/><circle cx="569" cy="450" r="8"/></g><g fill="#bddf26"><circle cx="436" cy="438" r="8"/><circle cx="553" cy="529" r="8"/><circle cx="522" cy="392" r="8"/><circle cx="315" cy="441" r="8"/><circle cx="329" cy="389" r="8"/><circle cx="329" cy="459" r="8"/><circle cx="434" cy="353" r="8"/><circle cx="503" cy="312" r="8"/><circle cx="482" cy="465" r="8"/><circle cx="448" cy="442" r="8"/><circle cx="442" cy="501" r="8"/><circle cx="465" cy="425" r="8"/><circle cx="489" cy="433" r="8"/><circle cx="493" cy="358" r="8"/><circle cx="461" cy="554" r="8"/><circle cx="507" cy="520" r="8"/><circle cx="548" cy="500" r="8"/><circle cx="516" cy="346" r="8"/></g><g fill="#cde11d"><circle cx="292" cy="470" r="8"/><circle cx="424" cy="488" r="8"/><circle cx="505" cy="482" r="8"/><circle cx="336" cy="410" r="8"/><circle cx="386" cy="382" r="8"/><circle cx="433" cy="429" r="8"/><circle cx="438" cy="378" r="8"/><circle cx="563" cy="399" r="8"/><circle cx="546" cy="414" r="8"/><circle cx="493" cy="303" r="8"/><circle cx="435" cy="422" r="8"/><circle cx="454" cy="617" r="8"/><circle cx="274" cy="348" r="8"/><circle cx="406" cy="490" r="8"/><circle cx="271" cy="460" r="8"/><circle cx="338" cy="535" r="8"/><circle cx="542" cy="442" r="8"/><circle cx="432" cy="410" r="8"/><circle cx="621" cy="468" r="8"/><circle cx="322" cy="366" r="8"/><circle cx="419" cy="370" r="8"/><circle cx="385" cy="410" r="8"/><circle cx="399" cy="643" r="8"/><circle cx="560" cy="460" r="8"/></g><g fill="#dfe318"><circle cx="513" cy="461" r="8"/><circle cx="470" cy="426" r="8"/><circle cx="363" cy="447" r="8"/><circle cx="551" cy="409" r="8"/><circle cx="337" cy="374" r="8"/><circle cx="443" cy="476" r="8"/><circle cx="370" cy="340" r="8"/><circle cx="511" cy="417" r="8"/><circle cx="386" cy="427" r="8"/><circle cx="384" cy="301" r="8"/><circle cx="289" cy="433" r="8"/><circle cx="564" cy="537" r="8"/><circle cx="278" cy="362" r="8"/><circle cx="421" cy="402" r="8"/><circle cx="456" cy="493" r="8"/><circle cx="412" cy="417" r="8"/><circle cx="370" cy="452" r="8"/><circle cx="491" cy="370" r="8"/><circle cx="476" cy="448" r="8"/><circle cx="445" cy="383" r="8"/><circle cx="514" cy="382" r="8"/><circle cx="351" cy="416" r="8"/><circle cx="426" cy="459" r="8"/><circle cx="416" cy="529" r="8"/><circle cx="536" cy="531" r="8"/></g><g fill="#efe51c"><circle cx="594" cy="427" r="8"/><circle cx="486" cy="378" r="8"/><circle cx="512" cy="484" r="8"/><circle cx="327" cy="462" r="8"/><circle cx="583" cy="446" r="8"/><circle cx="613" cy="470" r="8"/><circle cx="279" cy="391" r="8"/><circle cx="390" cy="436" r="8"/><circle cx="431" cy="230" r="8"/><circle cx="280" cy="511" r="8"/><circle cx="373" cy="468" r="8"/><circle cx="518" cy="406" r="8"/><circle cx="426" cy="357" r="8"/><circle cx="304" cy="448" r="8"/><circle cx="601" cy="448" r="8"/><circle cx="433" cy="603" r="8"/><circle cx="434" cy="418" r="8"/><circle cx="293" cy="369" r="8"/><circle cx="401" cy="418" r="8"/><circle cx="285" cy="522" r="8"/><circle cx="373" cy="337" r="8"/><circle cx="421" cy="353" r="8"/></g><g fill="#fde725"><circle cx="436" cy="412" r="8"/><circle cx="341" cy="328" r="8"/><circle cx="490" cy="494" r="8"/><circle cx="485" cy="407" r="8"/></g><g fill="#440154"><circle cx="845" cy="381" r="8"/></g><g fill="#471365"><circle cx="674" cy="477" r="8"/><circle cx="776" cy="420" r="8"/><circle cx="846" cy="403" r="8"/></g><g fill="#481c6e"><circle cx="810" cy="520" r="8"/><circle cx="614" cy="320" r="8"/></g><g fill="#482475"><circle cx="704" cy="318" r="8"/><circle cx="810" cy="409" r="8"/><circle cx="813" cy="547" r="8"/><circle cx="622" cy="542" r="8"/><circle cx="933" cy="481" r="8"/></g><g fill="#472d7b"><circle cx="752" cy="515" r="8"/><circle cx="702" cy="446" r="8"/><circle cx="670" cy="476" r="8"/><circle cx="744" cy="408" r="8"/></g><g fill="#463480"><circle cx="721" cy="189" r="8"/><circle cx="872" cy="492" r="8"/><circle cx="776" cy="391" r="8"/><circle cx="789" cy="422" r="8"/><circle cx="709" cy="584" r="8"/></g><g fill="#443b84"><circle cx="798" cy="470" r="8"/><circle cx="917" cy="470" r="8"/><circle cx="715" cy="582" r="8"/><circle cx="828" cy="462" r="8"/></g><g fill="#414487"><circle cx="711" cy="189" r="8"/><circle cx="666" cy="309" r="8"/><circle cx="701" cy="418" r="8"/><circle cx="829" cy="429" r="8"/></g><g fill="#3e4a89"><circle cx="744" cy="439" r="8"/><circle cx="646" cy="482" r="8"/><circle cx="683" cy="329" r="8"/></g><g fill="#38598c"><circle cx="813" cy="387" r="8"/><circle cx="872" cy="471" r="8"/><circle cx="834" cy="430" r="8"/><circle cx="609" cy="341" r="8"/><circle cx="754" cy="422" r="8"/><circle cx="738" cy="437" r="8"/><circle cx="797" cy="541" r="8"/><circle cx="818" cy="436" r="8"/><circle cx="441" cy="431" r="8"/></g><g fill="#355f8d"><circle cx="748" cy="241" r="8"/><circle cx="388" cy="512" r="8"/><circle cx="581" cy="482" r="8"/><circle cx="637" cy="460" r="8"/><circle cx="738" cy="479" r="8"/><circle cx="826" cy="378" r="8"/><circle cx="563" cy="480" r="8"/><circle cx="846" cy="510" r="8"/><circle cx="716" cy="487" r="8"/><circle cx="698" cy="358" r="8"/><circle cx="699" cy="450" r="8"/><circle cx="849" cy="417" r="8"/><circle cx="807" cy="417" r="8"/><circle cx="663" cy="483" r="8"/><circle cx="674" cy="452" r="8"/><circle cx="443" cy="446" r="8"/><circle cx="607" cy="480" r="8"/><circle cx="858" cy="474" r="8"/><circle cx="622" cy="474" r="8"/><circle cx="792" cy="371" r="8"/><circle cx="834" cy="411" r="8"/><circle cx="686" cy="429" r="8"/></g><g fill="#31668e"><circle cx="541" cy="497" r="8"/><circle cx="617" cy="464" r="8"/><circle cx="797" cy="391" r="8"/><circle cx="494" cy="487" r="8"/><circle cx="780" cy="405" r="8"/><circle cx="721" cy="406" r="8"/><circle cx="864" cy="443" r="8"/><circle cx="317" cy="400" r="8"/><circle cx="525" cy="370" r="8"/><circle cx="813" cy="422" r="8"/><circle cx="777" cy="534" r="8"/><circle cx="899" cy="504" r="8"/><circle cx="811" cy="569" r="8"/><circle cx="722" cy="422" r="8"/><circle cx="477" cy="479" r="8"/><circle cx="513" cy="389" r="8"/><circle cx="797" cy="333" r="8"/><circle cx="766" cy="430" r="8"/><circle cx="714" cy="459" r="8"/><circle cx="874" cy="397" r="8"/><circle cx="607" cy="257" r="8"/><circle cx="841" cy="480" r="8"/><circle cx="725" cy="492" r="8"/><circle cx="774" cy="479" r="8"/><circle cx="536" cy="385" r="8"/><circle cx="348" cy="352" r="8"/></g><g fill="#2f6c8e"><circle cx="513" cy="463" r="8"/><circle cx="550" cy="555" r="8"/><circle cx="666" cy="334" r="8"/><circle cx="779" cy="505" r="8"/><circle cx="418" cy="457" r="8"/><circle cx="831" cy="425" r="8"/><circle cx="624" cy="324" r="8"/><circle cx="698" cy="343" r="8"/><circle cx="743" cy="531" r="8"/><circle cx="804" cy="499" r="8"/><circle cx="661" cy="346" r="8"/><circle cx="619" cy="409" r="8"/><circle cx="681" cy="520" r="8"/><circle cx="496" cy="480" r="8"/><circle cx="496" cy="475" r="8"/><circle cx="424" cy="431" r="8"/><circle cx="798" cy="326" r="8"/><circle cx="811" cy="562" r="8"/><circle cx="762" cy="351" r="8"/><circle cx="587" cy="457" r="8"/><circle cx="421" cy="464" r="8"/><circle cx="614" cy="353" r="8"/><circle cx="582" cy="407" r="8"/><circle cx="500" cy="360" r="8"/><circle cx="860" cy="465" r="8"/><circle cx="743" cy="439" r="8"/><circle cx="788" cy="488" r="8"/><circle cx="937" cy="471" r="8"/><circle cx="719" cy="499" r="8"/></g><g fill="#2c728e"><circle cx="421" cy="467" r="8"/><circle cx="784" cy="448" r="8"/><circle cx="814" cy="403" r="8"/><circle cx="911" cy="483" r="8"/><circle cx="770" cy="446" r="8"/><circle cx="672" cy="452" r="8"/><circle cx="549" cy="316" r="8"/><circle cx="293" cy="404" r="8"/><circle cx="894" cy="420" r="8"/><circle cx="787" cy="483" r="8"/><circle cx="849" cy="359" r="8"/><circle cx="602" cy="350" r="8"/><circle cx="621" cy="597" r="8"/><circle cx="762" cy="347" r="8"/><circle cx="754" cy="306" r="8"/></g><g fill="#2a788e"><circle cx="746" cy="466" r="8"/><circle cx="892" cy="308" r="8"/><circle cx="802" cy="606" r="8"/><circle cx="618" cy="341" r="8"/><circle cx="309" cy="390" r="8"/><circle cx="284" cy="483" r="8"/><circle cx="815" cy="396" r="8"/><circle cx="781" cy="436" r="8"/><circle cx="682" cy="471" r="8"/><circle cx="900" cy="480" r="8"/><circle cx="705" cy="373" r="8"/><circle cx="879" cy="399" r="8"/><circle cx="767" cy="405" r="8"/><circle cx="508" cy="399" r="8"/><circle cx="786" cy="311" r="8"/><circle cx="896" cy="392" r="8"/><circle cx="717" cy="466" r="8"/><circle cx="588" cy="486" r="8"/><circle cx="536" cy="563" r="8"/><circle cx="865" cy="390" r="8"/><circle cx="744" cy="384" r="8"/><circle cx="932" cy="440" r="8"/><circle cx="685" cy="540" r="8"/><circle cx="766" cy="400" r="8"/></g><g fill="#277e8e"><circle cx="879" cy="310" r="8"/><circle cx="664" cy="468" r="8"/><circle cx="708" cy="497" r="8"/><circle cx="429" cy="396" r="8"/><circle cx="823" cy="427" r="8"/><circle cx="688" cy="433" r="8"/><circle cx="941" cy="453" r="8"/><circle cx="635" cy="484" r="8"/><circle cx="444" cy="350" r="8"/><circle cx="765" cy="389" r="8"/><circle cx="741" cy="412" r="8"/><circle cx="674" cy="427" r="8"/><circle cx="845" cy="447" r="8"/><circle cx="654" cy="355" r="8"/><circle cx="765" cy="306" r="8"/><circle cx="858" cy="449" r="8"/></g><g fill="#25848e"><circle cx="724" cy="426" r="8"/><circle cx="688" cy="484" r="8"/><circle cx="764" cy="452" r="8"/><circle cx="779" cy="452" r="8"/><circle cx="881" cy="431" r="8"/><circle cx="722" cy="534" r="8"/><circle cx="615" cy="472" r="8"/><circle cx="812" cy="431" r="8"/><circle cx="744" cy="477" r="8"/><circle cx="623" cy="433" r="8"/><circle cx="815" cy="435" r="8"/><circle cx="808" cy="321" r="8"/><circle cx="677" cy="500" r="8"/><circle cx="776" cy="446" r="8"/><circle cx="791" cy="399" r="8"/><circle cx="836" cy="506" r="8"/><circle cx="633" cy="471" r="8"/><circle cx="664" cy="383" r="8"/><circle cx="732" cy="472" r="8"/><circle cx="642" cy="464" r="8"/><circle cx="821" cy="437" r="8"/><circle cx="769" cy="565" r="8"/><circle cx="623" cy="322" r="8"/><circle cx="627" cy="481" r="8"/><circle cx="665" cy="509" r="8"/><circle cx="861" cy="487" r="8"/><circle cx="549" cy="497" r="8"/><circle cx="816" cy="437" r="8"/></g><g fill="#238a8d"><circle cx="322" cy="367" r="8"/><circle cx="589" cy="456" r="8"/><circle cx="724" cy="381" r="8"/><circle cx="695" cy="539" r="8"/><circle cx="740" cy="431" r="8"/><circle cx="917" cy="478" r="8"/><circle cx="713" cy="495" r="8"/><circle cx="716" cy="437" r="8"/><circle cx="651" cy="312" r="8"/><circle cx="733" cy="304" r="8"/><circle cx="738" cy="377" r="8"/><circle cx="800" cy="465" r="8"/><circle cx="802" cy="450" r="8"/><circle cx="665" cy="378" r="8"/><circle cx="778" cy="398" r="8"/><circle cx="540" cy="527" r="8"/><circle cx="663" cy="368" r="8"/><circle cx="757" cy="476" r="8"/><circle cx="575" cy="401" r="8"/><circle cx="673" cy="367" r="8"/><circle cx="320" cy="354" r="8"/><circle cx="881" cy="474" r="8"/><circle cx="705" cy="440" r="8"/><circle cx="688" cy="399" r="8"/><circle cx="679" cy="433" r="8"/><circle cx="625" cy="566" r="8"/><circle cx="928" cy="480" r="8"/><circle cx="720" cy="454" r="8"/><circle cx="829" cy="394" r="8"/><circle cx="767" cy="419" r="8"/><circle cx="541" cy="499" r="8"/><circle cx="687" cy="515" r="8"/><circle cx="771" cy="513" r="8"/><circle cx="761" cy="497" r="8"/><circle cx="704" cy="450" r="8"/><circle cx="745" cy="373" r="8"/><circle cx="534" cy="498" r="8"/><circle cx="861" cy="415" r="8"/><circle cx="640" cy="399" r="8"/><circle cx="835" cy="423" r="8"/><circle cx="635" cy="398" r="8"/><circle cx="583" cy="359" r="8"/><circle cx="263" cy="327" r="8"/><circle cx="919" cy="467" r="8"/><circle cx="533" cy="510" r="8"/><circle cx="840" cy="438" r="8"/><circle cx="713" cy="440" r="8"/><circle cx="957" cy="441" r="8"/><circle cx="583" cy="377" r="8"/><circle cx="743" cy="543" r="8"/><circle cx="316" cy="398" r="8"/><circle cx="706" cy="533" r="8"/><circle cx="681" cy="507" r="8"/><circle cx="810" cy="472" r="8"/></g><g fill="#21918c"><circle cx="648" cy="529" r="8"/><circle cx="567" cy="394" r="8"/><circle cx="746" cy="405" r="8"/><circle cx="755" cy="230" r="8"/><circle cx="782" cy="480" r="8"/><circle cx="776" cy="434" r="8"/><circle cx="317" cy="402" r="8"/><circle cx="629" cy="368" r="8"/><circle cx="856" cy="478" r="8"/><circle cx="682" cy="447" r="8"/><circle cx="695" cy="442" r="8"/><circle cx="814" cy="373" r="8"/><circle cx="302" cy="358" r="8"/><circle cx="714" cy="440" r="8"/><circle cx="840" cy="514" r="8"/><circle cx="557" cy="494" r="8"/><circle cx="835" cy="450" r="8"/><circle cx="581" cy="336" r="8"/><circle cx="610" cy="376" r="8"/><circle cx="738" cy="494" r="8"/><circle cx="652" cy="504" r="8"/><circle cx="673" cy="492" r="8"/><circle cx="379" cy="397" r="8"/><circle cx="678" cy="515" r="8"/><circle cx="670" cy="493" r="8"/><circle cx="786" cy="521" r="8"/><circle cx="702" cy="438" r="8"/><circle cx="689" cy="400" r="8"/><circle cx="775" cy="530" r="8"/><circle cx="834" cy="508" r="8"/><circle cx="730" cy="456" r="8"/><circle cx="687" cy="513" r="8"/><circle cx="400" cy="470" r="8"/><circle cx="611" cy="514" r="8"/><circle cx="745" cy="443" r="8"/><circle cx="726" cy="389" r="8"/><circle cx="581" cy="507" r="8"/><circle cx="594" cy="434" r="8"/><circle cx="763" cy="530" r="8"/><circle cx="739" cy="457" r="8"/><circle cx="402" cy="464" r="8"/><circle cx="741" cy="419" r="8"/><circle cx="877" cy="395" r="8"/><circle cx="565" cy="513" r="8"/><circle cx="605" cy="307" r="8"/><circle cx="506" cy="394" r="8"/><circle cx="673" cy="473" r="8"/><circle cx="652" cy="377" r="8"/><circle cx="762" cy="314" r="8"/><circle cx="385" cy="580" r="8"/><circle cx="532" cy="539" r="8"/><circle cx="834" cy="414" r="8"/><circle cx="763" cy="352" r="8"/><circle cx="619" cy="483" r="8"/><circle cx="696" cy="441" r="8"/><circle cx="704" cy="614" r="8"/><circle cx="358" cy="374" r="8"/><circle cx="847" cy="427" r="8"/><circle cx="677" cy="370" r="8"/><circle cx="698" cy="452" r="8"/><circle cx="550" cy="526" r="8"/><circle cx="751" cy="377" r="8"/><circle cx="673" cy="451" r="8"/></g><g fill="#1f968b"><circle cx="672" cy="378" r="8"/><circle cx="803" cy="460" r="8"/><circle cx="445" cy="367" r="8"/><circle cx="318" cy="394" r="8"/><circle cx="477" cy="375" r="8"/><circle cx="739" cy="444" r="8"/><circle cx="861" cy="434" r="8"/><circle cx="741" cy="486" r="8"/><circle cx="721" cy="376" r="8"/><circle cx="730" cy="404" r="8"/><circle cx="294" cy="315" r="8"/><circle cx="583" cy="478" r="8"/><circle cx="795" cy="421" r="8"/><circle cx="593" cy="495" r="8"/><circle cx="727" cy="485" r="8"/><circle cx="675" cy="484" r="8"/><circle cx="898" cy="428" r="8"/><circle cx="627" cy="411" r="8"/><circle cx="555" cy="560" r="8"/><circle cx="705" cy="435" r="8"/><circle cx="588" cy="468" r="8"/><circle cx="442" cy="434" r="8"/><circle cx="593" cy="325" r="8"/><circle cx="788" cy="412" r="8"/><circle cx="628" cy="499" r="8"/><circle cx="629" cy="484" r="8"/><circle cx="633" cy="266" r="8"/><circle cx="516" cy="483" r="8"/><circle cx="527" cy="326" r="8"/><circle cx="703" cy="433" r="8"/><circle cx="657" cy="469" r="8"/><circle cx="500" cy="286" r="8"/><circle cx="718" cy="412" r="8"/><circle cx="455" cy="328" r="8"/><circle cx="453" cy="490" r="8"/><circle cx="521" cy="407" r="8"/><circle cx="425" cy="396" r="8"/><circle cx="723" cy="382" r="8"/><circle cx="696" cy="338" r="8"/><circle cx="693" cy="407" r="8"/><circle cx="738" cy="438" r="8"/><circle cx="687" cy="426" r="8"/><circle cx="610" cy="400" r="8"/><circle cx="704" cy="371" r="8"/><circle cx="511" cy="470" r="8"/><circle cx="711" cy="517" r="8"/><circle cx="527" cy="432" r="8"/><circle cx="476" cy="444" r="8"/><circle cx="547" cy="342" r="8"/><circle cx="781" cy="447" r="8"/><circle cx="581" cy="397" r="8"/><circle cx="516" cy="518" r="8"/><circle cx="720" cy="446" r="8"/><circle cx="665" cy="487" r="8"/><circle cx="726" cy="538" r="8"/><circle cx="556" cy="384" r="8"/><circle cx="823" cy="507" r="8"/><circle cx="683" cy="396" r="8"/><circle cx="410" cy="472" r="8"/><circle cx="319" cy="456" r="8"/><circle cx="680" cy="517" r="8"/><circle cx="510" cy="397" r="8"/><circle cx="754" cy="533" r="8"/><circle cx="783" cy="448" r="8"/></g><g fill="#1e9c89"><circle cx="315" cy="193" r="8"/><circle cx="635" cy="375" r="8"/><circle cx="791" cy="539" r="8"/><circle cx="765" cy="343" r="8"/><circle cx="625" cy="386" r="8"/><circle cx="789" cy="495" r="8"/><circle cx="746" cy="321" r="8"/><circle cx="670" cy="465" r="8"/><circle cx="616" cy="525" r="8"/><circle cx="362" cy="343" r="8"/><circle cx="720" cy="436" r="8"/><circle cx="720" cy="467" r="8"/><circle cx="383" cy="459" r="8"/><circle cx="656" cy="485" r="8"/><circle cx="747" cy="317" r="8"/><circle cx="701" cy="271" r="8"/><circle cx="269" cy="397" r="8"/><circle cx="520" cy="446" r="8"/><circle cx="690" cy="481" r="8"/><circle cx="448" cy="383" r="8"/><circle cx="757" cy="543" r="8"/><circle cx="597" cy="418" r="8"/><circle cx="754" cy="461" r="8"/><circle cx="563" cy="241" r="8"/><circle cx="293" cy="476" r="8"/><circle cx="293" cy="476" r="8"/><circle cx="468" cy="393" r="8"/><circle cx="716" cy="516" r="8"/><circle cx="654" cy="497" r="8"/><circle cx="633" cy="527" r="8"/><circle cx="577" cy="435" r="8"/><circle cx="626" cy="375" r="8"/><circle cx="628" cy="555" r="8"/><circle cx="630" cy="358" r="8"/><circle cx="735" cy="294" r="8"/><circle cx="716" cy="438" r="8"/><circle cx="448" cy="393" r="8"/><circle cx="696" cy="454" r="8"/><circle cx="674" cy="388" r="8"/><circle cx="644" cy="458" r="8"/><circle cx="609" cy="368" r="8"/><circle cx="283" cy="429" r="8"/><circle cx="740" cy="332" r="8"/><circle cx="366" cy="440" r="8"/><circle cx="656" cy="291" r="8"/><circle cx="747" cy="515" r="8"/><circle cx="658" cy="362" r="8"/><circle cx="612" cy="539" r="8"/><circle cx="382" cy="413" r="8"/><circle cx="369" cy="444" r="8"/><circle cx="575" cy="356" r="8"/><circle cx="433" cy="358" r="8"/><circle cx="646" cy="470" r="8"/><circle cx="535" cy="451" r="8"/><circle cx="779" cy="425" r="8"/><circle cx="499" cy="535" r="8"/><circle cx="691" cy="438" r="8"/><circle cx="558" cy="417" r="8"/><circle cx="621" cy="345" r="8"/><circle cx="677" cy="461" r="8"/><circle cx="534" cy="514" r="8"/><circle cx="750" cy="371" r="8"/><circle cx="725" cy="261" r="8"/><circle cx="744" cy="505" r="8"/></g><g fill="#1fa287"><circle cx="440" cy="387" r="8"/><circle cx="734" cy="524" r="8"/><circle cx="723" cy="479" r="8"/><circle cx="290" cy="391" r="8"/><circle cx="722" cy="412" r="8"/><circle cx="828" cy="260" r="8"/><circle cx="473" cy="314" r="8"/><circle cx="450" cy="467" r="8"/><circle cx="607" cy="583" r="8"/><circle cx="298" cy="459" r="8"/><circle cx="563" cy="452" r="8"/><circle cx="360" cy="494" r="8"/><circle cx="293" cy="276" r="8"/><circle cx="245" cy="509" r="8"/><circle cx="716" cy="403" r="8"/><circle cx="590" cy="430" r="8"/><circle cx="353" cy="450" r="8"/><circle cx="470" cy="347" r="8"/><circle cx="612" cy="415" r="8"/><circle cx="559" cy="369" r="8"/><circle cx="480" cy="408" r="8"/><circle cx="630" cy="429" r="8"/><circle cx="307" cy="437" r="8"/><circle cx="684" cy="431" r="8"/><circle cx="646" cy="448" r="8"/><circle cx="614" cy="441" r="8"/><circle cx="730" cy="436" r="8"/><circle cx="703" cy="500" r="8"/><circle cx="477" cy="539" r="8"/><circle cx="621" cy="416" r="8"/><circle cx="312" cy="439" r="8"/><circle cx="558" cy="417" r="8"/><circle cx="479" cy="354" r="8"/><circle cx="504" cy="506" r="8"/><circle cx="619" cy="348" r="8"/><circle cx="271" cy="480" r="8"/><circle cx="555" cy="407" r="8"/><circle cx="523" cy="587" r="8"/><circle cx="607" cy="359" r="8"/><circle cx="612" cy="440" r="8"/><circle cx="726" cy="415" r="8"/><circle cx="605" cy="382" r="8"/><circle cx="584" cy="443" r="8"/><circle cx="269" cy="485" r="8"/><circle cx="321" cy="452" r="8"/><circle cx="658" cy="680" r="8"/><circle cx="768" cy="422" r="8"/><circle cx="643" cy="452" r="8"/><circle cx="499" cy="413" r="8"/><circle cx="433" cy="474" r="8"/><circle cx="620" cy="438" r="8"/><circle cx="761" cy="423" r="8"/><circle cx="737" cy="477" r="8"/><circle cx="580" cy="441" r="8"/><circle cx="555" cy="457" r="8"/><circle cx="528" cy="506" r="8"/><circle cx="405" cy="310" r="8"/><circle cx="468" cy="456" r="8"/><circle cx="580" cy="350" r="8"/><circle cx="662" cy="364" r="8"/><circle cx="282" cy="454" r="8"/><circle cx="659" cy="388" r="8"/></g><g fill="#22a884"><circle cx="645" cy="423" r="8"/><circle cx="305" cy="437" r="8"/><circle cx="325" cy="420" r="8"/><circle cx="570" cy="484" r="8"/><circle cx="340" cy="510" r="8"/><circle cx="597" cy="463" r="8"/><circle cx="315" cy="455" r="8"/><circle cx="641" cy="436" r="8"/><circle cx="224" cy="580" r="8"/><circle cx="646" cy="415" r="8"/><circle cx="563" cy="359" r="8"/><circle cx="701" cy="460" r="8"/><circle cx="401" cy="341" r="8"/><circle cx="642" cy="431" r="8"/><circle cx="677" cy="469" r="8"/><circle cx="531" cy="348" r="8"/><circle cx="402" cy="362" r="8"/><circle cx="342" cy="438" r="8"/><circle cx="531" cy="423" r="8"/><circle cx="681" cy="328" r="8"/><circle cx="529" cy="424" r="8"/><circle cx="512" cy="381" r="8"/><circle cx="425" cy="514" r="8"/><circle cx="587" cy="425" r="8"/><circle cx="669" cy="389" r="8"/><circle cx="268" cy="389" r="8"/><circle cx="500" cy="362" r="8"/><circle cx="487" cy="498" r="8"/><circle cx="608" cy="522" r="8"/><circle cx="273" cy="411" r="8"/><circle cx="519" cy="535" r="8"/><circle cx="515" cy="427" r="8"/><circle cx="328" cy="410" r="8"/><circle cx="590" cy="427" r="8"/><circle cx="666" cy="511" r="8"/><circle cx="380" cy="489" r="8"/><circle cx="719" cy="477" r="8"/><circle cx="571" cy="429" r="8"/><circle cx="403" cy="503" r="8"/><circle cx="292" cy="536" r="8"/><circle cx="473" cy="398" r="8"/><circle cx="561" cy="409" r="8"/></g><g fill="#28ae80"><circle cx="433" cy="435" r="8"/><circle cx="599" cy="358" r="8"/><circle cx="404" cy="436" r="8"/><circle cx="580" cy="359" r="8"/><circle cx="568" cy="434" r="8"/><circle cx="557" cy="431" r="8"/><circle cx="386" cy="368" r="8"/><circle cx="593" cy="287" r="8"/><circle cx="600" cy="406" r="8"/><circle cx="594" cy="432" r="8"/><circle cx="276" cy="496" r="8"/><circle cx="316" cy="445" r="8"/><circle cx="362" cy="362" r="8"/><circle cx="526" cy="354" r="8"/><circle cx="606" cy="365" r="8"/><circle cx="621" cy="341" r="8"/><circle cx="635" cy="472" r="8"/><circle cx="381" cy="452" r="8"/><circle cx="639" cy="432" r="8"/><circle cx="415" cy="478" r="8"/><circle cx="298" cy="459" r="8"/><circle cx="634" cy="349" r="8"/><circle cx="605" cy="422" r="8"/><circle cx="473" cy="326" r="8"/><circle cx="249" cy="580" r="8"/><circle cx="593" cy="418" r="8"/><circle cx="538" cy="432" r="8"/><circle cx="342" cy="406" r="8"/><circle cx="344" cy="420" r="8"/><circle cx="645" cy="551" r="8"/><circle cx="381" cy="365" r="8"/><circle cx="420" cy="475" r="8"/><circle cx="379" cy="401" r="8"/><circle cx="461" cy="491" r="8"/><circle cx="557" cy="410" r="8"/><circle cx="270" cy="416" r="8"/><circle cx="517" cy="334" r="8"/><circle cx="662" cy="416" r="8"/><circle cx="540" cy="320" r="8"/><circle cx="540" cy="451" r="8"/></g><g fill="#2fb47c"><circle cx="517" cy="389" r="8"/><circle cx="475" cy="239" r="8"/><circle cx="374" cy="370" r="8"/><circle cx="304" cy="350" r="8"/><circle cx="456" cy="421" r="8"/><circle cx="610" cy="458" r="8"/><circle cx="599" cy="364" r="8"/><circle cx="350" cy="469" r="8"/><circle cx="608" cy="520" r="8"/><circle cx="675" cy="376" r="8"/><circle cx="436" cy="463" r="8"/><circle cx="310" cy="368" r="8"/><circle cx="413" cy="422" r="8"/><circle cx="480" cy="436" r="8"/><circle cx="591" cy="316" r="8"/><circle cx="469" cy="396" r="8"/><circle cx="578" cy="638" r="8"/><circle cx="336" cy="427" r="8"/><circle cx="282" cy="402" r="8"/><circle cx="340" cy="526" r="8"/><circle cx="383" cy="385" r="8"/><circle cx="662" cy="410" r="8"/><circle cx="336" cy="381" r="8"/><circle cx="472" cy="437" r="8"/><circle cx="460" cy="411" r="8"/><circle cx="467" cy="326" r="8"/><circle cx="505" cy="461" r="8"/><circle cx="278" cy="499" r="8"/><circle cx="604" cy="370" r="8"/><circle cx="564" cy="438" r="8"/></g><g fill="#38b977"><circle cx="349" cy="424" r="8"/><circle cx="457" cy="469" r="8"/><circle cx="426" cy="498" r="8"/><circle cx="447" cy="409" r="8"/><circle cx="331" cy="545" r="8"/><circle cx="531" cy="376" r="8"/><circle cx="436" cy="547" r="8"/><circle cx="446" cy="410" r="8"/><circle cx="431" cy="491" r="8"/><circle cx="564" cy="539" r="8"/><circle cx="651" cy="370" r="8"/><circle cx="416" cy="458" r="8"/><circle cx="381" cy="404" r="8"/><circle cx="420" cy="434" r="8"/><circle cx="551" cy="261" r="8"/></g><g fill="#44bf70"><circle cx="426" cy="464" r="8"/><circle cx="305" cy="498" r="8"/><circle cx="430" cy="475" r="8"/><circle cx="294" cy="408" r="8"/><circle cx="527" cy="401" r="8"/></g><g fill="#50c46a"><circle cx="351" cy="429" r="8"/><circle cx="294" cy="504" r="8"/><circle cx="284" cy="417" r="8"/><circle cx="268" cy="369" r="8"/></g><g fill="#5ec962"><circle cx="567" cy="451" r="8"/><circle cx="286" cy="513" r="8"/><circle cx="615" cy="501" r="8"/><circle cx="485" cy="399" r="8"/><circle cx="427" cy="467" r="8"/><circle cx="554" cy="484" r="8"/><circle cx="352" cy="413" r="8"/><circle cx="525" cy="506" r="8"/><circle cx="298" cy="546" r="8"/><circle cx="497" cy="399" r="8"/><circle cx="562" cy="469" r="8"/></g><g fill="#6ccd5a"><circle cx="499" cy="427" r="8"/><circle cx="268" cy="437" r="8"/><circle cx="339" cy="419" r="8"/><circle cx="415" cy="527" r="8"/><circle cx="332" cy="508" r="8"/><circle cx="448" cy="375" r="8"/><circle cx="347" cy="472" r="8"/><circle cx="554" cy="471" r="8"/><circle cx="353" cy="421" r="8"/><circle cx="480" cy="425" r="8"/><circle cx="354" cy="390" r="8"/><circle cx="342" cy="595" r="8"/><circle cx="342" cy="546" r="8"/><circle cx="458" cy="389" r="8"/><circle cx="651" cy="471" r="8"/><circle cx="530" cy="457" r="8"/><circle cx="394" cy="416" r="8"/><circle cx="378" cy="488" r="8"/><circle cx="607" cy="471" r="8"/><circle cx="394" cy="374" r="8"/></g><g fill="#7ad151"><circle cx="431" cy="400" r="8"/><circle cx="371" cy="405" r="8"/><circle cx="492" cy="463" r="8"/><circle cx="334" cy="325" r="8"/><circle cx="635" cy="425" r="8"/><circle cx="264" cy="361" r="8"/><circle cx="405" cy="506" r="8"/><circle cx="435" cy="498" r="8"/><circle cx="549" cy="464" r="8"/><circle cx="355" cy="452" r="8"/><circle cx="658" cy="389" r="8"/><circle cx="403" cy="430" r="8"/><circle cx="561" cy="487" r="8"/><circle cx="305" cy="451" r="8"/><circle cx="362" cy="432" r="8"/><circle cx="512" cy="448" r="8"/><circle cx="407" cy="546" r="8"/><circle cx="449" cy="232" r="8"/><circle cx="393" cy="495" r="8"/><circle cx="409" cy="363" r="8"/><circle cx="535" cy="421" r="8"/><circle cx="564" cy="495" r="8"/><circle cx="486" cy="423" r="8"/><circle cx="312" cy="484" r="8"/><circle cx="322" cy="435" r="8"/><circle cx="328" cy="427" r="8"/><circle cx="337" cy="516" r="8"/><circle cx="407" cy="443" r="8"/><circle cx="363" cy="576" r="8"/><circle cx="504" cy="436" r="8"/><circle cx="419" cy="401" r="8"/><circle cx="297" cy="440" r="8"/></g><g fill="#8bd646"><circle cx="377" cy="508" r="8"/><circle cx="506" cy="382" r="8"/><circle cx="493" cy="408" r="8"/><circle cx="427" cy="375" r="8"/><circle cx="414" cy="348" r="8"/><circle cx="379" cy="538" r="8"/><circle cx="350" cy="469" r="8"/><circle cx="481" cy="355" r="8"/><circle cx="275" cy="403" r="8"/><circle cx="510" cy="349" r="8"/><circle cx="530" cy="449" r="8"/><circle cx="352" cy="438" r="8"/><circle cx="512" cy="411" r="8"/><circle cx="330" cy="396" r="8"/><circle cx="301" cy="379" r="8"/><circle cx="365" cy="535" r="8"/><circle cx="363" cy="504" r="8"/><circle cx="479" cy="342" r="8"/><circle cx="387" cy="385" r="8"/><circle cx="478" cy="383" r="8"/></g><g fill="#9bd93c"><circle cx="690" cy="367" r="8"/><circle cx="320" cy="580" r="8"/><circle cx="535" cy="371" r="8"/><circle cx="414" cy="367" r="8"/><circle cx="614" cy="577" r="8"/><circle cx="489" cy="485" r="8"/><circle cx="496" cy="329" r="8"/><circle cx="378" cy="329" r="8"/><circle cx="507" cy="429" r="8"/><circle cx="330" cy="439" r="8"/><circle cx="344" cy="516" r="8"/><circle cx="403" cy="407" r="8"/><circle cx="478" cy="490" r="8"/><circle cx="525" cy="466" r="8"/><circle cx="459" cy="387" r="8"/><circle cx="349" cy="474" r="8"/><circle cx="523" cy="542" r="8"/><circle cx="568" cy="492" r="8"/><circle cx="371" cy="580" r="8"/></g><g fill="#addc30"><circle cx="591" cy="325" r="8"/><circle cx="460" cy="433" r="8"/><circle cx="359" cy="467" r="8"/><circle cx="521" cy="368" r="8"/><circle cx="600" cy="473" r="8"/><circle cx="665" cy="373" r="8"/><circle cx="317" cy="404" r="8"/><circle cx="461" cy="342" r="8"/><circle cx="552" cy="375" r="8"/><circle cx="458" cy="438" r="8"/><circle cx="365" cy="474" r="8"/><circle cx="487" cy="363" r="8"/><circle cx="352" cy="435" r="8"/><circle cx="292" cy="429" r="8"/></g><g fill="#bddf26"><circle cx="439" cy="206" r="8"/><circle cx="548" cy="394" r="8"/><circle cx="314" cy="445" r="8"/><circle cx="583" cy="476" r="8"/><circle cx="464" cy="388" r="8"/><circle cx="481" cy="464" r="8"/><circle cx="358" cy="409" r="8"/><circle cx="484" cy="452" r="8"/><circle cx="552" cy="285" r="8"/><circle cx="381" cy="329" r="8"/><circle cx="590" cy="553" r="8"/><circle cx="458" cy="361" r="8"/><circle cx="365" cy="502" r="8"/><circle cx="496" cy="383" r="8"/><circle cx="390" cy="444" r="8"/><circle cx="328" cy="531" r="8"/><circle cx="360" cy="503" r="8"/><circle cx="320" cy="509" r="8"/><circle cx="342" cy="507" r="8"/><circle cx="269" cy="434" r="8"/><circle cx="306" cy="431" r="8"/><circle cx="355" cy="407" r="8"/><circle cx="337" cy="379" r="8"/><circle cx="365" cy="431" r="8"/><circle cx="488" cy="364" r="8"/></g><g fill="#cde11d"><circle cx="423" cy="514" r="8"/><circle cx="476" cy="414" r="8"/><circle cx="304" cy="448" r="8"/><circle cx="307" cy="431" r="8"/><circle cx="473" cy="455" r="8"/><circle cx="496" cy="383" r="8"/><circle cx="472" cy="417" r="8"/><circle cx="577" cy="464" r="8"/><circle cx="357" cy="383" r="8"/><circle cx="316" cy="472" r="8"/><circle cx="406" cy="415" r="8"/><circle cx="359" cy="502" r="8"/><circle cx="316" cy="509" r="8"/><circle cx="433" cy="393" r="8"/><circle cx="309" cy="370" r="8"/><circle cx="559" cy="465" r="8"/><circle cx="306" cy="479" r="8"/><circle cx="590" cy="435" r="8"/><circle cx="442" cy="451" r="8"/></g><g fill="#dfe318"><circle cx="412" cy="347" r="8"/><circle cx="603" cy="488" r="8"/><circle cx="315" cy="418" r="8"/><circle cx="284" cy="455" r="8"/><circle cx="561" cy="404" r="8"/><circle cx="518" cy="403" r="8"/><circle cx="275" cy="408" r="8"/><circle cx="538" cy="491" r="8"/><circle cx="561" cy="465" r="8"/><circle cx="327" cy="365" r="8"/><circle cx="507" cy="431" r="8"/><circle cx="399" cy="522" r="8"/><circle cx="342" cy="376" r="8"/><circle cx="337" cy="396" r="8"/><circle cx="595" cy="497" r="8"/><circle cx="514" cy="484" r="8"/><circle cx="356" cy="466" r="8"/><circle cx="368" cy="464" r="8"/><circle cx="468" cy="458" r="8"/><circle cx="328" cy="343" r="8"/><circle cx="313" cy="433" r="8"/><circle cx="533" cy="399" r="8"/></g><g fill="#efe51c"><circle cx="385" cy="419" r="8"/><circle cx="313" cy="482" r="8"/><circle cx="329" cy="359" r="8"/><circle cx="490" cy="524" r="8"/><circle cx="502" cy="255" r="8"/><circle cx="435" cy="370" r="8"/><circle cx="338" cy="492" r="8"/><circle cx="499" cy="471" r="8"/><circle cx="296" cy="462" r="8"/><circle cx="624" cy="452" r="8"/><circle cx="402" cy="441" r="8"/><circle cx="533" cy="390" r="8"/><circle cx="347" cy="399" r="8"/><circle cx="321" cy="461" r="8"/><circle cx="481" cy="442" r="8"/><circle cx="515" cy="423" r="8"/><circle cx="484" cy="438" r="8"/><circle cx="340" cy="369" r="8"/><circle cx="425" cy="381" r="8"/><circle cx="527" cy="413" r="8"/></g><g fill="#fde725"><circle cx="564" cy="389" r="8"/><circle cx="271" cy="478" r="8"/></g><g fill="#481c6e"><circle cx="714" cy="431" r="8"/><circle cx="672" cy="468" r="8"/><circle cx="665" cy="467" r="8"/><circle cx="738" cy="363" r="8"/></g><g fill="#482475"><circle cx="792" cy="251" r="8"/><circle cx="939" cy="443" r="8"/><circle cx="806" cy="465" r="8"/><circle cx="624" cy="316" r="8"/><circle cx="857" cy="396" r="8"/></g><g fill="#472d7b"><circle cx="735" cy="366" r="8"/><circle cx="727" cy="487" r="8"/><circle cx="885" cy="500" r="8"/></g><g fill="#463480"><circle cx="848" cy="486" r="8"/><circle cx="711" cy="193" r="8"/><circle cx="836" cy="377" r="8"/><circle cx="749" cy="425" r="8"/><circle cx="836" cy="410" r="8"/><circle cx="870" cy="395" r="8"/></g><g fill="#443b84"><circle cx="804" cy="491" r="8"/><circle cx="864" cy="470" r="8"/><circle cx="863" cy="439" r="8"/><circle cx="719" cy="514" r="8"/></g><g fill="#414487"><circle cx="799" cy="457" r="8"/><circle cx="828" cy="438" r="8"/><circle cx="689" cy="343" r="8"/></g><g fill="#3e4a89"><circle cx="703" cy="459" r="8"/><circle cx="736" cy="399" r="8"/><circle cx="822" cy="328" r="8"/><circle cx="829" cy="359" r="8"/></g><g fill="#3b528b"><circle cx="903" cy="344" r="8"/><circle cx="642" cy="281" r="8"/><circle cx="806" cy="457" r="8"/></g><g fill="#38598c"><circle cx="889" cy="466" r="8"/><circle cx="413" cy="594" r="8"/><circle cx="629" cy="363" r="8"/><circle cx="590" cy="471" r="8"/><circle cx="535" cy="381" r="8"/><circle cx="820" cy="349" r="8"/><circle cx="628" cy="427" r="8"/></g><g fill="#355f8d"><circle cx="874" cy="452" r="8"/><circle cx="796" cy="535" r="8"/><circle cx="876" cy="430" r="8"/><circle cx="551" cy="386" r="8"/><circle cx="341" cy="368" r="8"/><circle cx="334" cy="395" r="8"/><circle cx="754" cy="405" r="8"/><circle cx="734" cy="474" r="8"/><circle cx="782" cy="405" r="8"/><circle cx="802" cy="383" r="8"/><circle cx="424" cy="586" r="8"/><circle cx="713" cy="386" r="8"/><circle cx="693" cy="373" r="8"/></g><g fill="#31668e"><circle cx="654" cy="416" r="8"/><circle cx="736" cy="471" r="8"/><circle cx="635" cy="475" r="8"/><circle cx="632" cy="409" r="8"/><circle cx="821" cy="485" r="8"/><circle cx="522" cy="424" r="8"/><circle cx="737" cy="442" r="8"/><circle cx="775" cy="537" r="8"/><circle cx="297" cy="387" r="8"/><circle cx="697" cy="486" r="8"/><circle cx="645" cy="324" r="8"/><circle cx="459" cy="451" r="8"/><circle cx="837" cy="481" r="8"/><circle cx="291" cy="494" r="8"/><circle cx="697" cy="526" r="8"/><circle cx="572" cy="392" r="8"/><circle cx="440" cy="447" r="8"/><circle cx="458" cy="440" r="8"/><circle cx="595" cy="272" r="8"/><circle cx="817" cy="500" r="8"/><circle cx="739" cy="494" r="8"/><circle cx="693" cy="556" r="8"/><circle cx="695" cy="421" r="8"/><circle cx="555" cy="296" r="8"/><circle cx="657" cy="434" r="8"/><circle cx="800" cy="441" r="8"/></g><g fill="#2f6c8e"><circle cx="805" cy="470" r="8"/><circle cx="708" cy="446" r="8"/><circle cx="496" cy="333" r="8"/><circle cx="588" cy="386" r="8"/><circle cx="769" cy="431" r="8"/><circle cx="640" cy="436" r="8"/><circle cx="574" cy="493" r="8"/><circle cx="829" cy="421" r="8"/><circle cx="520" cy="420" r="8"/><circle cx="518" cy="478" r="8"/><circle cx="648" cy="328" r="8"/><circle cx="647" cy="543" r="8"/><circle cx="715" cy="444" r="8"/><circle cx="587" cy="474" r="8"/><circle cx="643" cy="474" r="8"/><circle cx="720" cy="462" r="8"/><circle cx="670" cy="509" r="8"/><circle cx="714" cy="366" r="8"/><circle cx="922" cy="438" r="8"/><circle cx="729" cy="436" r="8"/><circle cx="806" cy="425" r="8"/><circle cx="708" cy="484" r="8"/></g><g fill="#2c728e"><circle cx="835" cy="430" r="8"/><circle cx="731" cy="562" r="8"/><circle cx="424" cy="403" r="8"/><circle cx="879" cy="469" r="8"/><circle cx="414" cy="521" r="8"/><circle cx="908" cy="314" r="8"/><circle cx="772" cy="440" r="8"/><circle cx="891" cy="326" r="8"/><circle cx="794" cy="487" r="8"/><circle cx="397" cy="490" r="8"/><circle cx="436" cy="494" r="8"/><circle cx="300" cy="444" r="8"/><circle cx="697" cy="157" r="8"/><circle cx="801" cy="497" r="8"/><circle cx="769" cy="438" r="8"/><circle cx="770" cy="405" r="8"/><circle cx="590" cy="286" r="8"/><circle cx="463" cy="371" r="8"/><circle cx="305" cy="491" r="8"/></g><g fill="#2a788e"><circle cx="860" cy="442" r="8"/><circle cx="748" cy="483" r="8"/><circle cx="548" cy="347" r="8"/><circle cx="933" cy="175" r="8"/><circle cx="918" cy="450" r="8"/><circle cx="693" cy="336" r="8"/><circle cx="899" cy="485" r="8"/><circle cx="748" cy="385" r="8"/><circle cx="793" cy="484" r="8"/><circle cx="604" cy="519" r="8"/><circle cx="631" cy="423" r="8"/><circle cx="886" cy="413" r="8"/><circle cx="852" cy="444" r="8"/><circle cx="446" cy="351" r="8"/><circle cx="818" cy="297" r="8"/><circle cx="785" cy="362" r="8"/><circle cx="757" cy="312" r="8"/><circle cx="791" cy="504" r="8"/><circle cx="491" cy="407" r="8"/><circle cx="303" cy="386" r="8"/><circle cx="736" cy="532" r="8"/><circle cx="300" cy="447" r="8"/><circle cx="832" cy="518" r="8"/><circle cx="689" cy="420" r="8"/><circle cx="608" cy="392" r="8"/><circle cx="742" cy="529" r="8"/><circle cx="687" cy="423" r="8"/><circle cx="819" cy="422" r="8"/><circle cx="657" cy="447" r="8"/><circle cx="933" cy="464" r="8"/><circle cx="738" cy="547" r="8"/></g><g fill="#277e8e"><circle cx="786" cy="437" r="8"/><circle cx="760" cy="397" r="8"/><circle cx="742" cy="362" r="8"/><circle cx="720" cy="390" r="8"/><circle cx="329" cy="494" r="8"/><circle cx="809" cy="327" r="8"/><circle cx="922" cy="464" r="8"/><circle cx="754" cy="541" r="8"/><circle cx="450" cy="492" r="8"/><circle cx="807" cy="424" r="8"/><circle cx="764" cy="456" r="8"/><circle cx="758" cy="456" r="8"/><circle cx="900" cy="446" r="8"/><circle cx="769" cy="557" r="8"/><circle cx="815" cy="430" r="8"/><circle cx="828" cy="425" r="8"/><circle cx="623" cy="476" r="8"/><circle cx="586" cy="486" r="8"/><circle cx="756" cy="387" r="8"/><circle cx="876" cy="387" r="8"/><circle cx="615" cy="507" r="8"/><circle cx="805" cy="589" r="8"/><circle cx="681" cy="359" r="8"/><circle cx="751" cy="526" r="8"/><circle cx="382" cy="497" r="8"/><circle cx="838" cy="285" r="8"/><circle cx="770" cy="408" r="8"/><circle cx="859" cy="446" r="8"/><circle cx="873" cy="468" r="8"/><circle cx="707" cy="486" r="8"/><circle cx="816" cy="435" r="8"/><circle cx="798" cy="382" r="8"/><circle cx="759" cy="546" r="8"/></g><g fill="#25848e"><circle cx="765" cy="310" r="8"/><circle cx="671" cy="480" r="8"/><circle cx="686" cy="508" r="8"/><circle cx="719" cy="429" r="8"/><circle cx="611" cy="376" r="8"/><circle cx="701" cy="497" r="8"/><circle cx="677" cy="508" r="8"/><circle cx="742" cy="385" r="8"/><circle cx="698" cy="426" r="8"/><circle cx="695" cy="548" r="8"/><circle cx="724" cy="532" r="8"/><circle cx="612" cy="478" r="8"/><circle cx="632" cy="523" r="8"/><circle cx="891" cy="407" r="8"/><circle cx="657" cy="456" r="8"/><circle cx="763" cy="447" r="8"/><circle cx="682" cy="457" r="8"/><circle cx="540" cy="516" r="8"/><circle cx="644" cy="517" r="8"/><circle cx="933" cy="433" r="8"/><circle cx="772" cy="436" r="8"/><circle cx="790" cy="480" r="8"/><circle cx="848" cy="495" r="8"/><circle cx="807" cy="594" r="8"/><circle cx="729" cy="452" r="8"/><circle cx="747" cy="459" r="8"/><circle cx="719" cy="587" r="8"/><circle cx="788" cy="455" r="8"/><circle cx="742" cy="497" r="8"/><circle cx="706" cy="453" r="8"/><circle cx="855" cy="455" r="8"/><circle cx="677" cy="548" r="8"/><circle cx="668" cy="535" r="8"/><circle cx="789" cy="582" r="8"/><circle cx="735" cy="408" r="8"/><circle cx="763" cy="459" r="8"/><circle cx="467" cy="424" r="8"/></g><g fill="#238a8d"><circle cx="683" cy="432" r="8"/><circle cx="955" cy="445" r="8"/><circle cx="414" cy="428" r="8"/><circle cx="573" cy="398" r="8"/><circle cx="707" cy="391" r="8"/><circle cx="691" cy="416" r="8"/><circle cx="769" cy="437" r="8"/><circle cx="778" cy="314" r="8"/><circle cx="784" cy="350" r="8"/><circle cx="861" cy="417" r="8"/><circle cx="948" cy="440" r="8"/><circle cx="649" cy="361" r="8"/><circle cx="802" cy="471" r="8"/><circle cx="674" cy="488" r="8"/><circle cx="885" cy="499" r="8"/><circle cx="727" cy="463" r="8"/><circle cx="622" cy="321" r="8"/><circle cx="664" cy="384" r="8"/><circle cx="849" cy="396" r="8"/><circle cx="706" cy="459" r="8"/><circle cx="629" cy="572" r="8"/><circle cx="857" cy="419" r="8"/><circle cx="689" cy="630" r="8"/><circle cx="589" cy="455" r="8"/><circle cx="623" cy="433" r="8"/><circle cx="665" cy="509" r="8"/><circle cx="808" cy="472" r="8"/><circle cx="722" cy="443" r="8"/><circle cx="549" cy="526" r="8"/><circle cx="843" cy="460" r="8"/><circle cx="592" cy="475" r="8"/><circle cx="736" cy="418" r="8"/><circle cx="826" cy="433" r="8"/><circle cx="775" cy="467" r="8"/><circle cx="712" cy="480" r="8"/><circle cx="605" cy="555" r="8"/><circle cx="773" cy="340" r="8"/><circle cx="658" cy="490" r="8"/><circle cx="440" cy="497" r="8"/><circle cx="782" cy="443" r="8"/><circle cx="843" cy="407" r="8"/><circle cx="533" cy="479" r="8"/><circle cx="674" cy="431" r="8"/><circle cx="605" cy="331" r="8"/><circle cx="677" cy="492" r="8"/><circle cx="700" cy="420" r="8"/><circle cx="762" cy="343" r="8"/><circle cx="571" cy="423" r="8"/><circle cx="833" cy="505" r="8"/><circle cx="384" cy="366" r="8"/><circle cx="688" cy="518" r="8"/><circle cx="544" cy="391" r="8"/><circle cx="791" cy="349" r="8"/><circle cx="915" cy="463" r="8"/><circle cx="408" cy="414" r="8"/><circle cx="724" cy="523" r="8"/><circle cx="789" cy="405" r="8"/><circle cx="607" cy="528" r="8"/></g><g fill="#21918c"><circle cx="652" cy="370" r="8"/><circle cx="746" cy="346" r="8"/><circle cx="678" cy="330" r="8"/><circle cx="813" cy="429" r="8"/><circle cx="563" cy="368" r="8"/><circle cx="691" cy="402" r="8"/><circle cx="747" cy="561" r="8"/><circle cx="333" cy="399" r="8"/><circle cx="902" cy="477" r="8"/><circle cx="767" cy="342" r="8"/><circle cx="706" cy="364" r="8"/><circle cx="829" cy="445" r="8"/><circle cx="922" cy="481" r="8"/><circle cx="800" cy="417" r="8"/><circle cx="600" cy="404" r="8"/><circle cx="701" cy="410" r="8"/><circle cx="604" cy="425" r="8"/><circle cx="560" cy="451" r="8"/><circle cx="781" cy="436" r="8"/><circle cx="872" cy="453" r="8"/><circle cx="603" cy="533" r="8"/><circle cx="771" cy="496" r="8"/><circle cx="688" cy="449" r="8"/><circle cx="819" cy="383" r="8"/><circle cx="636" cy="398" r="8"/><circle cx="908" cy="487" r="8"/><circle cx="657" cy="456" r="8"/><circle cx="340" cy="531" r="8"/><circle cx="748" cy="444" r="8"/><circle cx="369" cy="347" r="8"/><circle cx="686" cy="441" r="8"/><circle cx="304" cy="580" r="8"/><circle cx="635" cy="491" r="8"/><circle cx="737" cy="433" r="8"/><circle cx="779" cy="460" r="8"/><circle cx="671" cy="483" r="8"/><circle cx="681" cy="490" r="8"/><circle cx="486" cy="512" r="8"/><circle cx="657" cy="343" r="8"/><circle cx="363" cy="456" r="8"/><circle cx="732" cy="400" r="8"/><circle cx="583" cy="571" r="8"/><circle cx="603" cy="476" r="8"/><circle cx="602" cy="479" r="8"/><circle cx="652" cy="466" r="8"/><circle cx="789" cy="492" r="8"/><circle cx="663" cy="419" r="8"/><circle cx="493" cy="260" r="8"/><circle cx="735" cy="327" r="8"/><circle cx="462" cy="588" r="8"/><circle cx="675" cy="410" r="8"/><circle cx="449" cy="501" r="8"/><circle cx="584" cy="354" r="8"/><circle cx="655" cy="526" r="8"/><circle cx="723" cy="446" r="8"/><circle cx="701" cy="459" r="8"/><circle cx="360" cy="436" r="8"/><circle cx="825" cy="437" r="8"/><circle cx="698" cy="489" r="8"/><circle cx="450" cy="359" r="8"/></g><g fill="#1f968b"><circle cx="687" cy="486" r="8"/><circle cx="766" cy="471" r="8"/><circle cx="716" cy="466" r="8"/><circle cx="344" cy="497" r="8"/><circle cx="495" cy="355" r="8"/><circle cx="343" cy="465" r="8"/><circle cx="496" cy="411" r="8"/><circle cx="641" cy="429" r="8"/><circle cx="551" cy="396" r="8"/><circle cx="819" cy="425" r="8"/><circle cx="564" cy="391" r="8"/><circle cx="467" cy="314" r="8"/><circle cx="393" cy="434" r="8"/><circle cx="750" cy="493" r="8"/><circle cx="319" cy="471" r="8"/><circle cx="363" cy="375" r="8"/><circle cx="622" cy="334" r="8"/><circle cx="544" cy="466" r="8"/><circle cx="721" cy="446" r="8"/><circle cx="535" cy="522" r="8"/><circle cx="466" cy="382" r="8"/><circle cx="594" cy="495" r="8"/><circle cx="505" cy="409" r="8"/><circle cx="837" cy="468" r="8"/><circle cx="647" cy="490" r="8"/><circle cx="395" cy="435" r="8"/><circle cx="523" cy="475" r="8"/><circle cx="799" cy="417" r="8"/><circle cx="739" cy="421" r="8"/><circle cx="299" cy="498" r="8"/><circle cx="923" cy="425" r="8"/><circle cx="620" cy="392" r="8"/><circle cx="436" cy="489" r="8"/><circle cx="706" cy="425" r="8"/><circle cx="641" cy="464" r="8"/><circle cx="739" cy="426" r="8"/><circle cx="289" cy="481" r="8"/><circle cx="563" cy="444" r="8"/><circle cx="360" cy="530" r="8"/><circle cx="786" cy="491" r="8"/><circle cx="371" cy="420" r="8"/><circle cx="790" cy="513" r="8"/><circle cx="886" cy="493" r="8"/><circle cx="715" cy="407" r="8"/><circle cx="641" cy="383" r="8"/><circle cx="658" cy="482" r="8"/><circle cx="473" cy="438" r="8"/><circle cx="885" cy="481" r="8"/><circle cx="601" cy="395" r="8"/><circle cx="621" cy="512" r="8"/><circle cx="741" cy="463" r="8"/><circle cx="611" cy="509" r="8"/><circle cx="341" cy="507" r="8"/><circle cx="663" cy="515" r="8"/><circle cx="518" cy="291" r="8"/><circle cx="683" cy="397" r="8"/><circle cx="297" cy="405" r="8"/><circle cx="642" cy="426" r="8"/><circle cx="549" cy="545" r="8"/><circle cx="668" cy="371" r="8"/><circle cx="935" cy="465" r="8"/><circle cx="603" cy="507" r="8"/><circle cx="593" cy="408" r="8"/><circle cx="561" cy="352" r="8"/></g><g fill="#1e9c89"><circle cx="582" cy="443" r="8"/><circle cx="760" cy="478" r="8"/><circle cx="614" cy="500" r="8"/><circle cx="652" cy="382" r="8"/><circle cx="615" cy="470" r="8"/><circle cx="638" cy="485" r="8"/><circle cx="296" cy="457" r="8"/><circle cx="374" cy="434" r="8"/><circle cx="737" cy="363" r="8"/><circle cx="690" cy="352" r="8"/><circle cx="610" cy="352" r="8"/><circle cx="608" cy="394" r="8"/><circle cx="584" cy="410" r="8"/><circle cx="659" cy="468" r="8"/><circle cx="339" cy="453" r="8"/><circle cx="714" cy="379" r="8"/><circle cx="728" cy="489" r="8"/><circle cx="749" cy="514" r="8"/><circle cx="720" cy="484" r="8"/><circle cx="803" cy="483" r="8"/><circle cx="409" cy="469" r="8"/><circle cx="645" cy="307" r="8"/><circle cx="480" cy="479" r="8"/><circle cx="692" cy="292" r="8"/><circle cx="581" cy="493" r="8"/><circle cx="672" cy="431" r="8"/><circle cx="487" cy="441" r="8"/><circle cx="680" cy="466" r="8"/><circle cx="646" cy="354" r="8"/><circle cx="649" cy="461" r="8"/><circle cx="696" cy="571" r="8"/><circle cx="647" cy="414" r="8"/><circle cx="636" cy="556" r="8"/><circle cx="529" cy="453" r="8"/><circle cx="549" cy="513" r="8"/><circle cx="670" cy="465" r="8"/><circle cx="769" cy="448" r="8"/><circle cx="791" cy="423" r="8"/><circle cx="472" cy="389" r="8"/><circle cx="632" cy="487" r="8"/><circle cx="638" cy="396" r="8"/><circle cx="484" cy="392" r="8"/><circle cx="739" cy="455" r="8"/><circle cx="785" cy="442" r="8"/><circle cx="304" cy="406" r="8"/><circle cx="411" cy="433" r="8"/><circle cx="611" cy="399" r="8"/><circle cx="693" cy="348" r="8"/><circle cx="666" cy="486" r="8"/><circle cx="678" cy="353" r="8"/><circle cx="815" cy="241" r="8"/><circle cx="404" cy="422" r="8"/><circle cx="693" cy="455" r="8"/><circle cx="553" cy="398" r="8"/><circle cx="573" cy="397" r="8"/><circle cx="724" cy="379" r="8"/><circle cx="699" cy="506" r="8"/><circle cx="562" cy="417" r="8"/></g><g fill="#1fa287"><circle cx="637" cy="361" r="8"/><circle cx="598" cy="611" r="8"/><circle cx="586" cy="475" r="8"/><circle cx="575" cy="478" r="8"/><circle cx="701" cy="362" r="8"/><circle cx="571" cy="315" r="8"/><circle cx="611" cy="357" r="8"/><circle cx="295" cy="430" r="8"/><circle cx="613" cy="390" r="8"/><circle cx="583" cy="462" r="8"/><circle cx="503" cy="511" r="8"/><circle cx="273" cy="508" r="8"/><circle cx="283" cy="449" r="8"/><circle cx="680" cy="331" r="8"/><circle cx="675" cy="367" r="8"/><circle cx="460" cy="422" r="8"/><circle cx="605" cy="409" r="8"/><circle cx="356" cy="480" r="8"/><circle cx="675" cy="334" r="8"/><circle cx="282" cy="390" r="8"/><circle cx="677" cy="426" r="8"/><circle cx="556" cy="354" r="8"/><circle cx="510" cy="492" r="8"/><circle cx="415" cy="445" r="8"/><circle cx="646" cy="487" r="8"/><circle cx="722" cy="495" r="8"/><circle cx="701" cy="476" r="8"/><circle cx="678" cy="387" r="8"/><circle cx="654" cy="468" r="8"/><circle cx="475" cy="407" r="8"/><circle cx="331" cy="414" r="8"/><circle cx="641" cy="310" r="8"/><circle cx="420" cy="339" r="8"/><circle cx="680" cy="490" r="8"/><circle cx="605" cy="372" r="8"/><circle cx="745" cy="484" r="8"/><circle cx="718" cy="410" r="8"/><circle cx="727" cy="427" r="8"/><circle cx="616" cy="352" r="8"/><circle cx="314" cy="440" r="8"/><circle cx="310" cy="444" r="8"/><circle cx="475" cy="410" r="8"/></g><g fill="#22a884"><circle cx="515" cy="514" r="8"/><circle cx="546" cy="375" r="8"/><circle cx="480" cy="516" r="8"/><circle cx="364" cy="323" r="8"/><circle cx="628" cy="411" r="8"/><circle cx="504" cy="414" r="8"/><circle cx="662" cy="464" r="8"/><circle cx="290" cy="465" r="8"/><circle cx="601" cy="418" r="8"/><circle cx="618" cy="413" r="8"/><circle cx="451" cy="488" r="8"/><circle cx="356" cy="399" r="8"/><circle cx="638" cy="471" r="8"/><circle cx="321" cy="452" r="8"/><circle cx="675" cy="408" r="8"/><circle cx="530" cy="269" r="8"/><circle cx="397" cy="515" r="8"/><circle cx="591" cy="403" r="8"/><circle cx="675" cy="383" r="8"/><circle cx="343" cy="580" r="8"/><circle cx="498" cy="320" r="8"/><circle cx="670" cy="368" r="8"/><circle cx="267" cy="489" r="8"/><circle cx="341" cy="426" r="8"/><circle cx="483" cy="401" r="8"/><circle cx="582" cy="439" r="8"/><circle cx="466" cy="382" r="8"/><circle cx="638" cy="327" r="8"/><circle cx="494" cy="397" r="8"/><circle cx="361" cy="413" r="8"/><circle cx="664" cy="348" r="8"/><circle cx="378" cy="411" r="8"/><circle cx="429" cy="394" r="8"/><circle cx="439" cy="293" r="8"/><circle cx="622" cy="344" r="8"/><circle cx="530" cy="434" r="8"/><circle cx="615" cy="518" r="8"/><circle cx="395" cy="469" r="8"/><circle cx="611" cy="506" r="8"/><circle cx="587" cy="529" r="8"/></g><g fill="#28ae80"><circle cx="524" cy="315" r="8"/><circle cx="334" cy="437" r="8"/><circle cx="614" cy="416" r="8"/><circle cx="615" cy="473" r="8"/><circle cx="654" cy="498" r="8"/><circle cx="549" cy="359" r="8"/><circle cx="642" cy="392" r="8"/><circle cx="564" cy="453" r="8"/><circle cx="388" cy="405" r="8"/><circle cx="322" cy="400" r="8"/><circle cx="318" cy="447" r="8"/><circle cx="453" cy="488" r="8"/><circle cx="448" cy="351" r="8"/><circle cx="652" cy="359" r="8"/><circle cx="409" cy="419" r="8"/><circle cx="343" cy="422" r="8"/><circle cx="675" cy="477" r="8"/><circle cx="641" cy="548" r="8"/><circle cx="556" cy="425" r="8"/><circle cx="591" cy="429" r="8"/><circle cx="356" cy="445" r="8"/><circle cx="442" cy="393" r="8"/><circle cx="515" cy="268" r="8"/><circle cx="330" cy="496" r="8"/><circle cx="336" cy="487" r="8"/><circle cx="608" cy="511" r="8"/><circle cx="514" cy="406" r="8"/><circle cx="365" cy="405" r="8"/><circle cx="531" cy="442" r="8"/><circle cx="390" cy="388" r="8"/><circle cx="592" cy="514" r="8"/><circle cx="548" cy="251" r="8"/><circle cx="581" cy="387" r="8"/></g><g fill="#2fb47c"><circle cx="474" cy="550" r="8"/><circle cx="608" cy="363" r="8"/><circle cx="588" cy="447" r="8"/><circle cx="518" cy="454" r="8"/><circle cx="307" cy="443" r="8"/><circle cx="478" cy="434" r="8"/><circle cx="545" cy="437" r="8"/><circle cx="642" cy="472" r="8"/><circle cx="287" cy="394" r="8"/><circle cx="455" cy="337" r="8"/><circle cx="495" cy="395" r="8"/><circle cx="642" cy="488" r="8"/><circle cx="502" cy="482" r="8"/><circle cx="509" cy="316" r="8"/><circle cx="435" cy="415" r="8"/><circle cx="338" cy="417" r="8"/><circle cx="599" cy="450" r="8"/><circle cx="546" cy="436" r="8"/><circle cx="601" cy="583" r="8"/><circle cx="635" cy="339" r="8"/><circle cx="304" cy="458" r="8"/><circle cx="341" cy="388" r="8"/><circle cx="387" cy="435" r="8"/><circle cx="397" cy="397" r="8"/><circle cx="275" cy="478" r="8"/><circle cx="576" cy="447" r="8"/><circle cx="491" cy="419" r="8"/><circle cx="401" cy="414" r="8"/><circle cx="491" cy="482" r="8"/><circle cx="299" cy="399" r="8"/><circle cx="618" cy="471" r="8"/><circle cx="612" cy="464" r="8"/><circle cx="521" cy="372" r="8"/><circle cx="414" cy="439" r="8"/><circle cx="460" cy="403" r="8"/><circle cx="384" cy="408" r="8"/><circle cx="624" cy="369" r="8"/><circle cx="629" cy="317" r="8"/><circle cx="417" cy="341" r="8"/><circle cx="511" cy="457" r="8"/><circle cx="329" cy="466" r="8"/></g><g fill="#38b977"><circle cx="416" cy="331" r="8"/><circle cx="386" cy="434" r="8"/><circle cx="383" cy="361" r="8"/><circle cx="332" cy="332" r="8"/><circle cx="415" cy="392" r="8"/><circle cx="297" cy="409" r="8"/><circle cx="475" cy="543" r="8"/><circle cx="367" cy="472" r="8"/><circle cx="326" cy="389" r="8"/><circle cx="470" cy="300" r="8"/><circle cx="518" cy="450" r="8"/><circle cx="542" cy="351" r="8"/><circle cx="342" cy="398" r="8"/><circle cx="272" cy="418" r="8"/></g><g fill="#44bf70"><circle cx="272" cy="447" r="8"/><circle cx="312" cy="366" r="8"/><circle cx="439" cy="379" r="8"/><circle cx="449" cy="422" r="8"/></g><g fill="#50c46a"><circle cx="268" cy="379" r="8"/><circle cx="265" cy="371" r="8"/></g><g fill="#5ec962"><circle cx="288" cy="390" r="8"/><circle cx="330" cy="454" r="8"/><circle cx="354" cy="404" r="8"/><circle cx="444" cy="402" r="8"/><circle cx="287" cy="395" r="8"/><circle cx="512" cy="404" r="8"/><circle cx="417" cy="437" r="8"/><circle cx="425" cy="447" r="8"/></g><g fill="#6ccd5a"><circle cx="484" cy="377" r="8"/><circle cx="284" cy="408" r="8"/><circle cx="665" cy="514" r="8"/><circle cx="559" cy="482" r="8"/><circle cx="684" cy="324" r="8"/><circle cx="434" cy="390" r="8"/><circle cx="620" cy="506" r="8"/><circle cx="478" cy="386" r="8"/><circle cx="530" cy="425" r="8"/><circle cx="393" cy="551" r="8"/><circle cx="521" cy="455" r="8"/><circle cx="349" cy="426" r="8"/><circle cx="664" cy="475" r="8"/><circle cx="422" cy="543" r="8"/><circle cx="528" cy="470" r="8"/><circle cx="366" cy="553" r="8"/><circle cx="334" cy="447" r="8"/><circle cx="524" cy="363" r="8"/><circle cx="277" cy="375" r="8"/><circle cx="357" cy="464" r="8"/><circle cx="480" cy="397" r="8"/><circle cx="499" cy="415" r="8"/></g><g fill="#7ad151"><circle cx="418" cy="435" r="8"/><circle cx="286" cy="384" r="8"/><circle cx="420" cy="646" r="8"/><circle cx="395" cy="431" r="8"/><circle cx="374" cy="481" r="8"/><circle cx="596" cy="468" r="8"/><circle cx="442" cy="430" r="8"/><circle cx="441" cy="508" r="8"/><circle cx="682" cy="606" r="8"/><circle cx="359" cy="435" r="8"/><circle cx="473" cy="467" r="8"/><circle cx="297" cy="405" r="8"/><circle cx="417" cy="582" r="8"/><circle cx="432" cy="605" r="8"/><circle cx="306" cy="436" r="8"/><circle cx="274" cy="453" r="8"/><circle cx="411" cy="509" r="8"/><circle cx="396" cy="411" r="8"/><circle cx="365" cy="499" r="8"/><circle cx="361" cy="438" r="8"/><circle cx="519" cy="457" r="8"/><circle cx="515" cy="374" r="8"/><circle cx="458" cy="413" r="8"/><circle cx="504" cy="378" r="8"/><circle cx="320" cy="371" r="8"/><circle cx="417" cy="497" r="8"/><circle cx="549" cy="501" r="8"/><circle cx="454" cy="400" r="8"/></g><g fill="#8bd646"><circle cx="434" cy="407" r="8"/><circle cx="437" cy="334" r="8"/><circle cx="505" cy="540" r="8"/><circle cx="545" cy="502" r="8"/><circle cx="611" cy="504" r="8"/><circle cx="579" cy="499" r="8"/><circle cx="654" cy="367" r="8"/><circle cx="362" cy="474" r="8"/><circle cx="313" cy="430" r="8"/><circle cx="308" cy="340" r="8"/><circle cx="286" cy="403" r="8"/><circle cx="483" cy="377" r="8"/><circle cx="371" cy="483" r="8"/><circle cx="420" cy="472" r="8"/><circle cx="627" cy="458" r="8"/><circle cx="679" cy="596" r="8"/><circle cx="264" cy="490" r="8"/><circle cx="309" cy="368" r="8"/><circle cx="451" cy="445" r="8"/></g><g fill="#9bd93c"><circle cx="274" cy="378" r="8"/><circle cx="335" cy="478" r="8"/><circle cx="387" cy="408" r="8"/><circle cx="330" cy="477" r="8"/><circle cx="362" cy="451" r="8"/><circle cx="680" cy="373" r="8"/><circle cx="457" cy="575" r="8"/><circle cx="345" cy="394" r="8"/><circle cx="376" cy="451" r="8"/><circle cx="497" cy="511" r="8"/><circle cx="383" cy="534" r="8"/><circle cx="438" cy="359" r="8"/><circle cx="595" cy="379" r="8"/><circle cx="302" cy="438" r="8"/><circle cx="533" cy="342" r="8"/><circle cx="402" cy="326" r="8"/><circle cx="609" cy="452" r="8"/><circle cx="357" cy="356" r="8"/><circle cx="290" cy="423" r="8"/></g><g fill="#addc30"><circle cx="469" cy="444" r="8"/><circle cx="375" cy="436" r="8"/><circle cx="383" cy="438" r="8"/><circle cx="450" cy="405" r="8"/><circle cx="464" cy="549" r="8"/><circle cx="338" cy="423" r="8"/><circle cx="353" cy="435" r="8"/><circle cx="471" cy="421" r="8"/><circle cx="527" cy="402" r="8"/><circle cx="323" cy="438" r="8"/><circle cx="680" cy="380" r="8"/><circle cx="314" cy="493" r="8"/><circle cx="352" cy="438" r="8"/><circle cx="355" cy="429" r="8"/><circle cx="412" cy="451" r="8"/><circle cx="325" cy="410" r="8"/><circle cx="285" cy="422" r="8"/><circle cx="506" cy="519" r="8"/><circle cx="290" cy="424" r="8"/><circle cx="354" cy="431" r="8"/><circle cx="564" cy="490" r="8"/><circle cx="312" cy="380" r="8"/><circle cx="524" cy="541" r="8"/><circle cx="349" cy="466" r="8"/><circle cx="450" cy="332" r="8"/><circle cx="355" cy="401" r="8"/><circle cx="344" cy="390" r="8"/></g><g fill="#bddf26"><circle cx="372" cy="296" r="8"/><circle cx="537" cy="415" r="8"/><circle cx="560" cy="394" r="8"/><circle cx="380" cy="481" r="8"/><circle cx="325" cy="505" r="8"/><circle cx="425" cy="496" r="8"/><circle cx="332" cy="429" r="8"/><circle cx="622" cy="468" r="8"/><circle cx="406" cy="396" r="8"/><circle cx="449" cy="443" r="8"/><circle cx="295" cy="408" r="8"/><circle cx="638" cy="470" r="8"/><circle cx="456" cy="456" r="8"/><circle cx="353" cy="508" r="8"/><circle cx="629" cy="436" r="8"/><circle cx="598" cy="438" r="8"/><circle cx="619" cy="463" r="8"/><circle cx="614" cy="469" r="8"/></g><g fill="#cde11d"><circle cx="463" cy="413" r="8"/><circle cx="530" cy="394" r="8"/><circle cx="438" cy="432" r="8"/><circle cx="471" cy="604" r="8"/><circle cx="319" cy="447" r="8"/><circle cx="335" cy="529" r="8"/><circle cx="405" cy="419" r="8"/><circle cx="285" cy="385" r="8"/><circle cx="499" cy="362" r="8"/><circle cx="425" cy="543" r="8"/><circle cx="597" cy="439" r="8"/><circle cx="360" cy="339" r="8"/><circle cx="324" cy="381" r="8"/><circle cx="427" cy="431" r="8"/><circle cx="597" cy="374" r="8"/><circle cx="528" cy="487" r="8"/><circle cx="514" cy="359" r="8"/><circle cx="415" cy="379" r="8"/><circle cx="585" cy="457" r="8"/><circle cx="306" cy="467" r="8"/><circle cx="334" cy="387" r="8"/><circle cx="588" cy="448" r="8"/><circle cx="523" cy="396" r="8"/><circle cx="430" cy="279" r="8"/><circle cx="429" cy="596" r="8"/></g><g fill="#dfe318"><circle cx="515" cy="431" r="8"/><circle cx="434" cy="411" r="8"/><circle cx="554" cy="440" r="8"/><circle cx="426" cy="461" r="8"/><circle cx="470" cy="354" r="8"/><circle cx="528" cy="410" r="8"/><circle cx="539" cy="539" r="8"/><circle cx="462" cy="472" r="8"/><circle cx="589" cy="451" r="8"/><circle cx="511" cy="342" r="8"/><circle cx="442" cy="435" r="8"/><circle cx="558" cy="489" r="8"/><circle cx="551" cy="366" r="8"/><circle cx="339" cy="518" r="8"/><circle cx="586" cy="463" r="8"/><circle cx="598" cy="639" r="8"/><circle cx="534" cy="412" r="8"/><circle cx="552" cy="546" r="8"/><circle cx="295" cy="429" r="8"/><circle cx="546" cy="399" r="8"/><circle cx="632" cy="572" r="8"/></g><g fill="#efe51c"><circle cx="566" cy="330" r="8"/><circle cx="401" cy="408" r="8"/><circle cx="345" cy="370" r="8"/><circle cx="635" cy="533" r="8"/><circle cx="378" cy="545" r="8"/><circle cx="607" cy="480" r="8"/><circle cx="602" cy="472" r="8"/><circle cx="341" cy="413" r="8"/><circle cx="355" cy="408" r="8"/><circle cx="344" cy="429" r="8"/><circle cx="441" cy="377" r="8"/><circle cx="483" cy="446" r="8"/><circle cx="603" cy="458" r="8"/><circle cx="463" cy="518" r="8"/><circle cx="578" cy="393" r="8"/><circle cx="499" cy="464" r="8"/><circle cx="320" cy="273" r="8"/></g><g fill="#fde725"><circle cx="453" cy="410" r="8"/><circle cx="350" cy="420" r="8"/><circle cx="366" cy="529" r="8"/><circle cx="478" cy="451" r="8"/><circle cx="616" cy="521" r="8"/><circle cx="610" cy="528" r="8"/><circle cx="301" cy="433" r="8"/></g><g fill="#471365"><circle cx="614" cy="326" r="8"/></g><g fill="#481c6e"><circle cx="757" cy="485" r="8"/><circle cx="903" cy="529" r="8"/></g><g fill="#482475"><circle cx="627" cy="428" r="8"/><circle cx="782" cy="268" r="8"/><circle cx="772" cy="278" r="8"/></g><g fill="#472d7b"><circle cx="709" cy="332" r="8"/></g><g fill="#463480"><circle cx="656" cy="571" r="8"/><circle cx="870" cy="486" r="8"/><circle cx="781" cy="421" r="8"/><circle cx="721" cy="419" r="8"/><circle cx="650" cy="439" r="8"/><circle cx="885" cy="446" r="8"/></g><g fill="#443b84"><circle cx="717" cy="641" r="8"/><circle cx="835" cy="490" r="8"/><circle cx="789" cy="472" r="8"/></g><g fill="#414487"><circle cx="827" cy="384" r="8"/><circle cx="689" cy="468" r="8"/><circle cx="894" cy="340" r="8"/></g><g fill="#3e4a89"><circle cx="722" cy="404" r="8"/><circle cx="789" cy="449" r="8"/><circle cx="781" cy="457" r="8"/></g><g fill="#3b528b"><circle cx="711" cy="439" r="8"/><circle cx="785" cy="458" r="8"/><circle cx="921" cy="415" r="8"/></g><g fill="#38598c"><circle cx="536" cy="383" r="8"/><circle cx="647" cy="471" r="8"/><circle cx="902" cy="435" r="8"/><circle cx="593" cy="427" r="8"/><circle cx="772" cy="483" r="8"/><circle cx="861" cy="451" r="8"/><circle cx="491" cy="249" r="8"/><circle cx="605" cy="267" r="8"/></g><g fill="#355f8d"><circle cx="874" cy="432" r="8"/><circle cx="802" cy="393" r="8"/><circle cx="639" cy="415" r="8"/><circle cx="628" cy="329" r="8"/><circle cx="589" cy="357" r="8"/><circle cx="799" cy="377" r="8"/><circle cx="528" cy="383" r="8"/><circle cx="840" cy="245" r="8"/><circle cx="750" cy="564" r="8"/><circle cx="663" cy="327" r="8"/><circle cx="896" cy="466" r="8"/><circle cx="698" cy="369" r="8"/><circle cx="479" cy="512" r="8"/><circle cx="605" cy="276" r="8"/><circle cx="785" cy="398" r="8"/><circle cx="868" cy="494" r="8"/><circle cx="849" cy="429" r="8"/><circle cx="830" cy="431" r="8"/><circle cx="724" cy="415" r="8"/><circle cx="429" cy="424" r="8"/><circle cx="848" cy="422" r="8"/><circle cx="728" cy="333" r="8"/><circle cx="864" cy="364" r="8"/></g><g fill="#31668e"><circle cx="617" cy="413" r="8"/><circle cx="732" cy="507" r="8"/><circle cx="649" cy="494" r="8"/><circle cx="363" cy="468" r="8"/><circle cx="590" cy="471" r="8"/><circle cx="630" cy="554" r="8"/><circle cx="309" cy="495" r="8"/><circle cx="597" cy="326" r="8"/><circle cx="684" cy="445" r="8"/><circle cx="666" cy="403" r="8"/><circle cx="610" cy="269" r="8"/><circle cx="829" cy="563" r="8"/><circle cx="744" cy="374" r="8"/><circle cx="762" cy="399" r="8"/><circle cx="478" cy="474" r="8"/><circle cx="817" cy="336" r="8"/><circle cx="803" cy="377" r="8"/><circle cx="847" cy="419" r="8"/><circle cx="693" cy="447" r="8"/><circle cx="889" cy="452" r="8"/><circle cx="378" cy="466" r="8"/><circle cx="773" cy="420" r="8"/><circle cx="633" cy="476" r="8"/><circle cx="370" cy="504" r="8"/></g><g fill="#2f6c8e"><circle cx="651" cy="441" r="8"/><circle cx="758" cy="519" r="8"/><circle cx="801" cy="457" r="8"/><circle cx="776" cy="370" r="8"/><circle cx="873" cy="432" r="8"/><circle cx="745" cy="324" r="8"/><circle cx="778" cy="451" r="8"/><circle cx="397" cy="339" r="8"/><circle cx="859" cy="468" r="8"/><circle cx="560" cy="385" r="8"/><circle cx="736" cy="327" r="8"/><circle cx="412" cy="472" r="8"/><circle cx="802" cy="510" r="8"/><circle cx="867" cy="552" r="8"/><circle cx="318" cy="482" r="8"/><circle cx="653" cy="362" r="8"/><circle cx="744" cy="371" r="8"/><circle cx="621" cy="406" r="8"/><circle cx="537" cy="421" r="8"/><circle cx="839" cy="492" r="8"/><circle cx="526" cy="437" r="8"/><circle cx="706" cy="538" r="8"/><circle cx="921" cy="475" r="8"/><circle cx="287" cy="389" r="8"/><circle cx="567" cy="396" r="8"/><circle cx="843" cy="518" r="8"/><circle cx="844" cy="424" r="8"/><circle cx="275" cy="495" r="8"/><circle cx="586" cy="453" r="8"/><circle cx="435" cy="472" r="8"/><circle cx="681" cy="469" r="8"/><circle cx="690" cy="348" r="8"/><circle cx="650" cy="527" r="8"/></g><g fill="#2c728e"><circle cx="268" cy="477" r="8"/><circle cx="718" cy="379" r="8"/><circle cx="649" cy="480" r="8"/><circle cx="928" cy="494" r="8"/><circle cx="907" cy="494" r="8"/><circle cx="407" cy="435" r="8"/><circle cx="807" cy="405" r="8"/><circle cx="422" cy="464" r="8"/><circle cx="358" cy="448" r="8"/><circle cx="781" cy="496" r="8"/><circle cx="425" cy="462" r="8"/><circle cx="478" cy="483" r="8"/><circle cx="720" cy="364" r="8"/><circle cx="742" cy="419" r="8"/><circle cx="707" cy="380" r="8"/><circle cx="782" cy="480" r="8"/><circle cx="708" cy="380" r="8"/><circle cx="663" cy="317" r="8"/><circle cx="895" cy="486" r="8"/><circle cx="803" cy="463" r="8"/><circle cx="451" cy="355" r="8"/><circle cx="787" cy="399" r="8"/><circle cx="749" cy="362" r="8"/></g><g fill="#2a788e"><circle cx="579" cy="399" r="8"/><circle cx="807" cy="494" r="8"/><circle cx="760" cy="405" r="8"/><circle cx="590" cy="498" r="8"/><circle cx="480" cy="385" r="8"/><circle cx="730" cy="512" r="8"/><circle cx="923" cy="436" r="8"/><circle cx="634" cy="325" r="8"/><circle cx="597" cy="385" r="8"/><circle cx="803" cy="513" r="8"/><circle cx="277" cy="412" r="8"/><circle cx="532" cy="348" r="8"/><circle cx="874" cy="403" r="8"/><circle cx="407" cy="485" r="8"/><circle cx="700" cy="515" r="8"/><circle cx="770" cy="441" r="8"/></g><g fill="#277e8e"><circle cx="918" cy="481" r="8"/><circle cx="813" cy="415" r="8"/><circle cx="715" cy="444" r="8"/><circle cx="592" cy="497" r="8"/><circle cx="934" cy="468" r="8"/><circle cx="546" cy="340" r="8"/><circle cx="752" cy="382" r="8"/><circle cx="741" cy="500" r="8"/><circle cx="896" cy="386" r="8"/><circle cx="808" cy="515" r="8"/><circle cx="914" cy="463" r="8"/><circle cx="666" cy="538" r="8"/><circle cx="464" cy="448" r="8"/><circle cx="873" cy="392" r="8"/><circle cx="875" cy="424" r="8"/><circle cx="699" cy="525" r="8"/><circle cx="564" cy="483" r="8"/><circle cx="911" cy="448" r="8"/><circle cx="746" cy="373" r="8"/><circle cx="867" cy="465" r="8"/><circle cx="773" cy="497" r="8"/><circle cx="910" cy="418" r="8"/><circle cx="693" cy="481" r="8"/><circle cx="755" cy="342" r="8"/><circle cx="798" cy="518" r="8"/><circle cx="477" cy="445" r="8"/><circle cx="571" cy="480" r="8"/></g><g fill="#25848e"><circle cx="911" cy="424" r="8"/><circle cx="775" cy="517" r="8"/><circle cx="767" cy="450" r="8"/><circle cx="622" cy="415" r="8"/><circle cx="674" cy="524" r="8"/><circle cx="659" cy="548" r="8"/><circle cx="825" cy="477" r="8"/><circle cx="639" cy="433" r="8"/><circle cx="720" cy="424" r="8"/><circle cx="853" cy="462" r="8"/><circle cx="771" cy="523" r="8"/><circle cx="860" cy="419" r="8"/><circle cx="793" cy="524" r="8"/><circle cx="738" cy="439" r="8"/><circle cx="751" cy="409" r="8"/><circle cx="916" cy="487" r="8"/><circle cx="837" cy="494" r="8"/><circle cx="871" cy="408" r="8"/><circle cx="780" cy="526" r="8"/><circle cx="686" cy="498" r="8"/><circle cx="773" cy="437" r="8"/><circle cx="680" cy="483" r="8"/><circle cx="685" cy="511" r="8"/><circle cx="764" cy="320" r="8"/><circle cx="680" cy="530" r="8"/><circle cx="717" cy="332" r="8"/><circle cx="699" cy="452" r="8"/><circle cx="789" cy="510" r="8"/><circle cx="746" cy="406" r="8"/><circle cx="692" cy="421" r="8"/><circle cx="537" cy="483" r="8"/><circle cx="751" cy="523" r="8"/></g><g fill="#238a8d"><circle cx="451" cy="373" r="8"/><circle cx="737" cy="441" r="8"/><circle cx="374" cy="444" r="8"/><circle cx="628" cy="522" r="8"/><circle cx="605" cy="561" r="8"/><circle cx="805" cy="518" r="8"/><circle cx="481" cy="395" r="8"/><circle cx="731" cy="443" r="8"/><circle cx="554" cy="418" r="8"/><circle cx="785" cy="492" r="8"/><circle cx="734" cy="369" r="8"/><circle cx="707" cy="444" r="8"/><circle cx="590" cy="445" r="8"/><circle cx="694" cy="454" r="8"/><circle cx="696" cy="371" r="8"/><circle cx="695" cy="392" r="8"/><circle cx="657" cy="451" r="8"/><circle cx="268" cy="330" r="8"/><circle cx="766" cy="383" r="8"/><circle cx="827" cy="505" r="8"/><circle cx="615" cy="461" r="8"/><circle cx="590" cy="450" r="8"/><circle cx="654" cy="533" r="8"/><circle cx="533" cy="470" r="8"/><circle cx="631" cy="508" r="8"/><circle cx="432" cy="423" r="8"/><circle cx="788" cy="579" r="8"/><circle cx="586" cy="360" r="8"/><circle cx="617" cy="490" r="8"/><circle cx="611" cy="473" r="8"/><circle cx="699" cy="372" r="8"/><circle cx="776" cy="441" r="8"/><circle cx="587" cy="501" r="8"/><circle cx="351" cy="330" r="8"/><circle cx="799" cy="240" r="8"/><circle cx="773" cy="427" r="8"/><circle cx="548" cy="525" r="8"/><circle cx="734" cy="489" r="8"/><circle cx="852" cy="511" r="8"/><circle cx="718" cy="387" r="8"/></g><g fill="#21918c"><circle cx="854" cy="385" r="8"/><circle cx="451" cy="357" r="8"/><circle cx="807" cy="378" r="8"/><circle cx="392" cy="421" r="8"/><circle cx="487" cy="422" r="8"/><circle cx="836" cy="363" r="8"/><circle cx="677" cy="501" r="8"/><circle cx="712" cy="437" r="8"/><circle cx="389" cy="429" r="8"/><circle cx="641" cy="413" r="8"/><circle cx="441" cy="435" r="8"/><circle cx="661" cy="499" r="8"/><circle cx="768" cy="551" r="8"/><circle cx="694" cy="379" r="8"/><circle cx="510" cy="511" r="8"/><circle cx="714" cy="372" r="8"/><circle cx="375" cy="641" r="8"/><circle cx="635" cy="415" r="8"/><circle cx="531" cy="442" r="8"/><circle cx="606" cy="324" r="8"/><circle cx="682" cy="296" r="8"/><circle cx="743" cy="359" r="8"/><circle cx="806" cy="529" r="8"/><circle cx="606" cy="469" r="8"/><circle cx="703" cy="456" r="8"/><circle cx="730" cy="492" r="8"/><circle cx="726" cy="410" r="8"/><circle cx="636" cy="489" r="8"/><circle cx="725" cy="523" r="8"/><circle cx="750" cy="349" r="8"/><circle cx="702" cy="305" r="8"/><circle cx="341" cy="372" r="8"/><circle cx="481" cy="423" r="8"/><circle cx="681" cy="502" r="8"/><circle cx="654" cy="504" r="8"/><circle cx="606" cy="383" r="8"/><circle cx="723" cy="430" r="8"/><circle cx="481" cy="434" r="8"/><circle cx="597" cy="566" r="8"/><circle cx="814" cy="422" r="8"/><circle cx="779" cy="462" r="8"/><circle cx="720" cy="525" r="8"/><circle cx="577" cy="493" r="8"/><circle cx="389" cy="463" r="8"/><circle cx="565" cy="518" r="8"/><circle cx="596" cy="539" r="8"/><circle cx="551" cy="480" r="8"/><circle cx="401" cy="659" r="8"/><circle cx="649" cy="542" r="8"/><circle cx="607" cy="373" r="8"/><circle cx="863" cy="443" r="8"/><circle cx="662" cy="409" r="8"/><circle cx="401" cy="467" r="8"/><circle cx="486" cy="443" r="8"/><circle cx="573" cy="421" r="8"/><circle cx="306" cy="482" r="8"/><circle cx="831" cy="438" r="8"/><circle cx="821" cy="489" r="8"/><circle cx="604" cy="472" r="8"/><circle cx="426" cy="420" r="8"/><circle cx="701" cy="388" r="8"/><circle cx="769" cy="517" r="8"/><circle cx="645" cy="477" r="8"/><circle cx="725" cy="338" r="8"/><circle cx="663" cy="385" r="8"/></g><g fill="#1f968b"><circle cx="700" cy="466" r="8"/><circle cx="567" cy="469" r="8"/><circle cx="453" cy="369" r="8"/><circle cx="413" cy="432" r="8"/><circle cx="754" cy="279" r="8"/><circle cx="597" cy="459" r="8"/><circle cx="569" cy="397" r="8"/><circle cx="733" cy="475" r="8"/><circle cx="597" cy="329" r="8"/><circle cx="730" cy="434" r="8"/><circle cx="648" cy="283" r="8"/><circle cx="684" cy="502" r="8"/><circle cx="772" cy="388" r="8"/><circle cx="676" cy="491" r="8"/><circle cx="859" cy="404" r="8"/><circle cx="752" cy="453" r="8"/><circle cx="685" cy="295" r="8"/><circle cx="411" cy="466" r="8"/><circle cx="695" cy="477" r="8"/><circle cx="782" cy="474" r="8"/><circle cx="654" cy="422" r="8"/><circle cx="595" cy="505" r="8"/><circle cx="836" cy="447" r="8"/><circle cx="588" cy="452" r="8"/><circle cx="531" cy="470" r="8"/><circle cx="850" cy="418" r="8"/><circle cx="715" cy="450" r="8"/><circle cx="557" cy="521" r="8"/><circle cx="718" cy="448" r="8"/><circle cx="583" cy="396" r="8"/><circle cx="742" cy="495" r="8"/><circle cx="721" cy="493" r="8"/><circle cx="614" cy="497" r="8"/><circle cx="543" cy="468" r="8"/><circle cx="558" cy="350" r="8"/><circle cx="783" cy="450" r="8"/><circle cx="696" cy="346" r="8"/><circle cx="742" cy="530" r="8"/><circle cx="545" cy="374" r="8"/><circle cx="641" cy="504" r="8"/><circle cx="297" cy="473" r="8"/><circle cx="362" cy="479" r="8"/><circle cx="654" cy="530" r="8"/><circle cx="461" cy="420" r="8"/><circle cx="808" cy="438" r="8"/><circle cx="347" cy="432" r="8"/><circle cx="275" cy="419" r="8"/><circle cx="534" cy="393" r="8"/><circle cx="778" cy="485" r="8"/><circle cx="567" cy="317" r="8"/><circle cx="752" cy="414" r="8"/><circle cx="766" cy="516" r="8"/><circle cx="423" cy="401" r="8"/><circle cx="796" cy="303" r="8"/><circle cx="684" cy="458" r="8"/><circle cx="689" cy="587" r="8"/><circle cx="629" cy="392" r="8"/><circle cx="739" cy="539" r="8"/><circle cx="872" cy="433" r="8"/><circle cx="295" cy="443" r="8"/><circle cx="674" cy="370" r="8"/><circle cx="702" cy="354" r="8"/><circle cx="337" cy="357" r="8"/><circle cx="504" cy="394" r="8"/><circle cx="711" cy="261" r="8"/><circle cx="604" cy="510" r="8"/><circle cx="748" cy="346" r="8"/><circle cx="708" cy="577" r="8"/><circle cx="643" cy="324" r="8"/><circle cx="447" cy="380" r="8"/><circle cx="455" cy="384" r="8"/><circle cx="507" cy="386" r="8"/><circle cx="274" cy="354" r="8"/><circle cx="772" cy="469" r="8"/></g><g fill="#1e9c89"><circle cx="655" cy="287" r="8"/><circle cx="724" cy="486" r="8"/><circle cx="547" cy="477" r="8"/><circle cx="652" cy="596" r="8"/><circle cx="648" cy="521" r="8"/><circle cx="483" cy="370" r="8"/><circle cx="739" cy="494" r="8"/><circle cx="612" cy="469" r="8"/><circle cx="519" cy="647" r="8"/><circle cx="623" cy="475" r="8"/><circle cx="696" cy="415" r="8"/><circle cx="656" cy="448" r="8"/><circle cx="541" cy="472" r="8"/><circle cx="408" cy="323" r="8"/><circle cx="329" cy="580" r="8"/><circle cx="687" cy="417" r="8"/><circle cx="867" cy="219" r="8"/><circle cx="839" cy="433" r="8"/><circle cx="337" cy="399" r="8"/><circle cx="542" cy="424" r="8"/><circle cx="586" cy="489" r="8"/><circle cx="714" cy="479" r="8"/><circle cx="452" cy="395" r="8"/><circle cx="393" cy="431" r="8"/><circle cx="578" cy="462" r="8"/><circle cx="614" cy="359" r="8"/><circle cx="402" cy="324" r="8"/><circle cx="363" cy="426" r="8"/><circle cx="633" cy="376" r="8"/><circle cx="666" cy="434" r="8"/><circle cx="620" cy="488" r="8"/><circle cx="463" cy="408" r="8"/><circle cx="638" cy="477" r="8"/><circle cx="307" cy="439" r="8"/><circle cx="373" cy="480" r="8"/><circle cx="660" cy="542" r="8"/><circle cx="503" cy="326" r="8"/><circle cx="390" cy="473" r="8"/><circle cx="766" cy="506" r="8"/><circle cx="718" cy="429" r="8"/><circle cx="306" cy="453" r="8"/><circle cx="600" cy="240" r="8"/><circle cx="403" cy="442" r="8"/><circle cx="321" cy="483" r="8"/><circle cx="627" cy="433" r="8"/><circle cx="747" cy="488" r="8"/><circle cx="301" cy="457" r="8"/><circle cx="607" cy="353" r="8"/><circle cx="582" cy="419" r="8"/><circle cx="597" cy="486" r="8"/><circle cx="690" cy="353" r="8"/><circle cx="615" cy="237" r="8"/><circle cx="721" cy="335" r="8"/><circle cx="758" cy="414" r="8"/><circle cx="302" cy="469" r="8"/><circle cx="498" cy="484" r="8"/><circle cx="713" cy="463" r="8"/><circle cx="704" cy="268" r="8"/><circle cx="339" cy="466" r="8"/><circle cx="413" cy="442" r="8"/><circle cx="427" cy="422" r="8"/><circle cx="525" cy="546" r="8"/><circle cx="352" cy="467" r="8"/></g><g fill="#1fa287"><circle cx="679" cy="600" r="8"/><circle cx="286" cy="434" r="8"/><circle cx="690" cy="397" r="8"/><circle cx="288" cy="391" r="8"/><circle cx="598" cy="470" r="8"/><circle cx="522" cy="511" r="8"/><circle cx="615" cy="417" r="8"/><circle cx="704" cy="454" r="8"/><circle cx="611" cy="469" r="8"/><circle cx="538" cy="259" r="8"/><circle cx="568" cy="570" r="8"/><circle cx="294" cy="555" r="8"/><circle cx="586" cy="415" r="8"/><circle cx="480" cy="424" r="8"/><circle cx="362" cy="504" r="8"/><circle cx="309" cy="411" r="8"/><circle cx="338" cy="430" r="8"/><circle cx="704" cy="343" r="8"/><circle cx="407" cy="410" r="8"/><circle cx="354" cy="421" r="8"/><circle cx="657" cy="296" r="8"/><circle cx="386" cy="396" r="8"/><circle cx="329" cy="430" r="8"/><circle cx="581" cy="448" r="8"/><circle cx="665" cy="498" r="8"/><circle cx="738" cy="483" r="8"/><circle cx="763" cy="286" r="8"/><circle cx="658" cy="320" r="8"/><circle cx="584" cy="391" r="8"/><circle cx="588" cy="413" r="8"/><circle cx="600" cy="363" r="8"/><circle cx="367" cy="469" r="8"/><circle cx="595" cy="413" r="8"/><circle cx="484" cy="413" r="8"/><circle cx="663" cy="412" r="8"/><circle cx="452" cy="343" r="8"/><circle cx="459" cy="464" r="8"/><circle cx="652" cy="414" r="8"/><circle cx="572" cy="459" r="8"/><circle cx="669" cy="436" r="8"/><circle cx="314" cy="425" r="8"/><circle cx="618" cy="505" r="8"/><circle cx="469" cy="431" r="8"/><circle cx="530" cy="484" r="8"/><circle cx="690" cy="353" r="8"/><circle cx="496" cy="369" r="8"/><circle cx="509" cy="422" r="8"/><circle cx="715" cy="440" r="8"/><circle cx="654" cy="387" r="8"/><circle cx="629" cy="494" r="8"/><circle cx="450" cy="426" r="8"/><circle cx="487" cy="344" r="8"/><circle cx="409" cy="364" r="8"/><circle cx="691" cy="455" r="8"/><circle cx="666" cy="419" r="8"/><circle cx="486" cy="432" r="8"/><circle cx="523" cy="472" r="8"/><circle cx="718" cy="420" r="8"/><circle cx="587" cy="399" r="8"/><circle cx="732" cy="505" r="8"/><circle cx="749" cy="365" r="8"/><circle cx="653" cy="369" r="8"/><circle cx="360" cy="382" r="8"/><circle cx="524" cy="490" r="8"/></g><g fill="#22a884"><circle cx="624" cy="323" r="8"/><circle cx="334" cy="523" r="8"/><circle cx="465" cy="414" r="8"/><circle cx="613" cy="384" r="8"/><circle cx="675" cy="476" r="8"/><circle cx="593" cy="348" r="8"/><circle cx="815" cy="225" r="8"/><circle cx="499" cy="365" r="8"/><circle cx="593" cy="392" r="8"/><circle cx="337" cy="361" r="8"/><circle cx="627" cy="485" r="8"/><circle cx="632" cy="545" r="8"/><circle cx="482" cy="487" r="8"/><circle cx="505" cy="444" r="8"/><circle cx="382" cy="393" r="8"/><circle cx="604" cy="419" r="8"/><circle cx="358" cy="505" r="8"/><circle cx="564" cy="616" r="8"/><circle cx="362" cy="423" r="8"/><circle cx="675" cy="333" r="8"/><circle cx="666" cy="422" r="8"/><circle cx="459" cy="469" r="8"/><circle cx="723" cy="429" r="8"/><circle cx="610" cy="482" r="8"/><circle cx="365" cy="392" r="8"/><circle cx="504" cy="486" r="8"/><circle cx="631" cy="404" r="8"/><circle cx="341" cy="449" r="8"/><circle cx="267" cy="485" r="8"/><circle cx="420" cy="400" r="8"/><circle cx="577" cy="341" r="8"/><circle cx="497" cy="372" r="8"/><circle cx="352" cy="434" r="8"/><circle cx="714" cy="419" r="8"/><circle cx="659" cy="202" r="8"/><circle cx="483" cy="475" r="8"/><circle cx="585" cy="362" r="8"/><circle cx="481" cy="547" r="8"/><circle cx="671" cy="554" r="8"/><circle cx="418" cy="351" r="8"/></g><g fill="#28ae80"><circle cx="299" cy="443" r="8"/><circle cx="338" cy="470" r="8"/><circle cx="614" cy="463" r="8"/><circle cx="569" cy="313" r="8"/><circle cx="486" cy="378" r="8"/><circle cx="299" cy="378" r="8"/><circle cx="475" cy="508" r="8"/><circle cx="352" cy="354" r="8"/><circle cx="403" cy="419" r="8"/><circle cx="266" cy="490" r="8"/><circle cx="378" cy="455" r="8"/><circle cx="612" cy="508" r="8"/><circle cx="623" cy="402" r="8"/><circle cx="374" cy="376" r="8"/><circle cx="678" cy="344" r="8"/><circle cx="568" cy="482" r="8"/><circle cx="520" cy="387" r="8"/><circle cx="552" cy="383" r="8"/><circle cx="314" cy="363" r="8"/><circle cx="627" cy="445" r="8"/><circle cx="691" cy="440" r="8"/><circle cx="605" cy="381" r="8"/><circle cx="591" cy="461" r="8"/><circle cx="339" cy="378" r="8"/><circle cx="328" cy="411" r="8"/></g><g fill="#2fb47c"><circle cx="464" cy="455" r="8"/><circle cx="345" cy="442" r="8"/><circle cx="592" cy="355" r="8"/><circle cx="588" cy="421" r="8"/><circle cx="559" cy="468" r="8"/><circle cx="515" cy="532" r="8"/><circle cx="386" cy="397" r="8"/><circle cx="518" cy="476" r="8"/><circle cx="335" cy="390" r="8"/><circle cx="528" cy="343" r="8"/><circle cx="548" cy="478" r="8"/><circle cx="373" cy="438" r="8"/><circle cx="626" cy="496" r="8"/><circle cx="336" cy="502" r="8"/><circle cx="592" cy="505" r="8"/><circle cx="471" cy="443" r="8"/><circle cx="451" cy="410" r="8"/><circle cx="560" cy="363" r="8"/><circle cx="561" cy="397" r="8"/><circle cx="427" cy="449" r="8"/></g><g fill="#38b977"><circle cx="583" cy="463" r="8"/><circle cx="392" cy="396" r="8"/><circle cx="437" cy="480" r="8"/><circle cx="391" cy="368" r="8"/><circle cx="514" cy="387" r="8"/><circle cx="592" cy="398" r="8"/><circle cx="392" cy="275" r="8"/><circle cx="286" cy="404" r="8"/><circle cx="465" cy="391" r="8"/><circle cx="487" cy="395" r="8"/><circle cx="335" cy="502" r="8"/><circle cx="309" cy="425" r="8"/><circle cx="390" cy="381" r="8"/><circle cx="267" cy="414" r="8"/><circle cx="333" cy="505" r="8"/><circle cx="395" cy="498" r="8"/></g><g fill="#44bf70"><circle cx="449" cy="437" r="8"/><circle cx="348" cy="433" r="8"/><circle cx="596" cy="429" r="8"/><circle cx="274" cy="510" r="8"/><circle cx="532" cy="544" r="8"/></g><g fill="#50c46a"><circle cx="329" cy="364" r="8"/><circle cx="381" cy="447" r="8"/><circle cx="304" cy="370" r="8"/><circle cx="307" cy="443" r="8"/></g><g fill="#5ec962"><circle cx="294" cy="540" r="8"/><circle cx="501" cy="444" r="8"/><circle cx="343" cy="453" r="8"/></g><g fill="#6ccd5a"><circle cx="353" cy="425" r="8"/><circle cx="558" cy="531" r="8"/><circle cx="378" cy="460" r="8"/><circle cx="389" cy="315" r="8"/><circle cx="373" cy="460" r="8"/><circle cx="383" cy="430" r="8"/><circle cx="433" cy="494" r="8"/><circle cx="462" cy="367" r="8"/><circle cx="304" cy="420" r="8"/><circle cx="374" cy="370" r="8"/><circle cx="441" cy="376" r="8"/><circle cx="555" cy="502" r="8"/><circle cx="339" cy="549" r="8"/><circle cx="439" cy="475" r="8"/><circle cx="432" cy="418" r="8"/><circle cx="390" cy="427" r="8"/><circle cx="444" cy="399" r="8"/><circle cx="421" cy="540" r="8"/><circle cx="505" cy="451" r="8"/><circle cx="291" cy="377" r="8"/></g><g fill="#7ad151"><circle cx="341" cy="355" r="8"/><circle cx="603" cy="526" r="8"/><circle cx="521" cy="463" r="8"/><circle cx="561" cy="263" r="8"/><circle cx="507" cy="395" r="8"/><circle cx="417" cy="486" r="8"/><circle cx="487" cy="375" r="8"/><circle cx="429" cy="390" r="8"/><circle cx="440" cy="511" r="8"/><circle cx="530" cy="391" r="8"/><circle cx="405" cy="423" r="8"/><circle cx="430" cy="496" r="8"/><circle cx="444" cy="446" r="8"/><circle cx="478" cy="479" r="8"/><circle cx="291" cy="434" r="8"/><circle cx="642" cy="469" r="8"/><circle cx="475" cy="530" r="8"/><circle cx="404" cy="363" r="8"/><circle cx="570" cy="465" r="8"/><circle cx="381" cy="463" r="8"/><circle cx="281" cy="407" r="8"/><circle cx="544" cy="449" r="8"/><circle cx="327" cy="513" r="8"/><circle cx="266" cy="404" r="8"/></g><g fill="#8bd646"><circle cx="437" cy="299" r="8"/><circle cx="298" cy="465" r="8"/><circle cx="434" cy="428" r="8"/><circle cx="518" cy="502" r="8"/><circle cx="537" cy="420" r="8"/><circle cx="337" cy="444" r="8"/><circle cx="275" cy="386" r="8"/><circle cx="501" cy="329" r="8"/><circle cx="561" cy="505" r="8"/><circle cx="433" cy="371" r="8"/><circle cx="411" cy="511" r="8"/><circle cx="305" cy="556" r="8"/><circle cx="619" cy="378" r="8"/><circle cx="493" cy="414" r="8"/><circle cx="438" cy="404" r="8"/><circle cx="287" cy="424" r="8"/><circle cx="349" cy="441" r="8"/><circle cx="436" cy="385" r="8"/><circle cx="416" cy="441" r="8"/><circle cx="493" cy="393" r="8"/><circle cx="415" cy="435" r="8"/><circle cx="323" cy="396" r="8"/><circle cx="342" cy="429" r="8"/><circle cx="488" cy="430" r="8"/><circle cx="295" cy="516" r="8"/><circle cx="382" cy="369" r="8"/><circle cx="446" cy="411" r="8"/><circle cx="408" cy="363" r="8"/><circle cx="424" cy="472" r="8"/></g><g fill="#9bd93c"><circle cx="378" cy="415" r="8"/><circle cx="390" cy="492" r="8"/><circle cx="423" cy="435" r="8"/><circle cx="546" cy="406" r="8"/><circle cx="507" cy="368" r="8"/><circle cx="345" cy="503" r="8"/><circle cx="509" cy="493" r="8"/><circle cx="351" cy="345" r="8"/><circle cx="461" cy="576" r="8"/><circle cx="497" cy="387" r="8"/><circle cx="416" cy="376" r="8"/><circle cx="445" cy="400" r="8"/><circle cx="511" cy="328" r="8"/><circle cx="350" cy="443" r="8"/><circle cx="395" cy="445" r="8"/><circle cx="441" cy="420" r="8"/><circle cx="347" cy="404" r="8"/><circle cx="330" cy="476" r="8"/><circle cx="361" cy="480" r="8"/><circle cx="446" cy="362" r="8"/><circle cx="486" cy="427" r="8"/><circle cx="613" cy="439" r="8"/><circle cx="275" cy="474" r="8"/><circle cx="325" cy="438" r="8"/><circle cx="434" cy="403" r="8"/><circle cx="574" cy="550" r="8"/><circle cx="593" cy="501" r="8"/><circle cx="530" cy="339" r="8"/><circle cx="333" cy="446" r="8"/><circle cx="318" cy="404" r="8"/><circle cx="514" cy="470" r="8"/><circle cx="263" cy="470" r="8"/><circle cx="587" cy="381" r="8"/></g><g fill="#addc30"><circle cx="569" cy="381" r="8"/><circle cx="334" cy="402" r="8"/><circle cx="551" cy="230" r="8"/><circle cx="534" cy="449" r="8"/><circle cx="543" cy="449" r="8"/><circle cx="566" cy="372" r="8"/><circle cx="299" cy="427" r="8"/><circle cx="352" cy="468" r="8"/><circle cx="533" cy="464" r="8"/><circle cx="429" cy="559" r="8"/><circle cx="370" cy="394" r="8"/><circle cx="518" cy="400" r="8"/><circle cx="269" cy="408" r="8"/><circle cx="298" cy="406" r="8"/><circle cx="466" cy="408" r="8"/><circle cx="351" cy="437" r="8"/><circle cx="403" cy="449" r="8"/><circle cx="525" cy="549" r="8"/><circle cx="266" cy="345" r="8"/><circle cx="415" cy="406" r="8"/><circle cx="667" cy="410" r="8"/><circle cx="360" cy="353" r="8"/><circle cx="309" cy="374" r="8"/></g><g fill="#bddf26"><circle cx="430" cy="378" r="8"/><circle cx="346" cy="479" r="8"/><circle cx="603" cy="393" r="8"/><circle cx="390" cy="294" r="8"/><circle cx="585" cy="460" r="8"/><circle cx="531" cy="332" r="8"/><circle cx="453" cy="360" r="8"/><circle cx="449" cy="371" r="8"/><circle cx="299" cy="423" r="8"/><circle cx="470" cy="262" r="8"/><circle cx="461" cy="465" r="8"/><circle cx="402" cy="409" r="8"/><circle cx="323" cy="468" r="8"/><circle cx="543" cy="525" r="8"/><circle cx="546" cy="527" r="8"/></g><g fill="#cde11d"><circle cx="303" cy="434" r="8"/><circle cx="366" cy="452" r="8"/><circle cx="584" cy="423" r="8"/><circle cx="491" cy="468" r="8"/><circle cx="304" cy="466" r="8"/><circle cx="390" cy="498" r="8"/><circle cx="463" cy="510" r="8"/><circle cx="642" cy="434" r="8"/><circle cx="423" cy="510" r="8"/><circle cx="418" cy="558" r="8"/><circle cx="303" cy="451" r="8"/><circle cx="382" cy="298" r="8"/><circle cx="434" cy="240" r="8"/><circle cx="649" cy="392" r="8"/><circle cx="450" cy="418" r="8"/><circle cx="386" cy="425" r="8"/><circle cx="654" cy="511" r="8"/><circle cx="544" cy="388" r="8"/><circle cx="367" cy="525" r="8"/><circle cx="540" cy="404" r="8"/><circle cx="536" cy="443" r="8"/><circle cx="574" cy="348" r="8"/><circle cx="476" cy="434" r="8"/><circle cx="462" cy="482" r="8"/><circle cx="480" cy="354" r="8"/></g><g fill="#dfe318"><circle cx="308" cy="286" r="8"/><circle cx="434" cy="436" r="8"/><circle cx="374" cy="493" r="8"/><circle cx="436" cy="514" r="8"/><circle cx="611" cy="474" r="8"/><circle cx="424" cy="388" r="8"/><circle cx="272" cy="516" r="8"/><circle cx="365" cy="335" r="8"/><circle cx="312" cy="443" r="8"/><circle cx="435" cy="359" r="8"/><circle cx="319" cy="398" r="8"/><circle cx="401" cy="392" r="8"/><circle cx="386" cy="487" r="8"/><circle cx="437" cy="604" r="8"/><circle cx="429" cy="455" r="8"/><circle cx="377" cy="333" r="8"/><circle cx="348" cy="447" r="8"/><circle cx="432" cy="371" r="8"/><circle cx="419" cy="390" r="8"/><circle cx="328" cy="492" r="8"/><circle cx="383" cy="490" r="8"/><circle cx="583" cy="416" r="8"/><circle cx="449" cy="533" r="8"/><circle cx="324" cy="486" r="8"/><circle cx="434" cy="555" r="8"/></g><g fill="#efe51c"><circle cx="423" cy="565" r="8"/><circle cx="557" cy="397" r="8"/><circle cx="473" cy="448" r="8"/><circle cx="644" cy="445" r="8"/><circle cx="474" cy="370" r="8"/><circle cx="453" cy="415" r="8"/><circle cx="463" cy="354" r="8"/><circle cx="490" cy="507" r="8"/><circle cx="507" cy="372" r="8"/><circle cx="406" cy="459" r="8"/><circle cx="306" cy="415" r="8"/><circle cx="504" cy="489" r="8"/><circle cx="475" cy="403" r="8"/><circle cx="283" cy="382" r="8"/><circle cx="482" cy="439" r="8"/><circle cx="649" cy="435" r="8"/><circle cx="439" cy="450" r="8"/></g><g fill="#fde725"><circle cx="349" cy="434" r="8"/><circle cx="574" cy="397" r="8"/><circle cx="355" cy="400" r="8"/><circle cx="334" cy="454" r="8"/><circle cx="331" cy="555" r="8"/><circle cx="485" cy="445" r="8"/></g></g><path d="M274.5,347 L766.8,305.8" stroke="#22a884" stroke-width="5"/><path d="M281.5,396.5 L804.7,324.1" stroke="#22a884" stroke-width="5"/><path d="M271,376.7 L793.5,361.5" stroke="#22a884" stroke-width="5"/><path d="M275,379.5 L720,420.5" stroke="#22a884" stroke-width="5"/><path d="M433.7,380.5 L738.4,354.1" stroke="#22a884" stroke-width="5"/><path d="M543,352 L695.3,389" stroke="#22a884" stroke-width="5"/><path d="M273,521.4 L748.7,379.9" stroke="#22a884" stroke-width="5"/><path d="M273,435.3 L739.2,401.1" stroke="#22a884" stroke-width="5"/><path d="M265,425.7 L815,404.5" stroke="#22a884" stroke-width="5"/><path d="M273,456 L783.1,411.4" stroke="#22a884" stroke-width="5"/><path d="M273,460.2 L747.8,435.5" stroke="#22a884" stroke-width="5"/><path d="M275,466.8 L768.5,447.6" stroke="#22a884" stroke-width="5"/><path d="M510,413 L682.4,491.6" stroke="#22a884" stroke-width="5"/><path d="M269,485 L748.3,434.3" stroke="#22a884" stroke-width="5"/><path d="M271,488.3 L700,457" stroke="#22a884" stroke-width="5"/><path d="M271,494 L747.8,440" stroke="#22a884" stroke-width="5"/><path d="M271,496.6 L720,452" stroke="#22a884" stroke-width="5"/><path d="M273,478 L760,430" stroke="#22a884" stroke-width="5"/><path d="M300,445 L747.4,381" stroke="#22a884" stroke-width="5"/><path d="M560,370 L722,364" stroke="#22a884" stroke-width="5"/><path d="M545,398 L740,401" stroke="#22a884" stroke-width="5"/><path d="M550,420 L760,428" stroke="#22a884" stroke-width="5"/><path d="M580,440 L770,438" stroke="#22a884" stroke-width="5"/><path d="M330,470.5 L579.4,348.7" stroke="#c4e03c" stroke-width="5"/><path d="M296,404.5 L548.5,395" stroke="#c4e03c" stroke-width="5"/><path d="M296,416 L544.6,398.8" stroke="#c4e03c" stroke-width="5"/><path d="M273,429.4 L548.3,400.8" stroke="#c4e03c" stroke-width="5"/><path d="M365,505 L586.6,403.9" stroke="#c4e03c" stroke-width="5"/><path d="M364.8,509 L613,412.8" stroke="#c4e03c" stroke-width="5"/><path d="M295,403.5 L553,452.7" stroke="#c4e03c" stroke-width="5"/><path d="M273,475.3 L615.3,511.6" stroke="#c4e03c" stroke-width="5"/><path d="M296,448.5 L511,468.5" stroke="#c4e03c" stroke-width="5"/><path d="M276.8,498 L466,523.5" stroke="#c4e03c" stroke-width="5"/><path d="M273,427.4 L540.8,385.3" stroke="#c4e03c" stroke-width="5"/><path d="M228,447 L977,413.2" stroke="#000" stroke-width="3.4"/><path d="M191,540.9 L1032,315" stroke="#000" stroke-width="2.8" stroke-dasharray="13,13"/></g><g stroke="#000" stroke-width="1.8" fill="none"><path d="M177.9,115.89999999999999 V694.1"/><path d="M177.9,116.8 H1042.0"/><path d="M177.9,693.2 H1042.0"/><path d="M169.4,226.5 H177.9"/><path d="M169.4,314.8 H177.9"/><path d="M169.4,403.0 H177.9"/><path d="M169.4,491.5 H177.9"/><path d="M169.4,579.8 H177.9"/><path d="M271.2,116.8 V109.2"/><path d="M376.3,116.8 V109.2"/><path d="M477.5,116.8 V109.2"/><path d="M575.7,116.8 V109.2"/><path d="M670.8,116.8 V109.2"/><path d="M762.0,116.8 V109.2"/><path d="M850.6,116.8 V109.2"/><path d="M936.0,116.8 V109.2"/><path d="M1019.3,116.8 V109.2"/><path d="M299.4,693.2 V701"/><path d="M437.3,693.2 V701"/><path d="M575.2,693.2 V701"/><path d="M713.1,693.2 V701"/><path d="M851.0,693.2 V701"/><path d="M988.9,693.2 V701"/></g><g font-family='"Liberation Sans", sans-serif' fill="#000"><text x="71.85" y="235.70" font-size="29.8"> 00.00</text><path d="M81.11,214.44H83.86V235.70H81.11V220.34H75.82V218.41C78.46,218.21 80.50,216.99 81.11,214.44Z"/><text x="88.43" y="324.00" font-size="29.8"> 0.00</text><path d="M97.68,302.74H100.43V324.00H97.68V308.64H92.39V306.71C95.04,306.51 97.07,305.29 97.68,302.74Z"/><text x="105.00" y="412.20" font-size="29.8"> .00</text><path d="M114.26,390.94H117.00V412.20H114.26V396.84H108.97V394.91C111.61,394.71 113.65,393.49 114.26,390.94Z"/><text x="105.00" y="500.70" font-size="29.8">0. 0</text><path d="M139.11,479.44H141.85V500.70H139.11V485.34H133.82V483.41C136.46,483.21 138.50,481.99 139.11,479.44Z"/><text x="105.00" y="589.00" font-size="29.8">0.0 </text><path d="M155.68,567.74H158.43V589.00H155.68V573.64H150.39V571.71C153.04,571.51 155.07,570.29 155.68,567.74Z"/><text x="263.05" y="102.70" font-size="29.3">0</text><text x="368.15" y="102.70" font-size="29.3">5</text><text x="461.20" y="102.70" font-size="29.3"> 0</text><path d="M470.30,81.80H473.00V102.70H470.30V87.60H465.10V85.70C467.70,85.50 469.70,84.30 470.30,81.80Z"/><text x="559.40" y="102.70" font-size="29.3"> 5</text><path d="M568.50,81.80H571.20V102.70H568.50V87.60H563.30V85.70C565.90,85.50 567.90,84.30 568.50,81.80Z"/><text x="654.50" y="102.70" font-size="29.3">20</text><text x="745.70" y="102.70" font-size="29.3">25</text><text x="834.30" y="102.70" font-size="29.3">30</text><text x="919.70" y="102.70" font-size="29.3">35</text><text x="1003.00" y="102.70" font-size="29.3">40</text><path d="M284.80,718.10H299.20" stroke="#000" stroke-width="1.90"/><text x="298.43" y="725.70" font-size="29.3">2</text><path d="M422.20,718.10H436.80" stroke="#000" stroke-width="1.90"/><path d="M444.60,704.80H447.30V725.70H444.60V710.60H439.40V708.70C442.00,708.50 444.00,707.30 444.60,704.80Z"/><text x="567.05" y="725.70" font-size="29.3">0</text><path d="M714.05,704.80H716.75V725.70H714.05V710.60H708.85V708.70C711.45,708.50 713.45,707.30 714.05,704.80Z"/><text x="842.85" y="725.70" font-size="29.3">2</text><text x="980.75" y="725.70" font-size="29.3">3</text><text x="606" y="61" font-size="29.3" text-anchor="middle">Temperature (°C)</text><text transform="translate(56.8,404.3) rotate(-90)" font-size="29.2" text-anchor="middle">Diffusive CH<tspan font-size="20.5" dy="9">4</tspan><tspan dy="-9"> emissions (mmol m</tspan><tspan font-size="20.5" dy="-10">−2</tspan><tspan dy="10"> per day)</tspan></text><text x="352" y="795" font-size="29.6">Standardized temperature</text><path d="M744.80,753.60H747.50V774.50H744.80V759.40H739.60V757.50C742.20,757.30 744.20,756.10 744.80,753.60ZM824.50,753.60H827.20V774.50H824.50V759.40H819.30V757.50C821.90,757.30 823.90,756.10 824.50,753.60Z"/><text x="726" y="824" font-size="28.5" font-style="italic">kT</text><text x="797" y="824" font-size="28.5" font-style="italic">kT</text><text x="830" y="833" font-size="20">C</text></g><g stroke="#000" stroke-width="2" fill="none"><path d="M726.4,788 H765"/><path d="M797,788 H853.6"/><path d="M773.6,788 H789"/></g><path d="M727,744 C711,762 711,815 727,833 C714.8,815 714.8,762 727,744 Z" fill="#000" stroke="#000" stroke-width="0.5"/><path d="M854.5,744 C870.5,762 870.5,815 854.5,833 C866.7,815 866.7,762 854.5,744 Z" fill="#000" stroke="#000" stroke-width="0.5"/><defs><linearGradient id="vg" x1="0" x2="1" y1="0" y2="0"><stop offset="0.00" stop-color="#440154"/><stop offset="0.05" stop-color="#471365"/><stop offset="0.10" stop-color="#482475"/><stop offset="0.15" stop-color="#463480"/><stop offset="0.20" stop-color="#414487"/><stop offset="0.25" stop-color="#3b528b"/><stop offset="0.30" stop-color="#355f8d"/><stop offset="0.35" stop-color="#2f6c8e"/><stop offset="0.40" stop-color="#2a788e"/><stop offset="0.45" stop-color="#25848e"/><stop offset="0.50" stop-color="#21918c"/><stop offset="0.55" stop-color="#1e9c89"/><stop offset="0.60" stop-color="#22a884"/><stop offset="0.65" stop-color="#2fb47c"/><stop offset="0.70" stop-color="#44bf70"/><stop offset="0.75" stop-color="#5ec962"/><stop offset="0.80" stop-color="#7ad151"/><stop offset="0.85" stop-color="#9bd93c"/><stop offset="0.90" stop-color="#bddf26"/><stop offset="0.95" stop-color="#dfe318"/><stop offset="1.00" stop-color="#fde725"/></linearGradient></defs><rect x="15.8" y="771.4" width="171.4" height="24.5" fill="url(#vg)"/><g stroke="#fff" stroke-width="1.4"><path d="M63.9,771.4 v6.2 M63.9,795.9 v-6.2"/><path d="M112.1,771.4 v6.2 M112.1,795.9 v-6.2"/><path d="M160.6,771.4 v6.2 M160.6,795.9 v-6.2"/></g><g font-family='"Liberation Sans", sans-serif' fill="#000"><text x="102.3" y="761.4" font-size="30.6" text-anchor="middle">Latitude</text><text x="47.60" y="823.60" font-size="29.3">20</text><text x="95.80" y="823.60" font-size="29.3">40</text><text x="144.30" y="823.60" font-size="29.3">60</text></g><text transform="translate(914.6,336.8) rotate(-15.03)" font-family='"Liberation Sans", sans-serif' font-size="29.5"><tspan font-style="italic">m</tspan> = 0.96</text><defs><clipPath id="cb"><rect x="178" y="900" width="866" height="592.5"/></clipPath></defs><g clip-path="url(#cb)"><path d="M177.8,1491.3 L177.8,1491.30 178.8,1491.30 179.8,1491.30 180.8,1491.30 181.8,1491.30 182.8,1491.30 183.8,1491.30 184.8,1491.30 185.8,1491.30 186.8,1491.30 187.8,1491.30 188.8,1491.30 189.8,1491.30 190.8,1491.30 191.8,1491.30 192.8,1491.30 193.8,1491.30 194.8,1491.30 195.8,1491.30 196.8,1491.30 197.8,1491.30 198.8,1491.30 199.8,1491.30 200.8,1491.30 201.8,1491.30 202.8,1491.30 203.8,1491.30 204.8,1491.30 205.8,1491.30 206.8,1491.30 207.8,1491.30 208.8,1491.30 209.8,1491.30 210.8,1491.30 211.8,1491.30 212.8,1491.30 213.8,1491.30 214.8,1491.30 215.8,1491.30 216.8,1491.30 217.8,1491.30 218.8,1491.30 219.8,1491.30 220.8,1491.30 221.8,1491.30 222.8,1491.30 223.8,1491.30 224.8,1491.30 225.8,1491.30 226.8,1491.30 227.8,1491.30 228.8,1491.30 229.8,1491.30 230.8,1491.30 231.8,1491.30 232.8,1491.30 233.8,1491.30 234.8,1491.30 235.8,1491.30 236.8,1491.30 237.8,1491.30 238.8,1491.30 239.8,1491.30 240.8,1491.30 241.8,1491.30 242.8,1491.30 243.8,1491.30 244.8,1491.30 245.8,1491.30 246.8,1491.30 247.8,1491.30 248.8,1491.30 249.8,1491.30 250.8,1491.30 251.8,1491.30 252.8,1491.30 253.8,1491.30 254.8,1491.30 255.8,1491.30 256.8,1491.29 257.8,1491.29 258.8,1491.28 259.8,1491.27 260.8,1491.25 261.8,1491.23 262.8,1491.21 263.8,1491.17 264.8,1491.13 265.8,1491.08 266.8,1491.03 267.8,1490.97 268.8,1490.90 269.8,1490.83 270.8,1490.75 271.8,1490.66 272.8,1490.57 273.8,1490.48 274.8,1490.37 275.8,1490.27 276.8,1490.16 277.8,1490.05 278.8,1489.93 279.8,1489.80 280.8,1489.68 281.8,1489.55 282.8,1489.41 283.8,1489.27 284.8,1489.12 285.8,1488.96 286.8,1488.79 287.8,1488.61 288.8,1488.40 289.8,1488.17 290.8,1487.91 291.8,1487.63 292.8,1487.32 293.8,1486.99 294.8,1486.63 295.8,1486.25 296.8,1485.85 297.8,1485.43 298.8,1484.99 299.8,1484.53 300.8,1484.06 301.8,1483.57 302.8,1483.08 303.8,1482.57 304.8,1482.06 305.8,1481.55 306.8,1481.02 307.8,1480.50 308.8,1479.98 309.8,1479.45 310.8,1478.93 311.8,1478.40 312.8,1477.88 313.8,1477.36 314.8,1476.83 315.8,1476.30 316.8,1475.76 317.8,1475.22 318.8,1474.66 319.8,1474.10 320.8,1473.51 321.8,1472.92 322.8,1472.30 323.8,1471.67 324.8,1471.01 325.8,1470.33 326.8,1469.61 327.8,1468.86 328.8,1468.06 329.8,1467.22 330.8,1466.32 331.8,1465.38 332.8,1464.40 333.8,1463.40 334.8,1462.40 335.8,1461.41 336.8,1460.46 337.8,1459.56 338.8,1458.70 339.8,1457.89 340.8,1457.12 341.8,1456.39 342.8,1455.67 343.8,1454.97 344.8,1454.28 345.8,1453.60 346.8,1452.93 347.8,1452.28 348.8,1451.63 349.8,1451.01 350.8,1450.40 351.8,1449.80 352.8,1449.23 353.8,1448.68 354.8,1448.16 355.8,1447.66 356.8,1447.19 357.8,1446.75 358.8,1446.34 359.8,1445.96 360.8,1445.62 361.8,1445.32 362.8,1445.06 363.8,1444.84 364.8,1444.67 365.8,1444.55 366.8,1444.47 367.8,1444.46 368.8,1444.50 369.8,1444.60 370.8,1444.77 371.8,1445.00 372.8,1445.29 373.8,1445.64 374.8,1446.04 375.8,1446.49 376.8,1446.98 377.8,1447.51 378.8,1448.08 379.8,1448.67 380.8,1449.28 381.8,1449.91 382.8,1450.55 383.8,1451.19 384.8,1451.83 385.8,1452.47 386.8,1453.10 387.8,1453.72 388.8,1454.32 389.8,1454.92 390.8,1455.51 391.8,1456.10 392.8,1456.68 393.8,1457.27 394.8,1457.87 395.8,1458.47 396.8,1459.08 397.8,1459.69 398.8,1460.31 399.8,1460.92 400.8,1461.53 401.8,1462.13 402.8,1462.73 403.8,1463.31 404.8,1463.88 405.8,1464.43 406.8,1464.97 407.8,1465.48 408.8,1465.98 409.8,1466.46 410.8,1466.92 411.8,1467.37 412.8,1467.81 413.8,1468.24 414.8,1468.67 415.8,1469.08 416.8,1469.49 417.8,1469.87 418.8,1470.24 419.8,1470.58 420.8,1470.89 421.8,1471.17 422.8,1471.40 423.8,1471.58 424.8,1471.72 425.8,1471.80 426.8,1471.84 427.8,1471.82 428.8,1471.76 429.8,1471.65 430.8,1471.51 431.8,1471.32 432.8,1471.11 433.8,1470.86 434.8,1470.59 435.8,1470.29 436.8,1469.97 437.8,1469.63 438.8,1469.25 439.8,1468.83 440.8,1468.38 441.8,1467.88 442.8,1467.33 443.8,1466.75 444.8,1466.14 445.8,1465.51 446.8,1464.87 447.8,1464.22 448.8,1463.59 449.8,1462.95 450.8,1462.32 451.8,1461.68 452.8,1461.05 453.8,1460.40 454.8,1459.75 455.8,1459.09 456.8,1458.43 457.8,1457.76 458.8,1457.08 459.8,1456.41 460.8,1455.73 461.8,1455.06 462.8,1454.39 463.8,1453.73 464.8,1453.08 465.8,1452.44 466.8,1451.81 467.8,1451.19 468.8,1450.60 469.8,1450.02 470.8,1449.46 471.8,1448.93 472.8,1448.42 473.8,1447.94 474.8,1447.49 475.8,1447.07 476.8,1446.68 477.8,1446.33 478.8,1446.02 479.8,1445.74 480.8,1445.51 481.8,1445.32 482.8,1445.17 483.8,1445.07 484.8,1445.02 485.8,1445.00 486.8,1445.03 487.8,1445.10 488.8,1445.22 489.8,1445.36 490.8,1445.55 491.8,1445.76 492.8,1446.01 493.8,1446.28 494.8,1446.58 495.8,1446.91 496.8,1447.26 497.8,1447.63 498.8,1448.01 499.8,1448.41 500.8,1448.83 501.8,1449.26 502.8,1449.70 503.8,1450.14 504.8,1450.59 505.8,1451.05 506.8,1451.50 507.8,1451.96 508.8,1452.41 509.8,1452.86 510.8,1453.31 511.8,1453.75 512.8,1454.18 513.8,1454.61 514.8,1455.05 515.8,1455.49 516.8,1455.94 517.8,1456.40 518.8,1456.88 519.8,1457.38 520.8,1457.89 521.8,1458.40 522.8,1458.91 523.8,1459.42 524.8,1459.91 525.8,1460.38 526.8,1460.82 527.8,1461.22 528.8,1461.57 529.8,1461.87 530.8,1462.10 531.8,1462.26 532.8,1462.34 533.8,1462.34 534.8,1462.24 535.8,1462.04 536.8,1461.74 537.8,1461.35 538.8,1460.85 539.8,1460.26 540.8,1459.57 541.8,1458.79 542.8,1457.93 543.8,1456.98 544.8,1455.95 545.8,1454.84 546.8,1453.66 547.8,1452.42 548.8,1451.11 549.8,1449.73 550.8,1448.30 551.8,1446.81 552.8,1445.26 553.8,1443.64 554.8,1441.94 555.8,1440.13 556.8,1438.17 557.8,1436.03 558.8,1433.64 559.8,1430.97 560.8,1427.98 561.8,1424.65 562.8,1421.00 563.8,1417.03 564.8,1412.79 565.8,1408.30 566.8,1403.63 567.8,1398.81 568.8,1393.89 569.8,1388.93 570.8,1383.97 571.8,1379.06 572.8,1374.24 573.8,1369.53 574.8,1364.95 575.8,1360.52 576.8,1356.23 577.8,1352.06 578.8,1347.99 579.8,1344.01 580.8,1340.09 581.8,1336.22 582.8,1332.39 583.8,1328.59 584.8,1324.82 585.8,1321.08 586.8,1317.37 587.8,1313.68 588.8,1310.01 589.8,1306.37 590.8,1302.74 591.8,1299.14 592.8,1295.54 593.8,1291.96 594.8,1288.37 595.8,1284.78 596.8,1281.17 597.8,1277.53 598.8,1273.85 599.8,1270.13 600.8,1266.37 601.8,1262.59 602.8,1258.79 603.8,1255.00 604.8,1251.23 605.8,1247.49 606.8,1243.82 607.8,1240.23 608.8,1236.74 609.8,1233.38 610.8,1230.15 611.8,1227.10 612.8,1224.22 613.8,1221.53 614.8,1219.03 615.8,1216.74 616.8,1214.62 617.8,1212.66 618.8,1210.84 619.8,1209.12 620.8,1207.48 621.8,1205.90 622.8,1204.37 623.8,1202.88 624.8,1201.42 625.8,1199.99 626.8,1198.60 627.8,1197.24 628.8,1195.92 629.8,1194.65 630.8,1193.41 631.8,1192.23 632.8,1191.09 633.8,1190.00 634.8,1188.97 635.8,1188.00 636.8,1187.08 637.8,1186.23 638.8,1185.44 639.8,1184.72 640.8,1184.07 641.8,1183.50 642.8,1182.99 643.8,1182.57 644.8,1182.22 645.8,1181.94 646.8,1181.73 647.8,1181.58 648.8,1181.49 649.8,1181.44 650.8,1181.43 651.8,1181.45 652.8,1181.49 653.8,1181.54 654.8,1181.61 655.8,1181.70 656.8,1181.79 657.8,1181.90 658.8,1182.01 659.8,1182.14 660.8,1182.27 661.8,1182.42 662.8,1182.57 663.8,1182.74 664.8,1182.91 665.8,1183.09 666.8,1183.28 667.8,1183.48 668.8,1183.68 669.8,1183.89 670.8,1184.11 671.8,1184.34 672.8,1184.57 673.8,1184.81 674.8,1185.05 675.8,1185.31 676.8,1185.57 677.8,1185.85 678.8,1186.15 679.8,1186.47 680.8,1186.82 681.8,1187.21 682.8,1187.63 683.8,1188.10 684.8,1188.61 685.8,1189.16 686.8,1189.76 687.8,1190.40 688.8,1191.08 689.8,1191.80 690.8,1192.56 691.8,1193.36 692.8,1194.19 693.8,1195.05 694.8,1195.95 695.8,1196.88 696.8,1197.83 697.8,1198.81 698.8,1199.82 699.8,1200.86 700.8,1201.93 701.8,1203.04 702.8,1204.20 703.8,1205.40 704.8,1206.68 705.8,1208.03 706.8,1209.46 707.8,1210.97 708.8,1212.58 709.8,1214.26 710.8,1216.04 711.8,1217.89 712.8,1219.81 713.8,1221.80 714.8,1223.85 715.8,1225.96 716.8,1228.11 717.8,1230.32 718.8,1232.56 719.8,1234.83 720.8,1237.13 721.8,1239.46 722.8,1241.80 723.8,1244.17 724.8,1246.55 725.8,1248.96 726.8,1251.41 727.8,1253.89 728.8,1256.43 729.8,1259.01 730.8,1261.65 731.8,1264.33 732.8,1267.02 733.8,1269.72 734.8,1272.40 735.8,1275.04 736.8,1277.62 737.8,1280.13 738.8,1282.58 739.8,1284.97 740.8,1287.31 741.8,1289.61 742.8,1291.88 743.8,1294.15 744.8,1296.42 745.8,1298.70 746.8,1301.01 747.8,1303.35 748.8,1305.73 749.8,1308.13 750.8,1310.57 751.8,1313.02 752.8,1315.49 753.8,1317.96 754.8,1320.43 755.8,1322.88 756.8,1325.32 757.8,1327.73 758.8,1330.12 759.8,1332.49 760.8,1334.83 761.8,1337.15 762.8,1339.46 763.8,1341.76 764.8,1344.06 765.8,1346.37 766.8,1348.68 767.8,1351.01 768.8,1353.36 769.8,1355.72 770.8,1358.10 771.8,1360.50 772.8,1362.90 773.8,1365.29 774.8,1367.66 775.8,1370.00 776.8,1372.30 777.8,1374.56 778.8,1376.76 779.8,1378.91 780.8,1381.00 781.8,1383.05 782.8,1385.06 783.8,1387.02 784.8,1388.95 785.8,1390.85 786.8,1392.73 787.8,1394.58 788.8,1396.40 789.8,1398.21 790.8,1400.00 791.8,1401.77 792.8,1403.52 793.8,1405.26 794.8,1406.98 795.8,1408.67 796.8,1410.35 797.8,1412.00 798.8,1413.62 799.8,1415.21 800.8,1416.78 801.8,1418.31 802.8,1419.81 803.8,1421.28 804.8,1422.72 805.8,1424.12 806.8,1425.51 807.8,1426.87 808.8,1428.21 809.8,1429.54 810.8,1430.87 811.8,1432.19 812.8,1433.52 813.8,1434.85 814.8,1436.19 815.8,1437.54 816.8,1438.90 817.8,1440.26 818.8,1441.62 819.8,1442.99 820.8,1444.34 821.8,1445.69 822.8,1447.03 823.8,1448.35 824.8,1449.66 825.8,1450.94 826.8,1452.21 827.8,1453.46 828.8,1454.69 829.8,1455.90 830.8,1457.09 831.8,1458.27 832.8,1459.43 833.8,1460.56 834.8,1461.67 835.8,1462.75 836.8,1463.80 837.8,1464.83 838.8,1465.83 839.8,1466.80 840.8,1467.75 841.8,1468.67 842.8,1469.57 843.8,1470.45 844.8,1471.31 845.8,1472.14 846.8,1472.96 847.8,1473.75 848.8,1474.53 849.8,1475.29 850.8,1476.03 851.8,1476.76 852.8,1477.47 853.8,1478.16 854.8,1478.84 855.8,1479.50 856.8,1480.15 857.8,1480.77 858.8,1481.37 859.8,1481.96 860.8,1482.51 861.8,1483.05 862.8,1483.55 863.8,1484.04 864.8,1484.50 865.8,1484.95 866.8,1485.37 867.8,1485.78 868.8,1486.16 869.8,1486.53 870.8,1486.89 871.8,1487.22 872.8,1487.55 873.8,1487.86 874.8,1488.16 875.8,1488.45 876.8,1488.73 877.8,1488.99 878.8,1489.24 879.8,1489.47 880.8,1489.69 881.8,1489.88 882.8,1490.05 883.8,1490.20 884.8,1490.34 885.8,1490.45 886.8,1490.56 887.8,1490.65 888.8,1490.74 889.8,1490.81 890.8,1490.89 891.8,1490.95 892.8,1491.02 893.8,1491.07 894.8,1491.12 895.8,1491.16 896.8,1491.20 897.8,1491.23 898.8,1491.25 899.8,1491.27 900.8,1491.28 901.8,1491.28 902.8,1491.29 903.8,1491.28 904.8,1491.28 905.8,1491.28 906.8,1491.27 907.8,1491.26 908.8,1491.25 909.8,1491.24 910.8,1491.22 911.8,1491.21 912.8,1491.19 913.8,1491.18 914.8,1491.16 915.8,1491.14 916.8,1491.12 917.8,1491.10 918.8,1491.07 919.8,1491.05 920.8,1491.02 921.8,1490.99 922.8,1490.96 923.8,1490.94 924.8,1490.90 925.8,1490.87 926.8,1490.84 927.8,1490.80 928.8,1490.77 929.8,1490.73 930.8,1490.69 931.8,1490.65 932.8,1490.61 933.8,1490.57 934.8,1490.52 935.8,1490.48 936.8,1490.43 937.8,1490.39 938.8,1490.34 939.8,1490.29 940.8,1490.23 941.8,1490.18 942.8,1490.12 943.8,1490.05 944.8,1489.97 945.8,1489.88 946.8,1489.77 947.8,1489.66 948.8,1489.52 949.8,1489.37 950.8,1489.20 951.8,1489.02 952.8,1488.82 953.8,1488.60 954.8,1488.37 955.8,1488.12 956.8,1487.87 957.8,1487.60 958.8,1487.32 959.8,1487.02 960.8,1486.72 961.8,1486.41 962.8,1486.09 963.8,1485.76 964.8,1485.42 965.8,1485.07 966.8,1484.71 967.8,1484.33 968.8,1483.94 969.8,1483.52 970.8,1483.08 971.8,1482.61 972.8,1482.10 973.8,1481.55 974.8,1480.98 975.8,1480.36 976.8,1479.72 977.8,1479.05 978.8,1478.35 979.8,1477.63 980.8,1476.89 981.8,1476.14 982.8,1475.37 983.8,1474.59 984.8,1473.81 985.8,1473.02 986.8,1472.23 987.8,1471.44 988.8,1470.66 989.8,1469.89 990.8,1469.12 991.8,1468.37 992.8,1467.62 993.8,1466.88 994.8,1466.14 995.8,1465.39 996.8,1464.65 997.8,1463.89 998.8,1463.13 999.8,1462.36 1000.8,1461.58 1001.8,1460.79 1002.8,1460.00 1003.8,1459.21 1004.8,1458.43 1005.8,1457.65 1006.8,1456.87 1007.8,1456.11 1008.8,1455.37 1009.8,1454.64 1010.8,1453.93 1011.8,1453.24 1012.8,1452.59 1013.8,1451.96 1014.8,1451.36 1015.8,1450.79 1016.8,1450.27 1017.8,1449.77 1018.8,1449.31 1019.8,1448.88 1020.8,1448.48 1021.8,1448.10 1022.8,1447.74 1023.8,1447.39 1024.8,1447.06 1025.8,1446.73 1026.8,1446.41 1027.8,1446.10 1028.8,1445.80 1029.8,1445.50 1030.8,1445.22 1031.8,1444.96 1032.8,1444.70 1033.8,1444.46 1034.8,1444.23 1035.8,1444.02 1036.8,1443.83 1037.8,1443.66 1038.8,1443.51 1039.8,1443.39 1040.8,1443.29 1041.8,1443.21 L1041.8,1491.3 Z" fill="#6b8e23" fill-opacity="0.2" stroke="none"/><path d="M177.8,1491.3 L177.8,1491.30 178.8,1491.30 179.8,1491.30 180.8,1491.30 181.8,1491.30 182.8,1491.30 183.8,1491.30 184.8,1491.30 185.8,1491.30 186.8,1491.30 187.8,1491.30 188.8,1491.30 189.8,1491.30 190.8,1491.30 191.8,1491.30 192.8,1491.30 193.8,1491.30 194.8,1491.30 195.8,1491.30 196.8,1491.30 197.8,1491.30 198.8,1491.30 199.8,1491.30 200.8,1491.30 201.8,1491.30 202.8,1491.30 203.8,1491.30 204.8,1491.30 205.8,1491.30 206.8,1491.30 207.8,1491.30 208.8,1491.30 209.8,1491.30 210.8,1491.30 211.8,1491.30 212.8,1491.30 213.8,1491.30 214.8,1491.30 215.8,1491.30 216.8,1491.30 217.8,1491.30 218.8,1491.30 219.8,1491.30 220.8,1491.30 221.8,1491.30 222.8,1491.30 223.8,1491.30 224.8,1491.30 225.8,1491.30 226.8,1491.30 227.8,1491.30 228.8,1491.30 229.8,1491.30 230.8,1491.30 231.8,1491.30 232.8,1491.30 233.8,1491.30 234.8,1491.30 235.8,1491.30 236.8,1491.30 237.8,1491.30 238.8,1491.30 239.8,1491.30 240.8,1491.30 241.8,1491.30 242.8,1491.30 243.8,1491.30 244.8,1491.30 245.8,1491.30 246.8,1491.30 247.8,1491.30 248.8,1491.30 249.8,1491.30 250.8,1491.30 251.8,1491.30 252.8,1491.30 253.8,1491.30 254.8,1491.30 255.8,1491.30 256.8,1491.29 257.8,1491.29 258.8,1491.28 259.8,1491.26 260.8,1491.24 261.8,1491.21 262.8,1491.17 263.8,1491.13 264.8,1491.07 265.8,1491.01 266.8,1490.93 267.8,1490.85 268.8,1490.76 269.8,1490.66 270.8,1490.55 271.8,1490.43 272.8,1490.29 273.8,1490.14 274.8,1489.95 275.8,1489.73 276.8,1489.46 277.8,1489.16 278.8,1488.80 279.8,1488.39 280.8,1487.95 281.8,1487.46 282.8,1486.94 283.8,1486.38 284.8,1485.81 285.8,1485.22 286.8,1484.60 287.8,1483.97 288.8,1483.31 289.8,1482.64 290.8,1481.93 291.8,1481.20 292.8,1480.44 293.8,1479.65 294.8,1478.82 295.8,1477.96 296.8,1477.06 297.8,1476.12 298.8,1475.14 299.8,1474.11 300.8,1473.04 301.8,1471.91 302.8,1470.70 303.8,1469.42 304.8,1468.03 305.8,1466.53 306.8,1464.92 307.8,1463.19 308.8,1461.36 309.8,1459.44 310.8,1457.45 311.8,1455.42 312.8,1453.38 313.8,1451.36 314.8,1449.37 315.8,1447.43 316.8,1445.55 317.8,1443.72 318.8,1441.94 319.8,1440.19 320.8,1438.47 321.8,1436.76 322.8,1435.06 323.8,1433.39 324.8,1431.74 325.8,1430.14 326.8,1428.60 327.8,1427.14 328.8,1425.77 329.8,1424.52 330.8,1423.41 331.8,1422.45 332.8,1421.65 333.8,1421.03 334.8,1420.61 335.8,1420.38 336.8,1420.36 337.8,1420.52 338.8,1420.88 339.8,1421.42 340.8,1422.11 341.8,1422.95 342.8,1423.91 343.8,1424.98 344.8,1426.14 345.8,1427.37 346.8,1428.66 347.8,1430.00 348.8,1431.38 349.8,1432.80 350.8,1434.27 351.8,1435.80 352.8,1437.40 353.8,1439.07 354.8,1440.82 355.8,1442.63 356.8,1444.51 357.8,1446.43 358.8,1448.39 359.8,1450.36 360.8,1452.35 361.8,1454.35 362.8,1456.35 363.8,1458.35 364.8,1460.36 365.8,1462.36 366.8,1464.34 367.8,1466.28 368.8,1468.16 369.8,1469.97 370.8,1471.66 371.8,1473.25 372.8,1474.71 373.8,1476.06 374.8,1477.30 375.8,1478.46 376.8,1479.53 377.8,1480.53 378.8,1481.48 379.8,1482.37 380.8,1483.21 381.8,1483.99 382.8,1484.73 383.8,1485.42 384.8,1486.06 385.8,1486.67 386.8,1487.23 387.8,1487.76 388.8,1488.25 389.8,1488.71 390.8,1489.14 391.8,1489.53 392.8,1489.87 393.8,1490.17 394.8,1490.42 395.8,1490.62 396.8,1490.77 397.8,1490.88 398.8,1490.96 399.8,1491.02 400.8,1491.06 401.8,1491.09 402.8,1491.12 403.8,1491.14 404.8,1491.16 405.8,1491.17 406.8,1491.19 407.8,1491.20 408.8,1491.22 409.8,1491.23 410.8,1491.24 411.8,1491.25 412.8,1491.26 413.8,1491.27 414.8,1491.27 415.8,1491.28 416.8,1491.28 417.8,1491.29 418.8,1491.29 419.8,1491.29 420.8,1491.30 421.8,1491.30 422.8,1491.30 423.8,1491.30 424.8,1491.30 425.8,1491.30 426.8,1491.30 427.8,1491.30 428.8,1491.30 429.8,1491.30 430.8,1491.30 431.8,1491.30 432.8,1491.30 433.8,1491.30 434.8,1491.30 435.8,1491.30 436.8,1491.30 437.8,1491.30 438.8,1491.30 439.8,1491.30 440.8,1491.30 441.8,1491.30 442.8,1491.30 443.8,1491.30 444.8,1491.30 445.8,1491.30 446.8,1491.30 447.8,1491.30 448.8,1491.30 449.8,1491.30 450.8,1491.30 451.8,1491.30 452.8,1491.30 453.8,1491.30 454.8,1491.30 455.8,1491.30 456.8,1491.30 457.8,1491.30 458.8,1491.30 459.8,1491.30 460.8,1491.30 461.8,1491.30 462.8,1491.30 463.8,1491.30 464.8,1491.30 465.8,1491.30 466.8,1491.30 467.8,1491.30 468.8,1491.30 469.8,1491.30 470.8,1491.30 471.8,1491.30 472.8,1491.30 473.8,1491.30 474.8,1491.30 475.8,1491.30 476.8,1491.30 477.8,1491.30 478.8,1491.30 479.8,1491.30 480.8,1491.30 481.8,1491.30 482.8,1491.30 483.8,1491.30 484.8,1491.30 485.8,1491.30 486.8,1491.29 487.8,1491.29 488.8,1491.28 489.8,1491.26 490.8,1491.25 491.8,1491.23 492.8,1491.20 493.8,1491.17 494.8,1491.14 495.8,1491.10 496.8,1491.06 497.8,1491.01 498.8,1490.96 499.8,1490.90 500.8,1490.83 501.8,1490.76 502.8,1490.66 503.8,1490.55 504.8,1490.42 505.8,1490.26 506.8,1490.06 507.8,1489.83 508.8,1489.57 509.8,1489.26 510.8,1488.91 511.8,1488.51 512.8,1488.05 513.8,1487.51 514.8,1486.87 515.8,1486.12 516.8,1485.21 517.8,1484.13 518.8,1482.87 519.8,1481.41 520.8,1479.76 521.8,1477.92 522.8,1475.89 523.8,1473.71 524.8,1471.37 525.8,1468.88 526.8,1466.25 527.8,1463.47 528.8,1460.52 529.8,1457.36 530.8,1453.96 531.8,1450.28 532.8,1446.30 533.8,1442.02 534.8,1437.45 535.8,1432.66 536.8,1427.73 537.8,1422.73 538.8,1417.75 539.8,1412.88 540.8,1408.17 541.8,1403.66 542.8,1399.36 543.8,1395.27 544.8,1391.36 545.8,1387.60 546.8,1383.96 547.8,1380.43 548.8,1377.01 549.8,1373.68 550.8,1370.47 551.8,1367.37 552.8,1364.39 553.8,1361.55 554.8,1358.87 555.8,1356.34 556.8,1353.97 557.8,1351.78 558.8,1349.76 559.8,1347.91 560.8,1346.23 561.8,1344.71 562.8,1343.35 563.8,1342.14 564.8,1341.07 565.8,1340.14 566.8,1339.34 567.8,1338.64 568.8,1338.04 569.8,1337.51 570.8,1337.04 571.8,1336.60 572.8,1336.17 573.8,1335.73 574.8,1335.26 575.8,1334.72 576.8,1334.09 577.8,1333.33 578.8,1332.38 579.8,1331.21 580.8,1329.76 581.8,1328.01 582.8,1325.93 583.8,1323.51 584.8,1320.77 585.8,1317.72 586.8,1314.42 587.8,1310.88 588.8,1307.15 589.8,1303.28 590.8,1299.28 591.8,1295.18 592.8,1290.99 593.8,1286.71 594.8,1282.32 595.8,1277.81 596.8,1273.15 597.8,1268.33 598.8,1263.33 599.8,1258.14 600.8,1252.75 601.8,1247.14 602.8,1241.30 603.8,1235.22 604.8,1228.88 605.8,1222.25 606.8,1215.27 607.8,1207.89 608.8,1200.04 609.8,1191.66 610.8,1182.68 611.8,1173.09 612.8,1162.88 613.8,1152.10 614.8,1140.83 615.8,1129.16 616.8,1117.20 617.8,1105.09 618.8,1092.96 619.8,1080.92 620.8,1069.10 621.8,1057.60 622.8,1046.52 623.8,1035.91 624.8,1025.82 625.8,1016.26 626.8,1007.23 627.8,998.74 628.8,990.80 629.8,983.42 630.8,976.60 631.8,970.34 632.8,964.62 633.8,959.37 634.8,954.53 635.8,950.04 636.8,945.84 637.8,941.89 638.8,938.19 639.8,934.74 640.8,931.56 641.8,928.69 642.8,926.15 643.8,923.99 644.8,922.24 645.8,920.94 646.8,920.12 647.8,919.83 648.8,920.08 649.8,920.89 650.8,922.24 651.8,924.12 652.8,926.49 653.8,929.29 654.8,932.46 655.8,935.93 656.8,939.65 657.8,943.54 658.8,947.58 659.8,951.71 660.8,955.94 661.8,960.27 662.8,964.72 663.8,969.31 664.8,974.08 665.8,979.04 666.8,984.23 667.8,989.65 668.8,995.32 669.8,1001.27 670.8,1007.51 671.8,1014.08 672.8,1021.04 673.8,1028.41 674.8,1036.26 675.8,1044.61 676.8,1053.45 677.8,1062.75 678.8,1072.45 679.8,1082.47 680.8,1092.69 681.8,1103.01 682.8,1113.32 683.8,1123.54 684.8,1133.60 685.8,1143.48 686.8,1153.16 687.8,1162.65 688.8,1171.94 689.8,1181.02 690.8,1189.87 691.8,1198.44 692.8,1206.68 693.8,1214.54 694.8,1221.99 695.8,1229.01 696.8,1235.62 697.8,1241.86 698.8,1247.78 699.8,1253.41 700.8,1258.80 701.8,1263.98 702.8,1268.94 703.8,1273.70 704.8,1278.25 705.8,1282.57 706.8,1286.65 707.8,1290.47 708.8,1294.03 709.8,1297.30 710.8,1300.28 711.8,1302.97 712.8,1305.38 713.8,1307.52 714.8,1309.43 715.8,1311.14 716.8,1312.72 717.8,1314.20 718.8,1315.64 719.8,1317.07 720.8,1318.53 721.8,1320.02 722.8,1321.56 723.8,1323.14 724.8,1324.74 725.8,1326.37 726.8,1328.01 727.8,1329.65 728.8,1331.29 729.8,1332.92 730.8,1334.55 731.8,1336.19 732.8,1337.83 733.8,1339.51 734.8,1341.22 735.8,1342.99 736.8,1344.84 737.8,1346.77 738.8,1348.80 739.8,1350.94 740.8,1353.18 741.8,1355.51 742.8,1357.93 743.8,1360.43 744.8,1363.00 745.8,1365.63 746.8,1368.34 747.8,1371.16 748.8,1374.10 749.8,1377.22 750.8,1380.55 751.8,1384.12 752.8,1387.94 753.8,1392.00 754.8,1396.24 755.8,1400.61 756.8,1405.02 757.8,1409.42 758.8,1413.74 759.8,1417.96 760.8,1422.05 761.8,1425.99 762.8,1429.77 763.8,1433.39 764.8,1436.86 765.8,1440.18 766.8,1443.35 767.8,1446.39 768.8,1449.31 769.8,1452.11 770.8,1454.81 771.8,1457.40 772.8,1459.89 773.8,1462.27 774.8,1464.54 775.8,1466.70 776.8,1468.75 777.8,1470.69 778.8,1472.52 779.8,1474.24 780.8,1475.85 781.8,1477.35 782.8,1478.72 783.8,1479.96 784.8,1481.07 785.8,1482.03 786.8,1482.87 787.8,1483.60 788.8,1484.22 789.8,1484.77 790.8,1485.26 791.8,1485.69 792.8,1486.09 793.8,1486.45 794.8,1486.80 795.8,1487.12 796.8,1487.42 797.8,1487.72 798.8,1488.00 799.8,1488.29 800.8,1488.57 801.8,1488.84 802.8,1489.12 803.8,1489.40 804.8,1489.66 805.8,1489.92 806.8,1490.17 807.8,1490.39 808.8,1490.60 809.8,1490.78 810.8,1490.92 811.8,1491.04 812.8,1491.13 813.8,1491.20 814.8,1491.24 815.8,1491.27 816.8,1491.28 817.8,1491.29 818.8,1491.30 819.8,1491.30 820.8,1491.30 821.8,1491.30 822.8,1491.30 823.8,1491.30 824.8,1491.30 825.8,1491.30 826.8,1491.30 827.8,1491.30 828.8,1491.30 829.8,1491.30 830.8,1491.30 831.8,1491.30 832.8,1491.30 833.8,1491.30 834.8,1491.30 835.8,1491.30 836.8,1491.30 837.8,1491.30 838.8,1491.30 839.8,1491.30 840.8,1491.30 841.8,1491.30 842.8,1491.30 843.8,1491.30 844.8,1491.30 845.8,1491.30 846.8,1491.30 847.8,1491.30 848.8,1491.30 849.8,1491.30 850.8,1491.30 851.8,1491.30 852.8,1491.30 853.8,1491.30 854.8,1491.30 855.8,1491.30 856.8,1491.30 857.8,1491.30 858.8,1491.30 859.8,1491.30 860.8,1491.30 861.8,1491.30 862.8,1491.30 863.8,1491.30 864.8,1491.30 865.8,1491.30 866.8,1491.30 867.8,1491.30 868.8,1491.30 869.8,1491.30 870.8,1491.30 871.8,1491.30 872.8,1491.30 873.8,1491.30 874.8,1491.30 875.8,1491.30 876.8,1491.30 877.8,1491.30 878.8,1491.30 879.8,1491.30 880.8,1491.30 881.8,1491.30 882.8,1491.30 883.8,1491.30 884.8,1491.30 885.8,1491.30 886.8,1491.30 887.8,1491.30 888.8,1491.30 889.8,1491.30 890.8,1491.30 891.8,1491.30 892.8,1491.30 893.8,1491.30 894.8,1491.30 895.8,1491.30 896.8,1491.30 897.8,1491.30 898.8,1491.30 899.8,1491.30 900.8,1491.30 901.8,1491.30 902.8,1491.30 903.8,1491.30 904.8,1491.30 905.8,1491.30 906.8,1491.30 907.8,1491.30 908.8,1491.30 909.8,1491.30 910.8,1491.30 911.8,1491.30 912.8,1491.30 913.8,1491.30 914.8,1491.30 915.8,1491.30 916.8,1491.30 917.8,1491.30 918.8,1491.30 919.8,1491.30 920.8,1491.30 921.8,1491.30 922.8,1491.30 923.8,1491.30 924.8,1491.30 925.8,1491.30 926.8,1491.30 927.8,1491.30 928.8,1491.30 929.8,1491.30 930.8,1491.30 931.8,1491.30 932.8,1491.30 933.8,1491.30 934.8,1491.30 935.8,1491.30 936.8,1491.30 937.8,1491.30 938.8,1491.30 939.8,1491.30 940.8,1491.30 941.8,1491.30 942.8,1491.30 943.8,1491.30 944.8,1491.30 945.8,1491.30 946.8,1491.30 947.8,1491.30 948.8,1491.30 949.8,1491.30 950.8,1491.30 951.8,1491.30 952.8,1491.30 953.8,1491.30 954.8,1491.30 955.8,1491.30 956.8,1491.30 957.8,1491.30 958.8,1491.30 959.8,1491.30 960.8,1491.30 961.8,1491.30 962.8,1491.30 963.8,1491.30 964.8,1491.30 965.8,1491.30 966.8,1491.30 967.8,1491.30 968.8,1491.30 969.8,1491.30 970.8,1491.30 971.8,1491.30 972.8,1491.30 973.8,1491.30 974.8,1491.30 975.8,1491.30 976.8,1491.30 977.8,1491.30 978.8,1491.30 979.8,1491.30 980.8,1491.30 981.8,1491.30 982.8,1491.30 983.8,1491.30 984.8,1491.30 985.8,1491.30 986.8,1491.30 987.8,1491.30 988.8,1491.30 989.8,1491.30 990.8,1491.30 991.8,1491.30 992.8,1491.30 993.8,1491.30 994.8,1491.30 995.8,1491.30 996.8,1491.30 997.8,1491.30 998.8,1491.30 999.8,1491.30 1000.8,1491.30 1001.8,1491.30 1002.8,1491.30 1003.8,1491.30 1004.8,1491.30 1005.8,1491.30 1006.8,1491.30 1007.8,1491.30 1008.8,1491.30 1009.8,1491.30 1010.8,1491.30 1011.8,1491.30 1012.8,1491.30 1013.8,1491.30 1014.8,1491.30 1015.8,1491.30 1016.8,1491.30 1017.8,1491.30 1018.8,1491.30 1019.8,1491.30 1020.8,1491.30 1021.8,1491.30 1022.8,1491.30 1023.8,1491.30 1024.8,1491.30 1025.8,1491.30 1026.8,1491.30 1027.8,1491.30 1028.8,1491.30 1029.8,1491.30 1030.8,1491.30 1031.8,1491.30 1032.8,1491.30 1033.8,1491.30 1034.8,1491.30 1035.8,1491.30 1036.8,1491.30 1037.8,1491.30 1038.8,1491.30 1039.8,1491.30 1040.8,1491.30 1041.8,1491.30 L1041.8,1491.3 Z" fill="#3cb371" fill-opacity="0.2" stroke="none"/><path d="M177.8,1491.3 L177.8,1491.30 178.8,1491.30 179.8,1491.30 180.8,1491.30 181.8,1491.30 182.8,1491.30 183.8,1491.30 184.8,1491.30 185.8,1491.30 186.8,1491.30 187.8,1491.30 188.8,1491.30 189.8,1491.30 190.8,1491.30 191.8,1491.30 192.8,1491.30 193.8,1491.30 194.8,1491.30 195.8,1491.30 196.8,1491.30 197.8,1491.30 198.8,1491.30 199.8,1491.30 200.8,1491.30 201.8,1491.30 202.8,1491.30 203.8,1491.30 204.8,1491.30 205.8,1491.30 206.8,1491.30 207.8,1491.30 208.8,1491.30 209.8,1491.30 210.8,1491.30 211.8,1491.30 212.8,1491.30 213.8,1491.30 214.8,1491.30 215.8,1491.30 216.8,1491.30 217.8,1491.30 218.8,1491.30 219.8,1491.30 220.8,1491.30 221.8,1491.30 222.8,1491.30 223.8,1491.30 224.8,1491.30 225.8,1491.30 226.8,1491.30 227.8,1491.30 228.8,1491.30 229.8,1491.30 230.8,1491.30 231.8,1491.30 232.8,1491.30 233.8,1491.30 234.8,1491.30 235.8,1491.30 236.8,1491.30 237.8,1491.30 238.8,1491.30 239.8,1491.30 240.8,1491.30 241.8,1491.30 242.8,1491.30 243.8,1491.30 244.8,1491.30 245.8,1491.30 246.8,1491.30 247.8,1491.30 248.8,1491.30 249.8,1491.30 250.8,1491.30 251.8,1491.30 252.8,1491.30 253.8,1491.30 254.8,1491.30 255.8,1491.30 256.8,1491.30 257.8,1491.30 258.8,1491.30 259.8,1491.30 260.8,1491.30 261.8,1491.30 262.8,1491.30 263.8,1491.30 264.8,1491.30 265.8,1491.30 266.8,1491.30 267.8,1491.30 268.8,1491.30 269.8,1491.30 270.8,1491.30 271.8,1491.30 272.8,1491.30 273.8,1491.30 274.8,1491.30 275.8,1491.30 276.8,1491.30 277.8,1491.30 278.8,1491.30 279.8,1491.30 280.8,1491.30 281.8,1491.30 282.8,1491.30 283.8,1491.30 284.8,1491.30 285.8,1491.30 286.8,1491.30 287.8,1491.30 288.8,1491.30 289.8,1491.30 290.8,1491.30 291.8,1491.30 292.8,1491.30 293.8,1491.30 294.8,1491.30 295.8,1491.30 296.8,1491.30 297.8,1491.30 298.8,1491.30 299.8,1491.30 300.8,1491.30 301.8,1491.30 302.8,1491.30 303.8,1491.30 304.8,1491.30 305.8,1491.30 306.8,1491.30 307.8,1491.30 308.8,1491.30 309.8,1491.30 310.8,1491.30 311.8,1491.30 312.8,1491.30 313.8,1491.30 314.8,1491.30 315.8,1491.30 316.8,1491.30 317.8,1491.30 318.8,1491.30 319.8,1491.30 320.8,1491.30 321.8,1491.30 322.8,1491.30 323.8,1491.30 324.8,1491.30 325.8,1491.30 326.8,1491.29 327.8,1491.29 328.8,1491.28 329.8,1491.26 330.8,1491.23 331.8,1491.20 332.8,1491.15 333.8,1491.10 334.8,1491.03 335.8,1490.95 336.8,1490.86 337.8,1490.75 338.8,1490.64 339.8,1490.53 340.8,1490.40 341.8,1490.27 342.8,1490.13 343.8,1489.98 344.8,1489.83 345.8,1489.68 346.8,1489.52 347.8,1489.35 348.8,1489.17 349.8,1488.98 350.8,1488.78 351.8,1488.57 352.8,1488.34 353.8,1488.10 354.8,1487.84 355.8,1487.57 356.8,1487.29 357.8,1486.99 358.8,1486.67 359.8,1486.35 360.8,1486.01 361.8,1485.65 362.8,1485.28 363.8,1484.90 364.8,1484.51 365.8,1484.10 366.8,1483.68 367.8,1483.24 368.8,1482.79 369.8,1482.32 370.8,1481.84 371.8,1481.32 372.8,1480.78 373.8,1480.19 374.8,1479.57 375.8,1478.89 376.8,1478.17 377.8,1477.39 378.8,1476.57 379.8,1475.70 380.8,1474.80 381.8,1473.86 382.8,1472.90 383.8,1471.92 384.8,1470.92 385.8,1469.92 386.8,1468.92 387.8,1467.91 388.8,1466.90 389.8,1465.88 390.8,1464.86 391.8,1463.82 392.8,1462.77 393.8,1461.71 394.8,1460.64 395.8,1459.57 396.8,1458.50 397.8,1457.46 398.8,1456.44 399.8,1455.47 400.8,1454.54 401.8,1453.68 402.8,1452.87 403.8,1452.12 404.8,1451.42 405.8,1450.76 406.8,1450.14 407.8,1449.55 408.8,1448.99 409.8,1448.46 410.8,1447.97 411.8,1447.50 412.8,1447.09 413.8,1446.72 414.8,1446.40 415.8,1446.15 416.8,1445.97 417.8,1445.86 418.8,1445.84 419.8,1445.91 420.8,1446.07 421.8,1446.31 422.8,1446.64 423.8,1447.05 424.8,1447.54 425.8,1448.09 426.8,1448.69 427.8,1449.34 428.8,1450.02 429.8,1450.73 430.8,1451.47 431.8,1452.22 432.8,1453.00 433.8,1453.80 434.8,1454.64 435.8,1455.50 436.8,1456.41 437.8,1457.36 438.8,1458.35 439.8,1459.37 440.8,1460.43 441.8,1461.51 442.8,1462.61 443.8,1463.73 444.8,1464.86 445.8,1465.99 446.8,1467.13 447.8,1468.26 448.8,1469.40 449.8,1470.53 450.8,1471.65 451.8,1472.75 452.8,1473.83 453.8,1474.88 454.8,1475.88 455.8,1476.84 456.8,1477.76 457.8,1478.65 458.8,1479.49 459.8,1480.31 460.8,1481.09 461.8,1481.85 462.8,1482.57 463.8,1483.26 464.8,1483.92 465.8,1484.54 466.8,1485.12 467.8,1485.67 468.8,1486.18 469.8,1486.65 470.8,1487.10 471.8,1487.53 472.8,1487.94 473.8,1488.33 474.8,1488.70 475.8,1489.05 476.8,1489.39 477.8,1489.70 478.8,1489.98 479.8,1490.23 480.8,1490.45 481.8,1490.63 482.8,1490.78 483.8,1490.89 484.8,1490.98 485.8,1491.03 486.8,1491.07 487.8,1491.09 488.8,1491.10 489.8,1491.11 490.8,1491.11 491.8,1491.11 492.8,1491.11 493.8,1491.10 494.8,1491.09 495.8,1491.07 496.8,1491.03 497.8,1490.97 498.8,1490.87 499.8,1490.72 500.8,1490.52 501.8,1490.27 502.8,1489.95 503.8,1489.58 504.8,1489.14 505.8,1488.65 506.8,1488.10 507.8,1487.50 508.8,1486.85 509.8,1486.16 510.8,1485.41 511.8,1484.61 512.8,1483.73 513.8,1482.77 514.8,1481.70 515.8,1480.49 516.8,1479.14 517.8,1477.61 518.8,1475.92 519.8,1474.06 520.8,1472.03 521.8,1469.85 522.8,1467.54 523.8,1465.10 524.8,1462.56 525.8,1459.93 526.8,1457.21 527.8,1454.41 528.8,1451.53 529.8,1448.55 530.8,1445.46 531.8,1442.24 532.8,1438.88 533.8,1435.37 534.8,1431.73 535.8,1427.97 536.8,1424.12 537.8,1420.22 538.8,1416.31 539.8,1412.42 540.8,1408.57 541.8,1404.79 542.8,1401.06 543.8,1397.39 544.8,1393.77 545.8,1390.18 546.8,1386.63 547.8,1383.11 548.8,1379.63 549.8,1376.19 550.8,1372.80 551.8,1369.50 552.8,1366.28 553.8,1363.16 554.8,1360.17 555.8,1357.31 556.8,1354.61 557.8,1352.07 558.8,1349.70 559.8,1347.49 560.8,1345.42 561.8,1343.47 562.8,1341.58 563.8,1339.69 564.8,1337.76 565.8,1335.72 566.8,1333.53 567.8,1331.18 568.8,1328.66 569.8,1325.96 570.8,1323.09 571.8,1320.08 572.8,1316.93 573.8,1313.67 574.8,1310.32 575.8,1306.89 576.8,1303.40 577.8,1299.87 578.8,1296.32 579.8,1292.76 580.8,1289.20 581.8,1285.65 582.8,1282.13 583.8,1278.62 584.8,1275.14 585.8,1271.66 586.8,1268.19 587.8,1264.71 588.8,1261.21 589.8,1257.68 590.8,1254.10 591.8,1250.46 592.8,1246.74 593.8,1242.94 594.8,1239.03 595.8,1234.99 596.8,1230.81 597.8,1226.45 598.8,1221.89 599.8,1217.15 600.8,1212.23 601.8,1207.21 602.8,1202.19 603.8,1197.26 604.8,1192.54 605.8,1188.10 606.8,1183.99 607.8,1180.21 608.8,1176.71 609.8,1173.46 610.8,1170.41 611.8,1167.49 612.8,1164.68 613.8,1161.92 614.8,1159.18 615.8,1156.45 616.8,1153.70 617.8,1150.94 618.8,1148.15 619.8,1145.35 620.8,1142.54 621.8,1139.73 622.8,1136.92 623.8,1134.11 624.8,1131.32 625.8,1128.53 626.8,1125.75 627.8,1122.98 628.8,1120.22 629.8,1117.46 630.8,1114.70 631.8,1111.94 632.8,1109.18 633.8,1106.40 634.8,1103.58 635.8,1100.73 636.8,1097.81 637.8,1094.82 638.8,1091.74 639.8,1088.58 640.8,1085.33 641.8,1082.00 642.8,1078.62 643.8,1075.18 644.8,1071.71 645.8,1068.24 646.8,1064.77 647.8,1061.33 648.8,1057.94 649.8,1054.61 650.8,1051.37 651.8,1048.24 652.8,1045.24 653.8,1042.38 654.8,1039.69 655.8,1037.18 656.8,1034.88 657.8,1032.80 658.8,1030.96 659.8,1029.38 660.8,1028.08 661.8,1027.07 662.8,1026.36 663.8,1025.95 664.8,1025.83 665.8,1026.01 666.8,1026.47 667.8,1027.19 668.8,1028.16 669.8,1029.35 670.8,1030.76 671.8,1032.34 672.8,1034.10 673.8,1036.01 674.8,1038.04 675.8,1040.20 676.8,1042.47 677.8,1044.84 678.8,1047.34 679.8,1049.97 680.8,1052.76 681.8,1055.76 682.8,1058.98 683.8,1062.46 684.8,1066.22 685.8,1070.26 686.8,1074.57 687.8,1079.15 688.8,1083.98 689.8,1089.04 690.8,1094.31 691.8,1099.76 692.8,1105.39 693.8,1111.17 694.8,1117.08 695.8,1123.12 696.8,1129.28 697.8,1135.58 698.8,1142.04 699.8,1148.67 700.8,1155.51 701.8,1162.56 702.8,1169.81 703.8,1177.23 704.8,1184.78 705.8,1192.39 706.8,1200.02 707.8,1207.60 708.8,1215.11 709.8,1222.47 710.8,1229.66 711.8,1236.62 712.8,1243.32 713.8,1249.75 714.8,1255.89 715.8,1261.77 716.8,1267.43 717.8,1272.91 718.8,1278.24 719.8,1283.47 720.8,1288.62 721.8,1293.72 722.8,1298.78 723.8,1303.81 724.8,1308.84 725.8,1313.87 726.8,1318.93 727.8,1324.04 728.8,1329.19 729.8,1334.41 730.8,1339.68 731.8,1345.01 732.8,1350.37 733.8,1355.77 734.8,1361.16 735.8,1366.52 736.8,1371.81 737.8,1376.98 738.8,1381.97 739.8,1386.77 740.8,1391.34 741.8,1395.68 742.8,1399.81 743.8,1403.76 744.8,1407.55 745.8,1411.21 746.8,1414.76 747.8,1418.22 748.8,1421.60 749.8,1424.91 750.8,1428.15 751.8,1431.31 752.8,1434.40 753.8,1437.41 754.8,1440.35 755.8,1443.21 756.8,1445.99 757.8,1448.69 758.8,1451.30 759.8,1453.82 760.8,1456.23 761.8,1458.53 762.8,1460.71 763.8,1462.77 764.8,1464.71 765.8,1466.55 766.8,1468.29 767.8,1469.93 768.8,1471.47 769.8,1472.92 770.8,1474.27 771.8,1475.53 772.8,1476.71 773.8,1477.80 774.8,1478.82 775.8,1479.77 776.8,1480.67 777.8,1481.51 778.8,1482.30 779.8,1483.05 780.8,1483.76 781.8,1484.43 782.8,1485.07 783.8,1485.66 784.8,1486.23 785.8,1486.76 786.8,1487.28 787.8,1487.77 788.8,1488.24 789.8,1488.69 790.8,1489.12 791.8,1489.52 792.8,1489.88 793.8,1490.21 794.8,1490.49 795.8,1490.73 796.8,1490.91 797.8,1491.05 798.8,1491.15 799.8,1491.21 800.8,1491.26 801.8,1491.28 802.8,1491.29 803.8,1491.30 804.8,1491.30 805.8,1491.30 806.8,1491.30 807.8,1491.30 808.8,1491.30 809.8,1491.30 810.8,1491.30 811.8,1491.30 812.8,1491.30 813.8,1491.30 814.8,1491.30 815.8,1491.30 816.8,1491.30 817.8,1491.30 818.8,1491.30 819.8,1491.30 820.8,1491.30 821.8,1491.30 822.8,1491.30 823.8,1491.30 824.8,1491.30 825.8,1491.30 826.8,1491.30 827.8,1491.30 828.8,1491.30 829.8,1491.30 830.8,1491.30 831.8,1491.30 832.8,1491.30 833.8,1491.30 834.8,1491.30 835.8,1491.30 836.8,1491.30 837.8,1491.30 838.8,1491.30 839.8,1491.30 840.8,1491.30 841.8,1491.30 842.8,1491.30 843.8,1491.30 844.8,1491.30 845.8,1491.30 846.8,1491.30 847.8,1491.30 848.8,1491.30 849.8,1491.30 850.8,1491.30 851.8,1491.30 852.8,1491.30 853.8,1491.30 854.8,1491.30 855.8,1491.30 856.8,1491.30 857.8,1491.30 858.8,1491.30 859.8,1491.30 860.8,1491.30 861.8,1491.30 862.8,1491.30 863.8,1491.29 864.8,1491.28 865.8,1491.27 866.8,1491.24 867.8,1491.20 868.8,1491.13 869.8,1491.03 870.8,1490.91 871.8,1490.74 872.8,1490.55 873.8,1490.32 874.8,1490.06 875.8,1489.76 876.8,1489.44 877.8,1489.08 878.8,1488.68 879.8,1488.24 880.8,1487.75 881.8,1487.19 882.8,1486.58 883.8,1485.90 884.8,1485.17 885.8,1484.38 886.8,1483.53 887.8,1482.64 888.8,1481.71 889.8,1480.75 890.8,1479.76 891.8,1478.75 892.8,1477.72 893.8,1476.69 894.8,1475.65 895.8,1474.61 896.8,1473.58 897.8,1472.54 898.8,1471.52 899.8,1470.48 900.8,1469.44 901.8,1468.38 902.8,1467.29 903.8,1466.16 904.8,1465.00 905.8,1463.80 906.8,1462.58 907.8,1461.33 908.8,1460.07 909.8,1458.81 910.8,1457.55 911.8,1456.31 912.8,1455.10 913.8,1453.93 914.8,1452.81 915.8,1451.76 916.8,1450.77 917.8,1449.87 918.8,1449.06 919.8,1448.36 920.8,1447.77 921.8,1447.30 922.8,1446.96 923.8,1446.76 924.8,1446.70 925.8,1446.77 926.8,1446.97 927.8,1447.31 928.8,1447.77 929.8,1448.34 930.8,1449.02 931.8,1449.80 932.8,1450.66 933.8,1451.60 934.8,1452.61 935.8,1453.67 936.8,1454.79 937.8,1455.94 938.8,1457.12 939.8,1458.32 940.8,1459.53 941.8,1460.75 942.8,1461.95 943.8,1463.14 944.8,1464.30 945.8,1465.43 946.8,1466.52 947.8,1467.58 948.8,1468.61 949.8,1469.61 950.8,1470.60 951.8,1471.57 952.8,1472.55 953.8,1473.53 954.8,1474.51 955.8,1475.49 956.8,1476.48 957.8,1477.46 958.8,1478.43 959.8,1479.38 960.8,1480.31 961.8,1481.21 962.8,1482.08 963.8,1482.90 964.8,1483.68 965.8,1484.40 966.8,1485.07 967.8,1485.67 968.8,1486.21 969.8,1486.69 970.8,1487.12 971.8,1487.49 972.8,1487.83 973.8,1488.13 974.8,1488.41 975.8,1488.67 976.8,1488.91 977.8,1489.14 978.8,1489.37 979.8,1489.58 980.8,1489.78 981.8,1489.97 982.8,1490.15 983.8,1490.32 984.8,1490.48 985.8,1490.62 986.8,1490.75 987.8,1490.86 988.8,1490.96 989.8,1491.05 990.8,1491.12 991.8,1491.17 992.8,1491.22 993.8,1491.25 994.8,1491.27 995.8,1491.28 996.8,1491.29 997.8,1491.30 998.8,1491.30 999.8,1491.30 1000.8,1491.30 1001.8,1491.30 1002.8,1491.30 1003.8,1491.30 1004.8,1491.30 1005.8,1491.30 1006.8,1491.30 1007.8,1491.30 1008.8,1491.30 1009.8,1491.30 1010.8,1491.30 1011.8,1491.30 1012.8,1491.30 1013.8,1491.30 1014.8,1491.30 1015.8,1491.30 1016.8,1491.30 1017.8,1491.30 1018.8,1491.30 1019.8,1491.30 1020.8,1491.30 1021.8,1491.30 1022.8,1491.30 1023.8,1491.30 1024.8,1491.30 1025.8,1491.30 1026.8,1491.30 1027.8,1491.30 1028.8,1491.30 1029.8,1491.30 1030.8,1491.30 1031.8,1491.30 1032.8,1491.30 1033.8,1491.30 1034.8,1491.30 1035.8,1491.30 1036.8,1491.30 1037.8,1491.30 1038.8,1491.30 1039.8,1491.30 1040.8,1491.30 1041.8,1491.30 L1041.8,1491.3 Z" fill="#6495ed" fill-opacity="0.2" stroke="none"/><path d="M177.8,1491.3 L177.8,1480.48 178.8,1480.37 179.8,1480.25 180.8,1480.11 181.8,1479.97 182.8,1479.83 183.8,1479.69 184.8,1479.57 185.8,1479.46 186.8,1479.37 187.8,1479.29 188.8,1479.22 189.8,1479.17 190.8,1479.12 191.8,1479.08 192.8,1479.04 193.8,1479.01 194.8,1478.99 195.8,1478.97 196.8,1478.96 197.8,1478.96 198.8,1478.98 199.8,1479.01 200.8,1479.07 201.8,1479.16 202.8,1479.27 203.8,1479.42 204.8,1479.59 205.8,1479.79 206.8,1480.01 207.8,1480.25 208.8,1480.51 209.8,1480.78 210.8,1481.05 211.8,1481.33 212.8,1481.61 213.8,1481.90 214.8,1482.18 215.8,1482.47 216.8,1482.76 217.8,1483.06 218.8,1483.37 219.8,1483.68 220.8,1484.00 221.8,1484.32 222.8,1484.65 223.8,1484.97 224.8,1485.29 225.8,1485.61 226.8,1485.92 227.8,1486.21 228.8,1486.49 229.8,1486.76 230.8,1487.02 231.8,1487.27 232.8,1487.50 233.8,1487.73 234.8,1487.95 235.8,1488.17 236.8,1488.39 237.8,1488.60 238.8,1488.81 239.8,1489.01 240.8,1489.21 241.8,1489.40 242.8,1489.59 243.8,1489.76 244.8,1489.93 245.8,1490.08 246.8,1490.23 247.8,1490.36 248.8,1490.48 249.8,1490.58 250.8,1490.67 251.8,1490.75 252.8,1490.81 253.8,1490.86 254.8,1490.90 255.8,1490.92 256.8,1490.95 257.8,1490.96 258.8,1490.98 259.8,1490.99 260.8,1491.00 261.8,1491.01 262.8,1491.02 263.8,1491.03 264.8,1491.04 265.8,1491.05 266.8,1491.06 267.8,1491.07 268.8,1491.07 269.8,1491.08 270.8,1491.08 271.8,1491.09 272.8,1491.09 273.8,1491.10 274.8,1491.10 275.8,1491.10 276.8,1491.11 277.8,1491.11 278.8,1491.11 279.8,1491.10 280.8,1491.10 281.8,1491.09 282.8,1491.08 283.8,1491.06 284.8,1491.04 285.8,1491.02 286.8,1490.99 287.8,1490.95 288.8,1490.91 289.8,1490.87 290.8,1490.82 291.8,1490.77 292.8,1490.71 293.8,1490.65 294.8,1490.58 295.8,1490.51 296.8,1490.44 297.8,1490.36 298.8,1490.28 299.8,1490.20 300.8,1490.11 301.8,1490.02 302.8,1489.93 303.8,1489.83 304.8,1489.73 305.8,1489.63 306.8,1489.53 307.8,1489.42 308.8,1489.31 309.8,1489.20 310.8,1489.08 311.8,1488.95 312.8,1488.81 313.8,1488.65 314.8,1488.48 315.8,1488.29 316.8,1488.08 317.8,1487.85 318.8,1487.60 319.8,1487.34 320.8,1487.07 321.8,1486.78 322.8,1486.49 323.8,1486.20 324.8,1485.91 325.8,1485.63 326.8,1485.36 327.8,1485.09 328.8,1484.83 329.8,1484.58 330.8,1484.34 331.8,1484.10 332.8,1483.86 333.8,1483.63 334.8,1483.40 335.8,1483.16 336.8,1482.93 337.8,1482.70 338.8,1482.47 339.8,1482.25 340.8,1482.03 341.8,1481.82 342.8,1481.63 343.8,1481.44 344.8,1481.27 345.8,1481.11 346.8,1480.97 347.8,1480.85 348.8,1480.75 349.8,1480.66 350.8,1480.60 351.8,1480.55 352.8,1480.53 353.8,1480.52 354.8,1480.52 355.8,1480.54 356.8,1480.56 357.8,1480.60 358.8,1480.64 359.8,1480.69 360.8,1480.75 361.8,1480.81 362.8,1480.88 363.8,1480.95 364.8,1481.03 365.8,1481.10 366.8,1481.18 367.8,1481.26 368.8,1481.35 369.8,1481.43 370.8,1481.52 371.8,1481.60 372.8,1481.68 373.8,1481.76 374.8,1481.85 375.8,1481.93 376.8,1482.01 377.8,1482.10 378.8,1482.19 379.8,1482.28 380.8,1482.37 381.8,1482.47 382.8,1482.57 383.8,1482.67 384.8,1482.78 385.8,1482.88 386.8,1482.99 387.8,1483.10 388.8,1483.20 389.8,1483.30 390.8,1483.39 391.8,1483.48 392.8,1483.57 393.8,1483.65 394.8,1483.71 395.8,1483.77 396.8,1483.82 397.8,1483.84 398.8,1483.84 399.8,1483.81 400.8,1483.73 401.8,1483.60 402.8,1483.41 403.8,1483.15 404.8,1482.82 405.8,1482.43 406.8,1481.97 407.8,1481.46 408.8,1480.89 409.8,1480.28 410.8,1479.64 411.8,1478.98 412.8,1478.29 413.8,1477.59 414.8,1476.88 415.8,1476.16 416.8,1475.42 417.8,1474.67 418.8,1473.89 419.8,1473.09 420.8,1472.26 421.8,1471.40 422.8,1470.51 423.8,1469.58 424.8,1468.62 425.8,1467.63 426.8,1466.61 427.8,1465.56 428.8,1464.47 429.8,1463.36 430.8,1462.22 431.8,1461.05 432.8,1459.85 433.8,1458.63 434.8,1457.37 435.8,1456.07 436.8,1454.74 437.8,1453.36 438.8,1451.93 439.8,1450.45 440.8,1448.91 441.8,1447.29 442.8,1445.60 443.8,1443.82 444.8,1441.95 445.8,1439.95 446.8,1437.81 447.8,1435.51 448.8,1433.02 449.8,1430.33 450.8,1427.43 451.8,1424.33 452.8,1421.04 453.8,1417.62 454.8,1414.08 455.8,1410.45 456.8,1406.76 457.8,1403.02 458.8,1399.23 459.8,1395.39 460.8,1391.50 461.8,1387.56 462.8,1383.57 463.8,1379.52 464.8,1375.41 465.8,1371.24 466.8,1367.02 467.8,1362.73 468.8,1358.37 469.8,1353.94 470.8,1349.44 471.8,1344.86 472.8,1340.20 473.8,1335.46 474.8,1330.65 475.8,1325.76 476.8,1320.81 477.8,1315.80 478.8,1310.73 479.8,1305.62 480.8,1300.47 481.8,1295.27 482.8,1290.04 483.8,1284.78 484.8,1279.47 485.8,1274.13 486.8,1268.75 487.8,1263.32 488.8,1257.84 489.8,1252.32 490.8,1246.76 491.8,1241.17 492.8,1235.55 493.8,1229.92 494.8,1224.28 495.8,1218.64 496.8,1213.01 497.8,1207.39 498.8,1201.78 499.8,1196.19 500.8,1190.60 501.8,1185.01 502.8,1179.42 503.8,1173.83 504.8,1168.25 505.8,1162.67 506.8,1157.12 507.8,1151.60 508.8,1146.12 509.8,1140.70 510.8,1135.35 511.8,1130.08 512.8,1124.90 513.8,1119.79 514.8,1114.77 515.8,1109.81 516.8,1104.92 517.8,1100.09 518.8,1095.33 519.8,1090.66 520.8,1086.10 521.8,1081.69 522.8,1077.46 523.8,1073.43 524.8,1069.64 525.8,1066.08 526.8,1062.76 527.8,1059.65 528.8,1056.74 529.8,1054.02 530.8,1051.46 531.8,1049.07 532.8,1046.87 533.8,1044.87 534.8,1043.13 535.8,1041.66 536.8,1040.50 537.8,1039.67 538.8,1039.18 539.8,1039.01 540.8,1039.17 541.8,1039.61 542.8,1040.31 543.8,1041.25 544.8,1042.39 545.8,1043.69 546.8,1045.14 547.8,1046.71 548.8,1048.36 549.8,1050.08 550.8,1051.85 551.8,1053.66 552.8,1055.48 553.8,1057.33 554.8,1059.21 555.8,1061.13 556.8,1063.10 557.8,1065.12 558.8,1067.19 559.8,1069.31 560.8,1071.47 561.8,1073.65 562.8,1075.82 563.8,1077.96 564.8,1080.06 565.8,1082.08 566.8,1084.03 567.8,1085.89 568.8,1087.66 569.8,1089.34 570.8,1090.93 571.8,1092.46 572.8,1093.94 573.8,1095.38 574.8,1096.81 575.8,1098.25 576.8,1099.72 577.8,1101.24 578.8,1102.83 579.8,1104.52 580.8,1106.34 581.8,1108.32 582.8,1110.49 583.8,1112.90 584.8,1115.58 585.8,1118.55 586.8,1121.83 587.8,1125.42 588.8,1129.31 589.8,1133.45 590.8,1137.82 591.8,1142.40 592.8,1147.15 593.8,1152.06 594.8,1157.11 595.8,1162.28 596.8,1167.52 597.8,1172.78 598.8,1177.98 599.8,1183.06 600.8,1187.95 601.8,1192.61 602.8,1197.01 603.8,1201.16 604.8,1205.08 605.8,1208.82 606.8,1212.43 607.8,1215.98 608.8,1219.54 609.8,1223.17 610.8,1226.96 611.8,1230.97 612.8,1235.26 613.8,1239.89 614.8,1244.89 615.8,1250.26 616.8,1255.99 617.8,1262.03 618.8,1268.30 619.8,1274.71 620.8,1281.18 621.8,1287.61 622.8,1293.95 623.8,1300.13 624.8,1306.14 625.8,1311.97 626.8,1317.63 627.8,1323.11 628.8,1328.40 629.8,1333.50 630.8,1338.39 631.8,1343.03 632.8,1347.42 633.8,1351.54 634.8,1355.39 635.8,1358.99 636.8,1362.35 637.8,1365.50 638.8,1368.46 639.8,1371.24 640.8,1373.87 641.8,1376.35 642.8,1378.68 643.8,1380.88 644.8,1382.96 645.8,1384.92 646.8,1386.76 647.8,1388.50 648.8,1390.15 649.8,1391.73 650.8,1393.25 651.8,1394.73 652.8,1396.19 653.8,1397.66 654.8,1399.15 655.8,1400.68 656.8,1402.28 657.8,1403.95 658.8,1405.71 659.8,1407.56 660.8,1409.51 661.8,1411.54 662.8,1413.64 663.8,1415.78 664.8,1417.94 665.8,1420.08 666.8,1422.18 667.8,1424.20 668.8,1426.13 669.8,1427.94 670.8,1429.64 671.8,1431.21 672.8,1432.67 673.8,1434.05 674.8,1435.35 675.8,1436.60 676.8,1437.80 677.8,1438.96 678.8,1440.09 679.8,1441.18 680.8,1442.22 681.8,1443.22 682.8,1444.16 683.8,1445.04 684.8,1445.86 685.8,1446.60 686.8,1447.26 687.8,1447.84 688.8,1448.33 689.8,1448.72 690.8,1449.02 691.8,1449.22 692.8,1449.32 693.8,1449.33 694.8,1449.26 695.8,1449.11 696.8,1448.88 697.8,1448.59 698.8,1448.24 699.8,1447.84 700.8,1447.39 701.8,1446.90 702.8,1446.38 703.8,1445.82 704.8,1445.25 705.8,1444.66 706.8,1444.06 707.8,1443.45 708.8,1442.85 709.8,1442.25 710.8,1441.66 711.8,1441.10 712.8,1440.55 713.8,1440.04 714.8,1439.57 715.8,1439.13 716.8,1438.75 717.8,1438.41 718.8,1438.14 719.8,1437.93 720.8,1437.79 721.8,1437.72 722.8,1437.72 723.8,1437.79 724.8,1437.93 725.8,1438.15 726.8,1438.42 727.8,1438.76 728.8,1439.16 729.8,1439.60 730.8,1440.09 731.8,1440.62 732.8,1441.18 733.8,1441.78 734.8,1442.40 735.8,1443.05 736.8,1443.72 737.8,1444.43 738.8,1445.17 739.8,1445.97 740.8,1446.82 741.8,1447.74 742.8,1448.73 743.8,1449.78 744.8,1450.88 745.8,1452.02 746.8,1453.19 747.8,1454.35 748.8,1455.49 749.8,1456.60 750.8,1457.66 751.8,1458.66 752.8,1459.61 753.8,1460.50 754.8,1461.34 755.8,1462.15 756.8,1462.92 757.8,1463.66 758.8,1464.38 759.8,1465.07 760.8,1465.71 761.8,1466.32 762.8,1466.87 763.8,1467.36 764.8,1467.79 765.8,1468.14 766.8,1468.41 767.8,1468.60 768.8,1468.71 769.8,1468.75 770.8,1468.71 771.8,1468.61 772.8,1468.45 773.8,1468.25 774.8,1468.01 775.8,1467.75 776.8,1467.46 777.8,1467.17 778.8,1466.88 779.8,1466.59 780.8,1466.31 781.8,1466.03 782.8,1465.77 783.8,1465.52 784.8,1465.28 785.8,1465.04 786.8,1464.81 787.8,1464.58 788.8,1464.36 789.8,1464.15 790.8,1463.95 791.8,1463.78 792.8,1463.62 793.8,1463.50 794.8,1463.42 795.8,1463.38 796.8,1463.39 797.8,1463.47 798.8,1463.62 799.8,1463.85 800.8,1464.15 801.8,1464.52 802.8,1464.96 803.8,1465.46 804.8,1466.00 805.8,1466.58 806.8,1467.18 807.8,1467.80 808.8,1468.44 809.8,1469.08 810.8,1469.73 811.8,1470.40 812.8,1471.09 813.8,1471.80 814.8,1472.52 815.8,1473.27 816.8,1474.03 817.8,1474.80 818.8,1475.55 819.8,1476.30 820.8,1477.01 821.8,1477.69 822.8,1478.32 823.8,1478.89 824.8,1479.41 825.8,1479.87 826.8,1480.27 827.8,1480.62 828.8,1480.93 829.8,1481.20 830.8,1481.44 831.8,1481.66 832.8,1481.87 833.8,1482.05 834.8,1482.23 835.8,1482.40 836.8,1482.57 837.8,1482.73 838.8,1482.89 839.8,1483.06 840.8,1483.23 841.8,1483.40 842.8,1483.58 843.8,1483.77 844.8,1483.96 845.8,1484.16 846.8,1484.37 847.8,1484.58 848.8,1484.79 849.8,1485.01 850.8,1485.23 851.8,1485.45 852.8,1485.66 853.8,1485.88 854.8,1486.09 855.8,1486.29 856.8,1486.49 857.8,1486.69 858.8,1486.88 859.8,1487.06 860.8,1487.23 861.8,1487.39 862.8,1487.55 863.8,1487.71 864.8,1487.86 865.8,1488.00 866.8,1488.15 867.8,1488.28 868.8,1488.42 869.8,1488.55 870.8,1488.69 871.8,1488.82 872.8,1488.94 873.8,1489.07 874.8,1489.20 875.8,1489.33 876.8,1489.46 877.8,1489.59 878.8,1489.73 879.8,1489.87 880.8,1490.01 881.8,1490.15 882.8,1490.29 883.8,1490.43 884.8,1490.56 885.8,1490.67 886.8,1490.76 887.8,1490.83 888.8,1490.87 889.8,1490.89 890.8,1490.89 891.8,1490.88 892.8,1490.85 893.8,1490.80 894.8,1490.75 895.8,1490.68 896.8,1490.61 897.8,1490.53 898.8,1490.44 899.8,1490.35 900.8,1490.25 901.8,1490.14 902.8,1490.03 903.8,1489.91 904.8,1489.79 905.8,1489.67 906.8,1489.54 907.8,1489.41 908.8,1489.28 909.8,1489.15 910.8,1489.02 911.8,1488.89 912.8,1488.75 913.8,1488.62 914.8,1488.48 915.8,1488.34 916.8,1488.20 917.8,1488.05 918.8,1487.89 919.8,1487.72 920.8,1487.54 921.8,1487.35 922.8,1487.16 923.8,1486.96 924.8,1486.75 925.8,1486.55 926.8,1486.36 927.8,1486.17 928.8,1486.00 929.8,1485.84 930.8,1485.70 931.8,1485.58 932.8,1485.49 933.8,1485.42 934.8,1485.38 935.8,1485.38 936.8,1485.40 937.8,1485.46 938.8,1485.54 939.8,1485.65 940.8,1485.79 941.8,1485.95 942.8,1486.12 943.8,1486.32 944.8,1486.53 945.8,1486.75 946.8,1486.97 947.8,1487.20 948.8,1487.43 949.8,1487.66 950.8,1487.89 951.8,1488.11 952.8,1488.33 953.8,1488.54 954.8,1488.74 955.8,1488.94 956.8,1489.13 957.8,1489.33 958.8,1489.52 959.8,1489.71 960.8,1489.90 961.8,1490.08 962.8,1490.26 963.8,1490.41 964.8,1490.56 965.8,1490.69 966.8,1490.79 967.8,1490.88 968.8,1490.95 969.8,1491.00 970.8,1491.05 971.8,1491.08 972.8,1491.10 973.8,1491.12 974.8,1491.14 975.8,1491.15 976.8,1491.16 977.8,1491.18 978.8,1491.19 979.8,1491.20 980.8,1491.21 981.8,1491.22 982.8,1491.23 983.8,1491.24 984.8,1491.25 985.8,1491.25 986.8,1491.26 987.8,1491.27 988.8,1491.27 989.8,1491.28 990.8,1491.28 991.8,1491.29 992.8,1491.29 993.8,1491.29 994.8,1491.29 995.8,1491.30 996.8,1491.30 997.8,1491.30 998.8,1491.30 999.8,1491.30 1000.8,1491.30 1001.8,1491.30 1002.8,1491.30 1003.8,1491.30 1004.8,1491.30 1005.8,1491.30 1006.8,1491.30 1007.8,1491.30 1008.8,1491.30 1009.8,1491.30 1010.8,1491.30 1011.8,1491.30 1012.8,1491.30 1013.8,1491.30 1014.8,1491.30 1015.8,1491.30 1016.8,1491.30 1017.8,1491.30 1018.8,1491.30 1019.8,1491.30 1020.8,1491.30 1021.8,1491.30 1022.8,1491.30 1023.8,1491.30 1024.8,1491.30 1025.8,1491.30 1026.8,1491.30 1027.8,1491.30 1028.8,1491.30 1029.8,1491.30 1030.8,1491.30 1031.8,1491.30 1032.8,1491.30 1033.8,1491.30 1034.8,1491.30 1035.8,1491.30 1036.8,1491.30 1037.8,1491.30 1038.8,1491.30 1039.8,1491.30 1040.8,1491.30 1041.8,1491.30 L1041.8,1491.3 Z" fill="#000080" fill-opacity="0.2" stroke="none"/><path d="M177.8,1491.30 178.8,1491.30 179.8,1491.30 180.8,1491.30 181.8,1491.30 182.8,1491.30 183.8,1491.30 184.8,1491.30 185.8,1491.30 186.8,1491.30 187.8,1491.30 188.8,1491.30 189.8,1491.30 190.8,1491.30 191.8,1491.30 192.8,1491.30 193.8,1491.30 194.8,1491.30 195.8,1491.30 196.8,1491.30 197.8,1491.30 198.8,1491.30 199.8,1491.30 200.8,1491.30 201.8,1491.30 202.8,1491.30 203.8,1491.30 204.8,1491.30 205.8,1491.30 206.8,1491.30 207.8,1491.30 208.8,1491.30 209.8,1491.30 210.8,1491.30 211.8,1491.30 212.8,1491.30 213.8,1491.30 214.8,1491.30 215.8,1491.30 216.8,1491.30 217.8,1491.30 218.8,1491.30 219.8,1491.30 220.8,1491.30 221.8,1491.30 222.8,1491.30 223.8,1491.30 224.8,1491.30 225.8,1491.30 226.8,1491.30 227.8,1491.30 228.8,1491.30 229.8,1491.30 230.8,1491.30 231.8,1491.30 232.8,1491.30 233.8,1491.30 234.8,1491.30 235.8,1491.30 236.8,1491.30 237.8,1491.30 238.8,1491.30 239.8,1491.30 240.8,1491.30 241.8,1491.30 242.8,1491.30 243.8,1491.30 244.8,1491.30 245.8,1491.30 246.8,1491.30 247.8,1491.30 248.8,1491.30 249.8,1491.30 250.8,1491.30 251.8,1491.30 252.8,1491.30 253.8,1491.30 254.8,1491.30 255.8,1491.30 256.8,1491.29 257.8,1491.29 258.8,1491.28 259.8,1491.27 260.8,1491.25 261.8,1491.23 262.8,1491.21 263.8,1491.17 264.8,1491.13 265.8,1491.08 266.8,1491.03 267.8,1490.97 268.8,1490.90 269.8,1490.83 270.8,1490.75 271.8,1490.66 272.8,1490.57 273.8,1490.48 274.8,1490.37 275.8,1490.27 276.8,1490.16 277.8,1490.05 278.8,1489.93 279.8,1489.80 280.8,1489.68 281.8,1489.55 282.8,1489.41 283.8,1489.27 284.8,1489.12 285.8,1488.96 286.8,1488.79 287.8,1488.61 288.8,1488.40 289.8,1488.17 290.8,1487.91 291.8,1487.63 292.8,1487.32 293.8,1486.99 294.8,1486.63 295.8,1486.25 296.8,1485.85 297.8,1485.43 298.8,1484.99 299.8,1484.53 300.8,1484.06 301.8,1483.57 302.8,1483.08 303.8,1482.57 304.8,1482.06 305.8,1481.55 306.8,1481.02 307.8,1480.50 308.8,1479.98 309.8,1479.45 310.8,1478.93 311.8,1478.40 312.8,1477.88 313.8,1477.36 314.8,1476.83 315.8,1476.30 316.8,1475.76 317.8,1475.22 318.8,1474.66 319.8,1474.10 320.8,1473.51 321.8,1472.92 322.8,1472.30 323.8,1471.67 324.8,1471.01 325.8,1470.33 326.8,1469.61 327.8,1468.86 328.8,1468.06 329.8,1467.22 330.8,1466.32 331.8,1465.38 332.8,1464.40 333.8,1463.40 334.8,1462.40 335.8,1461.41 336.8,1460.46 337.8,1459.56 338.8,1458.70 339.8,1457.89 340.8,1457.12 341.8,1456.39 342.8,1455.67 343.8,1454.97 344.8,1454.28 345.8,1453.60 346.8,1452.93 347.8,1452.28 348.8,1451.63 349.8,1451.01 350.8,1450.40 351.8,1449.80 352.8,1449.23 353.8,1448.68 354.8,1448.16 355.8,1447.66 356.8,1447.19 357.8,1446.75 358.8,1446.34 359.8,1445.96 360.8,1445.62 361.8,1445.32 362.8,1445.06 363.8,1444.84 364.8,1444.67 365.8,1444.55 366.8,1444.47 367.8,1444.46 368.8,1444.50 369.8,1444.60 370.8,1444.77 371.8,1445.00 372.8,1445.29 373.8,1445.64 374.8,1446.04 375.8,1446.49 376.8,1446.98 377.8,1447.51 378.8,1448.08 379.8,1448.67 380.8,1449.28 381.8,1449.91 382.8,1450.55 383.8,1451.19 384.8,1451.83 385.8,1452.47 386.8,1453.10 387.8,1453.72 388.8,1454.32 389.8,1454.92 390.8,1455.51 391.8,1456.10 392.8,1456.68 393.8,1457.27 394.8,1457.87 395.8,1458.47 396.8,1459.08 397.8,1459.69 398.8,1460.31 399.8,1460.92 400.8,1461.53 401.8,1462.13 402.8,1462.73 403.8,1463.31 404.8,1463.88 405.8,1464.43 406.8,1464.97 407.8,1465.48 408.8,1465.98 409.8,1466.46 410.8,1466.92 411.8,1467.37 412.8,1467.81 413.8,1468.24 414.8,1468.67 415.8,1469.08 416.8,1469.49 417.8,1469.87 418.8,1470.24 419.8,1470.58 420.8,1470.89 421.8,1471.17 422.8,1471.40 423.8,1471.58 424.8,1471.72 425.8,1471.80 426.8,1471.84 427.8,1471.82 428.8,1471.76 429.8,1471.65 430.8,1471.51 431.8,1471.32 432.8,1471.11 433.8,1470.86 434.8,1470.59 435.8,1470.29 436.8,1469.97 437.8,1469.63 438.8,1469.25 439.8,1468.83 440.8,1468.38 441.8,1467.88 442.8,1467.33 443.8,1466.75 444.8,1466.14 445.8,1465.51 446.8,1464.87 447.8,1464.22 448.8,1463.59 449.8,1462.95 450.8,1462.32 451.8,1461.68 452.8,1461.05 453.8,1460.40 454.8,1459.75 455.8,1459.09 456.8,1458.43 457.8,1457.76 458.8,1457.08 459.8,1456.41 460.8,1455.73 461.8,1455.06 462.8,1454.39 463.8,1453.73 464.8,1453.08 465.8,1452.44 466.8,1451.81 467.8,1451.19 468.8,1450.60 469.8,1450.02 470.8,1449.46 471.8,1448.93 472.8,1448.42 473.8,1447.94 474.8,1447.49 475.8,1447.07 476.8,1446.68 477.8,1446.33 478.8,1446.02 479.8,1445.74 480.8,1445.51 481.8,1445.32 482.8,1445.17 483.8,1445.07 484.8,1445.02 485.8,1445.00 486.8,1445.03 487.8,1445.10 488.8,1445.22 489.8,1445.36 490.8,1445.55 491.8,1445.76 492.8,1446.01 493.8,1446.28 494.8,1446.58 495.8,1446.91 496.8,1447.26 497.8,1447.63 498.8,1448.01 499.8,1448.41 500.8,1448.83 501.8,1449.26 502.8,1449.70 503.8,1450.14 504.8,1450.59 505.8,1451.05 506.8,1451.50 507.8,1451.96 508.8,1452.41 509.8,1452.86 510.8,1453.31 511.8,1453.75 512.8,1454.18 513.8,1454.61 514.8,1455.05 515.8,1455.49 516.8,1455.94 517.8,1456.40 518.8,1456.88 519.8,1457.38 520.8,1457.89 521.8,1458.40 522.8,1458.91 523.8,1459.42 524.8,1459.91 525.8,1460.38 526.8,1460.82 527.8,1461.22 528.8,1461.57 529.8,1461.87 530.8,1462.10 531.8,1462.26 532.8,1462.34 533.8,1462.34 534.8,1462.24 535.8,1462.04 536.8,1461.74 537.8,1461.35 538.8,1460.85 539.8,1460.26 540.8,1459.57 541.8,1458.79 542.8,1457.93 543.8,1456.98 544.8,1455.95 545.8,1454.84 546.8,1453.66 547.8,1452.42 548.8,1451.11 549.8,1449.73 550.8,1448.30 551.8,1446.81 552.8,1445.26 553.8,1443.64 554.8,1441.94 555.8,1440.13 556.8,1438.17 557.8,1436.03 558.8,1433.64 559.8,1430.97 560.8,1427.98 561.8,1424.65 562.8,1421.00 563.8,1417.03 564.8,1412.79 565.8,1408.30 566.8,1403.63 567.8,1398.81 568.8,1393.89 569.8,1388.93 570.8,1383.97 571.8,1379.06 572.8,1374.24 573.8,1369.53 574.8,1364.95 575.8,1360.52 576.8,1356.23 577.8,1352.06 578.8,1347.99 579.8,1344.01 580.8,1340.09 581.8,1336.22 582.8,1332.39 583.8,1328.59 584.8,1324.82 585.8,1321.08 586.8,1317.37 587.8,1313.68 588.8,1310.01 589.8,1306.37 590.8,1302.74 591.8,1299.14 592.8,1295.54 593.8,1291.96 594.8,1288.37 595.8,1284.78 596.8,1281.17 597.8,1277.53 598.8,1273.85 599.8,1270.13 600.8,1266.37 601.8,1262.59 602.8,1258.79 603.8,1255.00 604.8,1251.23 605.8,1247.49 606.8,1243.82 607.8,1240.23 608.8,1236.74 609.8,1233.38 610.8,1230.15 611.8,1227.10 612.8,1224.22 613.8,1221.53 614.8,1219.03 615.8,1216.74 616.8,1214.62 617.8,1212.66 618.8,1210.84 619.8,1209.12 620.8,1207.48 621.8,1205.90 622.8,1204.37 623.8,1202.88 624.8,1201.42 625.8,1199.99 626.8,1198.60 627.8,1197.24 628.8,1195.92 629.8,1194.65 630.8,1193.41 631.8,1192.23 632.8,1191.09 633.8,1190.00 634.8,1188.97 635.8,1188.00 636.8,1187.08 637.8,1186.23 638.8,1185.44 639.8,1184.72 640.8,1184.07 641.8,1183.50 642.8,1182.99 643.8,1182.57 644.8,1182.22 645.8,1181.94 646.8,1181.73 647.8,1181.58 648.8,1181.49 649.8,1181.44 650.8,1181.43 651.8,1181.45 652.8,1181.49 653.8,1181.54 654.8,1181.61 655.8,1181.70 656.8,1181.79 657.8,1181.90 658.8,1182.01 659.8,1182.14 660.8,1182.27 661.8,1182.42 662.8,1182.57 663.8,1182.74 664.8,1182.91 665.8,1183.09 666.8,1183.28 667.8,1183.48 668.8,1183.68 669.8,1183.89 670.8,1184.11 671.8,1184.34 672.8,1184.57 673.8,1184.81 674.8,1185.05 675.8,1185.31 676.8,1185.57 677.8,1185.85 678.8,1186.15 679.8,1186.47 680.8,1186.82 681.8,1187.21 682.8,1187.63 683.8,1188.10 684.8,1188.61 685.8,1189.16 686.8,1189.76 687.8,1190.40 688.8,1191.08 689.8,1191.80 690.8,1192.56 691.8,1193.36 692.8,1194.19 693.8,1195.05 694.8,1195.95 695.8,1196.88 696.8,1197.83 697.8,1198.81 698.8,1199.82 699.8,1200.86 700.8,1201.93 701.8,1203.04 702.8,1204.20 703.8,1205.40 704.8,1206.68 705.8,1208.03 706.8,1209.46 707.8,1210.97 708.8,1212.58 709.8,1214.26 710.8,1216.04 711.8,1217.89 712.8,1219.81 713.8,1221.80 714.8,1223.85 715.8,1225.96 716.8,1228.11 717.8,1230.32 718.8,1232.56 719.8,1234.83 720.8,1237.13 721.8,1239.46 722.8,1241.80 723.8,1244.17 724.8,1246.55 725.8,1248.96 726.8,1251.41 727.8,1253.89 728.8,1256.43 729.8,1259.01 730.8,1261.65 731.8,1264.33 732.8,1267.02 733.8,1269.72 734.8,1272.40 735.8,1275.04 736.8,1277.62 737.8,1280.13 738.8,1282.58 739.8,1284.97 740.8,1287.31 741.8,1289.61 742.8,1291.88 743.8,1294.15 744.8,1296.42 745.8,1298.70 746.8,1301.01 747.8,1303.35 748.8,1305.73 749.8,1308.13 750.8,1310.57 751.8,1313.02 752.8,1315.49 753.8,1317.96 754.8,1320.43 755.8,1322.88 756.8,1325.32 757.8,1327.73 758.8,1330.12 759.8,1332.49 760.8,1334.83 761.8,1337.15 762.8,1339.46 763.8,1341.76 764.8,1344.06 765.8,1346.37 766.8,1348.68 767.8,1351.01 768.8,1353.36 769.8,1355.72 770.8,1358.10 771.8,1360.50 772.8,1362.90 773.8,1365.29 774.8,1367.66 775.8,1370.00 776.8,1372.30 777.8,1374.56 778.8,1376.76 779.8,1378.91 780.8,1381.00 781.8,1383.05 782.8,1385.06 783.8,1387.02 784.8,1388.95 785.8,1390.85 786.8,1392.73 787.8,1394.58 788.8,1396.40 789.8,1398.21 790.8,1400.00 791.8,1401.77 792.8,1403.52 793.8,1405.26 794.8,1406.98 795.8,1408.67 796.8,1410.35 797.8,1412.00 798.8,1413.62 799.8,1415.21 800.8,1416.78 801.8,1418.31 802.8,1419.81 803.8,1421.28 804.8,1422.72 805.8,1424.12 806.8,1425.51 807.8,1426.87 808.8,1428.21 809.8,1429.54 810.8,1430.87 811.8,1432.19 812.8,1433.52 813.8,1434.85 814.8,1436.19 815.8,1437.54 816.8,1438.90 817.8,1440.26 818.8,1441.62 819.8,1442.99 820.8,1444.34 821.8,1445.69 822.8,1447.03 823.8,1448.35 824.8,1449.66 825.8,1450.94 826.8,1452.21 827.8,1453.46 828.8,1454.69 829.8,1455.90 830.8,1457.09 831.8,1458.27 832.8,1459.43 833.8,1460.56 834.8,1461.67 835.8,1462.75 836.8,1463.80 837.8,1464.83 838.8,1465.83 839.8,1466.80 840.8,1467.75 841.8,1468.67 842.8,1469.57 843.8,1470.45 844.8,1471.31 845.8,1472.14 846.8,1472.96 847.8,1473.75 848.8,1474.53 849.8,1475.29 850.8,1476.03 851.8,1476.76 852.8,1477.47 853.8,1478.16 854.8,1478.84 855.8,1479.50 856.8,1480.15 857.8,1480.77 858.8,1481.37 859.8,1481.96 860.8,1482.51 861.8,1483.05 862.8,1483.55 863.8,1484.04 864.8,1484.50 865.8,1484.95 866.8,1485.37 867.8,1485.78 868.8,1486.16 869.8,1486.53 870.8,1486.89 871.8,1487.22 872.8,1487.55 873.8,1487.86 874.8,1488.16 875.8,1488.45 876.8,1488.73 877.8,1488.99 878.8,1489.24 879.8,1489.47 880.8,1489.69 881.8,1489.88 882.8,1490.05 883.8,1490.20 884.8,1490.34 885.8,1490.45 886.8,1490.56 887.8,1490.65 888.8,1490.74 889.8,1490.81 890.8,1490.89 891.8,1490.95 892.8,1491.02 893.8,1491.07 894.8,1491.12 895.8,1491.16 896.8,1491.20 897.8,1491.23 898.8,1491.25 899.8,1491.27 900.8,1491.28 901.8,1491.28 902.8,1491.29 903.8,1491.28 904.8,1491.28 905.8,1491.28 906.8,1491.27 907.8,1491.26 908.8,1491.25 909.8,1491.24 910.8,1491.22 911.8,1491.21 912.8,1491.19 913.8,1491.18 914.8,1491.16 915.8,1491.14 916.8,1491.12 917.8,1491.10 918.8,1491.07 919.8,1491.05 920.8,1491.02 921.8,1490.99 922.8,1490.96 923.8,1490.94 924.8,1490.90 925.8,1490.87 926.8,1490.84 927.8,1490.80 928.8,1490.77 929.8,1490.73 930.8,1490.69 931.8,1490.65 932.8,1490.61 933.8,1490.57 934.8,1490.52 935.8,1490.48 936.8,1490.43 937.8,1490.39 938.8,1490.34 939.8,1490.29 940.8,1490.23 941.8,1490.18 942.8,1490.12 943.8,1490.05 944.8,1489.97 945.8,1489.88 946.8,1489.77 947.8,1489.66 948.8,1489.52 949.8,1489.37 950.8,1489.20 951.8,1489.02 952.8,1488.82 953.8,1488.60 954.8,1488.37 955.8,1488.12 956.8,1487.87 957.8,1487.60 958.8,1487.32 959.8,1487.02 960.8,1486.72 961.8,1486.41 962.8,1486.09 963.8,1485.76 964.8,1485.42 965.8,1485.07 966.8,1484.71 967.8,1484.33 968.8,1483.94 969.8,1483.52 970.8,1483.08 971.8,1482.61 972.8,1482.10 973.8,1481.55 974.8,1480.98 975.8,1480.36 976.8,1479.72 977.8,1479.05 978.8,1478.35 979.8,1477.63 980.8,1476.89 981.8,1476.14 982.8,1475.37 983.8,1474.59 984.8,1473.81 985.8,1473.02 986.8,1472.23 987.8,1471.44 988.8,1470.66 989.8,1469.89 990.8,1469.12 991.8,1468.37 992.8,1467.62 993.8,1466.88 994.8,1466.14 995.8,1465.39 996.8,1464.65 997.8,1463.89 998.8,1463.13 999.8,1462.36 1000.8,1461.58 1001.8,1460.79 1002.8,1460.00 1003.8,1459.21 1004.8,1458.43 1005.8,1457.65 1006.8,1456.87 1007.8,1456.11 1008.8,1455.37 1009.8,1454.64 1010.8,1453.93 1011.8,1453.24 1012.8,1452.59 1013.8,1451.96 1014.8,1451.36 1015.8,1450.79 1016.8,1450.27 1017.8,1449.77 1018.8,1449.31 1019.8,1448.88 1020.8,1448.48 1021.8,1448.10 1022.8,1447.74 1023.8,1447.39 1024.8,1447.06 1025.8,1446.73 1026.8,1446.41 1027.8,1446.10 1028.8,1445.80 1029.8,1445.50 1030.8,1445.22 1031.8,1444.96 1032.8,1444.70 1033.8,1444.46 1034.8,1444.23 1035.8,1444.02 1036.8,1443.83 1037.8,1443.66 1038.8,1443.51 1039.8,1443.39 1040.8,1443.29 1041.8,1443.21" fill="none" stroke="#6b8e23" stroke-width="3" stroke-linejoin="round"/><path d="M177.8,1491.30 178.8,1491.30 179.8,1491.30 180.8,1491.30 181.8,1491.30 182.8,1491.30 183.8,1491.30 184.8,1491.30 185.8,1491.30 186.8,1491.30 187.8,1491.30 188.8,1491.30 189.8,1491.30 190.8,1491.30 191.8,1491.30 192.8,1491.30 193.8,1491.30 194.8,1491.30 195.8,1491.30 196.8,1491.30 197.8,1491.30 198.8,1491.30 199.8,1491.30 200.8,1491.30 201.8,1491.30 202.8,1491.30 203.8,1491.30 204.8,1491.30 205.8,1491.30 206.8,1491.30 207.8,1491.30 208.8,1491.30 209.8,1491.30 210.8,1491.30 211.8,1491.30 212.8,1491.30 213.8,1491.30 214.8,1491.30 215.8,1491.30 216.8,1491.30 217.8,1491.30 218.8,1491.30 219.8,1491.30 220.8,1491.30 221.8,1491.30 222.8,1491.30 223.8,1491.30 224.8,1491.30 225.8,1491.30 226.8,1491.30 227.8,1491.30 228.8,1491.30 229.8,1491.30 230.8,1491.30 231.8,1491.30 232.8,1491.30 233.8,1491.30 234.8,1491.30 235.8,1491.30 236.8,1491.30 237.8,1491.30 238.8,1491.30 239.8,1491.30 240.8,1491.30 241.8,1491.30 242.8,1491.30 243.8,1491.30 244.8,1491.30 245.8,1491.30 246.8,1491.30 247.8,1491.30 248.8,1491.30 249.8,1491.30 250.8,1491.30 251.8,1491.30 252.8,1491.30 253.8,1491.30 254.8,1491.30 255.8,1491.30 256.8,1491.29 257.8,1491.29 258.8,1491.28 259.8,1491.26 260.8,1491.24 261.8,1491.21 262.8,1491.17 263.8,1491.13 264.8,1491.07 265.8,1491.01 266.8,1490.93 267.8,1490.85 268.8,1490.76 269.8,1490.66 270.8,1490.55 271.8,1490.43 272.8,1490.29 273.8,1490.14 274.8,1489.95 275.8,1489.73 276.8,1489.46 277.8,1489.16 278.8,1488.80 279.8,1488.39 280.8,1487.95 281.8,1487.46 282.8,1486.94 283.8,1486.38 284.8,1485.81 285.8,1485.22 286.8,1484.60 287.8,1483.97 288.8,1483.31 289.8,1482.64 290.8,1481.93 291.8,1481.20 292.8,1480.44 293.8,1479.65 294.8,1478.82 295.8,1477.96 296.8,1477.06 297.8,1476.12 298.8,1475.14 299.8,1474.11 300.8,1473.04 301.8,1471.91 302.8,1470.70 303.8,1469.42 304.8,1468.03 305.8,1466.53 306.8,1464.92 307.8,1463.19 308.8,1461.36 309.8,1459.44 310.8,1457.45 311.8,1455.42 312.8,1453.38 313.8,1451.36 314.8,1449.37 315.8,1447.43 316.8,1445.55 317.8,1443.72 318.8,1441.94 319.8,1440.19 320.8,1438.47 321.8,1436.76 322.8,1435.06 323.8,1433.39 324.8,1431.74 325.8,1430.14 326.8,1428.60 327.8,1427.14 328.8,1425.77 329.8,1424.52 330.8,1423.41 331.8,1422.45 332.8,1421.65 333.8,1421.03 334.8,1420.61 335.8,1420.38 336.8,1420.36 337.8,1420.52 338.8,1420.88 339.8,1421.42 340.8,1422.11 341.8,1422.95 342.8,1423.91 343.8,1424.98 344.8,1426.14 345.8,1427.37 346.8,1428.66 347.8,1430.00 348.8,1431.38 349.8,1432.80 350.8,1434.27 351.8,1435.80 352.8,1437.40 353.8,1439.07 354.8,1440.82 355.8,1442.63 356.8,1444.51 357.8,1446.43 358.8,1448.39 359.8,1450.36 360.8,1452.35 361.8,1454.35 362.8,1456.35 363.8,1458.35 364.8,1460.36 365.8,1462.36 366.8,1464.34 367.8,1466.28 368.8,1468.16 369.8,1469.97 370.8,1471.66 371.8,1473.25 372.8,1474.71 373.8,1476.06 374.8,1477.30 375.8,1478.46 376.8,1479.53 377.8,1480.53 378.8,1481.48 379.8,1482.37 380.8,1483.21 381.8,1483.99 382.8,1484.73 383.8,1485.42 384.8,1486.06 385.8,1486.67 386.8,1487.23 387.8,1487.76 388.8,1488.25 389.8,1488.71 390.8,1489.14 391.8,1489.53 392.8,1489.87 393.8,1490.17 394.8,1490.42 395.8,1490.62 396.8,1490.77 397.8,1490.88 398.8,1490.96 399.8,1491.02 400.8,1491.06 401.8,1491.09 402.8,1491.12 403.8,1491.14 404.8,1491.16 405.8,1491.17 406.8,1491.19 407.8,1491.20 408.8,1491.22 409.8,1491.23 410.8,1491.24 411.8,1491.25 412.8,1491.26 413.8,1491.27 414.8,1491.27 415.8,1491.28 416.8,1491.28 417.8,1491.29 418.8,1491.29 419.8,1491.29 420.8,1491.30 421.8,1491.30 422.8,1491.30 423.8,1491.30 424.8,1491.30 425.8,1491.30 426.8,1491.30 427.8,1491.30 428.8,1491.30 429.8,1491.30 430.8,1491.30 431.8,1491.30 432.8,1491.30 433.8,1491.30 434.8,1491.30 435.8,1491.30 436.8,1491.30 437.8,1491.30 438.8,1491.30 439.8,1491.30 440.8,1491.30 441.8,1491.30 442.8,1491.30 443.8,1491.30 444.8,1491.30 445.8,1491.30 446.8,1491.30 447.8,1491.30 448.8,1491.30 449.8,1491.30 450.8,1491.30 451.8,1491.30 452.8,1491.30 453.8,1491.30 454.8,1491.30 455.8,1491.30 456.8,1491.30 457.8,1491.30 458.8,1491.30 459.8,1491.30 460.8,1491.30 461.8,1491.30 462.8,1491.30 463.8,1491.30 464.8,1491.30 465.8,1491.30 466.8,1491.30 467.8,1491.30 468.8,1491.30 469.8,1491.30 470.8,1491.30 471.8,1491.30 472.8,1491.30 473.8,1491.30 474.8,1491.30 475.8,1491.30 476.8,1491.30 477.8,1491.30 478.8,1491.30 479.8,1491.30 480.8,1491.30 481.8,1491.30 482.8,1491.30 483.8,1491.30 484.8,1491.30 485.8,1491.30 486.8,1491.29 487.8,1491.29 488.8,1491.28 489.8,1491.26 490.8,1491.25 491.8,1491.23 492.8,1491.20 493.8,1491.17 494.8,1491.14 495.8,1491.10 496.8,1491.06 497.8,1491.01 498.8,1490.96 499.8,1490.90 500.8,1490.83 501.8,1490.76 502.8,1490.66 503.8,1490.55 504.8,1490.42 505.8,1490.26 506.8,1490.06 507.8,1489.83 508.8,1489.57 509.8,1489.26 510.8,1488.91 511.8,1488.51 512.8,1488.05 513.8,1487.51 514.8,1486.87 515.8,1486.12 516.8,1485.21 517.8,1484.13 518.8,1482.87 519.8,1481.41 520.8,1479.76 521.8,1477.92 522.8,1475.89 523.8,1473.71 524.8,1471.37 525.8,1468.88 526.8,1466.25 527.8,1463.47 528.8,1460.52 529.8,1457.36 530.8,1453.96 531.8,1450.28 532.8,1446.30 533.8,1442.02 534.8,1437.45 535.8,1432.66 536.8,1427.73 537.8,1422.73 538.8,1417.75 539.8,1412.88 540.8,1408.17 541.8,1403.66 542.8,1399.36 543.8,1395.27 544.8,1391.36 545.8,1387.60 546.8,1383.96 547.8,1380.43 548.8,1377.01 549.8,1373.68 550.8,1370.47 551.8,1367.37 552.8,1364.39 553.8,1361.55 554.8,1358.87 555.8,1356.34 556.8,1353.97 557.8,1351.78 558.8,1349.76 559.8,1347.91 560.8,1346.23 561.8,1344.71 562.8,1343.35 563.8,1342.14 564.8,1341.07 565.8,1340.14 566.8,1339.34 567.8,1338.64 568.8,1338.04 569.8,1337.51 570.8,1337.04 571.8,1336.60 572.8,1336.17 573.8,1335.73 574.8,1335.26 575.8,1334.72 576.8,1334.09 577.8,1333.33 578.8,1332.38 579.8,1331.21 580.8,1329.76 581.8,1328.01 582.8,1325.93 583.8,1323.51 584.8,1320.77 585.8,1317.72 586.8,1314.42 587.8,1310.88 588.8,1307.15 589.8,1303.28 590.8,1299.28 591.8,1295.18 592.8,1290.99 593.8,1286.71 594.8,1282.32 595.8,1277.81 596.8,1273.15 597.8,1268.33 598.8,1263.33 599.8,1258.14 600.8,1252.75 601.8,1247.14 602.8,1241.30 603.8,1235.22 604.8,1228.88 605.8,1222.25 606.8,1215.27 607.8,1207.89 608.8,1200.04 609.8,1191.66 610.8,1182.68 611.8,1173.09 612.8,1162.88 613.8,1152.10 614.8,1140.83 615.8,1129.16 616.8,1117.20 617.8,1105.09 618.8,1092.96 619.8,1080.92 620.8,1069.10 621.8,1057.60 622.8,1046.52 623.8,1035.91 624.8,1025.82 625.8,1016.26 626.8,1007.23 627.8,998.74 628.8,990.80 629.8,983.42 630.8,976.60 631.8,970.34 632.8,964.62 633.8,959.37 634.8,954.53 635.8,950.04 636.8,945.84 637.8,941.89 638.8,938.19 639.8,934.74 640.8,931.56 641.8,928.69 642.8,926.15 643.8,923.99 644.8,922.24 645.8,920.94 646.8,920.12 647.8,919.83 648.8,920.08 649.8,920.89 650.8,922.24 651.8,924.12 652.8,926.49 653.8,929.29 654.8,932.46 655.8,935.93 656.8,939.65 657.8,943.54 658.8,947.58 659.8,951.71 660.8,955.94 661.8,960.27 662.8,964.72 663.8,969.31 664.8,974.08 665.8,979.04 666.8,984.23 667.8,989.65 668.8,995.32 669.8,1001.27 670.8,1007.51 671.8,1014.08 672.8,1021.04 673.8,1028.41 674.8,1036.26 675.8,1044.61 676.8,1053.45 677.8,1062.75 678.8,1072.45 679.8,1082.47 680.8,1092.69 681.8,1103.01 682.8,1113.32 683.8,1123.54 684.8,1133.60 685.8,1143.48 686.8,1153.16 687.8,1162.65 688.8,1171.94 689.8,1181.02 690.8,1189.87 691.8,1198.44 692.8,1206.68 693.8,1214.54 694.8,1221.99 695.8,1229.01 696.8,1235.62 697.8,1241.86 698.8,1247.78 699.8,1253.41 700.8,1258.80 701.8,1263.98 702.8,1268.94 703.8,1273.70 704.8,1278.25 705.8,1282.57 706.8,1286.65 707.8,1290.47 708.8,1294.03 709.8,1297.30 710.8,1300.28 711.8,1302.97 712.8,1305.38 713.8,1307.52 714.8,1309.43 715.8,1311.14 716.8,1312.72 717.8,1314.20 718.8,1315.64 719.8,1317.07 720.8,1318.53 721.8,1320.02 722.8,1321.56 723.8,1323.14 724.8,1324.74 725.8,1326.37 726.8,1328.01 727.8,1329.65 728.8,1331.29 729.8,1332.92 730.8,1334.55 731.8,1336.19 732.8,1337.83 733.8,1339.51 734.8,1341.22 735.8,1342.99 736.8,1344.84 737.8,1346.77 738.8,1348.80 739.8,1350.94 740.8,1353.18 741.8,1355.51 742.8,1357.93 743.8,1360.43 744.8,1363.00 745.8,1365.63 746.8,1368.34 747.8,1371.16 748.8,1374.10 749.8,1377.22 750.8,1380.55 751.8,1384.12 752.8,1387.94 753.8,1392.00 754.8,1396.24 755.8,1400.61 756.8,1405.02 757.8,1409.42 758.8,1413.74 759.8,1417.96 760.8,1422.05 761.8,1425.99 762.8,1429.77 763.8,1433.39 764.8,1436.86 765.8,1440.18 766.8,1443.35 767.8,1446.39 768.8,1449.31 769.8,1452.11 770.8,1454.81 771.8,1457.40 772.8,1459.89 773.8,1462.27 774.8,1464.54 775.8,1466.70 776.8,1468.75 777.8,1470.69 778.8,1472.52 779.8,1474.24 780.8,1475.85 781.8,1477.35 782.8,1478.72 783.8,1479.96 784.8,1481.07 785.8,1482.03 786.8,1482.87 787.8,1483.60 788.8,1484.22 789.8,1484.77 790.8,1485.26 791.8,1485.69 792.8,1486.09 793.8,1486.45 794.8,1486.80 795.8,1487.12 796.8,1487.42 797.8,1487.72 798.8,1488.00 799.8,1488.29 800.8,1488.57 801.8,1488.84 802.8,1489.12 803.8,1489.40 804.8,1489.66 805.8,1489.92 806.8,1490.17 807.8,1490.39 808.8,1490.60 809.8,1490.78 810.8,1490.92 811.8,1491.04 812.8,1491.13 813.8,1491.20 814.8,1491.24 815.8,1491.27 816.8,1491.28 817.8,1491.29 818.8,1491.30 819.8,1491.30 820.8,1491.30 821.8,1491.30 822.8,1491.30 823.8,1491.30 824.8,1491.30 825.8,1491.30 826.8,1491.30 827.8,1491.30 828.8,1491.30 829.8,1491.30 830.8,1491.30 831.8,1491.30 832.8,1491.30 833.8,1491.30 834.8,1491.30 835.8,1491.30 836.8,1491.30 837.8,1491.30 838.8,1491.30 839.8,1491.30 840.8,1491.30 841.8,1491.30 842.8,1491.30 843.8,1491.30 844.8,1491.30 845.8,1491.30 846.8,1491.30 847.8,1491.30 848.8,1491.30 849.8,1491.30 850.8,1491.30 851.8,1491.30 852.8,1491.30 853.8,1491.30 854.8,1491.30 855.8,1491.30 856.8,1491.30 857.8,1491.30 858.8,1491.30 859.8,1491.30 860.8,1491.30 861.8,1491.30 862.8,1491.30 863.8,1491.30 864.8,1491.30 865.8,1491.30 866.8,1491.30 867.8,1491.30 868.8,1491.30 869.8,1491.30 870.8,1491.30 871.8,1491.30 872.8,1491.30 873.8,1491.30 874.8,1491.30 875.8,1491.30 876.8,1491.30 877.8,1491.30 878.8,1491.30 879.8,1491.30 880.8,1491.30 881.8,1491.30 882.8,1491.30 883.8,1491.30 884.8,1491.30 885.8,1491.30 886.8,1491.30 887.8,1491.30 888.8,1491.30 889.8,1491.30 890.8,1491.30 891.8,1491.30 892.8,1491.30 893.8,1491.30 894.8,1491.30 895.8,1491.30 896.8,1491.30 897.8,1491.30 898.8,1491.30 899.8,1491.30 900.8,1491.30 901.8,1491.30 902.8,1491.30 903.8,1491.30 904.8,1491.30 905.8,1491.30 906.8,1491.30 907.8,1491.30 908.8,1491.30 909.8,1491.30 910.8,1491.30 911.8,1491.30 912.8,1491.30 913.8,1491.30 914.8,1491.30 915.8,1491.30 916.8,1491.30 917.8,1491.30 918.8,1491.30 919.8,1491.30 920.8,1491.30 921.8,1491.30 922.8,1491.30 923.8,1491.30 924.8,1491.30 925.8,1491.30 926.8,1491.30 927.8,1491.30 928.8,1491.30 929.8,1491.30 930.8,1491.30 931.8,1491.30 932.8,1491.30 933.8,1491.30 934.8,1491.30 935.8,1491.30 936.8,1491.30 937.8,1491.30 938.8,1491.30 939.8,1491.30 940.8,1491.30 941.8,1491.30 942.8,1491.30 943.8,1491.30 944.8,1491.30 945.8,1491.30 946.8,1491.30 947.8,1491.30 948.8,1491.30 949.8,1491.30 950.8,1491.30 951.8,1491.30 952.8,1491.30 953.8,1491.30 954.8,1491.30 955.8,1491.30 956.8,1491.30 957.8,1491.30 958.8,1491.30 959.8,1491.30 960.8,1491.30 961.8,1491.30 962.8,1491.30 963.8,1491.30 964.8,1491.30 965.8,1491.30 966.8,1491.30 967.8,1491.30 968.8,1491.30 969.8,1491.30 970.8,1491.30 971.8,1491.30 972.8,1491.30 973.8,1491.30 974.8,1491.30 975.8,1491.30 976.8,1491.30 977.8,1491.30 978.8,1491.30 979.8,1491.30 980.8,1491.30 981.8,1491.30 982.8,1491.30 983.8,1491.30 984.8,1491.30 985.8,1491.30 986.8,1491.30 987.8,1491.30 988.8,1491.30 989.8,1491.30 990.8,1491.30 991.8,1491.30 992.8,1491.30 993.8,1491.30 994.8,1491.30 995.8,1491.30 996.8,1491.30 997.8,1491.30 998.8,1491.30 999.8,1491.30 1000.8,1491.30 1001.8,1491.30 1002.8,1491.30 1003.8,1491.30 1004.8,1491.30 1005.8,1491.30 1006.8,1491.30 1007.8,1491.30 1008.8,1491.30 1009.8,1491.30 1010.8,1491.30 1011.8,1491.30 1012.8,1491.30 1013.8,1491.30 1014.8,1491.30 1015.8,1491.30 1016.8,1491.30 1017.8,1491.30 1018.8,1491.30 1019.8,1491.30 1020.8,1491.30 1021.8,1491.30 1022.8,1491.30 1023.8,1491.30 1024.8,1491.30 1025.8,1491.30 1026.8,1491.30 1027.8,1491.30 1028.8,1491.30 1029.8,1491.30 1030.8,1491.30 1031.8,1491.30 1032.8,1491.30 1033.8,1491.30 1034.8,1491.30 1035.8,1491.30 1036.8,1491.30 1037.8,1491.30 1038.8,1491.30 1039.8,1491.30 1040.8,1491.30 1041.8,1491.30" fill="none" stroke="#3cb371" stroke-width="3" stroke-linejoin="round"/><path d="M177.8,1491.30 178.8,1491.30 179.8,1491.30 180.8,1491.30 181.8,1491.30 182.8,1491.30 183.8,1491.30 184.8,1491.30 185.8,1491.30 186.8,1491.30 187.8,1491.30 188.8,1491.30 189.8,1491.30 190.8,1491.30 191.8,1491.30 192.8,1491.30 193.8,1491.30 194.8,1491.30 195.8,1491.30 196.8,1491.30 197.8,1491.30 198.8,1491.30 199.8,1491.30 200.8,1491.30 201.8,1491.30 202.8,1491.30 203.8,1491.30 204.8,1491.30 205.8,1491.30 206.8,1491.30 207.8,1491.30 208.8,1491.30 209.8,1491.30 210.8,1491.30 211.8,1491.30 212.8,1491.30 213.8,1491.30 214.8,1491.30 215.8,1491.30 216.8,1491.30 217.8,1491.30 218.8,1491.30 219.8,1491.30 220.8,1491.30 221.8,1491.30 222.8,1491.30 223.8,1491.30 224.8,1491.30 225.8,1491.30 226.8,1491.30 227.8,1491.30 228.8,1491.30 229.8,1491.30 230.8,1491.30 231.8,1491.30 232.8,1491.30 233.8,1491.30 234.8,1491.30 235.8,1491.30 236.8,1491.30 237.8,1491.30 238.8,1491.30 239.8,1491.30 240.8,1491.30 241.8,1491.30 242.8,1491.30 243.8,1491.30 244.8,1491.30 245.8,1491.30 246.8,1491.30 247.8,1491.30 248.8,1491.30 249.8,1491.30 250.8,1491.30 251.8,1491.30 252.8,1491.30 253.8,1491.30 254.8,1491.30 255.8,1491.30 256.8,1491.30 257.8,1491.30 258.8,1491.30 259.8,1491.30 260.8,1491.30 261.8,1491.30 262.8,1491.30 263.8,1491.30 264.8,1491.30 265.8,1491.30 266.8,1491.30 267.8,1491.30 268.8,1491.30 269.8,1491.30 270.8,1491.30 271.8,1491.30 272.8,1491.30 273.8,1491.30 274.8,1491.30 275.8,1491.30 276.8,1491.30 277.8,1491.30 278.8,1491.30 279.8,1491.30 280.8,1491.30 281.8,1491.30 282.8,1491.30 283.8,1491.30 284.8,1491.30 285.8,1491.30 286.8,1491.30 287.8,1491.30 288.8,1491.30 289.8,1491.30 290.8,1491.30 291.8,1491.30 292.8,1491.30 293.8,1491.30 294.8,1491.30 295.8,1491.30 296.8,1491.30 297.8,1491.30 298.8,1491.30 299.8,1491.30 300.8,1491.30 301.8,1491.30 302.8,1491.30 303.8,1491.30 304.8,1491.30 305.8,1491.30 306.8,1491.30 307.8,1491.30 308.8,1491.30 309.8,1491.30 310.8,1491.30 311.8,1491.30 312.8,1491.30 313.8,1491.30 314.8,1491.30 315.8,1491.30 316.8,1491.30 317.8,1491.30 318.8,1491.30 319.8,1491.30 320.8,1491.30 321.8,1491.30 322.8,1491.30 323.8,1491.30 324.8,1491.30 325.8,1491.30 326.8,1491.29 327.8,1491.29 328.8,1491.28 329.8,1491.26 330.8,1491.23 331.8,1491.20 332.8,1491.15 333.8,1491.10 334.8,1491.03 335.8,1490.95 336.8,1490.86 337.8,1490.75 338.8,1490.64 339.8,1490.53 340.8,1490.40 341.8,1490.27 342.8,1490.13 343.8,1489.98 344.8,1489.83 345.8,1489.68 346.8,1489.52 347.8,1489.35 348.8,1489.17 349.8,1488.98 350.8,1488.78 351.8,1488.57 352.8,1488.34 353.8,1488.10 354.8,1487.84 355.8,1487.57 356.8,1487.29 357.8,1486.99 358.8,1486.67 359.8,1486.35 360.8,1486.01 361.8,1485.65 362.8,1485.28 363.8,1484.90 364.8,1484.51 365.8,1484.10 366.8,1483.68 367.8,1483.24 368.8,1482.79 369.8,1482.32 370.8,1481.84 371.8,1481.32 372.8,1480.78 373.8,1480.19 374.8,1479.57 375.8,1478.89 376.8,1478.17 377.8,1477.39 378.8,1476.57 379.8,1475.70 380.8,1474.80 381.8,1473.86 382.8,1472.90 383.8,1471.92 384.8,1470.92 385.8,1469.92 386.8,1468.92 387.8,1467.91 388.8,1466.90 389.8,1465.88 390.8,1464.86 391.8,1463.82 392.8,1462.77 393.8,1461.71 394.8,1460.64 395.8,1459.57 396.8,1458.50 397.8,1457.46 398.8,1456.44 399.8,1455.47 400.8,1454.54 401.8,1453.68 402.8,1452.87 403.8,1452.12 404.8,1451.42 405.8,1450.76 406.8,1450.14 407.8,1449.55 408.8,1448.99 409.8,1448.46 410.8,1447.97 411.8,1447.50 412.8,1447.09 413.8,1446.72 414.8,1446.40 415.8,1446.15 416.8,1445.97 417.8,1445.86 418.8,1445.84 419.8,1445.91 420.8,1446.07 421.8,1446.31 422.8,1446.64 423.8,1447.05 424.8,1447.54 425.8,1448.09 426.8,1448.69 427.8,1449.34 428.8,1450.02 429.8,1450.73 430.8,1451.47 431.8,1452.22 432.8,1453.00 433.8,1453.80 434.8,1454.64 435.8,1455.50 436.8,1456.41 437.8,1457.36 438.8,1458.35 439.8,1459.37 440.8,1460.43 441.8,1461.51 442.8,1462.61 443.8,1463.73 444.8,1464.86 445.8,1465.99 446.8,1467.13 447.8,1468.26 448.8,1469.40 449.8,1470.53 450.8,1471.65 451.8,1472.75 452.8,1473.83 453.8,1474.88 454.8,1475.88 455.8,1476.84 456.8,1477.76 457.8,1478.65 458.8,1479.49 459.8,1480.31 460.8,1481.09 461.8,1481.85 462.8,1482.57 463.8,1483.26 464.8,1483.92 465.8,1484.54 466.8,1485.12 467.8,1485.67 468.8,1486.18 469.8,1486.65 470.8,1487.10 471.8,1487.53 472.8,1487.94 473.8,1488.33 474.8,1488.70 475.8,1489.05 476.8,1489.39 477.8,1489.70 478.8,1489.98 479.8,1490.23 480.8,1490.45 481.8,1490.63 482.8,1490.78 483.8,1490.89 484.8,1490.98 485.8,1491.03 486.8,1491.07 487.8,1491.09 488.8,1491.10 489.8,1491.11 490.8,1491.11 491.8,1491.11 492.8,1491.11 493.8,1491.10 494.8,1491.09 495.8,1491.07 496.8,1491.03 497.8,1490.97 498.8,1490.87 499.8,1490.72 500.8,1490.52 501.8,1490.27 502.8,1489.95 503.8,1489.58 504.8,1489.14 505.8,1488.65 506.8,1488.10 507.8,1487.50 508.8,1486.85 509.8,1486.16 510.8,1485.41 511.8,1484.61 512.8,1483.73 513.8,1482.77 514.8,1481.70 515.8,1480.49 516.8,1479.14 517.8,1477.61 518.8,1475.92 519.8,1474.06 520.8,1472.03 521.8,1469.85 522.8,1467.54 523.8,1465.10 524.8,1462.56 525.8,1459.93 526.8,1457.21 527.8,1454.41 528.8,1451.53 529.8,1448.55 530.8,1445.46 531.8,1442.24 532.8,1438.88 533.8,1435.37 534.8,1431.73 535.8,1427.97 536.8,1424.12 537.8,1420.22 538.8,1416.31 539.8,1412.42 540.8,1408.57 541.8,1404.79 542.8,1401.06 543.8,1397.39 544.8,1393.77 545.8,1390.18 546.8,1386.63 547.8,1383.11 548.8,1379.63 549.8,1376.19 550.8,1372.80 551.8,1369.50 552.8,1366.28 553.8,1363.16 554.8,1360.17 555.8,1357.31 556.8,1354.61 557.8,1352.07 558.8,1349.70 559.8,1347.49 560.8,1345.42 561.8,1343.47 562.8,1341.58 563.8,1339.69 564.8,1337.76 565.8,1335.72 566.8,1333.53 567.8,1331.18 568.8,1328.66 569.8,1325.96 570.8,1323.09 571.8,1320.08 572.8,1316.93 573.8,1313.67 574.8,1310.32 575.8,1306.89 576.8,1303.40 577.8,1299.87 578.8,1296.32 579.8,1292.76 580.8,1289.20 581.8,1285.65 582.8,1282.13 583.8,1278.62 584.8,1275.14 585.8,1271.66 586.8,1268.19 587.8,1264.71 588.8,1261.21 589.8,1257.68 590.8,1254.10 591.8,1250.46 592.8,1246.74 593.8,1242.94 594.8,1239.03 595.8,1234.99 596.8,1230.81 597.8,1226.45 598.8,1221.89 599.8,1217.15 600.8,1212.23 601.8,1207.21 602.8,1202.19 603.8,1197.26 604.8,1192.54 605.8,1188.10 606.8,1183.99 607.8,1180.21 608.8,1176.71 609.8,1173.46 610.8,1170.41 611.8,1167.49 612.8,1164.68 613.8,1161.92 614.8,1159.18 615.8,1156.45 616.8,1153.70 617.8,1150.94 618.8,1148.15 619.8,1145.35 620.8,1142.54 621.8,1139.73 622.8,1136.92 623.8,1134.11 624.8,1131.32 625.8,1128.53 626.8,1125.75 627.8,1122.98 628.8,1120.22 629.8,1117.46 630.8,1114.70 631.8,1111.94 632.8,1109.18 633.8,1106.40 634.8,1103.58 635.8,1100.73 636.8,1097.81 637.8,1094.82 638.8,1091.74 639.8,1088.58 640.8,1085.33 641.8,1082.00 642.8,1078.62 643.8,1075.18 644.8,1071.71 645.8,1068.24 646.8,1064.77 647.8,1061.33 648.8,1057.94 649.8,1054.61 650.8,1051.37 651.8,1048.24 652.8,1045.24 653.8,1042.38 654.8,1039.69 655.8,1037.18 656.8,1034.88 657.8,1032.80 658.8,1030.96 659.8,1029.38 660.8,1028.08 661.8,1027.07 662.8,1026.36 663.8,1025.95 664.8,1025.83 665.8,1026.01 666.8,1026.47 667.8,1027.19 668.8,1028.16 669.8,1029.35 670.8,1030.76 671.8,1032.34 672.8,1034.10 673.8,1036.01 674.8,1038.04 675.8,1040.20 676.8,1042.47 677.8,1044.84 678.8,1047.34 679.8,1049.97 680.8,1052.76 681.8,1055.76 682.8,1058.98 683.8,1062.46 684.8,1066.22 685.8,1070.26 686.8,1074.57 687.8,1079.15 688.8,1083.98 689.8,1089.04 690.8,1094.31 691.8,1099.76 692.8,1105.39 693.8,1111.17 694.8,1117.08 695.8,1123.12 696.8,1129.28 697.8,1135.58 698.8,1142.04 699.8,1148.67 700.8,1155.51 701.8,1162.56 702.8,1169.81 703.8,1177.23 704.8,1184.78 705.8,1192.39 706.8,1200.02 707.8,1207.60 708.8,1215.11 709.8,1222.47 710.8,1229.66 711.8,1236.62 712.8,1243.32 713.8,1249.75 714.8,1255.89 715.8,1261.77 716.8,1267.43 717.8,1272.91 718.8,1278.24 719.8,1283.47 720.8,1288.62 721.8,1293.72 722.8,1298.78 723.8,1303.81 724.8,1308.84 725.8,1313.87 726.8,1318.93 727.8,1324.04 728.8,1329.19 729.8,1334.41 730.8,1339.68 731.8,1345.01 732.8,1350.37 733.8,1355.77 734.8,1361.16 735.8,1366.52 736.8,1371.81 737.8,1376.98 738.8,1381.97 739.8,1386.77 740.8,1391.34 741.8,1395.68 742.8,1399.81 743.8,1403.76 744.8,1407.55 745.8,1411.21 746.8,1414.76 747.8,1418.22 748.8,1421.60 749.8,1424.91 750.8,1428.15 751.8,1431.31 752.8,1434.40 753.8,1437.41 754.8,1440.35 755.8,1443.21 756.8,1445.99 757.8,1448.69 758.8,1451.30 759.8,1453.82 760.8,1456.23 761.8,1458.53 762.8,1460.71 763.8,1462.77 764.8,1464.71 765.8,1466.55 766.8,1468.29 767.8,1469.93 768.8,1471.47 769.8,1472.92 770.8,1474.27 771.8,1475.53 772.8,1476.71 773.8,1477.80 774.8,1478.82 775.8,1479.77 776.8,1480.67 777.8,1481.51 778.8,1482.30 779.8,1483.05 780.8,1483.76 781.8,1484.43 782.8,1485.07 783.8,1485.66 784.8,1486.23 785.8,1486.76 786.8,1487.28 787.8,1487.77 788.8,1488.24 789.8,1488.69 790.8,1489.12 791.8,1489.52 792.8,1489.88 793.8,1490.21 794.8,1490.49 795.8,1490.73 796.8,1490.91 797.8,1491.05 798.8,1491.15 799.8,1491.21 800.8,1491.26 801.8,1491.28 802.8,1491.29 803.8,1491.30 804.8,1491.30 805.8,1491.30 806.8,1491.30 807.8,1491.30 808.8,1491.30 809.8,1491.30 810.8,1491.30 811.8,1491.30 812.8,1491.30 813.8,1491.30 814.8,1491.30 815.8,1491.30 816.8,1491.30 817.8,1491.30 818.8,1491.30 819.8,1491.30 820.8,1491.30 821.8,1491.30 822.8,1491.30 823.8,1491.30 824.8,1491.30 825.8,1491.30 826.8,1491.30 827.8,1491.30 828.8,1491.30 829.8,1491.30 830.8,1491.30 831.8,1491.30 832.8,1491.30 833.8,1491.30 834.8,1491.30 835.8,1491.30 836.8,1491.30 837.8,1491.30 838.8,1491.30 839.8,1491.30 840.8,1491.30 841.8,1491.30 842.8,1491.30 843.8,1491.30 844.8,1491.30 845.8,1491.30 846.8,1491.30 847.8,1491.30 848.8,1491.30 849.8,1491.30 850.8,1491.30 851.8,1491.30 852.8,1491.30 853.8,1491.30 854.8,1491.30 855.8,1491.30 856.8,1491.30 857.8,1491.30 858.8,1491.30 859.8,1491.30 860.8,1491.30 861.8,1491.30 862.8,1491.30 863.8,1491.29 864.8,1491.28 865.8,1491.27 866.8,1491.24 867.8,1491.20 868.8,1491.13 869.8,1491.03 870.8,1490.91 871.8,1490.74 872.8,1490.55 873.8,1490.32 874.8,1490.06 875.8,1489.76 876.8,1489.44 877.8,1489.08 878.8,1488.68 879.8,1488.24 880.8,1487.75 881.8,1487.19 882.8,1486.58 883.8,1485.90 884.8,1485.17 885.8,1484.38 886.8,1483.53 887.8,1482.64 888.8,1481.71 889.8,1480.75 890.8,1479.76 891.8,1478.75 892.8,1477.72 893.8,1476.69 894.8,1475.65 895.8,1474.61 896.8,1473.58 897.8,1472.54 898.8,1471.52 899.8,1470.48 900.8,1469.44 901.8,1468.38 902.8,1467.29 903.8,1466.16 904.8,1465.00 905.8,1463.80 906.8,1462.58 907.8,1461.33 908.8,1460.07 909.8,1458.81 910.8,1457.55 911.8,1456.31 912.8,1455.10 913.8,1453.93 914.8,1452.81 915.8,1451.76 916.8,1450.77 917.8,1449.87 918.8,1449.06 919.8,1448.36 920.8,1447.77 921.8,1447.30 922.8,1446.96 923.8,1446.76 924.8,1446.70 925.8,1446.77 926.8,1446.97 927.8,1447.31 928.8,1447.77 929.8,1448.34 930.8,1449.02 931.8,1449.80 932.8,1450.66 933.8,1451.60 934.8,1452.61 935.8,1453.67 936.8,1454.79 937.8,1455.94 938.8,1457.12 939.8,1458.32 940.8,1459.53 941.8,1460.75 942.8,1461.95 943.8,1463.14 944.8,1464.30 945.8,1465.43 946.8,1466.52 947.8,1467.58 948.8,1468.61 949.8,1469.61 950.8,1470.60 951.8,1471.57 952.8,1472.55 953.8,1473.53 954.8,1474.51 955.8,1475.49 956.8,1476.48 957.8,1477.46 958.8,1478.43 959.8,1479.38 960.8,1480.31 961.8,1481.21 962.8,1482.08 963.8,1482.90 964.8,1483.68 965.8,1484.40 966.8,1485.07 967.8,1485.67 968.8,1486.21 969.8,1486.69 970.8,1487.12 971.8,1487.49 972.8,1487.83 973.8,1488.13 974.8,1488.41 975.8,1488.67 976.8,1488.91 977.8,1489.14 978.8,1489.37 979.8,1489.58 980.8,1489.78 981.8,1489.97 982.8,1490.15 983.8,1490.32 984.8,1490.48 985.8,1490.62 986.8,1490.75 987.8,1490.86 988.8,1490.96 989.8,1491.05 990.8,1491.12 991.8,1491.17 992.8,1491.22 993.8,1491.25 994.8,1491.27 995.8,1491.28 996.8,1491.29 997.8,1491.30 998.8,1491.30 999.8,1491.30 1000.8,1491.30 1001.8,1491.30 1002.8,1491.30 1003.8,1491.30 1004.8,1491.30 1005.8,1491.30 1006.8,1491.30 1007.8,1491.30 1008.8,1491.30 1009.8,1491.30 1010.8,1491.30 1011.8,1491.30 1012.8,1491.30 1013.8,1491.30 1014.8,1491.30 1015.8,1491.30 1016.8,1491.30 1017.8,1491.30 1018.8,1491.30 1019.8,1491.30 1020.8,1491.30 1021.8,1491.30 1022.8,1491.30 1023.8,1491.30 1024.8,1491.30 1025.8,1491.30 1026.8,1491.30 1027.8,1491.30 1028.8,1491.30 1029.8,1491.30 1030.8,1491.30 1031.8,1491.30 1032.8,1491.30 1033.8,1491.30 1034.8,1491.30 1035.8,1491.30 1036.8,1491.30 1037.8,1491.30 1038.8,1491.30 1039.8,1491.30 1040.8,1491.30 1041.8,1491.30" fill="none" stroke="#6495ed" stroke-width="3" stroke-linejoin="round"/><path d="M177.8,1480.48 178.8,1480.37 179.8,1480.25 180.8,1480.11 181.8,1479.97 182.8,1479.83 183.8,1479.69 184.8,1479.57 185.8,1479.46 186.8,1479.37 187.8,1479.29 188.8,1479.22 189.8,1479.17 190.8,1479.12 191.8,1479.08 192.8,1479.04 193.8,1479.01 194.8,1478.99 195.8,1478.97 196.8,1478.96 197.8,1478.96 198.8,1478.98 199.8,1479.01 200.8,1479.07 201.8,1479.16 202.8,1479.27 203.8,1479.42 204.8,1479.59 205.8,1479.79 206.8,1480.01 207.8,1480.25 208.8,1480.51 209.8,1480.78 210.8,1481.05 211.8,1481.33 212.8,1481.61 213.8,1481.90 214.8,1482.18 215.8,1482.47 216.8,1482.76 217.8,1483.06 218.8,1483.37 219.8,1483.68 220.8,1484.00 221.8,1484.32 222.8,1484.65 223.8,1484.97 224.8,1485.29 225.8,1485.61 226.8,1485.92 227.8,1486.21 228.8,1486.49 229.8,1486.76 230.8,1487.02 231.8,1487.27 232.8,1487.50 233.8,1487.73 234.8,1487.95 235.8,1488.17 236.8,1488.39 237.8,1488.60 238.8,1488.81 239.8,1489.01 240.8,1489.21 241.8,1489.40 242.8,1489.59 243.8,1489.76 244.8,1489.93 245.8,1490.08 246.8,1490.23 247.8,1490.36 248.8,1490.48 249.8,1490.58 250.8,1490.67 251.8,1490.75 252.8,1490.81 253.8,1490.86 254.8,1490.90 255.8,1490.92 256.8,1490.95 257.8,1490.96 258.8,1490.98 259.8,1490.99 260.8,1491.00 261.8,1491.01 262.8,1491.02 263.8,1491.03 264.8,1491.04 265.8,1491.05 266.8,1491.06 267.8,1491.07 268.8,1491.07 269.8,1491.08 270.8,1491.08 271.8,1491.09 272.8,1491.09 273.8,1491.10 274.8,1491.10 275.8,1491.10 276.8,1491.11 277.8,1491.11 278.8,1491.11 279.8,1491.10 280.8,1491.10 281.8,1491.09 282.8,1491.08 283.8,1491.06 284.8,1491.04 285.8,1491.02 286.8,1490.99 287.8,1490.95 288.8,1490.91 289.8,1490.87 290.8,1490.82 291.8,1490.77 292.8,1490.71 293.8,1490.65 294.8,1490.58 295.8,1490.51 296.8,1490.44 297.8,1490.36 298.8,1490.28 299.8,1490.20 300.8,1490.11 301.8,1490.02 302.8,1489.93 303.8,1489.83 304.8,1489.73 305.8,1489.63 306.8,1489.53 307.8,1489.42 308.8,1489.31 309.8,1489.20 310.8,1489.08 311.8,1488.95 312.8,1488.81 313.8,1488.65 314.8,1488.48 315.8,1488.29 316.8,1488.08 317.8,1487.85 318.8,1487.60 319.8,1487.34 320.8,1487.07 321.8,1486.78 322.8,1486.49 323.8,1486.20 324.8,1485.91 325.8,1485.63 326.8,1485.36 327.8,1485.09 328.8,1484.83 329.8,1484.58 330.8,1484.34 331.8,1484.10 332.8,1483.86 333.8,1483.63 334.8,1483.40 335.8,1483.16 336.8,1482.93 337.8,1482.70 338.8,1482.47 339.8,1482.25 340.8,1482.03 341.8,1481.82 342.8,1481.63 343.8,1481.44 344.8,1481.27 345.8,1481.11 346.8,1480.97 347.8,1480.85 348.8,1480.75 349.8,1480.66 350.8,1480.60 351.8,1480.55 352.8,1480.53 353.8,1480.52 354.8,1480.52 355.8,1480.54 356.8,1480.56 357.8,1480.60 358.8,1480.64 359.8,1480.69 360.8,1480.75 361.8,1480.81 362.8,1480.88 363.8,1480.95 364.8,1481.03 365.8,1481.10 366.8,1481.18 367.8,1481.26 368.8,1481.35 369.8,1481.43 370.8,1481.52 371.8,1481.60 372.8,1481.68 373.8,1481.76 374.8,1481.85 375.8,1481.93 376.8,1482.01 377.8,1482.10 378.8,1482.19 379.8,1482.28 380.8,1482.37 381.8,1482.47 382.8,1482.57 383.8,1482.67 384.8,1482.78 385.8,1482.88 386.8,1482.99 387.8,1483.10 388.8,1483.20 389.8,1483.30 390.8,1483.39 391.8,1483.48 392.8,1483.57 393.8,1483.65 394.8,1483.71 395.8,1483.77 396.8,1483.82 397.8,1483.84 398.8,1483.84 399.8,1483.81 400.8,1483.73 401.8,1483.60 402.8,1483.41 403.8,1483.15 404.8,1482.82 405.8,1482.43 406.8,1481.97 407.8,1481.46 408.8,1480.89 409.8,1480.28 410.8,1479.64 411.8,1478.98 412.8,1478.29 413.8,1477.59 414.8,1476.88 415.8,1476.16 416.8,1475.42 417.8,1474.67 418.8,1473.89 419.8,1473.09 420.8,1472.26 421.8,1471.40 422.8,1470.51 423.8,1469.58 424.8,1468.62 425.8,1467.63 426.8,1466.61 427.8,1465.56 428.8,1464.47 429.8,1463.36 430.8,1462.22 431.8,1461.05 432.8,1459.85 433.8,1458.63 434.8,1457.37 435.8,1456.07 436.8,1454.74 437.8,1453.36 438.8,1451.93 439.8,1450.45 440.8,1448.91 441.8,1447.29 442.8,1445.60 443.8,1443.82 444.8,1441.95 445.8,1439.95 446.8,1437.81 447.8,1435.51 448.8,1433.02 449.8,1430.33 450.8,1427.43 451.8,1424.33 452.8,1421.04 453.8,1417.62 454.8,1414.08 455.8,1410.45 456.8,1406.76 457.8,1403.02 458.8,1399.23 459.8,1395.39 460.8,1391.50 461.8,1387.56 462.8,1383.57 463.8,1379.52 464.8,1375.41 465.8,1371.24 466.8,1367.02 467.8,1362.73 468.8,1358.37 469.8,1353.94 470.8,1349.44 471.8,1344.86 472.8,1340.20 473.8,1335.46 474.8,1330.65 475.8,1325.76 476.8,1320.81 477.8,1315.80 478.8,1310.73 479.8,1305.62 480.8,1300.47 481.8,1295.27 482.8,1290.04 483.8,1284.78 484.8,1279.47 485.8,1274.13 486.8,1268.75 487.8,1263.32 488.8,1257.84 489.8,1252.32 490.8,1246.76 491.8,1241.17 492.8,1235.55 493.8,1229.92 494.8,1224.28 495.8,1218.64 496.8,1213.01 497.8,1207.39 498.8,1201.78 499.8,1196.19 500.8,1190.60 501.8,1185.01 502.8,1179.42 503.8,1173.83 504.8,1168.25 505.8,1162.67 506.8,1157.12 507.8,1151.60 508.8,1146.12 509.8,1140.70 510.8,1135.35 511.8,1130.08 512.8,1124.90 513.8,1119.79 514.8,1114.77 515.8,1109.81 516.8,1104.92 517.8,1100.09 518.8,1095.33 519.8,1090.66 520.8,1086.10 521.8,1081.69 522.8,1077.46 523.8,1073.43 524.8,1069.64 525.8,1066.08 526.8,1062.76 527.8,1059.65 528.8,1056.74 529.8,1054.02 530.8,1051.46 531.8,1049.07 532.8,1046.87 533.8,1044.87 534.8,1043.13 535.8,1041.66 536.8,1040.50 537.8,1039.67 538.8,1039.18 539.8,1039.01 540.8,1039.17 541.8,1039.61 542.8,1040.31 543.8,1041.25 544.8,1042.39 545.8,1043.69 546.8,1045.14 547.8,1046.71 548.8,1048.36 549.8,1050.08 550.8,1051.85 551.8,1053.66 552.8,1055.48 553.8,1057.33 554.8,1059.21 555.8,1061.13 556.8,1063.10 557.8,1065.12 558.8,1067.19 559.8,1069.31 560.8,1071.47 561.8,1073.65 562.8,1075.82 563.8,1077.96 564.8,1080.06 565.8,1082.08 566.8,1084.03 567.8,1085.89 568.8,1087.66 569.8,1089.34 570.8,1090.93 571.8,1092.46 572.8,1093.94 573.8,1095.38 574.8,1096.81 575.8,1098.25 576.8,1099.72 577.8,1101.24 578.8,1102.83 579.8,1104.52 580.8,1106.34 581.8,1108.32 582.8,1110.49 583.8,1112.90 584.8,1115.58 585.8,1118.55 586.8,1121.83 587.8,1125.42 588.8,1129.31 589.8,1133.45 590.8,1137.82 591.8,1142.40 592.8,1147.15 593.8,1152.06 594.8,1157.11 595.8,1162.28 596.8,1167.52 597.8,1172.78 598.8,1177.98 599.8,1183.06 600.8,1187.95 601.8,1192.61 602.8,1197.01 603.8,1201.16 604.8,1205.08 605.8,1208.82 606.8,1212.43 607.8,1215.98 608.8,1219.54 609.8,1223.17 610.8,1226.96 611.8,1230.97 612.8,1235.26 613.8,1239.89 614.8,1244.89 615.8,1250.26 616.8,1255.99 617.8,1262.03 618.8,1268.30 619.8,1274.71 620.8,1281.18 621.8,1287.61 622.8,1293.95 623.8,1300.13 624.8,1306.14 625.8,1311.97 626.8,1317.63 627.8,1323.11 628.8,1328.40 629.8,1333.50 630.8,1338.39 631.8,1343.03 632.8,1347.42 633.8,1351.54 634.8,1355.39 635.8,1358.99 636.8,1362.35 637.8,1365.50 638.8,1368.46 639.8,1371.24 640.8,1373.87 641.8,1376.35 642.8,1378.68 643.8,1380.88 644.8,1382.96 645.8,1384.92 646.8,1386.76 647.8,1388.50 648.8,1390.15 649.8,1391.73 650.8,1393.25 651.8,1394.73 652.8,1396.19 653.8,1397.66 654.8,1399.15 655.8,1400.68 656.8,1402.28 657.8,1403.95 658.8,1405.71 659.8,1407.56 660.8,1409.51 661.8,1411.54 662.8,1413.64 663.8,1415.78 664.8,1417.94 665.8,1420.08 666.8,1422.18 667.8,1424.20 668.8,1426.13 669.8,1427.94 670.8,1429.64 671.8,1431.21 672.8,1432.67 673.8,1434.05 674.8,1435.35 675.8,1436.60 676.8,1437.80 677.8,1438.96 678.8,1440.09 679.8,1441.18 680.8,1442.22 681.8,1443.22 682.8,1444.16 683.8,1445.04 684.8,1445.86 685.8,1446.60 686.8,1447.26 687.8,1447.84 688.8,1448.33 689.8,1448.72 690.8,1449.02 691.8,1449.22 692.8,1449.32 693.8,1449.33 694.8,1449.26 695.8,1449.11 696.8,1448.88 697.8,1448.59 698.8,1448.24 699.8,1447.84 700.8,1447.39 701.8,1446.90 702.8,1446.38 703.8,1445.82 704.8,1445.25 705.8,1444.66 706.8,1444.06 707.8,1443.45 708.8,1442.85 709.8,1442.25 710.8,1441.66 711.8,1441.10 712.8,1440.55 713.8,1440.04 714.8,1439.57 715.8,1439.13 716.8,1438.75 717.8,1438.41 718.8,1438.14 719.8,1437.93 720.8,1437.79 721.8,1437.72 722.8,1437.72 723.8,1437.79 724.8,1437.93 725.8,1438.15 726.8,1438.42 727.8,1438.76 728.8,1439.16 729.8,1439.60 730.8,1440.09 731.8,1440.62 732.8,1441.18 733.8,1441.78 734.8,1442.40 735.8,1443.05 736.8,1443.72 737.8,1444.43 738.8,1445.17 739.8,1445.97 740.8,1446.82 741.8,1447.74 742.8,1448.73 743.8,1449.78 744.8,1450.88 745.8,1452.02 746.8,1453.19 747.8,1454.35 748.8,1455.49 749.8,1456.60 750.8,1457.66 751.8,1458.66 752.8,1459.61 753.8,1460.50 754.8,1461.34 755.8,1462.15 756.8,1462.92 757.8,1463.66 758.8,1464.38 759.8,1465.07 760.8,1465.71 761.8,1466.32 762.8,1466.87 763.8,1467.36 764.8,1467.79 765.8,1468.14 766.8,1468.41 767.8,1468.60 768.8,1468.71 769.8,1468.75 770.8,1468.71 771.8,1468.61 772.8,1468.45 773.8,1468.25 774.8,1468.01 775.8,1467.75 776.8,1467.46 777.8,1467.17 778.8,1466.88 779.8,1466.59 780.8,1466.31 781.8,1466.03 782.8,1465.77 783.8,1465.52 784.8,1465.28 785.8,1465.04 786.8,1464.81 787.8,1464.58 788.8,1464.36 789.8,1464.15 790.8,1463.95 791.8,1463.78 792.8,1463.62 793.8,1463.50 794.8,1463.42 795.8,1463.38 796.8,1463.39 797.8,1463.47 798.8,1463.62 799.8,1463.85 800.8,1464.15 801.8,1464.52 802.8,1464.96 803.8,1465.46 804.8,1466.00 805.8,1466.58 806.8,1467.18 807.8,1467.80 808.8,1468.44 809.8,1469.08 810.8,1469.73 811.8,1470.40 812.8,1471.09 813.8,1471.80 814.8,1472.52 815.8,1473.27 816.8,1474.03 817.8,1474.80 818.8,1475.55 819.8,1476.30 820.8,1477.01 821.8,1477.69 822.8,1478.32 823.8,1478.89 824.8,1479.41 825.8,1479.87 826.8,1480.27 827.8,1480.62 828.8,1480.93 829.8,1481.20 830.8,1481.44 831.8,1481.66 832.8,1481.87 833.8,1482.05 834.8,1482.23 835.8,1482.40 836.8,1482.57 837.8,1482.73 838.8,1482.89 839.8,1483.06 840.8,1483.23 841.8,1483.40 842.8,1483.58 843.8,1483.77 844.8,1483.96 845.8,1484.16 846.8,1484.37 847.8,1484.58 848.8,1484.79 849.8,1485.01 850.8,1485.23 851.8,1485.45 852.8,1485.66 853.8,1485.88 854.8,1486.09 855.8,1486.29 856.8,1486.49 857.8,1486.69 858.8,1486.88 859.8,1487.06 860.8,1487.23 861.8,1487.39 862.8,1487.55 863.8,1487.71 864.8,1487.86 865.8,1488.00 866.8,1488.15 867.8,1488.28 868.8,1488.42 869.8,1488.55 870.8,1488.69 871.8,1488.82 872.8,1488.94 873.8,1489.07 874.8,1489.20 875.8,1489.33 876.8,1489.46 877.8,1489.59 878.8,1489.73 879.8,1489.87 880.8,1490.01 881.8,1490.15 882.8,1490.29 883.8,1490.43 884.8,1490.56 885.8,1490.67 886.8,1490.76 887.8,1490.83 888.8,1490.87 889.8,1490.89 890.8,1490.89 891.8,1490.88 892.8,1490.85 893.8,1490.80 894.8,1490.75 895.8,1490.68 896.8,1490.61 897.8,1490.53 898.8,1490.44 899.8,1490.35 900.8,1490.25 901.8,1490.14 902.8,1490.03 903.8,1489.91 904.8,1489.79 905.8,1489.67 906.8,1489.54 907.8,1489.41 908.8,1489.28 909.8,1489.15 910.8,1489.02 911.8,1488.89 912.8,1488.75 913.8,1488.62 914.8,1488.48 915.8,1488.34 916.8,1488.20 917.8,1488.05 918.8,1487.89 919.8,1487.72 920.8,1487.54 921.8,1487.35 922.8,1487.16 923.8,1486.96 924.8,1486.75 925.8,1486.55 926.8,1486.36 927.8,1486.17 928.8,1486.00 929.8,1485.84 930.8,1485.70 931.8,1485.58 932.8,1485.49 933.8,1485.42 934.8,1485.38 935.8,1485.38 936.8,1485.40 937.8,1485.46 938.8,1485.54 939.8,1485.65 940.8,1485.79 941.8,1485.95 942.8,1486.12 943.8,1486.32 944.8,1486.53 945.8,1486.75 946.8,1486.97 947.8,1487.20 948.8,1487.43 949.8,1487.66 950.8,1487.89 951.8,1488.11 952.8,1488.33 953.8,1488.54 954.8,1488.74 955.8,1488.94 956.8,1489.13 957.8,1489.33 958.8,1489.52 959.8,1489.71 960.8,1489.90 961.8,1490.08 962.8,1490.26 963.8,1490.41 964.8,1490.56 965.8,1490.69 966.8,1490.79 967.8,1490.88 968.8,1490.95 969.8,1491.00 970.8,1491.05 971.8,1491.08 972.8,1491.10 973.8,1491.12 974.8,1491.14 975.8,1491.15 976.8,1491.16 977.8,1491.18 978.8,1491.19 979.8,1491.20 980.8,1491.21 981.8,1491.22 982.8,1491.23 983.8,1491.24 984.8,1491.25 985.8,1491.25 986.8,1491.26 987.8,1491.27 988.8,1491.27 989.8,1491.28 990.8,1491.28 991.8,1491.29 992.8,1491.29 993.8,1491.29 994.8,1491.29 995.8,1491.30 996.8,1491.30 997.8,1491.30 998.8,1491.30 999.8,1491.30 1000.8,1491.30 1001.8,1491.30 1002.8,1491.30 1003.8,1491.30 1004.8,1491.30 1005.8,1491.30 1006.8,1491.30 1007.8,1491.30 1008.8,1491.30 1009.8,1491.30 1010.8,1491.30 1011.8,1491.30 1012.8,1491.30 1013.8,1491.30 1014.8,1491.30 1015.8,1491.30 1016.8,1491.30 1017.8,1491.30 1018.8,1491.30 1019.8,1491.30 1020.8,1491.30 1021.8,1491.30 1022.8,1491.30 1023.8,1491.30 1024.8,1491.30 1025.8,1491.30 1026.8,1491.30 1027.8,1491.30 1028.8,1491.30 1029.8,1491.30 1030.8,1491.30 1031.8,1491.30 1032.8,1491.30 1033.8,1491.30 1034.8,1491.30 1035.8,1491.30 1036.8,1491.30 1037.8,1491.30 1038.8,1491.30 1039.8,1491.30 1040.8,1491.30 1041.8,1491.30" fill="none" stroke="#000080" stroke-width="3" stroke-linejoin="round"/></g><g stroke="#000" stroke-width="1.8" fill="none"><path d="M177.8,917 V1492.2"/><path d="M177.8,1491.3 H1042"/><path d="M169.4,1491.3 H177.8"/><path d="M169.4,1336.3 H177.8"/><path d="M169.4,1181.3 H177.8"/><path d="M169.4,1026.3 H177.8"/><path d="M215.3,1491.3 V1499.5"/><path d="M324.1,1491.3 V1499.5"/><path d="M432.9,1491.3 V1499.5"/><path d="M541.7,1491.3 V1499.5"/><path d="M650.5,1491.3 V1499.5"/><path d="M759.3,1491.3 V1499.5"/><path d="M868.1,1491.3 V1499.5"/><path d="M542,917.9 V1491.3" stroke-width="2" stroke-dasharray="13,12.75" stroke-dashoffset="7.95"/></g><g font-family='"Liberation Sans", sans-serif' fill="#000"><text x="145.73" y="1500.50" font-size="29.8">0</text><text x="104.30" y="1345.50" font-size="29.8">0.25</text><text x="104.30" y="1190.50" font-size="29.8">0.50</text><text x="104.30" y="1035.50" font-size="29.8">0.75</text><path d="M200.70,1518.20H215.10" stroke="#000" stroke-width="1.90"/><text x="214.57" y="1525.80" font-size="29.3">3</text><path d="M309.50,1518.20H323.90" stroke="#000" stroke-width="1.90"/><text x="323.13" y="1525.80" font-size="29.3">2</text><path d="M417.80,1518.20H432.40" stroke="#000" stroke-width="1.90"/><path d="M440.20,1504.90H442.90V1525.80H440.20V1510.70H435.00V1508.80C437.60,1508.60 439.60,1507.40 440.20,1504.90Z"/><text x="533.55" y="1525.80" font-size="29.3">0</text><path d="M651.45,1504.90H654.15V1525.80H651.45V1510.70H646.25V1508.80C648.85,1508.60 650.85,1507.40 651.45,1504.90Z"/><text x="751.15" y="1525.80" font-size="29.3">2</text><text x="859.95" y="1525.80" font-size="29.3">3</text><text x="611" y="1564.1" font-size="29.1" text-anchor="middle">Apparent activation energy (eV)</text><text transform="translate(57,1218.5) rotate(-90)" font-size="29.6" text-anchor="middle">Kernel density</text><rect x="249.70000000000002" y="930.7" width="25.8" height="25.7" fill="#6b8e23" fill-opacity="0.2" stroke="#6b8e23" stroke-width="2.8"/><text x="290.5" y="953.0" font-size="29.9">Rice paddies</text><rect x="249.70000000000002" y="983.0" width="25.8" height="25.7" fill="#3cb371" fill-opacity="0.2" stroke="#3cb371" stroke-width="2.8"/><text x="290.5" y="1005.3" font-size="29.9">Wetlands</text><rect x="249.70000000000002" y="1035.3" width="25.8" height="25.7" fill="#6495ed" fill-opacity="0.2" stroke="#6495ed" stroke-width="2.8"/><text x="290.5" y="1057.6" font-size="29.9">Lakes</text><rect x="249.70000000000002" y="1087.6" width="25.8" height="25.7" fill="#000080" fill-opacity="0.2" stroke="#000080" stroke-width="2.8"/><text x="290.5" y="1109.9" font-size="29.9">Rivers</text></g></svg>
</body></html>
